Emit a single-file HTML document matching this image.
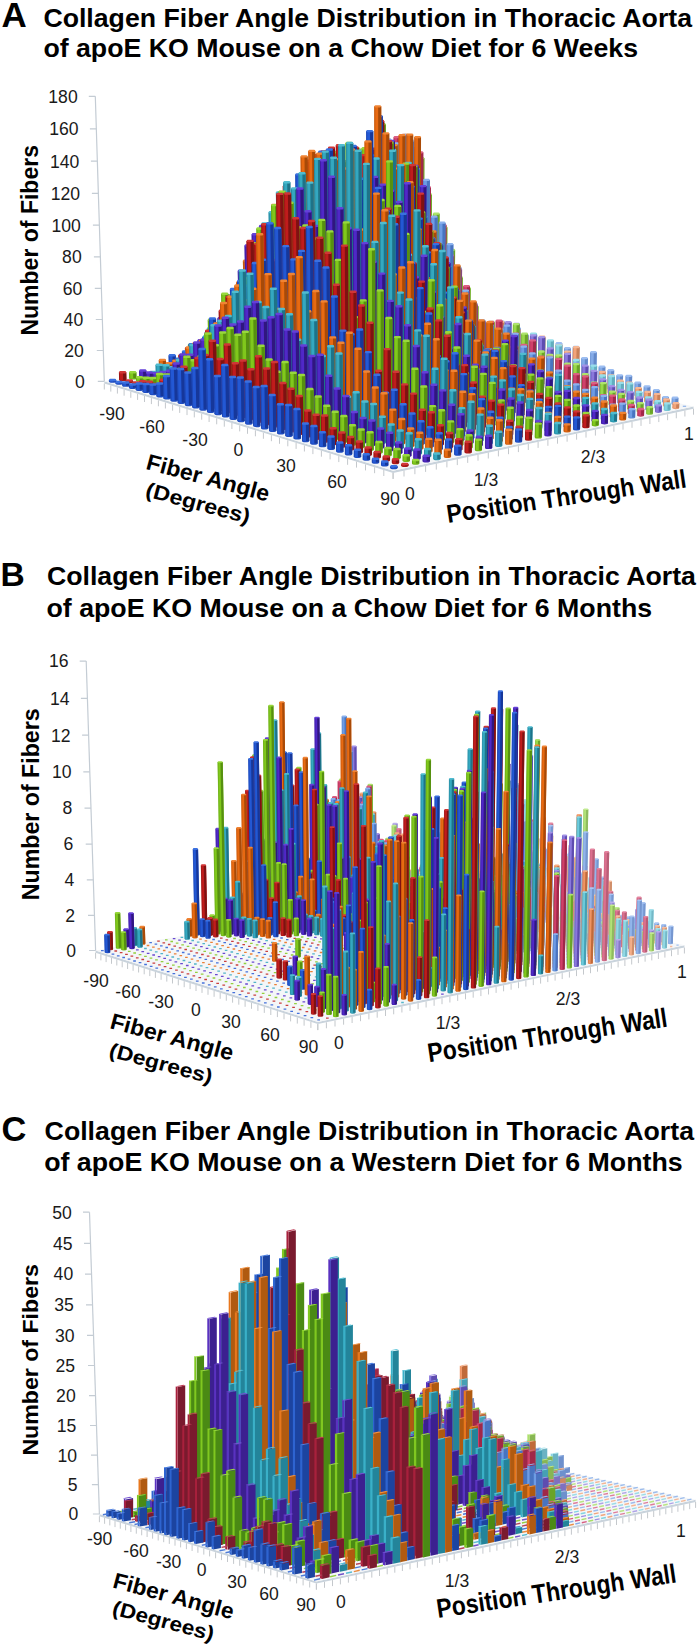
<!DOCTYPE html><html><head><meta charset="utf-8"><style>html,body{margin:0;padding:0;background:#fff;overflow:hidden}svg{display:block;font-family:"Liberation Sans",sans-serif}</style></head><body><svg width="700" height="1647" viewBox="0 0 700 1647"><text x="1.4" y="27.0" font-size="34.96" font-weight="bold">A</text><text x="43.4" y="27.2" font-size="25.27" font-weight="bold" textLength="648.6" lengthAdjust="spacingAndGlyphs">Collagen Fiber Angle Distribution in Thoracic Aorta</text><text x="43.4" y="57.0" font-size="25.80" font-weight="bold" textLength="594.6" lengthAdjust="spacingAndGlyphs">of apoE KO Mouse on a Chow Diet for 6 Weeks</text><text x="0.4" y="586.3" font-size="33.60" font-weight="bold">B</text><text x="46.9" y="585.3" font-size="25.27" font-weight="bold" textLength="649.0" lengthAdjust="spacingAndGlyphs">Collagen Fiber Angle Distribution in Thoracic Aorta</text><text x="46.5" y="616.5" font-size="25.80" font-weight="bold" textLength="605.6" lengthAdjust="spacingAndGlyphs">of apoE KO Mouse on a Chow Diet for 6 Months</text><text x="1.4" y="1140.8" font-size="34.43" font-weight="bold">C</text><text x="44.6" y="1140.4" font-size="25.27" font-weight="bold" textLength="649.4" lengthAdjust="spacingAndGlyphs">Collagen Fiber Angle Distribution in Thoracic Aorta</text><text x="44.2" y="1171.0" font-size="25.80" font-weight="bold" textLength="638.4" lengthAdjust="spacingAndGlyphs">of apoE KO Mouse on a Western Diet for 6 Months</text><text x="38.5" y="335.6" font-size="24.19" font-weight="bold" textLength="190.6" lengthAdjust="spacingAndGlyphs" transform="rotate(-90.00 38.5 335.6)">Number of Fibers</text><text x="39.5" y="900.2" font-size="24.17" font-weight="bold" textLength="191.8" lengthAdjust="spacingAndGlyphs" transform="rotate(-90.00 39.5 900.2)">Number of Fibers</text><text x="38.5" y="1455.6" font-size="21.98" font-weight="bold" textLength="191.5" lengthAdjust="spacingAndGlyphs" transform="rotate(-90.00 38.5 1455.6)">Number of Fibers</text><text x="145.1" y="468.8" font-size="22.47" font-weight="bold" textLength="126.4" lengthAdjust="spacingAndGlyphs" transform="rotate(15.00 145.1 468.8)">Fiber Angle</text><text x="144.5" y="496.1" font-size="20.67" font-weight="bold" textLength="107.2" lengthAdjust="spacingAndGlyphs" transform="rotate(15.00 144.5 496.1)">(Degrees)</text><text x="448.0" y="523.0" font-size="25.75" font-weight="bold" textLength="242.0" lengthAdjust="spacingAndGlyphs" transform="rotate(-8.50 448.0 523.0)">Position Through Wall</text><text x="108.9" y="1027.9" font-size="22.42" font-weight="bold" textLength="126.6" lengthAdjust="spacingAndGlyphs" transform="rotate(15.00 108.9 1027.9)">Fiber Angle</text><text x="108.1" y="1056.3" font-size="20.14" font-weight="bold" textLength="106.0" lengthAdjust="spacingAndGlyphs" transform="rotate(15.00 108.1 1056.3)">(Degrees)</text><text x="429.0" y="1062.3" font-size="26.86" font-weight="bold" textLength="242.0" lengthAdjust="spacingAndGlyphs" transform="rotate(-8.50 429.0 1062.3)">Position Through Wall</text><text x="111.8" y="1587.2" font-size="22.22" font-weight="bold" textLength="124.1" lengthAdjust="spacingAndGlyphs" transform="rotate(15.00 111.8 1587.2)">Fiber Angle</text><text x="111.3" y="1614.0" font-size="20.33" font-weight="bold" textLength="104.3" lengthAdjust="spacingAndGlyphs" transform="rotate(15.00 111.3 1614.0)">(Degrees)</text><text x="438.0" y="1618.0" font-size="26.74" font-weight="bold" textLength="242.0" lengthAdjust="spacingAndGlyphs" transform="rotate(-8.50 438.0 1618.0)">Position Through Wall</text>
<path d="M104.3 381.3L393.1 470.7L693.5 406.5L693.5 408.7L393.1 472.9L104.3 383.5z" fill="#c9d3dc"/>
<path d="M104.3 381.3L393.1 470.7L693.5 406.5L389.4 335.6z" fill="#f4f6f8"/>
<path d="M104.3 383.5v6M110.8 385.6v6M117.4 387.6v6M124.1 389.7v6M130.8 391.8v6M137.6 393.9v6M144.5 396v6M151.4 398.1v6M158.4 400.3v6M165.4 402.5v6M172.6 404.7v6M179.7 406.9v6M187 409.1v6M194.3 411.4v6M201.7 413.7v6M209.1 416v6M216.7 418.3v6M224.3 420.7v6M231.9 423v6M239.7 425.4v6M247.5 427.8v6M255.4 430.3v6M263.4 432.8v6M271.4 435.2v6M279.5 437.8v6M287.8 440.3v6M296.1 442.9v6M304.4 445.5v6M312.9 448.1v6M321.4 450.7v6M330.1 453.4v6M338.8 456.1v6M347.6 458.8v6M356.5 461.6v6M365.5 464.4v6M374.6 467.2v6M383.8 470v6M393.1 472.9v6M393.1 472.9v6M404 470.5v6M414.9 468.2v6M425.6 465.9v6M436.3 463.6v6M446.9 461.4v6M457.3 459.1v6M467.7 456.9v6M478 454.7v6M488.3 452.5v6M498.4 450.4v6M508.5 448.2v6M518.4 446.1v6M528.3 444v6M538.1 441.9v6M547.9 439.8v6M557.5 437.7v6M567.1 435.7v6M576.6 433.7v6M586 431.6v6M595.4 429.6v6M604.6 427.7v6M613.9 425.7v6M623 423.7v6M632 421.8v6M641 419.9v6M649.9 418v6M658.8 416.1v6M667.6 414.2v6M676.3 412.3v6M684.9 410.5v6M693.5 408.7v6" stroke="#c4c8cc" stroke-width="1" fill="none"/>
<path transform="scale(1 0.3400)" stroke="#789fdd" stroke-width="6.6" stroke-linecap="round" d="M388.8 991.3h0M395.8 996.2h0M403 1001.1h0M410.1 1006h0M417.4 1011h0M424.7 1016h0M432 1021.1h0M439.4 1026.2h0M446.9 1031.3h0M454.4 1036.5h0M462 1041.8h0M469.7 1047h0M477.4 1052.3h0M485.2 1057.7h0M493 1063.1h0M501 1068.6h0M509 1074.1h0M517 1079.6h0M525.1 1085.2h0M533.3 1090.9h0M541.6 1096.5h0M550 1102.3h0M558.4 1108.1h0M566.9 1113.9h0M575.4 1119.8h0M584.1 1125.8h0M592.8 1131.8h0M601.6 1137.8h0M610.5 1143.9h0M619.4 1150.1h0M628.4 1156.3h0M637.6 1162.6h0M646.8 1168.9h0M656.1 1175.3h0M665.4 1181.8h0M674.9 1188.3h0"/>
<path stroke="#84abe8" stroke-width="6.6" d="M388.8 318.9l0 18.1M395.9 295.1l-0 43.6M403.1 236.7l-.1 103.6M410.5 163.9l-.4 178.1M417.9 172.2l-.5 171.5M425.2 199.7l-.5 145.7M432.5 239l-.5 108.2M440 244.7l-.5 104.2M447.4 263.6l-.5 87M454.9 287l-.5 65.4M462.4 304.7l-.4 49.5M470 321l-.3 35M477.6 338.8l-.2 19M485.3 349.3l-.1 10.3M493.2 348.2l-.1 13.3M501.5 321.7l-.5 41.6M509.4 333.9l-.4 31.3M517.6 328.2l-.5 38.9M525.6 335.9l-.5 33M533.9 334.7l-.6 36.2M542.2 338l-.6 34.8M550.5 341.3l-.6 33.4M559 343.2l-.6 33.6M567.4 348.1l-.6 30.6M576.1 346.9l-.7 33.9M584.6 358.1l-.5 24.7M593.5 352.2l-.7 32.6M602 366.6l-.5 20.2M610.9 370.2l-.5 18.8M619.8 375.3l-.4 15.7M628.9 375.8l-.5 17.3M637.9 382.6l-.3 12.7M647.1 386.3l-.3 11.1M656.3 390l-.3 9.6M665.6 397l-.1 4.8M675.1 397.6l-.2 6.4"/>
<path stroke="#6389c9" stroke-width="3" d="M390.6 318.9l0 18.1M397.7 295.1l-0 43.6M404.9 236.7l-.1 103.6M412.3 163.9l-.4 178.1M419.7 172.2l-.5 171.5M427 199.7l-.5 145.7M434.3 239l-.5 108.2M441.8 244.7l-.5 104.2M449.2 263.6l-.5 87M456.7 287l-.5 65.4M464.2 304.7l-.4 49.5M471.8 321l-.3 35M479.4 338.8l-.2 19M487.1 349.3l-.1 10.3M495 348.2l-.1 13.3M503.3 321.7l-.5 41.6M511.2 333.9l-.4 31.3M519.4 328.2l-.5 38.9M527.4 335.9l-.5 33M535.7 334.7l-.6 36.2M544 338l-.6 34.8M552.3 341.3l-.6 33.4M560.8 343.2l-.6 33.6M569.3 348.1l-.6 30.6M577.9 346.9l-.7 33.9M586.4 358.1l-.5 24.7M595.3 352.2l-.7 32.6M603.9 366.6l-.5 20.2M612.7 370.2l-.5 18.8M621.6 375.3l-.4 15.7M630.7 375.8l-.5 17.3M639.7 382.6l-.3 12.7M648.9 386.3l-.3 11.1M658.1 390l-.3 9.6M667.4 397l-.1 4.8M676.9 397.6l-.2 6.4"/>
<path stroke="#7298d7" stroke-width=".9" d="M385.9 318.9l0 18.1M393 295.1l-0 43.6M400.3 236.7l-.1 103.6M407.7 163.9l-.4 178.1M415 172.2l-.5 171.5M422.4 199.7l-.5 145.7M429.7 239l-.5 108.2M437.1 244.7l-.5 104.2M444.6 263.6l-.5 87M452 287l-.5 65.4M459.6 304.7l-.4 49.5M467.1 321l-.3 35M474.8 338.8l-.2 19M482.5 349.3l-.1 10.3M490.4 348.2l-.1 13.3M498.6 321.7l-.5 41.6M506.5 333.9l-.4 31.3M514.7 328.2l-.5 38.9M522.8 335.9l-.5 33M531.1 334.7l-.6 36.2M539.4 338l-.6 34.8M547.7 341.3l-.6 33.4M556.2 343.2l-.6 33.6M564.6 348.1l-.6 30.6M573.3 346.9l-.7 33.9M581.8 358.1l-.5 24.7M590.7 352.2l-.7 32.6M599.2 366.6l-.5 20.2M608.1 370.2l-.5 18.8M617 375.3l-.4 15.7M626.1 375.8l-.5 17.3M635.1 382.6l-.3 12.7M644.2 386.3l-.3 11.1M653.5 390l-.3 9.6M662.7 397l-.1 4.8M672.3 397.6l-.2 6.4"/>
<path stroke="#9dbef1" stroke-width="2.2" stroke-linecap="round" d="M386.7 318.9h4.1M393.8 295.1h4.1M401 236.7h4.1M408.4 163.9h4.1M415.8 172.2h4.1M423.1 199.7h4.1M430.4 239h4.1M437.9 244.7h4.1M445.3 263.6h4.1M452.8 287h4.1M460.3 304.7h4.1M467.9 321h4.1M475.5 338.8h4.1M483.2 349.3h4.1M491.1 348.2h4.1M499.4 321.7h4.1M507.3 333.9h4.1M515.5 328.2h4.1M523.6 335.9h4.1M531.8 334.7h4.1M540.1 338h4.1M548.5 341.3h4.1M556.9 343.2h4.1M565.4 348.1h4.1M574 346.9h4.1M582.5 358.1h4.1M591.4 352.2h4.1M600 366.6h4.1M608.8 370.2h4.1M617.7 375.3h4.1M626.8 375.8h4.1M635.8 382.6h4.1M645 386.3h4.1M654.3 390h4.1M663.5 397h4.1M673 397.6h4.1"/>
<path stroke="#96b8eb" stroke-width="1.3" d="M682.8 406.3h3.3"/>
<path transform="scale(1 0.3400)" stroke="#e4976e" stroke-width="6.6" stroke-linecap="round" d="M380.4 995.3h0M387.5 1000.2h0M394.6 1005.1h0M401.8 1010.1h0M409 1015.1h0M416.3 1020.1h0M423.6 1025.2h0M431 1030.4h0M438.5 1035.5h0M446 1040.8h0M453.6 1046h0M461.2 1051.3h0M468.9 1056.7h0M476.7 1062.1h0M484.6 1067.5h0M492.5 1073h0M500.5 1078.6h0M508.5 1084.2h0M516.6 1089.8h0M524.8 1095.5h0M533.1 1101.2h0M541.4 1107h0M549.8 1112.8h0M558.3 1118.7h0M566.9 1124.7h0M575.5 1130.6h0M584.2 1136.7h0M593 1142.8h0M601.9 1148.9h0M610.8 1155.2h0M619.9 1161.4h0M629 1167.8h0M638.2 1174.1h0M647.5 1180.6h0M656.8 1187.1h0M666.3 1193.6h0M675.8 1200.3h0"/>
<path stroke="#f2a47a" stroke-width="6.6" d="M380.4 320.2l0 18.2M387.5 310.5l0 29.6M394.6 276.5l-0 65.2M401.9 210l-.2 133.4M409.3 164.2l-.4 180.9M416.7 191.8l-.4 155M424.2 192.9l-.6 155.6M431.5 238.4l-.5 111.9M439 244.1l-.6 107.9M446.5 261.8l-.6 92.1M454.1 283.9l-.5 71.8M461.6 303.2l-.4 54.3M469.3 319.6l-.3 39.7M477 337.5l-.2 23.6M484.7 349.7l-.1 13.3M492.7 348.5l-.2 16.3M501 321.8l-.5 44.9M508.9 337.1l-.4 31.5M517.2 329.8l-.6 40.7M525.4 336.1l-.5 36.3M533.7 334.9l-.6 39.5M542.1 336.7l-.7 39.7M550.5 341.6l-.6 36.8M559 345l-.6 35.4M567.5 351.5l-.6 30.9M576.3 347.2l-.8 37.2M584.6 367.8l-.4 18.7M593.5 368.2l-.4 20.3M602.3 371.8l-.4 18.8M611.2 375.4l-.4 17.3M620.2 380.7l-.4 14.2M629.3 382.7l-.4 14.3M638.5 388l-.3 11.2M647.7 391.8l-.3 9.6M657.1 394l-.3 9.7M666.5 399.4l-.2 6.5M676 403.2l-.2 4.9"/>
<path stroke="#c98058" stroke-width="3" d="M382.2 320.2l0 18.2M389.3 310.5l0 29.6M396.4 276.5l-0 65.2M403.7 210l-.2 133.4M411.2 164.2l-.4 180.9M418.5 191.8l-.4 155M426 192.9l-.6 155.6M433.3 238.4l-.5 111.9M440.8 244.1l-.6 107.9M448.4 261.8l-.6 92.1M455.9 283.9l-.5 71.8M463.5 303.2l-.4 54.3M471.1 319.6l-.3 39.7M478.8 337.5l-.2 23.6M486.5 349.7l-.1 13.3M494.5 348.5l-.2 16.3M502.8 321.8l-.5 44.9M510.7 337.1l-.4 31.5M519 329.8l-.6 40.7M527.2 336.1l-.5 36.3M535.5 334.9l-.6 39.5M543.9 336.7l-.7 39.7M552.3 341.6l-.6 36.8M560.8 345l-.6 35.4M569.3 351.5l-.6 30.9M578.1 347.2l-.8 37.2M586.4 367.8l-.4 18.7M595.3 368.2l-.4 20.3M604.1 371.8l-.4 18.8M613.1 375.4l-.4 17.3M622 380.7l-.4 14.2M631.2 382.7l-.4 14.3M640.3 388l-.3 11.2M649.5 391.8l-.3 9.6M658.9 394l-.3 9.7M668.3 399.4l-.2 6.5M677.8 403.2l-.2 4.9"/>
<path stroke="#db9067" stroke-width=".9" d="M377.6 320.2l0 18.2M384.6 310.5l0 29.6M391.8 276.5l-0 65.2M399.1 210l-.2 133.4M406.5 164.2l-.4 180.9M413.9 191.8l-.4 155M421.3 192.9l-.6 155.6M428.7 238.4l-.5 111.9M436.2 244.1l-.6 107.9M443.7 261.8l-.6 92.1M451.2 283.9l-.5 71.8M458.8 303.2l-.4 54.3M466.4 319.6l-.3 39.7M474.1 337.5l-.2 23.6M481.9 349.7l-.1 13.3M489.8 348.5l-.2 16.3M498.2 321.8l-.5 44.9M506.1 337.1l-.4 31.5M514.4 329.8l-.6 40.7M522.5 336.1l-.5 36.3M530.9 334.9l-.6 39.5M539.2 336.7l-.7 39.7M547.6 341.6l-.6 36.8M556.1 345l-.6 35.4M564.6 351.5l-.6 30.9M573.4 347.2l-.8 37.2M581.8 367.8l-.4 18.7M590.6 368.2l-.4 20.3M599.5 371.8l-.4 18.8M608.4 375.4l-.4 17.3M617.4 380.7l-.4 14.2M626.5 382.7l-.4 14.3M635.6 388l-.3 11.2M644.9 391.8l-.3 9.6M654.3 394l-.3 9.7M663.6 399.4l-.2 6.5M673.1 403.2l-.2 4.9"/>
<path stroke="#f7b793" stroke-width="2.2" stroke-linecap="round" d="M378.3 320.2h4.2M385.4 310.5h4.2M392.5 276.5h4.2M399.8 210h4.2M407.3 164.2h4.2M414.6 191.8h4.2M422.1 192.9h4.2M429.4 238.4h4.2M437 244.1h4.2M444.5 261.8h4.2M452 283.9h4.2M459.6 303.2h4.2M467.2 319.6h4.2M474.9 337.5h4.2M482.6 349.7h4.2M490.6 348.5h4.2M498.9 321.8h4.2M506.8 337.1h4.2M515.1 329.8h4.2M523.3 336.1h4.2M531.6 334.9h4.2M540 336.7h4.2M548.4 341.6h4.2M556.9 345h4.2M565.4 351.5h4.2M574.2 347.2h4.2M582.5 367.8h4.2M591.4 368.2h4.2M600.2 371.8h4.2M609.2 375.4h4.2M618.1 380.7h4.2M627.3 382.7h4.2M636.4 388h4.2M645.6 391.8h4.2M655 394h4.2M664.4 399.4h4.2M673.9 403.2h4.2"/>
<path transform="scale(1 0.3400)" stroke="#77c7d5" stroke-width="6.6" stroke-linecap="round" d="M372.1 999.3h0M379.1 1004.2h0M386.2 1009.1h0M393.3 1014.1h0M400.6 1019.2h0M407.8 1024.3h0M415.2 1029.4h0M422.5 1034.6h0M430 1039.8h0M437.5 1045h0M445.1 1050.3h0M452.7 1055.7h0M460.4 1061.1h0M468.2 1066.5h0M476 1072h0M484 1077.5h0M491.9 1083.1h0M500 1088.7h0M508.1 1094.4h0M516.3 1100.1h0M524.5 1105.9h0M532.8 1111.7h0M541.2 1117.6h0M549.7 1123.5h0M558.3 1129.5h0M566.9 1135.6h0M575.6 1141.6h0M584.4 1147.8h0M593.2 1154h0M602.2 1160.3h0M611.2 1166.6h0M620.3 1172.9h0M629.5 1179.4h0M638.8 1185.9h0M648.2 1192.4h0M657.6 1199h0M667.1 1205.7h0"/>
<path stroke="#82d4e1" stroke-width="6.6" d="M372 328.5l0 11.2M379.1 323.1l0 18.3M386.2 297.7l0 45.4M393.4 227l-0 117.8M400.7 187.2l-.2 159.3M408.2 163.1l-.3 185.2M415.6 179l-.5 171M423.1 186l-.6 165.7M430.5 234.9l-.5 118.7M438.1 243.6l-.6 111.7M445.7 258.4l-.6 98.7M453.3 282.2l-.5 76.8M460.9 301.6l-.4 59.2M468.6 318.1l-.4 44.5M476.3 334.8l-.3 29.7M484.1 350l-.2 16.4M492.1 348.8l-.2 19.5M500.5 329.5l-.5 40.7M508.5 337.3l-.4 34.8M516.8 331.5l-.6 42.5M525.1 334.8l-.6 41.2M533.5 333.6l-.7 44.4M541.9 338.5l-.7 41.5M550.4 340.3l-.7 41.7M559 345.3l-.7 38.8M567.4 361.2l-.5 24.9M576.2 360l-.6 28.1M584.9 366.7l-.5 23.5M593.8 365.6l-.6 26.8M602.6 375.5l-.4 19M611.7 376l-.5 20.6M620.7 382.9l-.4 15.9M630 383.4l-.5 17.6M639.1 391.9l-.3 11.3M648.4 397.3l-.2 8.1M657.8 401.2l-.2 6.5M667.3 403.4l-.2 6.5"/>
<path stroke="#62aebf" stroke-width="3" d="M373.9 328.5l0 11.2M380.9 323.1l0 18.3M388 297.7l0 45.4M395.2 227l-0 117.8M402.5 187.2l-.2 159.3M410 163.1l-.3 185.2M417.4 179l-.5 171M424.9 186l-.6 165.7M432.3 234.9l-.5 118.7M439.9 243.6l-.6 111.7M447.5 258.4l-.6 98.7M455.1 282.2l-.5 76.8M462.7 301.6l-.4 59.2M470.4 318.1l-.4 44.5M478.1 334.8l-.3 29.7M485.9 350l-.2 16.4M494 348.8l-.2 19.5M502.3 329.5l-.5 40.7M510.3 337.3l-.4 34.8M518.7 331.5l-.6 42.5M526.9 334.8l-.6 41.2M535.4 333.6l-.7 44.4M543.7 338.5l-.7 41.5M552.3 340.3l-.7 41.7M560.8 345.3l-.7 38.8M569.2 361.2l-.5 24.9M578 360l-.6 28.1M586.7 366.7l-.5 23.5M595.7 365.6l-.6 26.8M604.4 375.5l-.4 19M613.5 376l-.5 20.6M622.5 382.9l-.4 15.9M631.8 383.4l-.5 17.6M640.9 391.9l-.3 11.3M650.2 397.3l-.2 8.1M659.6 401.2l-.2 6.5M669.2 403.4l-.2 6.5"/>
<path stroke="#70bfce" stroke-width=".9" d="M369.2 328.5l0 11.2M376.2 323.1l0 18.3M383.3 297.7l0 45.4M390.5 227l-0 117.8M397.9 187.2l-.2 159.3M405.3 163.1l-.3 185.2M412.8 179l-.5 171M420.3 186l-.6 165.7M427.7 234.9l-.5 118.7M435.2 243.6l-.6 111.7M442.8 258.4l-.6 98.7M450.4 282.2l-.5 76.8M458 301.6l-.4 59.2M465.7 318.1l-.4 44.5M473.5 334.8l-.3 29.7M481.3 350l-.2 16.4M489.3 348.8l-.2 19.5M497.6 329.5l-.5 40.7M505.7 337.3l-.4 34.8M514 331.5l-.6 42.5M522.3 334.8l-.6 41.2M530.7 333.6l-.7 44.4M539.1 338.5l-.7 41.5M547.6 340.3l-.7 41.7M556.1 345.3l-.7 38.8M564.5 361.2l-.5 24.9M573.3 360l-.6 28.1M582 366.7l-.5 23.5M591 365.6l-.6 26.8M599.8 375.5l-.4 19M608.9 376l-.5 20.6M617.9 382.9l-.4 15.9M627.1 383.4l-.5 17.6M636.2 391.9l-.3 11.3M645.5 397.3l-.2 8.1M654.9 401.2l-.2 6.5M664.5 403.4l-.2 6.5"/>
<path stroke="#9adeea" stroke-width="2.3" stroke-linecap="round" d="M370 328.5h4.2M377 323.1h4.2M384.1 297.7h4.2M391.3 227h4.2M398.6 187.2h4.2M406.1 163.1h4.2M413.5 179h4.2M421 186h4.2M428.4 234.9h4.2M436 243.6h4.2M443.6 258.4h4.2M451.2 282.2h4.2M458.8 301.6h4.2M466.5 318.1h4.2M474.2 334.8h4.2M482 350h4.2M490.1 348.8h4.2M498.4 329.5h4.2M506.4 337.3h4.2M514.8 331.5h4.2M523 334.8h4.2M531.4 333.6h4.2M539.8 338.5h4.2M548.4 340.3h4.2M556.9 345.3h4.2M565.3 361.2h4.2M574.1 360h4.2M582.8 366.7h4.2M591.7 365.6h4.2M600.5 375.5h4.2M609.6 376h4.2M618.6 382.9h4.2M627.9 383.4h4.2M637 391.9h4.2M646.3 397.3h4.2M655.7 401.2h4.2M665.3 403.4h4.2"/>
<path transform="scale(1 0.3400)" stroke="#7b69cd" stroke-width="6.6" stroke-linecap="round" d="M363.6 1003.3h0M370.6 1008.2h0M377.7 1013.2h0M384.9 1018.2h0M392.1 1023.3h0M399.3 1028.4h0M406.6 1033.6h0M414 1038.8h0M421.5 1044.1h0M429 1049.4h0M436.5 1054.7h0M444.2 1060.1h0M451.9 1065.5h0M459.6 1071h0M467.5 1076.5h0M475.4 1082.1h0M483.3 1087.7h0M491.4 1093.4h0M499.5 1099.1h0M507.6 1104.8h0M515.9 1110.6h0M524.2 1116.5h0M532.6 1122.4h0M541.1 1128.4h0M549.6 1134.4h0M558.2 1140.5h0M566.9 1146.6h0M575.7 1152.8h0M584.5 1159.1h0M593.5 1165.4h0M602.5 1171.7h0M611.6 1178.2h0M620.8 1184.6h0M630.1 1191.2h0M639.4 1197.8h0M648.9 1204.4h0M658.4 1211.2h0"/>
<path stroke="#8a78dc" stroke-width="6.6" d="M363.6 332.7l0 8.4M370.6 328.7l0 14.1M377.7 313.2l0 31.3M384.8 278.8l0 67.4M392.1 180.7l-0 167.2M399.5 165.4l-.2 184.3M407 163.4l-.3 188M414.5 165.9l-.5 187.3M421.9 224l-.4 131M429.5 226.8l-.5 130M437.1 243.1l-.6 115.5M444.8 256.5l-.6 104M452.4 280.4l-.5 81.8M460.1 300l-.5 64.1M467.9 316.7l-.4 49.3M475.7 334.9l-.3 33M483.5 350.3l-.2 19.5M491.6 349.1l-.2 22.6M499.8 347.9l-.3 25.8M508.3 322.2l-.7 53.4M516.6 324l-.7 53.6M524.8 335l-.6 44.6M533.3 335.3l-.7 46.3M541.8 337.1l-.8 46.5M550.2 348.4l-.6 37.3M558.8 356.5l-.6 31.2M567.6 353.8l-.7 36.1M576.3 363.6l-.6 28.3M585.1 365.6l-.6 28.5M594 370.8l-.6 25.4M602.9 379.3l-.4 19.1M611.9 386.2l-.3 14.4M621.1 389.9l-.3 12.9M630.4 392.1l-.3 12.9M639.7 397.5l-.3 9.7M649.1 399.7l-.3 9.8M658.6 405.3l-.2 6.5"/>
<path stroke="#5e4cb0" stroke-width="3" d="M365.4 332.7l0 8.4M372.4 328.7l0 14.1M379.5 313.2l0 31.3M386.7 278.8l0 67.4M393.9 180.7l-0 167.2M401.3 165.4l-.2 184.3M408.8 163.4l-.3 188M416.3 165.9l-.5 187.3M423.7 224l-.4 131M431.3 226.8l-.5 130M438.9 243.1l-.6 115.5M446.6 256.5l-.6 104M454.2 280.4l-.5 81.8M461.9 300l-.5 64.1M469.7 316.7l-.4 49.3M477.5 334.9l-.3 33M485.3 350.3l-.2 19.5M493.4 349.1l-.2 22.6M501.6 347.9l-.3 25.8M510.1 322.2l-.7 53.4M518.4 324l-.7 53.6M526.7 335l-.6 44.6M535.1 335.3l-.7 46.3M543.6 337.1l-.8 46.5M552.1 348.4l-.6 37.3M560.6 356.5l-.6 31.2M569.4 353.8l-.7 36.1M578.1 363.6l-.6 28.3M587 365.6l-.6 28.5M595.9 370.8l-.6 25.4M604.8 379.3l-.4 19.1M613.8 386.2l-.3 14.4M622.9 389.9l-.3 12.9M632.2 392.1l-.3 12.9M641.5 397.5l-.3 9.7M651 399.7l-.3 9.8M660.4 405.3l-.2 6.5"/>
<path stroke="#7260c4" stroke-width=".9" d="M360.7 332.7l0 8.4M367.8 328.7l0 14.1M374.8 313.2l0 31.3M382 278.8l0 67.4M389.2 180.7l-0 167.2M396.6 165.4l-.2 184.3M404.1 163.4l-.3 188M411.6 165.9l-.5 187.3M419 224l-.4 131M426.7 226.8l-.5 130M434.3 243.1l-.6 115.5M441.9 256.5l-.6 104M449.6 280.4l-.5 81.8M457.3 300l-.5 64.1M465 316.7l-.4 49.3M472.8 334.9l-.3 33M480.7 350.3l-.2 19.5M488.7 349.1l-.2 22.6M496.9 347.9l-.3 25.8M505.5 322.2l-.7 53.4M513.7 324l-.7 53.6M522 335l-.6 44.6M530.4 335.3l-.7 46.3M539 337.1l-.8 46.5M547.4 348.4l-.6 37.3M555.9 356.5l-.6 31.2M564.7 353.8l-.7 36.1M573.4 363.6l-.6 28.3M582.3 365.6l-.6 28.5M591.2 370.8l-.6 25.4M600.1 379.3l-.4 19.1M609.1 386.2l-.3 14.4M618.2 389.9l-.3 12.9M627.5 392.1l-.3 12.9M636.8 397.5l-.3 9.7M646.3 399.7l-.3 9.8M655.7 405.3l-.2 6.5"/>
<path stroke="#a292e6" stroke-width="2.3" stroke-linecap="round" d="M361.5 332.7h4.2M368.5 328.7h4.2M375.6 313.2h4.2M382.7 278.8h4.2M390 180.7h4.2M397.4 165.4h4.2M404.9 163.4h4.2M412.4 165.9h4.2M419.8 224h4.2M427.4 226.8h4.2M435 243.1h4.2M442.7 256.5h4.2M450.3 280.4h4.2M458 300h4.2M465.8 316.7h4.2M473.6 334.9h4.2M481.4 350.3h4.2M489.5 349.1h4.2M497.7 347.9h4.2M506.2 322.2h4.2M514.5 324h4.2M522.7 335h4.2M531.2 335.3h4.2M539.7 337.1h4.2M548.1 348.4h4.2M556.7 356.5h4.2M565.5 353.8h4.2M574.2 363.6h4.2M583 365.6h4.2M591.9 370.8h4.2M600.8 379.3h4.2M609.9 386.2h4.2M619 389.9h4.2M628.3 392.1h4.2M637.6 397.5h4.2M647 399.7h4.2M656.5 405.3h4.2"/>
<path transform="scale(1 0.3400)" stroke="#88c63e" stroke-width="6.7" stroke-linecap="round" d="M355.1 1007.3h0M362.1 1012.3h0M369.2 1017.3h0M376.3 1022.4h0M383.5 1027.5h0M390.8 1032.6h0M398.1 1037.8h0M405.5 1043.1h0M412.9 1048.4h0M420.4 1053.7h0M427.9 1059.1h0M435.6 1064.5h0M443.2 1070h0M451 1075.5h0M458.8 1081h0M466.7 1086.6h0M474.7 1092.3h0M482.7 1098h0M490.8 1103.7h0M498.9 1109.6h0M507.2 1115.4h0M515.5 1121.3h0M523.9 1127.3h0M532.3 1133.3h0M540.9 1139.4h0M549.5 1145.5h0M558.2 1151.7h0M566.9 1157.9h0M575.8 1164.2h0M584.7 1170.5h0M593.7 1177h0M602.8 1183.4h0M612 1190h0M621.3 1196.5h0M630.6 1203.2h0M640.1 1209.9h0M649.6 1216.7h0"/>
<path stroke="#98d84a" stroke-width="6.7" d="M355.1 332.6l0 9.9M362.1 330l0 14.2M369.2 324.5l.1 21.4M376.3 297.4l.1 50.2M383.4 243.5l.1 105.8M390.8 202l0 149.1M398.2 164.2l-.1 188.7M405.8 134.9l-.3 219.7M413.3 169.3l-.4 187.2M421 158.1l-.6 200.1M428.6 194.2l-.7 165.8M436.3 213.7l-.7 148.2M444 227.2l-.8 136.6M451.8 249.8l-.8 115.8M459.5 277.2l-.7 90.4M467.4 287.9l-.7 81.6M475.2 306.3l-.6 65.1M483.2 323.2l-.5 50.1M491.4 321.9l-.6 53.4M499.5 329.8l-.6 47.4M507.6 347l-.4 32.2M516.3 324.1l-.8 57.2M524.6 333.7l-.7 49.6M533 341.8l-.7 43.6M541.4 351.5l-.6 35.9M550.1 355l-.6 34.5M558.8 355.4l-.7 36.2M567.5 363.7l-.6 30M576.4 364.1l-.6 31.7M585.2 374.1l-.5 23.9M594.1 382.6l-.4 17.6M603.3 383.1l-.4 19.3M612.3 391.7l-.3 12.9M621.6 393.9l-.3 13M630.8 401l-.2 8.1M640.3 403.2l-.2 8.2M649.8 407.1l-.2 6.6"/>
<path stroke="#6aa428" stroke-width="3" d="M356.9 332.6l0 9.9M363.9 330l0 14.2M371 324.5l.1 21.4M378.1 297.4l.1 50.2M385.3 243.5l.1 105.8M392.6 202l0 149.1M400.1 164.2l-.1 188.7M407.6 134.9l-.3 219.7M415.2 169.3l-.4 187.2M422.9 158.1l-.6 200.1M430.4 194.2l-.7 165.8M438.1 213.7l-.7 148.2M445.9 227.2l-.8 136.6M453.6 249.8l-.8 115.8M461.3 277.2l-.7 90.4M469.2 287.9l-.7 81.6M477.1 306.3l-.6 65.1M485 323.2l-.5 50.1M493.2 321.9l-.6 53.4M501.3 329.8l-.6 47.4M509.4 347l-.4 32.2M518.1 324.1l-.8 57.2M526.4 333.7l-.7 49.6M534.8 341.8l-.7 43.6M543.3 351.5l-.6 35.9M551.9 355l-.6 34.5M560.7 355.4l-.7 36.2M569.3 363.7l-.6 30M578.3 364.1l-.6 31.7M587 374.1l-.5 23.9M595.9 382.6l-.4 17.6M605.1 383.1l-.4 19.3M614.1 391.7l-.3 12.9M623.4 393.9l-.3 13M632.7 401l-.2 8.1M642.1 403.2l-.2 8.2M651.6 407.1l-.2 6.6"/>
<path stroke="#7fbb37" stroke-width=".9" d="M352.2 332.6l0 9.9M359.2 330l0 14.2M366.3 324.5l.1 21.4M373.4 297.4l.1 50.2M380.6 243.5l.1 105.8M387.9 202l0 149.1M395.4 164.2l-.1 188.7M402.9 134.9l-.3 219.7M410.5 169.3l-.4 187.2M418.2 158.1l-.6 200.1M425.7 194.2l-.7 165.8M433.4 213.7l-.7 148.2M441.2 227.2l-.8 136.6M448.9 249.8l-.8 115.8M456.6 277.2l-.7 90.4M464.5 287.9l-.7 81.6M472.4 306.3l-.6 65.1M480.3 323.2l-.5 50.1M488.5 321.9l-.6 53.4M496.6 329.8l-.6 47.4M504.7 347l-.4 32.2M513.4 324.1l-.8 57.2M521.7 333.7l-.7 49.6M530.1 341.8l-.7 43.6M538.6 351.5l-.6 35.9M547.2 355l-.6 34.5M556 355.4l-.7 36.2M564.6 363.7l-.6 30M573.5 364.1l-.6 31.7M582.3 374.1l-.5 23.9M591.2 382.6l-.4 17.6M600.4 383.1l-.4 19.3M609.4 391.7l-.3 12.9M618.7 393.9l-.3 13M628 401l-.2 8.1M637.4 403.2l-.2 8.2M646.9 407.1l-.2 6.6"/>
<path stroke="#aee46c" stroke-width="2.3" stroke-linecap="round" d="M353 332.6h4.2M360 330h4.2M367.1 324.5h4.2M374.2 297.4h4.2M381.3 243.5h4.2M388.7 202h4.2M396.1 164.2h4.2M403.7 134.9h4.2M411.2 169.3h4.2M418.9 158.1h4.2M426.5 194.2h4.2M434.2 213.7h4.2M441.9 227.2h4.2M449.7 249.8h4.2M457.4 277.2h4.2M465.3 287.9h4.2M473.1 306.3h4.2M481.1 323.2h4.2M489.3 321.9h4.2M497.4 329.8h4.2M505.5 347h4.2M514.2 324.1h4.2M522.5 333.7h4.2M530.9 341.8h4.2M539.3 351.5h4.2M548 355h4.2M556.7 355.4h4.2M565.4 363.7h4.2M574.3 364.1h4.2M583.1 374.1h4.2M592 382.6h4.2M601.2 383.1h4.2M610.2 391.7h4.2M619.5 393.9h4.2M628.7 401h4.2M638.2 403.2h4.2M647.7 407.1h4.2"/>
<path transform="scale(1 0.3400)" stroke="#bf385e" stroke-width="6.7" stroke-linecap="round" d="M346.6 1011.3h0M353.6 1016.4h0M360.6 1021.4h0M367.7 1026.5h0M374.9 1031.7h0M382.2 1036.9h0M389.5 1042.1h0M396.8 1047.4h0M404.2 1052.7h0M411.7 1058.1h0M419.3 1063.5h0M426.9 1068.9h0M434.6 1074.4h0M442.3 1080h0M450.1 1085.6h0M458 1091.2h0M465.9 1096.9h0M473.9 1102.7h0M482 1108.5h0M490.2 1114.3h0M498.4 1120.2h0M506.7 1126.2h0M515.1 1132.2h0M523.5 1138.2h0M532.1 1144.3h0M540.7 1150.5h0M549.3 1156.7h0M558.1 1163h0M566.9 1169.4h0M575.9 1175.8h0M584.9 1182.2h0M594 1188.7h0M603.1 1195.3h0M612.4 1201.9h0M621.7 1208.6h0M631.2 1215.4h0M640.7 1222.2h0"/>
<path stroke="#d0406a" stroke-width="6.7" d="M346.5 335.4l0 8.5M353.5 338.5l0 7.1M360.6 327.3l.1 20M367.7 323.2l.1 25.8M374.8 292.9l.1 57.9M382.1 240l.1 112.5M389.4 142.3l0 212M397 137.2l-.1 218.9M404.6 135l-.3 222.9M412.2 148.2l-.5 211.5M419.9 152.3l-.6 209.3M427.6 187.2l-.7 176.3M435.1 243.5l-.6 121.8M443.1 224.9l-.8 142.3M450.8 255.5l-.7 113.6M458.7 269.2l-.7 101.8M466.6 286.1l-.7 86.8M474.6 304.7l-.6 70.2M482.6 321.8l-.5 55.1M490.8 322l-.6 56.9M499.1 320.6l-.7 60.2M507.3 336.4l-.6 46.5M515.8 333.6l-.7 51.3M524.1 344.9l-.6 42.1M532.8 340.4l-.8 48.6M541.2 356.6l-.6 34.6M550 356.9l-.6 36.3M558.8 358.9l-.7 36.5M567.6 365.7l-.6 31.9M576.4 374.2l-.5 25.6M585.4 376.3l-.5 25.7M594.4 383.2l-.5 21M603.4 395.1l-.3 11.3M612.7 395.7l-.3 13M622 399.5l-.3 11.4M631.4 405l-.2 8.2M640.9 409l-.2 6.6"/>
<path stroke="#a02848" stroke-width="3" d="M348.4 335.4l0 8.5M355.4 338.5l0 7.1M362.4 327.3l.1 20M369.5 323.2l.1 25.8M376.7 292.9l.1 57.9M383.9 240l.1 112.5M391.3 142.3l0 212M398.8 137.2l-.1 218.9M406.4 135l-.3 222.9M414 148.2l-.5 211.5M421.8 152.3l-.6 209.3M429.4 187.2l-.7 176.3M437 243.5l-.6 121.8M444.9 224.9l-.8 142.3M452.7 255.5l-.7 113.6M460.6 269.2l-.7 101.8M468.5 286.1l-.7 86.8M476.4 304.7l-.6 70.2M484.4 321.8l-.5 55.1M492.6 322l-.6 56.9M501 320.6l-.7 60.2M509.1 336.4l-.6 46.5M517.6 333.6l-.7 51.3M526 344.9l-.6 42.1M534.6 340.4l-.8 48.6M543.1 356.6l-.6 34.6M551.8 356.9l-.6 36.3M560.6 358.9l-.7 36.5M569.4 365.7l-.6 31.9M578.2 374.2l-.5 25.6M587.3 376.3l-.5 25.7M596.3 383.2l-.5 21M605.2 395.1l-.3 11.3M614.5 395.7l-.3 13M623.9 399.5l-.3 11.4M633.2 405l-.2 8.2M642.7 409l-.2 6.6"/>
<path stroke="#b63357" stroke-width=".9" d="M343.6 335.4l0 8.5M350.7 338.5l0 7.1M357.7 327.3l.1 20M364.8 323.2l.1 25.8M371.9 292.9l.1 57.9M379.2 240l.1 112.5M386.5 142.3l0 212M394.1 137.2l-.1 218.9M401.7 135l-.3 222.9M409.3 148.2l-.5 211.5M417 152.3l-.6 209.3M424.7 187.2l-.7 176.3M432.3 243.5l-.6 121.8M440.2 224.9l-.8 142.3M448 255.5l-.7 113.6M455.8 269.2l-.7 101.8M463.8 286.1l-.7 86.8M471.7 304.7l-.6 70.2M479.7 321.8l-.5 55.1M487.9 322l-.6 56.9M496.2 320.6l-.7 60.2M504.4 336.4l-.6 46.5M512.9 333.6l-.7 51.3M521.3 344.9l-.6 42.1M529.9 340.4l-.8 48.6M538.3 356.6l-.6 34.6M547.1 356.9l-.6 36.3M555.9 358.9l-.7 36.5M564.7 365.7l-.6 31.9M573.5 374.2l-.5 25.6M582.5 376.3l-.5 25.7M591.5 383.2l-.5 21M600.5 395.1l-.3 11.3M609.8 395.7l-.3 13M619.1 399.5l-.3 11.4M628.5 405l-.2 8.2M638 409l-.2 6.6"/>
<path stroke="#dc5e82" stroke-width="2.3" stroke-linecap="round" d="M344.4 335.4h4.2M351.4 338.5h4.2M358.5 327.3h4.2M365.6 323.2h4.2M372.7 292.9h4.2M379.9 240h4.2M387.3 142.3h4.2M394.8 137.2h4.2M402.5 135h4.2M410.1 148.2h4.2M417.8 152.3h4.2M425.5 187.2h4.2M433 243.5h4.2M441 224.9h4.2M448.7 255.5h4.2M456.6 269.2h4.2M464.5 286.1h4.2M472.5 304.7h4.2M480.5 321.8h4.2M488.7 322h4.2M497 320.6h4.2M505.2 336.4h4.2M513.7 333.6h4.2M522 344.9h4.2M530.7 340.4h4.2M539.1 356.6h4.2M547.9 356.9h4.2M556.7 358.9h4.2M565.4 365.7h4.2M574.3 374.2h4.2M583.3 376.3h4.2M592.3 383.2h4.2M601.3 395.1h4.2M610.6 395.7h4.2M619.9 399.5h4.2M629.3 405h4.2M638.8 409h4.2"/>
<path transform="scale(1 0.3400)" stroke="#618ed7" stroke-width="6.7" stroke-linecap="round" d="M338 1015.4h0M344.9 1020.5h0M352 1025.6h0M359.1 1030.7h0M366.3 1035.9h0M373.5 1041.1h0M380.8 1046.4h0M388.1 1051.7h0M395.5 1057.1h0M403 1062.5h0M410.5 1067.9h0M418.1 1073.4h0M425.8 1078.9h0M433.5 1084.5h0M441.3 1090.2h0M449.2 1095.9h0M457.1 1101.6h0M465.1 1107.4h0M473.2 1113.2h0M481.4 1119.1h0M489.6 1125h0M497.9 1131h0M506.2 1137.1h0M514.7 1143.2h0M523.2 1149.4h0M531.8 1155.6h0M540.5 1161.8h0M549.2 1168.2h0M558 1174.6h0M567 1181h0M576 1187.5h0M585 1194.1h0M594.2 1200.7h0M603.5 1207.4h0M612.8 1214.1h0M622.2 1221h0M631.7 1227.8h0"/>
<path stroke="#6e9ce4" stroke-width="6.7" d="M337.9 332.4l.1 12.8M344.9 332.7l.1 14.3M351.9 330.1l.1 18.6M359 334.6l.1 15.8M366.1 305.8l.1 46.4M373.4 292.8l.1 61.2M380.6 232l.1 123.7M388.1 139.4l.1 218.1M395.6 143.4l-.1 216M403.3 135.1l-.3 226.1M411 140.7l-.5 222.4M418.6 195.8l-.5 169.2M426.5 179.9l-.7 186.9M434.2 216.7l-.7 152M442.1 222.7l-.8 148M450 244.2l-.8 128.4M457.9 267.3l-.8 107.2M465.8 290.6l-.7 85.9M473.9 303.1l-.7 75.4M482 320.3l-.6 60.2M490.2 325.2l-.6 57.3M498.5 333.3l-.6 51.3M507 325.7l-.8 61M515.4 333.8l-.7 54.9M523.8 346.7l-.6 44.1M532.4 353.4l-.6 39.5M540.9 368.1l-.4 26.9M549.9 357.3l-.7 39.8M558.6 370.6l-.5 28.8M567.4 380.7l-.4 20.8M576.4 384.4l-.4 19.3M585.4 389.8l-.3 16.2M594.7 387.1l-.5 21.1M603.8 395.8l-.3 14.7M613 404.6l-.2 8.2M622.5 403.6l-.3 11.5M632 409.2l-.2 8.3"/>
<path stroke="#4874c0" stroke-width="3" d="M339.7 332.4l.1 12.8M346.7 332.7l.1 14.3M353.8 330.1l.1 18.6M360.9 334.6l.1 15.8M368 305.8l.1 46.4M375.2 292.8l.1 61.2M382.5 232l.1 123.7M389.9 139.4l.1 218.1M397.5 143.4l-.1 216M405.1 135.1l-.3 226.1M412.9 140.7l-.5 222.4M420.5 195.8l-.5 169.2M428.4 179.9l-.7 186.9M436.1 216.7l-.7 152M444 222.7l-.8 148M451.9 244.2l-.8 128.4M459.8 267.3l-.8 107.2M467.7 290.6l-.7 85.9M475.7 303.1l-.7 75.4M483.8 320.3l-.6 60.2M492 325.2l-.6 57.3M500.3 333.3l-.6 51.3M508.9 325.7l-.8 61M517.3 333.8l-.7 54.9M525.7 346.7l-.6 44.1M534.2 353.4l-.6 39.5M542.7 368.1l-.4 26.9M551.8 357.3l-.7 39.8M560.4 370.6l-.5 28.8M569.2 380.7l-.4 20.8M578.2 384.4l-.4 19.3M587.2 389.8l-.3 16.2M596.5 387.1l-.5 21.1M605.6 395.8l-.3 14.7M614.8 404.6l-.2 8.2M624.4 403.6l-.3 11.5M633.8 409.2l-.2 8.3"/>
<path stroke="#5986d0" stroke-width=".9" d="M335 332.4l.1 12.8M342 332.7l.1 14.3M349 330.1l.1 18.6M356.2 334.6l.1 15.8M363.3 305.8l.1 46.4M370.5 292.8l.1 61.2M377.7 232l.1 123.7M385.2 139.4l.1 218.1M392.8 143.4l-.1 216M400.4 135.1l-.3 226.1M408.1 140.7l-.5 222.4M415.8 195.8l-.5 169.2M423.6 179.9l-.7 186.9M431.4 216.7l-.7 152M439.3 222.7l-.8 148M447.1 244.2l-.8 128.4M455 267.3l-.8 107.2M462.9 290.6l-.7 85.9M471 303.1l-.7 75.4M479.1 320.3l-.6 60.2M487.3 325.2l-.6 57.3M495.6 333.3l-.6 51.3M504.1 325.7l-.8 61M512.5 333.8l-.7 54.9M520.9 346.7l-.6 44.1M529.5 353.4l-.6 39.5M538 368.1l-.4 26.9M547 357.3l-.7 39.8M555.7 370.6l-.5 28.8M564.5 380.7l-.4 20.8M573.5 384.4l-.4 19.3M582.5 389.8l-.3 16.2M591.8 387.1l-.5 21.1M600.9 395.8l-.3 14.7M610.1 404.6l-.2 8.2M619.6 403.6l-.3 11.5M629.1 409.2l-.2 8.3"/>
<path stroke="#8cb2ee" stroke-width="2.3" stroke-linecap="round" d="M335.8 332.4h4.2M342.8 332.7h4.2M349.8 330.1h4.2M356.9 334.6h4.2M364 305.8h4.2M371.3 292.8h4.2M378.5 232h4.2M385.9 139.4h4.2M393.5 143.4h4.2M401.2 135.1h4.2M408.9 140.7h4.2M416.5 195.8h4.2M424.4 179.9h4.2M432.1 216.7h4.2M440 222.7h4.2M447.9 244.2h4.2M455.8 267.3h4.2M463.7 290.6h4.2M471.8 303.1h4.2M479.8 320.3h4.2M488.1 325.2h4.2M496.4 333.3h4.2M504.9 325.7h4.2M513.3 333.8h4.2M521.7 346.7h4.2M530.3 353.4h4.2M538.8 368.1h4.2M547.8 357.3h4.2M556.5 370.6h4.2M565.2 380.7h4.2M574.2 384.4h4.2M583.3 389.8h4.2M592.6 387.1h4.2M601.7 395.8h4.2M610.9 404.6h4.2M620.4 403.6h4.2M629.9 409.2h4.2"/>
<path transform="scale(1 0.3400)" stroke="#d25f0e" stroke-width="6.7" stroke-linecap="round" d="M329.3 1019.5h0M336.3 1024.6h0M343.3 1029.7h0M350.4 1034.9h0M357.5 1040.1h0M364.8 1045.4h0M372 1050.7h0M379.4 1056h0M386.8 1061.4h0M394.2 1066.9h0M401.8 1072.4h0M409.3 1077.9h0M417 1083.5h0M424.7 1089.1h0M432.5 1094.8h0M440.4 1100.5h0M448.3 1106.3h0M456.3 1112.1h0M464.3 1118h0M472.5 1123.9h0M480.7 1129.9h0M489 1136h0M497.3 1142.1h0M505.8 1148.2h0M514.3 1154.4h0M522.8 1160.7h0M531.5 1167h0M540.3 1173.4h0M549.1 1179.8h0M558 1186.3h0M567 1192.8h0M576.1 1199.5h0M585.2 1206.1h0M594.5 1212.9h0M603.8 1219.7h0M613.2 1226.6h0M622.7 1233.5h0"/>
<path stroke="#e86a12" stroke-width="6.7" d="M329.2 333.8l.1 12.8M336.2 332.6l.1 15.8M343.2 331.4l.1 18.7M350.3 334.5l.1 17.3M357.4 326.1l.1 27.6M364.6 316l.1 39.4M371.9 276.3l.2 80.9M379.2 195.1l.2 163.9M386.7 170.3l.1 190.6M394.3 145.1l-.1 217.6M402 135.2l-.3 229.4M409.8 134.6l-.5 231.9M417.7 137.1l-.7 231.3M425.2 248.7l-.4 121.6M433.1 231.5l-.6 140.7M441 263.9l-.6 110.2M448.8 294.9l-.5 81.2M457.1 265.4l-.8 112.7M465 293.5l-.7 86.6M473.2 301.4l-.7 80.7M481.3 320.4l-.6 63.8M489.7 322.2l-.7 64M498 328.7l-.7 59.6M506.5 333.7l-.7 56.7M514.9 346.7l-.6 45.8M523.4 356.6l-.5 38M532.1 358.6l-.6 38.2M540.9 357.4l-.7 41.6M549.6 372.3l-.5 28.9M558.4 382.4l-.4 20.9M567.4 386.2l-.4 19.4M576.4 391.6l-.3 16.2M585.6 393.8l-.3 16.3M594.8 397.6l-.3 14.7M604.1 401.5l-.3 13.2M613.5 405.5l-.3 11.6M622.9 412.8l-.2 6.6"/>
<path stroke="#a84a08" stroke-width="3" d="M331 333.8l.1 12.8M338 332.6l.1 15.8M345.1 331.4l.1 18.7M352.2 334.5l.1 17.3M359.3 326.1l.1 27.6M366.5 316l.1 39.4M373.7 276.3l.2 80.9M381 195.1l.2 163.9M388.5 170.3l.1 190.6M396.2 145.1l-.1 217.6M403.9 135.2l-.3 229.4M411.7 134.6l-.5 231.9M419.5 137.1l-.7 231.3M427 248.7l-.4 121.6M435 231.5l-.6 140.7M442.8 263.9l-.6 110.2M450.6 294.9l-.5 81.2M458.9 265.4l-.8 112.7M466.9 293.5l-.7 86.6M475.1 301.4l-.7 80.7M483.2 320.4l-.6 63.8M491.5 322.2l-.7 64M499.9 328.7l-.7 59.6M508.3 333.7l-.7 56.7M516.7 346.7l-.6 45.8M525.3 356.6l-.5 38M534 358.6l-.6 38.2M542.8 357.4l-.7 41.6M551.4 372.3l-.5 28.9M560.2 382.4l-.4 20.9M569.2 386.2l-.4 19.4M578.2 391.6l-.3 16.2M587.4 393.8l-.3 16.3M596.6 397.6l-.3 14.7M606 401.5l-.3 13.2M615.4 405.5l-.3 11.6M624.8 412.8l-.2 6.6"/>
<path stroke="#c5580c" stroke-width=".9" d="M326.3 333.8l.1 12.8M333.3 332.6l.1 15.8M340.3 331.4l.1 18.7M347.4 334.5l.1 17.3M354.5 326.1l.1 27.6M361.7 316l.1 39.4M369 276.3l.2 80.9M376.3 195.1l.2 163.9M383.8 170.3l.1 190.6M391.4 145.1l-.1 217.6M399.1 135.2l-.3 229.4M406.9 134.6l-.5 231.9M414.8 137.1l-.7 231.3M422.3 248.7l-.4 121.6M430.2 231.5l-.6 140.7M438.1 263.9l-.6 110.2M445.9 294.9l-.5 81.2M454.2 265.4l-.8 112.7M462.1 293.5l-.7 86.6M470.3 301.4l-.7 80.7M478.4 320.4l-.6 63.8M486.8 322.2l-.7 64M495.1 328.7l-.7 59.6M503.6 333.7l-.7 56.7M512 346.7l-.6 45.8M520.5 356.6l-.5 38M529.2 358.6l-.6 38.2M538 357.4l-.7 41.6M546.7 372.3l-.5 28.9M555.5 382.4l-.4 20.9M564.5 386.2l-.4 19.4M573.5 391.6l-.3 16.2M582.7 393.8l-.3 16.3M591.9 397.6l-.3 14.7M601.2 401.5l-.3 13.2M610.6 405.5l-.3 11.6M620 412.8l-.2 6.6"/>
<path stroke="#f08434" stroke-width="2.3" stroke-linecap="round" d="M327.1 333.8h4.3M334 332.6h4.3M341.1 331.4h4.3M348.2 334.5h4.3M355.3 326.1h4.3M362.5 316h4.3M369.7 276.3h4.3M377 195.1h4.3M384.6 170.3h4.3M392.2 145.1h4.3M399.9 135.2h4.3M407.7 134.6h4.3M415.5 137.1h4.3M423 248.7h4.3M431 231.5h4.3M438.8 263.9h4.3M446.7 294.9h4.3M455 265.4h4.3M462.9 293.5h4.3M471.1 301.4h4.3M479.2 320.4h4.3M487.5 322.2h4.3M495.9 328.7h4.3M504.3 333.7h4.3M512.8 346.7h4.3M521.3 356.6h4.3M530 358.6h4.3M538.8 357.4h4.3M547.5 372.3h4.3M556.2 382.4h4.3M565.2 386.2h4.3M574.3 391.6h4.3M583.4 393.8h4.3M592.7 397.6h4.3M602 401.5h4.3M611.4 405.5h4.3M620.8 412.8h4.3"/>
<path transform="scale(1 0.3400)" stroke="#2c95ac" stroke-width="6.8" stroke-linecap="round" d="M320.6 1023.7h0M327.5 1028.8h0M334.5 1033.9h0M341.6 1039.2h0M348.8 1044.4h0M356 1049.7h0M363.2 1055h0M370.6 1060.4h0M377.9 1065.9h0M385.4 1071.3h0M392.9 1076.9h0M400.5 1082.4h0M408.1 1088.1h0M415.8 1093.7h0M423.6 1099.4h0M431.5 1105.2h0M439.4 1111h0M447.4 1116.9h0M455.4 1122.8h0M463.5 1128.8h0M471.7 1134.8h0M480 1140.9h0M488.3 1147h0M496.8 1153.2h0M505.3 1159.5h0M513.8 1165.8h0M522.5 1172.2h0M531.2 1178.6h0M540.1 1185.1h0M548.9 1191.6h0M557.9 1198.2h0M567 1204.9h0M576.1 1211.6h0M585.4 1218.4h0M594.7 1225.3h0M604.1 1232.2h0M613.6 1239.2h0"/>
<path stroke="#34a8c0" stroke-width="6.8" d="M320.4 333.7l.1 14.3M327.4 332.5l.1 17.2M334.4 327l.2 24.5M341.5 333l.1 20.3M348.6 326l.1 29.1M355.8 320.3l.1 36.6M363 277.5l.2 81.2M370.2 220.4l.3 140.2M377.7 168.1l.3 194.3M385.3 169.2l.1 195.1M393 150l-0 216.1M400.7 165.1l-.2 203M408.5 163l-.4 207M416.4 168.8l-.6 203.1M424.2 217l-.6 156.8M432.1 238.7l-.6 137.1M440.1 244.8l-.7 133M448 266.6l-.7 113.1M456 290.2l-.6 91.6M464.1 310.7l-.6 73.1M472.3 326.6l-.5 59.3M480.4 345.7l-.4 42.2M488.8 349.2l-.4 40.8M497.3 347.9l-.5 44.2M505.8 354.6l-.5 39.6M514.5 350.2l-.6 46.2M523.1 353.8l-.6 44.8M531.7 370.3l-.5 30.5M540.6 370.7l-.5 32.2M549.4 377.7l-.5 27.5M558.5 374.9l-.6 32.5M567.4 386.8l-.4 22.8M576.4 398.9l-.3 13.1M585.7 397.8l-.4 16.4M595 403.4l-.3 13.2M604.4 409l-.2 9.9M613.8 413l-.2 8.3"/>
<path stroke="#1e7388" stroke-width="3" d="M322.3 333.7l.1 14.3M329.3 332.5l.1 17.2M336.3 327l.2 24.5M343.4 333l.1 20.3M350.5 326l.1 29.1M357.7 320.3l.1 36.6M364.8 277.5l.2 81.2M372.1 220.4l.3 140.2M379.5 168.1l.3 194.3M387.1 169.2l.1 195.1M394.8 150l-0 216.1M402.6 165.1l-.2 203M410.4 163l-.4 207M418.2 168.8l-.6 203.1M426 217l-.6 156.8M433.9 238.7l-.6 137.1M441.9 244.8l-.7 133M449.9 266.6l-.7 113.1M457.9 290.2l-.6 91.6M466 310.7l-.6 73.1M474.1 326.6l-.5 59.3M482.3 345.7l-.4 42.2M490.6 349.2l-.4 40.8M499.1 347.9l-.5 44.2M507.6 354.6l-.5 39.6M516.3 350.2l-.6 46.2M525 353.8l-.6 44.8M533.6 370.3l-.5 30.5M542.4 370.7l-.5 32.2M551.3 377.7l-.5 27.5M560.4 374.9l-.6 32.5M569.3 386.8l-.4 22.8M578.3 398.9l-.3 13.1M587.6 397.8l-.4 16.4M596.9 403.4l-.3 13.2M606.2 409l-.2 9.9M615.7 413l-.2 8.3"/>
<path stroke="#288ba1" stroke-width=".9" d="M317.5 333.7l.1 14.3M324.5 332.5l.1 17.2M331.5 327l.2 24.5M338.6 333l.1 20.3M345.7 326l.1 29.1M352.9 320.3l.1 36.6M360.1 277.5l.2 81.2M367.3 220.4l.3 140.2M374.8 168.1l.3 194.3M382.4 169.2l.1 195.1M390 150l-0 216.1M397.8 165.1l-.2 203M405.6 163l-.4 207M413.5 168.8l-.6 203.1M421.3 217l-.6 156.8M429.2 238.7l-.6 137.1M437.2 244.8l-.7 133M445.1 266.6l-.7 113.1M453.1 290.2l-.6 91.6M461.2 310.7l-.6 73.1M469.3 326.6l-.5 59.3M477.5 345.7l-.4 42.2M485.9 349.2l-.4 40.8M494.4 347.9l-.5 44.2M502.9 354.6l-.5 39.6M511.6 350.2l-.6 46.2M520.2 353.8l-.6 44.8M528.8 370.3l-.5 30.5M537.7 370.7l-.5 32.2M546.5 377.7l-.5 27.5M555.6 374.9l-.6 32.5M564.5 386.8l-.4 22.8M573.5 398.9l-.3 13.1M582.8 397.8l-.4 16.4M592.1 403.4l-.3 13.2M601.5 409l-.2 9.9M610.9 413l-.2 8.3"/>
<path stroke="#50bcd0" stroke-width="2.3" stroke-linecap="round" d="M318.3 333.7h4.3M325.3 332.5h4.3M332.3 327h4.3M339.4 333h4.3M346.5 326h4.3M353.7 320.3h4.3M360.9 277.5h4.3M368.1 220.4h4.3M375.5 168.1h4.3M383.1 169.2h4.3M390.8 150h4.3M398.6 165.1h4.3M406.4 163h4.3M414.3 168.8h4.3M422 217h4.3M429.9 238.7h4.3M437.9 244.8h4.3M445.9 266.6h4.3M453.9 290.2h4.3M462 310.7h4.3M470.1 326.6h4.3M478.3 345.7h4.3M486.6 349.2h4.3M495.1 347.9h4.3M503.6 354.6h4.3M512.3 350.2h4.3M521 353.8h4.3M529.6 370.3h4.3M538.4 370.7h4.3M547.3 377.7h4.3M556.4 374.9h4.3M565.3 386.8h4.3M574.3 398.9h4.3M583.6 397.8h4.3M592.9 403.4h4.3M602.2 409h4.3M611.7 413h4.3"/>
<path transform="scale(1 0.3400)" stroke="#4522af" stroke-width="6.8" stroke-linecap="round" d="M311.8 1027.8h0M318.7 1033h0M325.7 1038.2h0M332.8 1043.4h0M339.9 1048.7h0M347.1 1054h0M354.4 1059.4h0M361.7 1064.8h0M369.1 1070.3h0M376.5 1075.8h0M384 1081.4h0M391.6 1087h0M399.2 1092.7h0M406.9 1098.4h0M414.7 1104.1h0M422.5 1109.9h0M430.4 1115.8h0M438.4 1121.7h0M446.4 1127.7h0M454.5 1133.7h0M462.7 1139.8h0M471 1145.9h0M479.3 1152.1h0M487.7 1158.3h0M496.2 1164.6h0M504.8 1171h0M513.4 1177.4h0M522.1 1183.9h0M531 1190.4h0M539.8 1197h0M548.8 1203.6h0M557.9 1210.3h0M567 1217.1h0M576.2 1224h0M585.6 1230.9h0M595 1237.9h0M604.5 1244.9h0"/>
<path stroke="#5028c8" stroke-width="6.8" d="M311.7 338l.1 11.5M318.6 338.2l.1 13M325.6 335.6l.1 17.4M332.7 335.9l.1 18.9M339.8 333.2l.1 23.4M346.9 321.7l.2 36.7M354.2 308.5l.2 51.7M361.4 268.2l.3 93.8M368.6 155l.5 208.9M376.2 149.8l.3 216M383.8 135.2l.2 232.5M391.6 140.8l-0 228.8M399.4 173.3l-.2 198.2M407.2 202.7l-.3 170.8M415.2 166l-.5 209.4M423.1 186.1l-.7 191.2M431 238l-.6 141.3M439.1 244.2l-.7 137.2M447.1 263.1l-.7 120.3M455.2 288.4l-.7 97M463.3 307.5l-.6 80M471.5 325.1l-.6 64.5M479.8 344.4l-.5 47.3M488.2 349.5l-.5 44.3M496.8 348.2l-.5 47.7M505.5 340.6l-.7 57.6M514.3 336l-.9 64.3M522.6 368.7l-.5 33.8M531.6 364.3l-.6 40.4M540.4 371.2l-.6 35.7M549.3 378.3l-.5 31M558.2 391.9l-.4 19.6M567.5 390.8l-.4 23M576.6 398l-.4 18.1M585.8 405.3l-.3 13.3M595.2 410.9l-.2 10M604.7 414.9l-.2 8.4"/>
<path stroke="#301680" stroke-width="3.1" d="M313.5 338l.1 11.5M320.5 338.2l.1 13M327.5 335.6l.1 17.4M334.6 335.9l.1 18.9M341.7 333.2l.1 23.4M348.8 321.7l.2 36.7M356 308.5l.2 51.7M363.3 268.2l.3 93.8M370.4 155l.5 208.9M378 149.8l.3 216M385.7 135.2l.2 232.5M393.4 140.8l-0 228.8M401.2 173.3l-.2 198.2M409.1 202.7l-.3 170.8M417.1 166l-.5 209.4M425 186.1l-.7 191.2M432.9 238l-.6 141.3M440.9 244.2l-.7 137.2M449 263.1l-.7 120.3M457.1 288.4l-.7 97M465.2 307.5l-.6 80M473.4 325.1l-.6 64.5M481.6 344.4l-.5 47.3M490.1 349.5l-.5 44.3M498.6 348.2l-.5 47.7M507.4 340.6l-.7 57.6M516.1 336l-.9 64.3M524.5 368.7l-.5 33.8M533.4 364.3l-.6 40.4M542.3 371.2l-.6 35.7M551.2 378.3l-.5 31M560.1 391.9l-.4 19.6M569.3 390.8l-.4 23M578.5 398l-.4 18.1M587.7 405.3l-.3 13.3M597.1 410.9l-.2 10M606.5 414.9l-.2 8.4"/>
<path stroke="#3e1ea0" stroke-width="1" d="M308.7 338l.1 11.5M315.7 338.2l.1 13M322.7 335.6l.1 17.4M329.8 335.9l.1 18.9M336.9 333.2l.1 23.4M344 321.7l.2 36.7M351.2 308.5l.2 51.7M358.5 268.2l.3 93.8M365.6 155l.5 208.9M373.2 149.8l.3 216M380.9 135.2l.2 232.5M388.7 140.8l-0 228.8M396.4 173.3l-.2 198.2M404.3 202.7l-.3 170.8M412.3 166l-.5 209.4M420.2 186.1l-.7 191.2M428.1 238l-.6 141.3M436.2 244.2l-.7 137.2M444.2 263.1l-.7 120.3M452.3 288.4l-.7 97M460.4 307.5l-.6 80M468.6 325.1l-.6 64.5M476.8 344.4l-.5 47.3M485.3 349.5l-.5 44.3M493.8 348.2l-.5 47.7M502.6 340.6l-.7 57.6M511.4 336l-.9 64.3M519.7 368.7l-.5 33.8M528.7 364.3l-.6 40.4M537.5 371.2l-.6 35.7M546.4 378.3l-.5 31M555.3 391.9l-.4 19.6M564.5 390.8l-.4 23M573.7 398l-.4 18.1M582.9 405.3l-.3 13.3M592.3 410.9l-.2 10M601.8 414.9l-.2 8.4"/>
<path stroke="#6440d8" stroke-width="2.3" stroke-linecap="round" d="M309.5 338h4.3M316.5 338.2h4.3M323.5 335.6h4.3M330.5 335.9h4.3M337.7 333.2h4.3M344.8 321.7h4.3M352 308.5h4.3M359.2 268.2h4.3M366.4 155h4.3M374 149.8h4.3M381.7 135.2h4.3M389.4 140.8h4.3M397.2 173.3h4.3M405 202.7h4.3M413.1 166h4.3M421 186.1h4.3M428.9 238h4.3M436.9 244.2h4.3M445 263.1h4.3M453.1 288.4h4.3M461.2 307.5h4.3M469.4 325.1h4.3M477.6 344.4h4.3M486 349.5h4.3M494.6 348.2h4.3M503.3 340.6h4.3M512.1 336h4.3M520.5 368.7h4.3M529.4 364.3h4.3M538.3 371.2h4.3M547.2 378.3h4.3M556.1 391.9h4.3M565.3 390.8h4.3M574.5 398h4.3M583.7 405.3h4.3M593.1 410.9h4.3M602.5 414.9h4.3"/>
<path transform="scale(1 0.3400)" stroke="#71b418" stroke-width="6.8" stroke-linecap="round" d="M302.9 1032h0M309.9 1037.2h0M316.9 1042.4h0M323.9 1047.7h0M331 1053h0M338.2 1058.4h0M345.4 1063.8h0M352.7 1069.3h0M360.1 1074.8h0M367.5 1080.3h0M375 1085.9h0M382.6 1091.6h0M390.2 1097.3h0M397.9 1103h0M405.6 1108.8h0M413.5 1114.7h0M421.3 1120.6h0M429.3 1126.6h0M437.3 1132.6h0M445.4 1138.6h0M453.6 1144.7h0M461.9 1150.9h0M470.2 1157.1h0M478.6 1163.4h0M487.1 1169.8h0M495.6 1176.2h0M504.3 1182.6h0M513 1189.2h0M521.8 1195.7h0M530.7 1202.4h0M539.6 1209.1h0M548.7 1215.9h0M557.8 1222.7h0M567 1229.6h0M576.3 1236.6h0M585.7 1243.6h0M595.2 1250.7h0"/>
<path stroke="#80c81c" stroke-width="6.8" d="M302.8 336.5l.1 14.4M309.7 336.7l.1 15.9M316.7 334.1l.2 20.3M323.7 332.9l.2 23.3M330.9 331.7l.2 26.4M338 327.5l.2 32.4M345.2 318.8l.2 42.9M352.5 307l.2 56.5M359.7 232.9l.4 132.5M367.1 180.2l.5 187.1M374.7 157.9l.4 211.3M382.3 124.2l.2 247M390.2 142.5l0 230.5M398 165.8l-.2 209.3M406 163.7l-.3 213.3M414 166.3l-.5 212.7M421.9 212.2l-.6 168.8M429.9 231.1l-.6 152M438.1 243.6l-.7 141.4M446.2 267.5l-.7 119.7M454.3 286.6l-.7 102.6M462.4 321.8l-.5 69.5M470.8 323.6l-.6 69.8M479.1 343.1l-.5 52.5M487.6 349.8l-.5 47.9M496.2 348.6l-.6 51.3M505 344.1l-.7 58M513.5 365.5l-.5 38.8M522.2 374.1l-.5 32.4M531.2 374.6l-.5 34.2M540.2 378.4l-.5 32.7M549.1 387.1l-.5 26.3M558.2 395.9l-.4 19.8M567.4 399.8l-.4 18.2M576.7 405.5l-.3 15M586 412.8l-.2 10M595.4 420.2l-.1 5"/>
<path stroke="#569010" stroke-width="3.1" d="M304.7 336.5l.1 14.4M311.6 336.7l.1 15.9M318.6 334.1l.2 20.3M325.6 332.9l.2 23.3M332.7 331.7l.2 26.4M339.9 327.5l.2 32.4M347.1 318.8l.2 42.9M354.4 307l.2 56.5M361.5 232.9l.4 132.5M368.9 180.2l.5 187.1M376.5 157.9l.4 211.3M384.2 124.2l.2 247M392 142.5l0 230.5M399.9 165.8l-.2 209.3M407.8 163.7l-.3 213.3M415.8 166.3l-.5 212.7M423.8 212.2l-.6 168.8M431.8 231.1l-.6 152M439.9 243.6l-.7 141.4M448 267.5l-.7 119.7M456.2 286.6l-.7 102.6M464.3 321.8l-.5 69.5M472.7 323.6l-.6 69.8M481 343.1l-.5 52.5M489.5 349.8l-.5 47.9M498.1 348.6l-.6 51.3M506.9 344.1l-.7 58M515.4 365.5l-.5 38.8M524.1 374.1l-.5 32.4M533.1 374.6l-.5 34.2M542 378.4l-.5 32.7M551 387.1l-.5 26.3M560 395.9l-.4 19.8M569.3 399.8l-.4 18.2M578.5 405.5l-.3 15M587.8 412.8l-.2 10M597.2 420.2l-.1 5"/>
<path stroke="#69a915" stroke-width="1" d="M299.9 336.5l.1 14.4M306.8 336.7l.1 15.9M313.8 334.1l.2 20.3M320.8 332.9l.2 23.3M327.9 331.7l.2 26.4M335.1 327.5l.2 32.4M342.3 318.8l.2 42.9M349.6 307l.2 56.5M356.7 232.9l.4 132.5M364.1 180.2l.5 187.1M371.7 157.9l.4 211.3M379.4 124.2l.2 247M387.2 142.5l0 230.5M395.1 165.8l-.2 209.3M403 163.7l-.3 213.3M411 166.3l-.5 212.7M419 212.2l-.6 168.8M427 231.1l-.6 152M435.1 243.6l-.7 141.4M443.2 267.5l-.7 119.7M451.4 286.6l-.7 102.6M459.5 321.8l-.5 69.5M467.9 323.6l-.6 69.8M476.2 343.1l-.5 52.5M484.6 349.8l-.5 47.9M493.3 348.6l-.6 51.3M502.1 344.1l-.7 58M510.6 365.5l-.5 38.8M519.3 374.1l-.5 32.4M528.3 374.6l-.5 34.2M537.2 378.4l-.5 32.7M546.2 387.1l-.5 26.3M555.2 395.9l-.4 19.8M564.5 399.8l-.4 18.2M573.7 405.5l-.3 15M583 412.8l-.2 10M592.4 420.2l-.1 5"/>
<path stroke="#98d83c" stroke-width="2.3" stroke-linecap="round" d="M300.6 336.5h4.3M307.6 336.7h4.3M314.5 334.1h4.3M321.6 332.9h4.3M328.7 331.7h4.3M335.9 327.5h4.3M343.1 318.8h4.3M350.4 307h4.3M357.5 232.9h4.3M364.9 180.2h4.3M372.5 157.9h4.3M380.2 124.2h4.3M388 142.5h4.3M395.9 165.8h4.3M403.8 163.7h4.3M411.8 166.3h4.3M419.8 212.2h4.3M427.8 231.1h4.3M435.9 243.6h4.3M444 267.5h4.3M452.2 286.6h4.3M460.3 321.8h4.3M468.6 323.6h4.3M476.9 343.1h4.3M485.4 349.8h4.3M494.1 348.6h4.3M502.8 344.1h4.3M511.4 365.5h4.3M520.1 374.1h4.3M529 374.6h4.3M538 378.4h4.3M547 387.1h4.3M556 395.9h4.3M565.2 399.8h4.3M574.5 405.5h4.3M583.8 412.8h4.3M593.2 420.2h4.3"/>
<path transform="scale(1 0.3400)" stroke="#a91818" stroke-width="6.8" stroke-linecap="round" d="M294 1036.2h0M300.9 1041.5h0M307.9 1046.7h0M315 1052h0M322.1 1057.4h0M329.2 1062.8h0M336.5 1068.3h0M343.8 1073.8h0M351.1 1079.3h0M358.5 1084.9h0M366 1090.5h0M373.5 1096.2h0M381.1 1102h0M388.8 1107.8h0M396.5 1113.6h0M404.4 1119.5h0M412.2 1125.4h0M420.2 1131.4h0M428.2 1137.5h0M436.3 1143.6h0M444.5 1149.8h0M452.7 1156h0M461 1162.3h0M469.4 1168.6h0M477.9 1175h0M486.4 1181.4h0M495 1187.9h0M503.8 1194.5h0M512.5 1201.1h0M521.4 1207.8h0M530.4 1214.6h0M539.4 1221.4h0M548.5 1228.3h0M557.7 1235.3h0M567.1 1242.3h0M576.4 1249.4h0M585.9 1256.5h0"/>
<path stroke="#c01c1c" stroke-width="6.8" d="M293.9 336.4l.2 15.9M300.8 338.1l.2 16M307.7 334l.2 21.9M314.7 328.4l.2 29.3M321.9 337.5l.2 22M329.1 333.3l.2 28M336.3 330.6l.2 32.6M343.5 311.4l.3 53.7M350.7 275.2l.4 91.8M358 219.9l.5 149M365.5 177.6l.5 193.2M373.1 148.7l.4 224M380.9 121l.3 253.7M388.7 141.1l.1 235.5M396.7 166.1l-.1 212.5M404.6 207.2l-.3 173.4M412.7 165.1l-.5 217.6M420.8 193.7l-.6 191M428.9 223.9l-.7 162.8M437 243.1l-.7 145.8M445.2 257.4l-.8 133.5M453.3 297.7l-.6 95.4M461.7 312.3l-.6 82.9M470.1 322.1l-.6 75.2M478.4 340.1l-.6 59.3M487 350.2l-.5 51.5M495.7 350.5l-.6 53.4M504.3 365.6l-.5 40.5M513.1 366l-.6 42.4M522 368.1l-.6 42.6M530.8 381.8l-.5 31.2M539.8 393.9l-.3 21.4M548.9 397.8l-.3 19.9M558.1 403.4l-.3 16.6M567.3 407.4l-.3 15M576.7 411.4l-.3 13.4M586.2 415.4l-.3 11.8"/>
<path stroke="#7e1212" stroke-width="3.1" d="M295.7 336.4l.2 15.9M302.7 338.1l.2 16M309.6 334l.2 21.9M316.6 328.4l.2 29.3M323.8 337.5l.2 22M330.9 333.3l.2 28M338.2 330.6l.2 32.6M345.4 311.4l.3 53.7M352.6 275.2l.4 91.8M359.9 219.9l.5 149M367.3 177.6l.5 193.2M375 148.7l.4 224M382.7 121l.3 253.7M390.6 141.1l.1 235.5M398.6 166.1l-.1 212.5M406.5 207.2l-.3 173.4M414.6 165.1l-.5 217.6M422.7 193.7l-.6 191M430.7 223.9l-.7 162.8M438.9 243.1l-.7 145.8M447.1 257.4l-.8 133.5M455.2 297.7l-.6 95.4M463.5 312.3l-.6 82.9M471.9 322.1l-.6 75.2M480.3 340.1l-.6 59.3M488.8 350.2l-.5 51.5M497.5 350.5l-.6 53.4M506.1 365.6l-.5 40.5M515 366l-.6 42.4M523.9 368.1l-.6 42.6M532.7 381.8l-.5 31.2M541.6 393.9l-.3 21.4M550.8 397.8l-.3 19.9M559.9 403.4l-.3 16.6M569.2 407.4l-.3 15M578.6 411.4l-.3 13.4M588.1 415.4l-.3 11.8"/>
<path stroke="#9c1616" stroke-width="1" d="M290.9 336.4l.2 15.9M297.8 338.1l.2 16M304.8 334l.2 21.9M311.8 328.4l.2 29.3M319 337.5l.2 22M326.1 333.3l.2 28M333.3 330.6l.2 32.6M340.5 311.4l.3 53.7M347.8 275.2l.4 91.8M355 219.9l.5 149M362.5 177.6l.5 193.2M370.2 148.7l.4 224M377.9 121l.3 253.7M385.8 141.1l.1 235.5M393.7 166.1l-.1 212.5M401.7 207.2l-.3 173.4M409.8 165.1l-.5 217.6M417.9 193.7l-.6 191M425.9 223.9l-.7 162.8M434.1 243.1l-.7 145.8M442.3 257.4l-.8 133.5M450.4 297.7l-.6 95.4M458.7 312.3l-.6 82.9M467.1 322.1l-.6 75.2M475.5 340.1l-.6 59.3M484 350.2l-.5 51.5M492.7 350.5l-.6 53.4M501.3 365.6l-.5 40.5M510.2 366l-.6 42.4M519.1 368.1l-.6 42.6M527.9 381.8l-.5 31.2M536.8 393.9l-.3 21.4M545.9 397.8l-.3 19.9M555.1 403.4l-.3 16.6M564.4 407.4l-.3 15M573.8 411.4l-.3 13.4M583.2 415.4l-.3 11.8"/>
<path stroke="#d03636" stroke-width="2.3" stroke-linecap="round" d="M291.7 336.4h4.3M298.6 338.1h4.3M305.6 334h4.3M312.6 328.4h4.3M319.8 337.5h4.3M326.9 333.3h4.3M334.1 330.6h4.3M341.3 311.4h4.3M348.5 275.2h4.3M355.8 219.9h4.3M363.3 177.6h4.3M370.9 148.7h4.3M378.7 121h4.3M386.6 141.1h4.3M394.5 166.1h4.3M402.5 207.2h4.3M410.6 165.1h4.3M418.6 193.7h4.3M426.7 223.9h4.3M434.9 243.1h4.3M443.1 257.4h4.3M451.2 297.7h4.3M459.5 312.3h4.3M467.9 322.1h4.3M476.3 340.1h4.3M484.8 350.2h4.3M493.5 350.5h4.3M502.1 365.6h4.3M510.9 366h4.3M519.9 368.1h4.3M528.7 381.8h4.3M537.6 393.9h4.3M546.7 397.8h4.3M555.9 403.4h4.3M565.2 407.4h4.3M574.6 411.4h4.3M584 415.4h4.3"/>
<path transform="scale(1 0.3400)" stroke="#1e4cc0" stroke-width="6.9" stroke-linecap="round" d="M285.1 1040.5h0M292 1045.7h0M298.9 1051h0M306 1056.4h0M313.1 1061.8h0M320.2 1067.2h0M327.4 1072.7h0M334.7 1078.3h0M342 1083.8h0M349.4 1089.5h0M356.9 1095.2h0M364.4 1100.9h0M372 1106.7h0M379.7 1112.5h0M387.4 1118.4h0M395.2 1124.3h0M403.1 1130.3h0M411 1136.4h0M419 1142.5h0M427.1 1148.6h0M435.2 1154.8h0M443.5 1161.1h0M451.8 1167.4h0M460.1 1173.8h0M468.6 1180.2h0M477.1 1186.7h0M485.8 1193.3h0M494.5 1199.9h0M503.2 1206.6h0M512.1 1213.3h0M521 1220.1h0M530.1 1227h0M539.2 1233.9h0M548.4 1241h0M557.7 1248h0M567.1 1255.2h0M576.5 1262.4h0"/>
<path stroke="#2358d4" stroke-width="6.9" d="M284.9 340.7l.2 13M291.7 333.7l.2 21.8M298.7 335.4l.2 21.9M305.8 337.2l.2 22M312.8 334.5l.2 26.5M319.9 328.8l.3 34.1M327.1 326l.3 38.7M334.4 321.7l.3 44.9M341.7 309.8l.3 58.7M348.9 250.3l.5 120.1M356.1 156.4l.8 215.9M363.8 163.8l.6 210.5M371.5 155.3l.5 221M379.3 116.1l.3 262.1M387.3 197.4l.1 182.8M395.3 177.8l-.1 204.5M403.3 185.4l-.3 198.9M411.4 186.6l-.4 199.8M419.5 218.6l-.5 169.8M427.6 252.3l-.5 138.2M436 244.1l-.7 148.6M444.1 292.6l-.6 102.2M452.3 316.9l-.5 80M460.6 333.3l-.5 65.8M469.3 320.6l-.7 80.7M477.6 351.8l-.5 51.7M486.3 350.5l-.6 55.2M495.1 350.9l-.6 57.1M503.8 361.1l-.6 49.1M512.6 376.4l-.5 36.1M521.5 385.2l-.4 29.7M530.5 390.7l-.4 26.5M539.5 399.6l-.3 19.9M548.7 406.9l-.3 15M558 405.9l-.3 18.4M567.3 416.7l-.2 10.1M576.8 417.4l-.2 11.8"/>
<path stroke="#16379a" stroke-width="3.1" d="M286.8 340.7l.2 13M293.6 333.7l.2 21.8M300.6 335.4l.2 21.9M307.7 337.2l.2 22M314.7 334.5l.2 26.5M321.8 328.8l.3 34.1M329 326l.3 38.7M336.3 321.7l.3 44.9M343.6 309.8l.3 58.7M350.8 250.3l.5 120.1M358 156.4l.8 215.9M365.7 163.8l.6 210.5M373.4 155.3l.5 221M381.2 116.1l.3 262.1M389.2 197.4l.1 182.8M397.2 177.8l-.1 204.5M405.2 185.4l-.3 198.9M413.3 186.6l-.4 199.8M421.4 218.6l-.5 169.8M429.5 252.3l-.5 138.2M437.8 244.1l-.7 148.6M445.9 292.6l-.6 102.2M454.2 316.9l-.5 80M462.5 333.3l-.5 65.8M471.2 320.6l-.7 80.7M479.5 351.8l-.5 51.7M488.2 350.5l-.6 55.2M497 350.9l-.6 57.1M505.7 361.1l-.6 49.1M514.5 376.4l-.5 36.1M523.3 385.2l-.4 29.7M532.4 390.7l-.4 26.5M541.4 399.6l-.3 19.9M550.5 406.9l-.3 15M559.9 405.9l-.3 18.4M569.2 416.7l-.2 10.1M578.7 417.4l-.2 11.8"/>
<path stroke="#1c46b4" stroke-width="1" d="M282 340.7l.2 13M288.8 333.7l.2 21.8M295.8 335.4l.2 21.9M302.8 337.2l.2 22M309.9 334.5l.2 26.5M317 328.8l.3 34.1M324.2 326l.3 38.7M331.5 321.7l.3 44.9M338.8 309.8l.3 58.7M345.9 250.3l.5 120.1M353.1 156.4l.8 215.9M360.9 163.8l.6 210.5M368.6 155.3l.5 221M376.4 116.1l.3 262.1M384.4 197.4l.1 182.8M392.3 177.8l-.1 204.5M400.4 185.4l-.3 198.9M408.5 186.6l-.4 199.8M416.6 218.6l-.5 169.8M424.7 252.3l-.5 138.2M433 244.1l-.7 148.6M441.1 292.6l-.6 102.2M449.3 316.9l-.5 80M457.7 333.3l-.5 65.8M466.3 320.6l-.7 80.7M474.7 351.8l-.5 51.7M483.4 350.5l-.6 55.2M492.1 350.9l-.6 57.1M500.9 361.1l-.6 49.1M509.6 376.4l-.5 36.1M518.5 385.2l-.4 29.7M527.5 390.7l-.4 26.5M536.6 399.6l-.3 19.9M545.7 406.9l-.3 15M555.1 405.9l-.3 18.4M564.3 416.7l-.2 10.1M573.8 417.4l-.2 11.8"/>
<path stroke="#3a70e0" stroke-width="2.3" stroke-linecap="round" d="M282.7 340.7h4.3M289.6 333.7h4.3M296.6 335.4h4.3M303.6 337.2h4.3M310.7 334.5h4.3M317.8 328.8h4.3M325 326h4.3M332.2 321.7h4.3M339.5 309.8h4.3M346.7 250.3h4.3M353.9 156.4h4.3M361.6 163.8h4.3M369.4 155.3h4.3M377.2 116.1h4.3M385.2 197.4h4.3M393.1 177.8h4.3M401.2 185.4h4.3M409.3 186.6h4.3M417.4 218.6h4.3M425.5 252.3h4.3M433.8 244.1h4.3M441.9 292.6h4.3M450.1 316.9h4.3M458.5 333.3h4.3M467.1 320.6h4.3M475.5 351.8h4.3M484.2 350.5h4.3M492.9 350.9h4.3M501.7 361.1h4.3M510.4 376.4h4.3M519.3 385.2h4.3M528.3 390.7h4.3M537.3 399.6h4.3M546.5 406.9h4.3M555.9 405.9h4.3M565.1 416.7h4.3M574.6 417.4h4.3"/>
<path transform="scale(1 0.3400)" stroke="#d25f0e" stroke-width="6.9" stroke-linecap="round" d="M276 1044.8h0M282.9 1050.1h0M289.9 1055.4h0M296.9 1060.8h0M304 1066.2h0M311.1 1071.7h0M318.3 1077.2h0M325.6 1082.8h0M332.9 1088.4h0M340.3 1094.1h0M347.7 1099.8h0M355.2 1105.6h0M362.8 1111.4h0M370.5 1117.3h0M378.2 1123.2h0M386 1129.2h0M393.8 1135.2h0M401.7 1141.3h0M409.7 1147.4h0M417.8 1153.6h0M425.9 1159.9h0M434.2 1166.2h0M442.5 1172.6h0M450.8 1179h0M459.3 1185.5h0M467.8 1192h0M476.4 1198.6h0M485.1 1205.3h0M493.9 1212.1h0M502.7 1218.9h0M511.6 1225.7h0M520.7 1232.6h0M529.8 1239.6h0M539 1246.7h0M548.2 1253.8h0M557.6 1261h0M567.1 1268.3h0"/>
<path stroke="#e86a12" stroke-width="6.9" d="M275.8 339.2l.2 16M282.7 336.6l.2 20.5M289.7 341.2l.2 17.6M296.6 326.7l.3 33.9M303.7 334.4l.3 28.1M310.9 336.1l.2 28.2M317.9 315.4l.4 50.8M325.1 306.5l.4 61.6M332.6 318.8l.3 51.3M339.9 296.1l.4 75.9M346.8 185.7l.9 188.3M354.4 174.2l.8 201.7M362.3 214.9l.5 162.9M370 165.2l.5 214.7M377.8 106.3l.4 275.6M385.8 133.3l.1 250.6M393.9 168.5l-.1 217.5M402 164.7l-.3 223.3M410.2 182.2l-.4 207.9M418.3 229.2l-.5 163.1M426.4 277.8l-.4 116.6M434.9 250l-.7 146.5M443 299l-.6 99.7M451.5 297.4l-.7 103.4M460 300.8l-.8 102.3M468.5 320.7l-.7 84.6M477 340.7l-.6 66.9M485.7 352.5l-.6 57.3M494.5 357.9l-.6 54.2M503.3 368.2l-.6 46.2M512 388.6l-.4 28.1M521.1 389.2l-.4 29.9M530.2 391.4l-.5 30M539.3 402.1l-.4 21.8M548.5 412.9l-.2 13.5M557.8 416.9l-.2 11.8M567.2 424.4l-.1 6.8"/>
<path stroke="#a84a08" stroke-width="3.1" d="M277.7 339.2l.2 16M284.6 336.6l.2 20.5M291.6 341.2l.2 17.6M298.4 326.7l.3 33.9M305.6 334.4l.3 28.1M312.8 336.1l.2 28.2M319.8 315.4l.4 50.8M327 306.5l.4 61.6M334.5 318.8l.3 51.3M341.7 296.1l.4 75.9M348.7 185.7l.9 188.3M356.3 174.2l.8 201.7M364.2 214.9l.5 162.9M371.9 165.2l.5 214.7M379.7 106.3l.4 275.6M387.7 133.3l.1 250.6M395.8 168.5l-.1 217.5M403.9 164.7l-.3 223.3M412.1 182.2l-.4 207.9M420.2 229.2l-.5 163.1M428.3 277.8l-.4 116.6M436.7 250l-.7 146.5M444.9 299l-.6 99.7M453.4 297.4l-.7 103.4M461.9 300.8l-.8 102.3M470.4 320.7l-.7 84.6M478.9 340.7l-.6 66.9M487.6 352.5l-.6 57.3M496.4 357.9l-.6 54.2M505.2 368.2l-.6 46.2M513.9 388.6l-.4 28.1M523 389.2l-.4 29.9M532.1 391.4l-.5 30M541.2 402.1l-.4 21.8M550.4 412.9l-.2 13.5M559.7 416.9l-.2 11.8M569.1 424.4l-.1 6.8"/>
<path stroke="#c5580c" stroke-width="1" d="M272.9 339.2l.2 16M279.7 336.6l.2 20.5M286.7 341.2l.2 17.6M293.6 326.7l.3 33.9M300.7 334.4l.3 28.1M307.9 336.1l.2 28.2M314.9 315.4l.4 50.8M322.2 306.5l.4 61.6M329.6 318.8l.3 51.3M336.9 296.1l.4 75.9M343.9 185.7l.9 188.3M351.5 174.2l.8 201.7M359.4 214.9l.5 162.9M367 165.2l.5 214.7M374.8 106.3l.4 275.6M382.9 133.3l.1 250.6M390.9 168.5l-.1 217.5M399 164.7l-.3 223.3M407.2 182.2l-.4 207.9M415.3 229.2l-.5 163.1M423.4 277.8l-.4 116.6M431.9 250l-.7 146.5M440.1 299l-.6 99.7M448.5 297.4l-.7 103.4M457.1 300.8l-.8 102.3M465.5 320.7l-.7 84.6M474.1 340.7l-.6 66.9M482.7 352.5l-.6 57.3M491.5 357.9l-.6 54.2M500.3 368.2l-.6 46.2M509 388.6l-.4 28.1M518.1 389.2l-.4 29.9M527.3 391.4l-.5 30M536.4 402.1l-.4 21.8M545.5 412.9l-.2 13.5M554.9 416.9l-.2 11.8M564.3 424.4l-.1 6.8"/>
<path stroke="#f08434" stroke-width="2.3" stroke-linecap="round" d="M273.7 339.2h4.3M280.5 336.6h4.3M287.5 341.2h4.3M294.4 326.7h4.3M301.5 334.4h4.3M308.7 336.1h4.3M315.7 315.4h4.3M323 306.5h4.3M330.4 318.8h4.3M337.7 296.1h4.3M344.7 185.7h4.3M352.3 174.2h4.3M360.1 214.9h4.3M367.8 165.2h4.3M375.6 106.3h4.3M383.7 133.3h4.3M391.7 168.5h4.3M399.8 164.7h4.3M408 182.2h4.3M416.1 229.2h4.3M424.2 277.8h4.3M432.7 250h4.3M440.8 299h4.3M449.3 297.4h4.3M457.9 300.8h4.3M466.3 320.7h4.3M474.8 340.7h4.3M483.5 352.5h4.3M492.3 357.9h4.3M501.1 368.2h4.3M509.8 388.6h4.3M518.9 389.2h4.3M528 391.4h4.3M537.1 402.1h4.3M546.3 412.9h4.3M555.7 416.9h4.3M565 424.4h4.3"/>
<path transform="scale(1 0.3400)" stroke="#2c95ac" stroke-width="6.9" stroke-linecap="round" d="M266.9 1049.1h0M273.8 1054.4h0M280.8 1059.8h0M287.8 1065.2h0M294.8 1070.7h0M302 1076.2h0M309.1 1081.8h0M316.4 1087.4h0M323.7 1093h0M331.1 1098.7h0M338.5 1104.5h0M346 1110.3h0M353.6 1116.2h0M361.2 1122.1h0M368.9 1128.1h0M376.7 1134.1h0M384.5 1140.2h0M392.4 1146.3h0M400.4 1152.5h0M408.5 1158.7h0M416.6 1165h0M424.8 1171.4h0M433.1 1177.8h0M441.4 1184.3h0M449.9 1190.8h0M458.4 1197.4h0M467 1204.1h0M475.6 1210.8h0M484.4 1217.6h0M493.2 1224.4h0M502.2 1231.3h0M511.2 1238.3h0M520.3 1245.4h0M529.5 1252.5h0M538.7 1259.7h0M548.1 1266.9h0M557.6 1274.3h0"/>
<path stroke="#34a8c0" stroke-width="6.9" d="M266.7 336.2l.3 20.4M273.5 330.6l.4 27.9M280.3 324.9l.4 35.4M287.2 308.8l.6 53.4M294.3 313.4l.5 50.6M301.2 283.4l.8 82.5M308.1 249.9l1.1 117.9M315.4 251.3l1 118.4M322.3 178l1.4 193.6M330.1 220l1 153.6M337.3 174l1.2 201.6M345 179.9l1 197.7M352.7 174.6l.8 204.9M360.6 190.2l.6 191.3M368.4 170.4l.5 213.1M376.3 158.5l.4 227M384.4 193.8l.1 193.8M392.5 150.8l-0 238.9M400.6 165.1l-.2 226.8M408.7 254.8l-.3 139.2M417.1 210.4l-.5 185.7M425.4 246.3l-.6 151.9M433.7 264.3l-.6 136.1M442.3 251l-.8 151.6M450.6 287.4l-.8 117.5M459 317.3l-.7 89.9M467.6 334l-.6 75.4M476 369l-.4 42.6M485 354.6l-.6 59.4M493.7 376.6l-.4 39.7M502.6 380.4l-.5 38.2M511.6 389.3l-.4 31.7M520.7 395l-.4 28.5M529.9 398.9l-.4 26.9M539.1 408l-.3 20.3M548.4 413.8l-.3 17M557.7 423l-.2 10.2"/>
<path stroke="#1e7388" stroke-width="3.1" d="M268.6 336.2l.3 20.4M275.4 330.6l.4 27.9M282.2 324.9l.4 35.4M289.1 308.8l.6 53.4M296.2 313.4l.5 50.6M303.1 283.4l.8 82.5M310 249.9l1.1 117.9M317.3 251.3l1 118.4M324.2 178l1.4 193.6M332 220l1 153.6M339.2 174l1.2 201.6M346.9 179.9l1 197.7M354.6 174.6l.8 204.9M362.5 190.2l.6 191.3M370.3 170.4l.5 213.1M378.2 158.5l.4 227M386.3 193.8l.1 193.8M394.4 150.8l-0 238.9M402.5 165.1l-.2 226.8M410.6 254.8l-.3 139.2M419 210.4l-.5 185.7M427.3 246.3l-.6 151.9M435.6 264.3l-.6 136.1M444.2 251l-.8 151.6M452.5 287.4l-.8 117.5M460.9 317.3l-.7 89.9M469.5 334l-.6 75.4M477.9 369l-.4 42.6M486.9 354.6l-.6 59.4M495.6 376.6l-.4 39.7M504.5 380.4l-.5 38.2M513.5 389.3l-.4 31.7M522.6 395l-.4 28.5M531.8 398.9l-.4 26.9M541 408l-.3 20.3M550.3 413.8l-.3 17M559.6 423l-.2 10.2"/>
<path stroke="#288ba1" stroke-width="1" d="M263.7 336.2l.3 20.4M270.5 330.6l.4 27.9M277.4 324.9l.4 35.4M284.2 308.8l.6 53.4M291.3 313.4l.5 50.6M298.2 283.4l.8 82.5M305.1 249.9l1.1 117.9M312.4 251.3l1 118.4M319.3 178l1.4 193.6M327.1 220l1 153.6M334.4 174l1.2 201.6M342 179.9l1 197.7M349.7 174.6l.8 204.9M357.6 190.2l.6 191.3M365.4 170.4l.5 213.1M373.3 158.5l.4 227M381.4 193.8l.1 193.8M389.5 150.8l-0 238.9M397.7 165.1l-.2 226.8M405.7 254.8l-.3 139.2M414.1 210.4l-.5 185.7M422.4 246.3l-.6 151.9M430.7 264.3l-.6 136.1M439.3 251l-.8 151.6M447.6 287.4l-.8 117.5M456.1 317.3l-.7 89.9M464.6 334l-.6 75.4M473.1 369l-.4 42.6M482 354.6l-.6 59.4M490.7 376.6l-.4 39.7M499.7 380.4l-.5 38.2M508.6 389.3l-.4 31.7M517.7 395l-.4 28.5M526.9 398.9l-.4 26.9M536.1 408l-.3 20.3M545.4 413.8l-.3 17M554.8 423l-.2 10.2"/>
<path stroke="#50bcd0" stroke-width="2.4" stroke-linecap="round" d="M264.5 336.2h4.4M271.3 330.6h4.4M278.2 324.9h4.4M285 308.8h4.4M292.1 313.4h4.4M299 283.4h4.4M305.9 249.9h4.4M313.2 251.3h4.4M320.1 178h4.4M327.9 220h4.4M335.2 174h4.4M342.8 179.9h4.4M350.5 174.6h4.4M358.4 190.2h4.4M366.2 170.4h4.4M374.1 158.5h4.4M382.2 193.8h4.4M390.3 150.8h4.4M398.5 165.1h4.4M406.5 254.8h4.4M414.9 210.4h4.4M423.2 246.3h4.4M431.5 264.3h4.4M440.1 251h4.4M448.4 287.4h4.4M456.9 317.3h4.4M465.4 334h4.4M473.9 369h4.4M482.8 354.6h4.4M491.5 376.6h4.4M500.4 380.4h4.4M509.4 389.3h4.4M518.5 395h4.4M527.7 398.9h4.4M536.9 408h4.4M546.2 413.8h4.4M555.6 423h4.4"/>
<path transform="scale(1 0.3400)" stroke="#4522af" stroke-width="6.9" stroke-linecap="round" d="M257.8 1053.4h0M264.7 1058.8h0M271.6 1064.2h0M278.6 1069.6h0M285.6 1075.2h0M292.7 1080.7h0M299.9 1086.3h0M307.1 1092h0M314.4 1097.7h0M321.8 1103.4h0M329.2 1109.2h0M336.7 1115.1h0M344.2 1121h0M351.9 1126.9h0M359.5 1133h0M367.3 1139h0M375.1 1145.1h0M383 1151.3h0M391 1157.6h0M399 1163.8h0M407.2 1170.2h0M415.3 1176.6h0M423.6 1183.1h0M432 1189.6h0M440.4 1196.2h0M448.9 1202.8h0M457.5 1209.5h0M466.1 1216.3h0M474.9 1223.1h0M483.7 1230h0M492.6 1237h0M501.6 1244.1h0M510.7 1251.2h0M519.9 1258.3h0M529.1 1265.6h0M538.5 1272.9h0M547.9 1280.3h0"/>
<path stroke="#5028c8" stroke-width="6.9" d="M256.9 293.4l.9 64.7M263.5 272.6l1.2 87.4M270.3 265.1l1.3 96.8M277.4 265l1.2 98.7M284.7 289.2l.9 76.4M291.3 238.9l1.4 128.5M298.3 204.7l1.6 164.6M306 243.2l1.2 128.1M313.1 218.2l1.3 155.1M320.9 261.6l.9 113.6M327.7 151l1.5 226.2M335.3 152l1.3 227.1M343.1 161.1l1.1 220.1M350.9 167l.9 216.2M358.8 179.4l.7 205.8M366.7 162.7l.6 224.6M374.8 176.9l.4 212.5M382.8 184.6l.2 206.8M391 190.7l0 202.8M399.2 201.9l-.2 193.8M407.5 183.3l-.4 214.6M415.7 277.2l-.3 122.9M424.1 255.7l-.5 146.5M432.5 292l-.5 112.4M440.9 316.9l-.5 89.8M449.3 348.5l-.4 60.5M458.1 324l-.6 87.3M466.6 355.8l-.5 57.7M475.3 364.6l-.5 51.3M484.2 366.7l-.5 51.5M493 387.3l-.4 33.3M502 389.5l-.4 33.5M511.1 398.5l-.4 26.9M520.2 402.5l-.4 25.3M529.5 410l-.3 20.3M538.7 420.9l-.2 11.9M548.2 421.6l-.2 13.7"/>
<path stroke="#301680" stroke-width="3.1" d="M258.8 293.4l.9 64.7M265.4 272.6l1.2 87.4M272.2 265.1l1.3 96.8M279.3 265l1.2 98.7M286.7 289.2l.9 76.4M293.3 238.9l1.4 128.5M300.2 204.7l1.6 164.6M307.9 243.2l1.2 128.1M315 218.2l1.3 155.1M322.8 261.6l.9 113.6M329.6 151l1.5 226.2M337.2 152l1.3 227.1M345 161.1l1.1 220.1M352.8 167l.9 216.2M360.7 179.4l.7 205.8M368.6 162.7l.6 224.6M376.7 176.9l.4 212.5M384.8 184.6l.2 206.8M392.9 190.7l0 202.8M401.1 201.9l-.2 193.8M409.4 183.3l-.4 214.6M417.6 277.2l-.3 122.9M426 255.7l-.5 146.5M434.4 292l-.5 112.4M442.8 316.9l-.5 89.8M451.2 348.5l-.4 60.5M460 324l-.6 87.3M468.5 355.8l-.5 57.7M477.2 364.6l-.5 51.3M486.1 366.7l-.5 51.5M494.9 387.3l-.4 33.3M503.9 389.5l-.4 33.5M513 398.5l-.4 26.9M522.1 402.5l-.4 25.3M531.4 410l-.3 20.3M540.6 420.9l-.2 11.9M550.1 421.6l-.2 13.7"/>
<path stroke="#3e1ea0" stroke-width="1" d="M253.9 293.4l.9 64.7M260.5 272.6l1.2 87.4M267.3 265.1l1.3 96.8M274.4 265l1.2 98.7M281.8 289.2l.9 76.4M288.4 238.9l1.4 128.5M295.3 204.7l1.6 164.6M303 243.2l1.2 128.1M310.1 218.2l1.3 155.1M317.9 261.6l.9 113.6M324.7 151l1.5 226.2M332.4 152l1.3 227.1M340.1 161.1l1.1 220.1M347.9 167l.9 216.2M355.9 179.4l.7 205.8M363.7 162.7l.6 224.6M371.8 176.9l.4 212.5M379.9 184.6l.2 206.8M388 190.7l0 202.8M396.2 201.9l-.2 193.8M404.6 183.3l-.4 214.6M412.7 277.2l-.3 122.9M421.2 255.7l-.5 146.5M429.5 292l-.5 112.4M437.9 316.9l-.5 89.8M446.3 348.5l-.4 60.5M455.1 324l-.6 87.3M463.6 355.8l-.5 57.7M472.4 364.6l-.5 51.3M481.2 366.7l-.5 51.5M490 387.3l-.4 33.3M499 389.5l-.4 33.5M508.1 398.5l-.4 26.9M517.2 402.5l-.4 25.3M526.5 410l-.3 20.3M535.7 420.9l-.2 11.9M545.2 421.6l-.2 13.7"/>
<path stroke="#6440d8" stroke-width="2.4" stroke-linecap="round" d="M254.7 293.4h4.4M261.3 272.6h4.4M268.1 265.1h4.4M275.2 265h4.4M282.6 289.2h4.4M289.2 238.9h4.4M296.1 204.7h4.4M303.8 243.2h4.4M310.9 218.2h4.4M318.7 261.6h4.4M325.5 151h4.4M333.1 152h4.4M340.9 161.1h4.4M348.7 167h4.4M356.6 179.4h4.4M364.5 162.7h4.4M372.6 176.9h4.4M380.7 184.6h4.4M388.8 190.7h4.4M397 201.9h4.4M405.3 183.3h4.4M413.5 277.2h4.4M421.9 255.7h4.4M430.3 292h4.4M438.7 316.9h4.4M447.1 348.5h4.4M455.9 324h4.4M464.4 355.8h4.4M473.2 364.6h4.4M482 366.7h4.4M490.8 387.3h4.4M499.8 389.5h4.4M508.9 398.5h4.4M518 402.5h4.4M527.3 410h4.4M536.5 420.9h4.4M546 421.6h4.4"/>
<path transform="scale(1 0.3400)" stroke="#71b418" stroke-width="7" stroke-linecap="round" d="M248.6 1057.8h0M255.4 1063.2h0M262.3 1068.6h0M269.3 1074.1h0M276.3 1079.7h0M283.4 1085.3h0M290.6 1090.9h0M297.8 1096.6h0M305.1 1102.3h0M312.4 1108.1h0M319.8 1114h0M327.3 1119.9h0M334.8 1125.8h0M342.5 1131.8h0M350.1 1137.9h0M357.9 1144h0M365.7 1150.2h0M373.6 1156.4h0M381.5 1162.7h0M389.6 1169h0M397.7 1175.4h0M405.8 1181.8h0M414.1 1188.4h0M422.4 1194.9h0M430.8 1201.6h0M439.3 1208.3h0M447.9 1215h0M456.5 1221.9h0M465.3 1228.8h0M474.1 1235.7h0M483 1242.7h0M492 1249.8h0M501.1 1257h0M510.2 1264.2h0M519.5 1271.5h0M528.8 1278.9h0M538.3 1286.4h0"/>
<path stroke="#80c81c" stroke-width="7" d="M247.2 273.8l1.3 85.8M254.3 287.3l1.1 74.2M261.1 273.8l1.3 89.5M268.1 273.8l1.2 91.4M275.1 266.2l1.3 100.9M282.4 278.3l1.1 90.7M288.9 219.7l1.7 151.2M296.1 205.4l1.7 167.4M303.9 252l1.2 122.8M311.1 217.4l1.4 159.4M318.4 199.7l1.4 179.1M325.8 168.9l1.5 211.9M333.4 152.2l1.4 230.6M341.2 145.1l1.3 239.7M349 142.9l1.1 244M357 148.8l.9 240.2M365 148.2l.7 242.9M373.2 208.6l.4 184.6M381.3 200l.2 195.3M389.5 161.4l0 236.1M397.8 205.9l-.1 193.7M406.1 233.9l-.3 167.9M414.4 298.3l-.3 105.7M422.7 311.6l-.3 94.7M431.4 280.2l-.6 128.3M439.9 305.3l-.6 105.5M448.4 332.2l-.5 80.9M457 347.5l-.5 67.9M465.6 373l-.4 44.8M474.6 366.7l-.5 53.4M483.5 373.9l-.5 48.6M492.4 382.9l-.5 42.1M501.4 400.4l-.3 27M510.5 407.8l-.3 22M519.7 417l-.2 15.3M529.1 417.7l-.3 17.1M538.5 423.6l-.2 13.7"/>
<path stroke="#569010" stroke-width="3.1" d="M249.2 273.8l1.3 85.8M256.3 287.3l1.1 74.2M263 273.8l1.3 89.5M270 273.8l1.2 91.4M277 266.2l1.3 100.9M284.3 278.3l1.1 90.7M290.9 219.7l1.7 151.2M298 205.4l1.7 167.4M305.8 252l1.2 122.8M313 217.4l1.4 159.4M320.4 199.7l1.4 179.1M327.7 168.9l1.5 211.9M335.3 152.2l1.4 230.6M343.1 145.1l1.3 239.7M351 142.9l1.1 244M358.9 148.8l.9 240.2M366.9 148.2l.7 242.9M375.1 208.6l.4 184.6M383.2 200l.2 195.3M391.4 161.4l0 236.1M399.7 205.9l-.1 193.7M408 233.9l-.3 167.9M416.3 298.3l-.3 105.7M424.7 311.6l-.3 94.7M433.3 280.2l-.6 128.3M441.8 305.3l-.6 105.5M450.3 332.2l-.5 80.9M458.9 347.5l-.5 67.9M467.5 373l-.4 44.8M476.5 366.7l-.5 53.4M485.4 373.9l-.5 48.6M494.4 382.9l-.5 42.1M503.3 400.4l-.3 27M512.4 407.8l-.3 22M521.6 417l-.2 15.3M531 417.7l-.3 17.1M540.4 423.6l-.2 13.7"/>
<path stroke="#69a915" stroke-width="1" d="M244.3 273.8l1.3 85.8M251.3 287.3l1.1 74.2M258.1 273.8l1.3 89.5M265.1 273.8l1.2 91.4M272.1 266.2l1.3 100.9M279.4 278.3l1.1 90.7M285.9 219.7l1.7 151.2M293.1 205.4l1.7 167.4M300.9 252l1.2 122.8M308.1 217.4l1.4 159.4M315.4 199.7l1.4 179.1M322.8 168.9l1.5 211.9M330.4 152.2l1.4 230.6M338.2 145.1l1.3 239.7M346 142.9l1.1 244M354 148.8l.9 240.2M362 148.2l.7 242.9M370.2 208.6l.4 184.6M378.3 200l.2 195.3M386.5 161.4l0 236.1M394.8 205.9l-.1 193.7M403.1 233.9l-.3 167.9M411.4 298.3l-.3 105.7M419.7 311.6l-.3 94.7M428.4 280.2l-.6 128.3M436.9 305.3l-.6 105.5M445.4 332.2l-.5 80.9M454 347.5l-.5 67.9M462.6 373l-.4 44.8M471.6 366.7l-.5 53.4M480.5 373.9l-.5 48.6M489.4 382.9l-.5 42.1M498.4 400.4l-.3 27M507.5 407.8l-.3 22M516.7 417l-.2 15.3M526.1 417.7l-.3 17.1M535.5 423.6l-.2 13.7"/>
<path stroke="#98d83c" stroke-width="2.4" stroke-linecap="round" d="M245 273.8h4.4M252.1 287.3h4.4M258.9 273.8h4.4M265.9 273.8h4.4M272.9 266.2h4.4M280.2 278.3h4.4M286.7 219.7h4.4M293.9 205.4h4.4M301.7 252h4.4M308.9 217.4h4.4M316.2 199.7h4.4M323.6 168.9h4.4M331.2 152.2h4.4M339 145.1h4.4M346.8 142.9h4.4M354.8 148.8h4.4M362.8 148.2h4.4M371 208.6h4.4M379.1 200h4.4M387.3 161.4h4.4M395.6 205.9h4.4M403.9 233.9h4.4M412.2 298.3h4.4M420.5 311.6h4.4M429.2 280.2h4.4M437.7 305.3h4.4M446.2 332.2h4.4M454.8 347.5h4.4M463.4 373h4.4M472.4 366.7h4.4M481.3 373.9h4.4M490.2 382.9h4.4M499.2 400.4h4.4M508.3 407.8h4.4M517.5 417h4.4M526.9 417.7h4.4M536.3 423.6h4.4"/>
<path transform="scale(1 0.3400)" stroke="#a91818" stroke-width="7" stroke-linecap="round" d="M239.3 1062.2h0M246.1 1067.6h0M253 1073.1h0M260 1078.6h0M267 1084.2h0M274.1 1089.9h0M281.2 1095.5h0M288.4 1101.3h0M295.7 1107.1h0M303 1112.9h0M310.4 1118.8h0M317.9 1124.7h0M325.4 1130.7h0M333 1136.8h0M340.6 1142.9h0M348.4 1149h0M356.2 1155.2h0M364 1161.5h0M372 1167.8h0M380 1174.2h0M388.1 1180.6h0M396.2 1187.1h0M404.5 1193.7h0M412.8 1200.3h0M421.2 1207h0M429.7 1213.8h0M438.2 1220.6h0M446.9 1227.5h0M455.6 1234.4h0M464.4 1241.4h0M473.3 1248.5h0M482.3 1255.6h0M491.3 1262.9h0M500.5 1270.2h0M509.7 1277.5h0M519.1 1285h0M528.5 1292.5h0"/>
<path stroke="#c01c1c" stroke-width="7" d="M238.4 307.9l.9 53.3M245.1 294.5l1.1 68.4M251.7 276.5l1.3 88.3M258.7 275l1.3 91.7M265.4 247.5l1.6 121.2M272.4 236.5l1.7 134M279.4 223.9l1.8 148.6M286.3 186l2.1 188.5M294.3 242.2l1.4 134.2M301.7 237.4l1.4 141M308.5 160.7l1.9 219.7M316 155.3l1.8 227.1M323.7 151.5l1.7 233M331.5 147.6l1.5 238.9M339.3 145.3l1.3 243.2M347.4 182.5l1 208.1M355.2 147.4l.9 245.4M363.3 155.1l.7 239.8M371.6 209.3l.4 187.7M379.8 217.3l.2 181.9M388 208.7l.1 192.8M396.4 216.7l-.1 186.9M404.6 309.6l-.1 96.2M413.2 263.2l-.3 144.9M421.6 281.6l-.4 128.8M430.1 308.5l-.4 104.2M438.7 320.4l-.5 94.6M447.4 335.7l-.5 81.6M456 364.7l-.4 55M464.9 365.1l-.5 57M473.7 382.5l-.4 42M482.6 396.6l-.3 30.4M491.6 400.6l-.3 28.8M500.8 404.6l-.3 27.2M509.9 420.7l-.2 13.7M519.2 426.6l-.1 10.3M528.6 430.8l-.1 8.6"/>
<path stroke="#7e1212" stroke-width="3.1" d="M240.3 307.9l.9 53.3M247 294.5l1.1 68.4M253.6 276.5l1.3 88.3M260.6 275l1.3 91.7M267.3 247.5l1.6 121.2M274.3 236.5l1.7 134M281.4 223.9l1.8 148.6M288.2 186l2.1 188.5M296.2 242.2l1.4 134.2M303.6 237.4l1.4 141M310.4 160.7l1.9 219.7M318 155.3l1.8 227.1M325.6 151.5l1.7 233M333.4 147.6l1.5 238.9M341.2 145.3l1.3 243.2M349.3 182.5l1 208.1M357.2 147.4l.9 245.4M365.2 155.1l.7 239.8M373.5 209.3l.4 187.7M381.7 217.3l.2 181.9M389.9 208.7l.1 192.8M398.3 216.7l-.1 186.9M406.6 309.6l-.1 96.2M415.1 263.2l-.3 144.9M423.5 281.6l-.4 128.8M432 308.5l-.4 104.2M440.6 320.4l-.5 94.6M449.3 335.7l-.5 81.6M457.9 364.7l-.4 55M466.8 365.1l-.5 57M475.6 382.5l-.4 42M484.5 396.6l-.3 30.4M493.6 400.6l-.3 28.8M502.7 404.6l-.3 27.2M511.8 420.7l-.2 13.7M521.1 426.6l-.1 10.3M530.5 430.8l-.1 8.6"/>
<path stroke="#9c1616" stroke-width="1" d="M235.4 307.9l.9 53.3M242.1 294.5l1.1 68.4M248.7 276.5l1.3 88.3M255.7 275l1.3 91.7M262.4 247.5l1.6 121.2M269.4 236.5l1.7 134M276.4 223.9l1.8 148.6M283.3 186l2.1 188.5M291.3 242.2l1.4 134.2M298.7 237.4l1.4 141M305.5 160.7l1.9 219.7M313 155.3l1.8 227.1M320.7 151.5l1.7 233M328.5 147.6l1.5 238.9M336.3 145.3l1.3 243.2M344.4 182.5l1 208.1M352.2 147.4l.9 245.4M360.3 155.1l.7 239.8M368.6 209.3l.4 187.7M376.8 217.3l.2 181.9M385 208.7l.1 192.8M393.3 216.7l-.1 186.9M401.6 309.6l-.1 96.2M410.1 263.2l-.3 144.9M418.6 281.6l-.4 128.8M427.1 308.5l-.4 104.2M435.7 320.4l-.5 94.6M444.4 335.7l-.5 81.6M453 364.7l-.4 55M461.9 365.1l-.5 57M470.7 382.5l-.4 42M479.6 396.6l-.3 30.4M488.6 400.6l-.3 28.8M497.8 404.6l-.3 27.2M506.9 420.7l-.2 13.7M516.2 426.6l-.1 10.3M525.6 430.8l-.1 8.6"/>
<path stroke="#d03636" stroke-width="2.4" stroke-linecap="round" d="M236.2 307.9h4.4M242.9 294.5h4.4M249.5 276.5h4.4M256.5 275h4.4M263.2 247.5h4.4M270.2 236.5h4.4M277.2 223.9h4.4M284.1 186h4.4M292.1 242.2h4.4M299.5 237.4h4.4M306.3 160.7h4.4M313.8 155.3h4.4M321.5 151.5h4.4M329.3 147.6h4.4M337.1 145.3h4.4M345.2 182.5h4.4M353 147.4h4.4M361.1 155.1h4.4M369.4 209.3h4.4M377.6 217.3h4.4M385.8 208.7h4.4M394.1 216.7h4.4M402.4 309.6h4.4M410.9 263.2h4.4M419.4 281.6h4.4M427.9 308.5h4.4M436.5 320.4h4.4M445.2 335.7h4.4M453.8 364.7h4.4M462.6 365.1h4.4M471.5 382.5h4.4M480.4 396.6h4.4M489.4 400.6h4.4M498.6 404.6h4.4M507.7 420.7h4.4M517 426.6h4.4M526.4 430.8h4.4"/>
<path transform="scale(1 0.3400)" stroke="#1e4cc0" stroke-width="7" stroke-linecap="round" d="M230 1066.6h0M236.8 1072.1h0M243.7 1077.6h0M250.6 1083.2h0M257.6 1088.8h0M264.7 1094.5h0M271.8 1100.2h0M279 1106h0M286.2 1111.8h0M293.5 1117.7h0M300.9 1123.6h0M308.4 1129.6h0M315.9 1135.6h0M323.4 1141.7h0M331.1 1147.9h0M338.8 1154.1h0M346.6 1160.3h0M354.4 1166.6h0M362.4 1173h0M370.4 1179.4h0M378.4 1185.9h0M386.6 1192.5h0M394.8 1199.1h0M403.1 1205.8h0M411.5 1212.5h0M420 1219.3h0M428.5 1226.2h0M437.1 1233.1h0M445.8 1240.1h0M454.6 1247.2h0M463.5 1254.3h0M472.5 1261.5h0M481.5 1268.8h0M490.7 1276.1h0M499.9 1283.6h0M509.2 1291.1h0M518.6 1298.6h0"/>
<path stroke="#2358d4" stroke-width="7" d="M228.9 301.7l1.1 60.9M235.9 313.8l.9 50.7M242.6 298.9l1.1 67.4M249.1 270.1l1.5 98.1M255.9 254.8l1.7 115.4M263.1 256.2l1.6 115.9M269.8 225l1.9 149.1M277.4 249.8l1.5 126.2M284.2 205.5l2 172.5M291.9 229l1.6 151M298.9 174.4l2 207.6M306.6 188.5l1.8 195.6M314.2 184.8l1.7 201.3M321.7 151.7l1.7 236.5M329.5 149.5l1.6 240.8M337.6 185.1l1.2 207.3M345.5 171.5l1.1 223M353.4 145.9l1 250.7M361.7 178.8l.7 220M369.8 131.1l.6 269.9M378.1 187.9l.3 215.3M386.5 211.1l.1 194.3M394.9 224.3l-.1 183.4M403.4 213.8l-.3 196.1M411.8 262.8l-.3 149.5M420.4 288.1l-.4 126.5M428.9 313.5l-.4 103.4M437.5 355.9l-.3 63.4M446.2 361.3l-.4 60.3M455.1 353.3l-.5 70.8M463.9 374.1l-.4 52.4M472.8 388.2l-.4 40.7M481.9 399.1l-.3 32.3M490.9 411.7l-.2 22.2M500.1 417.6l-.2 18.9M509.4 426.9l-.2 12M518.8 429.4l-.2 12.1"/>
<path stroke="#16379a" stroke-width="3.2" d="M230.8 301.7l1.1 60.9M237.9 313.8l.9 50.7M244.5 298.9l1.1 67.4M251 270.1l1.5 98.1M257.9 254.8l1.7 115.4M265 256.2l1.6 115.9M271.8 225l1.9 149.1M279.4 249.8l1.5 126.2M286.2 205.5l2 172.5M293.9 229l1.6 151M300.8 174.4l2 207.6M308.5 188.5l1.8 195.6M316.1 184.8l1.7 201.3M323.6 151.7l1.7 236.5M331.4 149.5l1.6 240.8M339.5 185.1l1.2 207.3M347.4 171.5l1.1 223M355.4 145.9l1 250.7M363.6 178.8l.7 220M371.7 131.1l.6 269.9M380.1 187.9l.3 215.3M388.4 211.1l.1 194.3M396.8 224.3l-.1 183.4M405.3 213.8l-.3 196.1M413.8 262.8l-.3 149.5M422.3 288.1l-.4 126.5M430.9 313.5l-.4 103.4M439.4 355.9l-.3 63.4M448.1 361.3l-.4 60.3M457.1 353.3l-.5 70.8M465.9 374.1l-.4 52.4M474.8 388.2l-.4 40.7M483.8 399.1l-.3 32.3M492.8 411.7l-.2 22.2M502.1 417.6l-.2 18.9M511.3 426.9l-.2 12M520.7 429.4l-.2 12.1"/>
<path stroke="#1c46b4" stroke-width="1" d="M225.9 301.7l1.1 60.9M232.9 313.8l.9 50.7M239.6 298.9l1.1 67.4M246.1 270.1l1.5 98.1M252.9 254.8l1.7 115.4M260.1 256.2l1.6 115.9M266.8 225l1.9 149.1M274.4 249.8l1.5 126.2M281.2 205.5l2 172.5M288.9 229l1.6 151M295.8 174.4l2 207.6M303.6 188.5l1.8 195.6M311.2 184.8l1.7 201.3M318.7 151.7l1.7 236.5M326.5 149.5l1.6 240.8M334.6 185.1l1.2 207.3M342.5 171.5l1.1 223M350.4 145.9l1 250.7M358.7 178.8l.7 220M366.7 131.1l.6 269.9M375.1 187.9l.3 215.3M383.5 211.1l.1 194.3M391.9 224.3l-.1 183.4M400.4 213.8l-.3 196.1M408.8 262.8l-.3 149.5M417.3 288.1l-.4 126.5M425.9 313.5l-.4 103.4M434.4 355.9l-.3 63.4M443.2 361.3l-.4 60.3M452.1 353.3l-.5 70.8M460.9 374.1l-.4 52.4M469.8 388.2l-.4 40.7M478.8 399.1l-.3 32.3M487.9 411.7l-.2 22.2M497.1 417.6l-.2 18.9M506.4 426.9l-.2 12M515.8 429.4l-.2 12.1"/>
<path stroke="#3a70e0" stroke-width="2.4" stroke-linecap="round" d="M226.7 301.7h4.4M233.7 313.8h4.4M240.4 298.9h4.4M246.9 270.1h4.4M253.7 254.8h4.4M260.9 256.2h4.4M267.6 225h4.4M275.2 249.8h4.4M282 205.5h4.4M289.7 229h4.4M296.6 174.4h4.4M304.4 188.5h4.4M312 184.8h4.4M319.5 151.7h4.4M327.3 149.5h4.4M335.4 185.1h4.4M343.3 171.5h4.4M351.2 145.9h4.4M359.5 178.8h4.4M367.5 131.1h4.4M375.9 187.9h4.4M384.3 211.1h4.4M392.7 224.3h4.4M401.2 213.8h4.4M409.6 262.8h4.4M418.1 288.1h4.4M426.7 313.5h4.4M435.2 355.9h4.4M444 361.3h4.4M452.9 353.3h4.4M461.7 374.1h4.4M470.6 388.2h4.4M479.6 399.1h4.4M488.7 411.7h4.4M497.9 417.6h4.4M507.2 426.9h4.4M516.6 429.4h4.4"/>
<path transform="scale(1 0.3400)" stroke="#d25f0e" stroke-width="7" stroke-linecap="round" d="M220.6 1071h0M227.4 1076.6h0M234.2 1082.1h0M241.2 1087.7h0M248.1 1093.4h0M255.2 1099.1h0M262.3 1104.9h0M269.5 1110.7h0M276.7 1116.6h0M284 1122.5h0M291.3 1128.5h0M298.8 1134.5h0M306.3 1140.6h0M313.8 1146.7h0M321.5 1152.9h0M329.2 1159.1h0M336.9 1165.4h0M344.8 1171.8h0M352.7 1178.2h0M360.7 1184.7h0M368.7 1191.2h0M376.9 1197.8h0M385.1 1204.5h0M393.4 1211.2h0M401.7 1218h0M410.2 1224.9h0M418.7 1231.8h0M427.3 1238.8h0M436 1245.8h0M444.8 1253h0M453.7 1260.2h0M462.6 1267.4h0M471.6 1274.8h0M480.8 1282.2h0M490 1289.6h0M499.3 1297.2h0M508.7 1304.8h0"/>
<path stroke="#e86a12" stroke-width="7" d="M219.9 327l.7 37.2M226.5 315.2l.9 50.8M233 297.2l1.2 70.7M239.7 282.1l1.4 87.8M246.4 260.6l1.7 111.2M253.5 263.6l1.6 110.1M260.7 260.4l1.6 115.2M267.6 241.5l1.8 136.1M274.5 205l2.2 174.7M281.8 191.9l2.2 189.8M289.4 201.1l2 182.6M296.8 192.7l1.9 193.1M304.1 156.4l2.1 231.4M311.8 150.9l2 239M319.6 153.6l1.8 238.4M327.8 196l1.3 198.1M335.5 159.1l1.4 237.2M343.6 168.5l1.2 229.9M351.6 149.5l1.1 251.1M360.1 229.5l.6 173.3M368.1 141.4l.6 263.6M376.5 193.6l.3 213.7M384.9 210.2l.1 199.3M393.4 274.2l-0 137.6M401.9 267.5l-.2 146.7M410.5 262.3l-.3 154.1M419 335.3l-.3 83.5M427.7 323.7l-.4 97.5M436.4 339.3l-.4 84.3M445.1 370.3l-.3 55.7M454.1 370.8l-.4 57.7M462.9 391.8l-.3 39.1M472 394.1l-.3 39.3M481.1 408.5l-.3 27.4M490.2 417.8l-.2 20.7M499.6 420.3l-.2 20.8M508.9 429.8l-.2 13.9"/>
<path stroke="#a84a08" stroke-width="3.2" d="M221.8 327l.7 37.2M228.4 315.2l.9 50.8M235 297.2l1.2 70.7M241.7 282.1l1.4 87.8M248.3 260.6l1.7 111.2M255.5 263.6l1.6 110.1M262.6 260.4l1.6 115.2M269.6 241.5l1.8 136.1M276.4 205l2.2 174.7M283.7 191.9l2.2 189.8M291.3 201.1l2 182.6M298.8 192.7l1.9 193.1M306.1 156.4l2.1 231.4M313.7 150.9l2 239M321.6 153.6l1.8 238.4M329.7 196l1.3 198.1M337.5 159.1l1.4 237.2M345.5 168.5l1.2 229.9M353.6 149.5l1.1 251.1M362 229.5l.6 173.3M370 141.4l.6 263.6M378.5 193.6l.3 213.7M386.9 210.2l.1 199.3M395.3 274.2l-0 137.6M403.8 267.5l-.2 146.7M412.4 262.3l-.3 154.1M420.9 335.3l-.3 83.5M429.6 323.7l-.4 97.5M438.4 339.3l-.4 84.3M447.1 370.3l-.3 55.7M456 370.8l-.4 57.7M464.9 391.8l-.3 39.1M473.9 394.1l-.3 39.3M483 408.5l-.3 27.4M492.2 417.8l-.2 20.7M501.5 420.3l-.2 20.8M510.8 429.8l-.2 13.9"/>
<path stroke="#c5580c" stroke-width="1" d="M216.8 327l.7 37.2M223.4 315.2l.9 50.8M230 297.2l1.2 70.7M236.7 282.1l1.4 87.8M243.4 260.6l1.7 111.2M250.5 263.6l1.6 110.1M257.6 260.4l1.6 115.2M264.6 241.5l1.8 136.1M271.5 205l2.2 174.7M278.7 191.9l2.2 189.8M286.3 201.1l2 182.6M293.8 192.7l1.9 193.1M301.1 156.4l2.1 231.4M308.8 150.9l2 239M316.6 153.6l1.8 238.4M324.8 196l1.3 198.1M332.5 159.1l1.4 237.2M340.6 168.5l1.2 229.9M348.6 149.5l1.1 251.1M357.1 229.5l.6 173.3M365 141.4l.6 263.6M373.5 193.6l.3 213.7M381.9 210.2l.1 199.3M390.4 274.2l-0 137.6M398.9 267.5l-.2 146.7M407.5 262.3l-.3 154.1M415.9 335.3l-.3 83.5M424.7 323.7l-.4 97.5M433.4 339.3l-.4 84.3M442.1 370.3l-.3 55.7M451 370.8l-.4 57.7M459.9 391.8l-.3 39.1M469 394.1l-.3 39.3M478 408.5l-.3 27.4M487.2 417.8l-.2 20.7M496.5 420.3l-.2 20.8M505.9 429.8l-.2 13.9"/>
<path stroke="#f08434" stroke-width="2.4" stroke-linecap="round" d="M217.6 327h4.4M224.2 315.2h4.4M230.8 297.2h4.4M237.5 282.1h4.4M244.2 260.6h4.4M251.3 263.6h4.4M258.4 260.4h4.4M265.4 241.5h4.4M272.3 205h4.4M279.5 191.9h4.4M287.1 201.1h4.4M294.6 192.7h4.4M301.9 156.4h4.4M309.6 150.9h4.4M317.4 153.6h4.4M325.6 196h4.4M333.3 159.1h4.4M341.4 168.5h4.4M349.4 149.5h4.4M357.9 229.5h4.4M365.9 141.4h4.4M374.3 193.6h4.4M382.7 210.2h4.4M391.2 274.2h4.4M399.7 267.5h4.4M408.3 262.3h4.4M416.7 335.3h4.4M425.5 323.7h4.4M434.2 339.3h4.4M442.9 370.3h4.4M451.8 370.8h4.4M460.7 391.8h4.4M469.8 394.1h4.4M478.8 408.5h4.4M488 417.8h4.4M497.3 420.3h4.4M506.7 429.8h4.4"/>
<path transform="scale(1 0.3400)" stroke="#2c95ac" stroke-width="7.1" stroke-linecap="round" d="M211.1 1075.5h0M217.9 1081.1h0M224.7 1086.7h0M231.6 1092.3h0M238.6 1098.1h0M245.6 1103.8h0M252.7 1109.6h0M259.9 1115.5h0M267.1 1121.4h0M274.4 1127.3h0M281.7 1133.4h0M289.1 1139.4h0M296.6 1145.6h0M304.1 1151.7h0M311.8 1158h0M319.4 1164.3h0M327.2 1170.6h0M335 1177h0M342.9 1183.5h0M350.9 1190h0M358.9 1196.6h0M367 1203.3h0M375.2 1210h0M383.5 1216.8h0M391.9 1223.6h0M400.3 1230.5h0M408.8 1237.5h0M417.4 1244.5h0M426.1 1251.6h0M434.9 1258.8h0M443.7 1266.1h0M452.7 1273.4h0M461.7 1280.8h0M470.8 1288.2h0M480 1295.8h0M489.3 1303.4h0M498.7 1311.1h0"/>
<path stroke="#34a8c0" stroke-width="7.1" d="M210.4 328.4l.7 37.3M217.1 324.1l.8 43.5M223.6 309.2l1.1 60.3M230.4 303.2l1.2 68.2M237.3 292.6l1.3 80.7M244.4 300.4l1.2 74.9M250.8 250.7l1.9 126.6M258.2 261.6l1.7 117.7M264.9 223.5l2.1 157.8M272.2 212.1l2.2 171.2M279.4 192.4l2.3 192.9M286.8 182.3l2.3 205.1M294.5 188.4l2.1 201.1M302.1 173.2l2.1 218.4M309.9 182.6l1.8 211.1M317.6 158.9l1.9 237M325.5 151.6l1.7 246.4M333.5 157.7l1.5 242.5M341.6 145.3l1.4 257.1M349.7 142.9l1.2 261.7M358 150.8l.9 256M366.4 163.9l.6 245.2M375 241.9l.3 169.5M383.4 223l.2 190.7M391.9 215.8l-0 200.2M400.4 292.6l-.1 125.7M409.1 299.5l-.2 121.2M417.7 330.4l-.3 92.7M426.5 335.8l-.3 89.7M435.2 368.7l-.3 59.3M444.1 358.8l-.4 71.6M453 390.3l-.3 42.7M461.9 408.1l-.2 27.4M471.1 401.8l-.3 36.2M480.3 414.6l-.3 25.9M489.5 425.8l-.2 17.4M498.9 431.8l-.2 13.9"/>
<path stroke="#1e7388" stroke-width="3.2" d="M212.3 328.4l.7 37.3M219 324.1l.8 43.5M225.6 309.2l1.1 60.3M232.4 303.2l1.2 68.2M239.2 292.6l1.3 80.7M246.4 300.4l1.2 74.9M252.7 250.7l1.9 126.6M260.1 261.6l1.7 117.7M266.9 223.5l2.1 157.8M274.1 212.1l2.2 171.2M281.3 192.4l2.3 192.9M288.8 182.3l2.3 205.1M296.5 188.4l2.1 201.1M304 173.2l2.1 218.4M311.9 182.6l1.8 211.1M319.5 158.9l1.9 237M327.4 151.6l1.7 246.4M335.5 157.7l1.5 242.5M343.5 145.3l1.4 257.1M351.7 142.9l1.2 261.7M360 150.8l.9 256M368.3 163.9l.6 245.2M376.9 241.9l.3 169.5M385.3 223l.2 190.7M393.8 215.8l-0 200.2M402.4 292.6l-.1 125.7M411 299.5l-.2 121.2M419.6 330.4l-.3 92.7M428.4 335.8l-.3 89.7M437.1 368.7l-.3 59.3M446.1 358.8l-.4 71.6M454.9 390.3l-.3 42.7M463.8 408.1l-.2 27.4M473.1 401.8l-.3 36.2M482.2 414.6l-.3 25.9M491.4 425.8l-.2 17.4M500.8 431.8l-.2 13.9"/>
<path stroke="#288ba1" stroke-width="1" d="M207.3 328.4l.7 37.3M214 324.1l.8 43.5M220.6 309.2l1.1 60.3M227.4 303.2l1.2 68.2M234.2 292.6l1.3 80.7M241.4 300.4l1.2 74.9M247.8 250.7l1.9 126.6M255.1 261.6l1.7 117.7M261.9 223.5l2.1 157.8M269.1 212.1l2.2 171.2M276.4 192.4l2.3 192.9M283.8 182.3l2.3 205.1M291.5 188.4l2.1 201.1M299 173.2l2.1 218.4M306.9 182.6l1.8 211.1M314.5 158.9l1.9 237M322.4 151.6l1.7 246.4M330.5 157.7l1.5 242.5M338.5 145.3l1.4 257.1M346.7 142.9l1.2 261.7M355 150.8l.9 256M363.4 163.9l.6 245.2M371.9 241.9l.3 169.5M380.3 223l.2 190.7M388.9 215.8l-0 200.2M397.4 292.6l-.1 125.7M406 299.5l-.2 121.2M414.7 330.4l-.3 92.7M423.4 335.8l-.3 89.7M432.1 368.7l-.3 59.3M441.1 358.8l-.4 71.6M449.9 390.3l-.3 42.7M458.9 408.1l-.2 27.4M468.1 401.8l-.3 36.2M477.2 414.6l-.3 25.9M486.5 425.8l-.2 17.4M495.8 431.8l-.2 13.9"/>
<path stroke="#50bcd0" stroke-width="2.4" stroke-linecap="round" d="M208.1 328.4h4.5M214.8 324.1h4.5M221.4 309.2h4.5M228.2 303.2h4.5M235 292.6h4.5M242.2 300.4h4.5M248.6 250.7h4.5M256 261.6h4.5M262.7 223.5h4.5M269.9 212.1h4.5M277.2 192.4h4.5M284.6 182.3h4.5M292.3 188.4h4.5M299.8 173.2h4.5M307.7 182.6h4.5M315.3 158.9h4.5M323.2 151.6h4.5M331.3 157.7h4.5M339.3 145.3h4.5M347.5 142.9h4.5M355.8 150.8h4.5M364.2 163.9h4.5M372.7 241.9h4.5M381.1 223h4.5M389.7 215.8h4.5M398.2 292.6h4.5M406.8 299.5h4.5M415.5 330.4h4.5M424.2 335.8h4.5M432.9 368.7h4.5M441.9 358.8h4.5M450.7 390.3h4.5M459.7 408.1h4.5M468.9 401.8h4.5M478 414.6h4.5M487.3 425.8h4.5M496.6 431.8h4.5"/>
<path transform="scale(1 0.3400)" stroke="#4522af" stroke-width="7.1" stroke-linecap="round" d="M201.6 1080h0M208.3 1085.6h0M215.2 1091.3h0M222 1097h0M229 1102.7h0M236 1108.5h0M243.1 1114.4h0M250.2 1120.3h0M257.4 1126.2h0M264.7 1132.2h0M272 1138.3h0M279.4 1144.4h0M286.9 1150.6h0M294.4 1156.8h0M302 1163.1h0M309.6 1169.4h0M317.4 1175.8h0M325.2 1182.3h0M333.1 1188.8h0M341 1195.4h0M349.1 1202h0M357.2 1208.7h0M365.3 1215.5h0M373.6 1222.3h0M381.9 1229.2h0M390.4 1236.2h0M398.9 1243.2h0M407.5 1250.3h0M416.1 1257.5h0M424.9 1264.7h0M433.7 1272h0M442.6 1279.4h0M451.6 1286.8h0M460.8 1294.4h0M470 1302h0M479.2 1309.7h0M488.6 1317.4h0"/>
<path stroke="#5028c8" stroke-width="7.1" d="M201 340.3l.6 26.9M207.6 333.1l.7 36.1M214.5 334.8l.7 36.2M221 318.3l1 54.6M227.6 295.5l1.4 79.5M234.6 292.4l1.4 84.5M241.3 270.7l1.7 108.2M248.1 245.4l2.1 135.5M255.2 234.2l2.2 148.7M262.5 226l2.2 159M270.3 254.6l1.7 132.4M277.2 212.5l2.2 176.6M284.7 204.1l2.1 187.1M292.7 231.5l1.7 161.8M300 188.5l2 206.9M308 211.3l1.7 186.3M316 225.9l1.4 173.9M323.5 160.3l1.7 241.7M331.6 176.7l1.4 227.5M339.9 208.3l1.1 198.1M348.2 228.3l.8 180.4M356.5 229.7l.7 181.2M364.9 243.1l.5 170.1M373.3 261.7l.3 153.9M381.8 273.6l.1 144.3M390.4 300.9l0 119.4M399 306.2l-.1 116.5M407.6 325.2l-.2 99.9M416.3 346l-.2 81.5M425.1 372.2l-.2 57.8M433.9 384.7l-.2 47.8M442.9 390.4l-.3 44.6M451.9 404.8l-.2 32.7M461 414.2l-.2 25.9M470.1 430.5l-.1 12.1M479.3 436.6l-.1 8.7M488.8 435.7l-.1 12.2"/>
<path stroke="#301680" stroke-width="3.2" d="M203 340.3l.6 26.9M209.6 333.1l.7 36.1M216.4 334.8l.7 36.2M223 318.3l1 54.6M229.5 295.5l1.4 79.5M236.5 292.4l1.4 84.5M243.3 270.7l1.7 108.2M250.1 245.4l2.1 135.5M257.2 234.2l2.2 148.7M264.4 226l2.2 159M272.2 254.6l1.7 132.4M279.2 212.5l2.2 176.6M286.7 204.1l2.1 187.1M294.6 231.5l1.7 161.8M301.9 188.5l2 206.9M309.9 211.3l1.7 186.3M317.9 225.9l1.4 173.9M325.4 160.3l1.7 241.7M333.6 176.7l1.4 227.5M341.9 208.3l1.1 198.1M350.2 228.3l.8 180.4M358.4 229.7l.7 181.2M366.8 243.1l.5 170.1M375.3 261.7l.3 153.9M383.8 273.6l.1 144.3M392.3 300.9l0 119.4M400.9 306.2l-.1 116.5M409.6 325.2l-.2 99.9M418.3 346l-.2 81.5M427 372.2l-.2 57.8M435.9 384.7l-.2 47.8M444.8 390.4l-.3 44.6M453.8 404.8l-.2 32.7M462.9 414.2l-.2 25.9M472 430.5l-.1 12.1M481.3 436.6l-.1 8.7M490.7 435.7l-.1 12.2"/>
<path stroke="#3e1ea0" stroke-width="1" d="M197.9 340.3l.6 26.9M204.6 333.1l.7 36.1M211.4 334.8l.7 36.2M218 318.3l1 54.6M224.5 295.5l1.4 79.5M231.5 292.4l1.4 84.5M238.3 270.7l1.7 108.2M245.1 245.4l2.1 135.5M252.2 234.2l2.2 148.7M259.4 226l2.2 159M267.2 254.6l1.7 132.4M274.2 212.5l2.2 176.6M281.7 204.1l2.1 187.1M289.6 231.5l1.7 161.8M296.9 188.5l2 206.9M304.9 211.3l1.7 186.3M312.9 225.9l1.4 173.9M320.4 160.3l1.7 241.7M328.6 176.7l1.4 227.5M336.9 208.3l1.1 198.1M345.2 228.3l.8 180.4M353.4 229.7l.7 181.2M361.8 243.1l.5 170.1M370.3 261.7l.3 153.9M378.8 273.6l.1 144.3M387.3 300.9l0 119.4M395.9 306.2l-.1 116.5M404.6 325.2l-.2 99.9M413.3 346l-.2 81.5M422 372.2l-.2 57.8M430.9 384.7l-.2 47.8M439.8 390.4l-.3 44.6M448.8 404.8l-.2 32.7M457.9 414.2l-.2 25.9M467 430.5l-.1 12.1M476.3 436.6l-.1 8.7M485.7 435.7l-.1 12.2"/>
<path stroke="#6440d8" stroke-width="2.4" stroke-linecap="round" d="M198.8 340.3h4.5M205.4 333.1h4.5M212.2 334.8h4.5M218.8 318.3h4.5M225.3 295.5h4.5M232.3 292.4h4.5M239.1 270.7h4.5M245.9 245.4h4.5M253 234.2h4.5M260.2 226h4.5M268 254.6h4.5M275 212.5h4.5M282.5 204.1h4.5M290.4 231.5h4.5M297.7 188.5h4.5M305.7 211.3h4.5M313.7 225.9h4.5M321.2 160.3h4.5M329.4 176.7h4.5M337.7 208.3h4.5M346 228.3h4.5M354.3 229.7h4.5M362.6 243.1h4.5M371.1 261.7h4.5M379.6 273.6h4.5M388.1 300.9h4.5M396.7 306.2h4.5M405.4 325.2h4.5M414.1 346h4.5M422.8 372.2h4.5M431.7 384.7h4.5M440.6 390.4h4.5M449.6 404.8h4.5M458.7 414.2h4.5M467.8 430.5h4.5M477.1 436.6h4.5M486.5 435.7h4.5"/>
<path transform="scale(1 0.3400)" stroke="#71b418" stroke-width="7.1" stroke-linecap="round" d="M192 1084.6h0M198.7 1090.2h0M205.5 1095.9h0M212.4 1101.6h0M219.3 1107.4h0M226.3 1113.3h0M233.4 1119.2h0M240.5 1125.1h0M247.7 1131.1h0M254.9 1137.2h0M262.2 1143.3h0M269.6 1149.4h0M277 1155.6h0M284.6 1161.9h0M292.1 1168.2h0M299.8 1174.6h0M307.5 1181.1h0M315.3 1187.6h0M323.2 1194.1h0M331.1 1200.8h0M339.1 1207.5h0M347.2 1214.2h0M355.4 1221h0M363.6 1227.9h0M371.9 1234.9h0M380.3 1241.9h0M388.8 1249h0M397.4 1256.1h0M406.1 1263.3h0M414.8 1270.6h0M423.6 1278h0M432.5 1285.4h0M441.5 1293h0M450.6 1300.6h0M459.8 1308.2h0M469.1 1316h0M478.4 1323.8h0"/>
<path stroke="#80c81c" stroke-width="7.1" d="M191.4 344.8l.5 24M198.1 343.6l.6 27.1M204.9 342.4l.6 30.3M211.3 319.7l1.1 54.8M218.4 327.6l.9 48.9M224.8 293.8l1.5 84.7M231.9 295.4l1.5 85.1M239 292.4l1.5 90.2M246 278.2l1.7 106.4M252.8 243.1l2.1 143.5M260 228.5l2.3 160.2M267.5 229.9l2.1 160.9M274.7 205.1l2.3 187.8M282.2 191.6l2.4 203.4M290 202.8l2.1 194.4M298.1 227.3l1.7 172.1M305.9 225.4l1.6 176.2M313.9 238.5l1.4 165.3M321.8 219.9l1.4 186.1M329.9 231.4l1.2 176.9M338.3 259.9l.9 150.7M346.3 222.4l.9 190.4M355 317.1l.4 98M363.3 300.4l.4 117M371.6 249.2l.4 170.6M380.2 290.4l.2 131.8M388.8 318l0 106.7M397.5 337.1l-.1 90M406.2 340.8l-.1 88.7M415 368.8l-.2 63.2M423.8 386.5l-.2 48M432.7 406.1l-.1 30.9M441.7 410.3l-.2 29.3M450.8 421.4l-.1 20.8M459.9 429.1l-.1 15.7M469.2 435.2l-.1 12.2M478.6 439.6l-.1 10.5"/>
<path stroke="#569010" stroke-width="3.2" d="M193.4 344.8l.5 24M200.1 343.6l.6 27.1M206.9 342.4l.6 30.3M213.3 319.7l1.1 54.8M220.4 327.6l.9 48.9M226.8 293.8l1.5 84.7M233.9 295.4l1.5 85.1M241 292.4l1.5 90.2M248 278.2l1.7 106.4M254.7 243.1l2.1 143.5M261.9 228.5l2.3 160.2M269.4 229.9l2.1 160.9M276.7 205.1l2.3 187.8M284.1 191.6l2.4 203.4M292 202.8l2.1 194.4M300 227.3l1.7 172.1M307.9 225.4l1.6 176.2M315.9 238.5l1.4 165.3M323.7 219.9l1.4 186.1M331.9 231.4l1.2 176.9M340.2 259.9l.9 150.7M348.3 222.4l.9 190.4M357 317.1l.4 98M365.2 300.4l.4 117M373.5 249.2l.4 170.6M382.2 290.4l.2 131.8M390.8 318l0 106.7M399.4 337.1l-.1 90M408.2 340.8l-.1 88.7M416.9 368.8l-.2 63.2M425.7 386.5l-.2 48M434.6 406.1l-.1 30.9M443.7 410.3l-.2 29.3M452.7 421.4l-.1 20.8M461.9 429.1l-.1 15.7M471.1 435.2l-.1 12.2M480.5 439.6l-.1 10.5"/>
<path stroke="#69a915" stroke-width="1" d="M188.4 344.8l.5 24M195.1 343.6l.6 27.1M201.8 342.4l.6 30.3M208.3 319.7l1.1 54.8M215.3 327.6l.9 48.9M221.7 293.8l1.5 84.7M228.8 295.4l1.5 85.1M235.9 292.4l1.5 90.2M242.9 278.2l1.7 106.4M249.7 243.1l2.1 143.5M256.9 228.5l2.3 160.2M264.4 229.9l2.1 160.9M271.6 205.1l2.3 187.8M279.1 191.6l2.4 203.4M287 202.8l2.1 194.4M295 227.3l1.7 172.1M302.8 225.4l1.6 176.2M310.9 238.5l1.4 165.3M318.7 219.9l1.4 186.1M326.9 231.4l1.2 176.9M335.2 259.9l.9 150.7M343.2 222.4l.9 190.4M351.9 317.1l.4 98M360.2 300.4l.4 117M368.5 249.2l.4 170.6M377.1 290.4l.2 131.8M385.7 318l0 106.7M394.4 337.1l-.1 90M403.1 340.8l-.1 88.7M411.9 368.8l-.2 63.2M420.7 386.5l-.2 48M429.6 406.1l-.1 30.9M438.6 410.3l-.2 29.3M447.7 421.4l-.1 20.8M456.9 429.1l-.1 15.7M466.1 435.2l-.1 12.2M475.5 439.6l-.1 10.5"/>
<path stroke="#98d83c" stroke-width="2.4" stroke-linecap="round" d="M189.2 344.8h4.5M195.9 343.6h4.5M202.7 342.4h4.5M209.1 319.7h4.5M216.2 327.6h4.5M222.5 293.8h4.5M229.7 295.4h4.5M236.8 292.4h4.5M243.8 278.2h4.5M250.5 243.1h4.5M257.7 228.5h4.5M265.2 229.9h4.5M272.5 205.1h4.5M279.9 191.6h4.5M287.8 202.8h4.5M295.8 227.3h4.5M303.6 225.4h4.5M311.7 238.5h4.5M319.5 219.9h4.5M327.7 231.4h4.5M336 259.9h4.5M344 222.4h4.5M352.7 317.1h4.5M361 300.4h4.5M369.3 249.2h4.5M377.9 290.4h4.5M386.6 318h4.5M395.2 337.1h4.5M404 340.8h4.5M412.7 368.8h4.5M421.5 386.5h4.5M430.4 406.1h4.5M439.4 410.3h4.5M448.5 421.4h4.5M457.7 429.1h4.5M466.9 435.2h4.5M476.3 439.6h4.5"/>
<path transform="scale(1 0.3400)" stroke="#a91818" stroke-width="7.1" stroke-linecap="round" d="M182.3 1089.2h0M189 1094.8h0M195.8 1100.6h0M202.7 1106.4h0M209.6 1112.2h0M216.6 1118.1h0M223.6 1124h0M230.7 1130h0M237.9 1136h0M245.1 1142.1h0M252.4 1148.3h0M259.7 1154.5h0M267.2 1160.7h0M274.7 1167h0M282.2 1173.4h0M289.9 1179.9h0M297.6 1186.3h0M305.3 1192.9h0M313.2 1199.5h0M321.1 1206.2h0M329.1 1212.9h0M337.2 1219.7h0M345.3 1226.6h0M353.6 1233.6h0M361.9 1240.6h0M370.2 1247.6h0M378.7 1254.8h0M387.3 1262h0M395.9 1269.3h0M404.6 1276.6h0M413.4 1284h0M422.3 1291.5h0M431.3 1299.1h0M440.4 1306.8h0M449.6 1314.5h0M458.8 1322.3h0M468.2 1330.2h0"/>
<path stroke="#c01c1c" stroke-width="7.1" d="M181.9 355.3l.3 15M188.5 348.1l.5 24.2M195.2 345.4l.6 28.8M201.9 341.1l.7 35.1M208.6 330.6l.9 47.5M215.5 323.1l1.1 57M222.3 310.8l1.3 71.3M229.2 296.9l1.5 87.3M236.4 297l1.5 89.3M243.7 301.8l1.4 86.5M250.1 240.9l2.3 149.5M257.6 244l2.1 148.5M264.9 224.2l2.3 170.4M272.9 260l1.7 136.7M279.8 193.9l2.4 205.1M287.6 193.5l2.3 207.7M295.7 218.2l1.9 185.2M303.7 228l1.7 177.6M311.6 221l1.6 186.8M319.8 237.7l1.3 172.5M328 252.7l1.1 159.7M336.4 284.8l.8 129.9M344.5 245.6l.9 171.4M353 291.7l.5 127.7M361.5 305.5l.4 116.3M370 322.7l.2 101.4M378.6 370.8l.1 55.8M387.2 349.1l0 80M395.9 371.8l-0 59.7M404.7 384.4l-.1 49.7M413.5 393.6l-.1 43M422.4 409.8l-.1 29.3M431.5 412.2l-.1 29.5M440.5 425.2l-.1 19.1M449.7 433l-.1 14M458.9 439.1l-.1 10.5M468.3 441.7l-.1 10.6"/>
<path stroke="#7e1212" stroke-width="3.2" d="M183.9 355.3l.3 15M190.5 348.1l.5 24.2M197.2 345.4l.6 28.8M203.9 341.1l.7 35.1M210.6 330.6l.9 47.5M217.4 323.1l1.1 57M224.3 310.8l1.3 71.3M231.1 296.9l1.5 87.3M238.3 297l1.5 89.3M245.7 301.8l1.4 86.5M252.1 240.9l2.3 149.5M259.6 244l2.1 148.5M266.8 224.2l2.3 170.4M274.9 260l1.7 136.7M281.7 193.9l2.4 205.1M289.5 193.5l2.3 207.7M297.6 218.2l1.9 185.2M305.6 228l1.7 177.6M313.6 221l1.6 186.8M321.7 237.7l1.3 172.5M330 252.7l1.1 159.7M338.4 284.8l.8 129.9M346.4 245.6l.9 171.4M355 291.7l.5 127.7M363.5 305.5l.4 116.3M372 322.7l.2 101.4M380.6 370.8l.1 55.8M389.2 349.1l0 80M397.9 371.8l-0 59.7M406.7 384.4l-.1 49.7M415.5 393.6l-.1 43M424.4 409.8l-.1 29.3M433.4 412.2l-.1 29.5M442.5 425.2l-.1 19.1M451.6 433l-.1 14M460.9 439.1l-.1 10.5M470.2 441.7l-.1 10.6"/>
<path stroke="#9c1616" stroke-width="1" d="M178.9 355.3l.3 15M185.4 348.1l.5 24.2M192.1 345.4l.6 28.8M198.9 341.1l.7 35.1M205.6 330.6l.9 47.5M212.4 323.1l1.1 57M219.2 310.8l1.3 71.3M226.1 296.9l1.5 87.3M233.3 297l1.5 89.3M240.6 301.8l1.4 86.5M247 240.9l2.3 149.5M254.5 244l2.1 148.5M261.8 224.2l2.3 170.4M269.8 260l1.7 136.7M276.7 193.9l2.4 205.1M284.5 193.5l2.3 207.7M292.6 218.2l1.9 185.2M300.6 228l1.7 177.6M308.5 221l1.6 186.8M316.7 237.7l1.3 172.5M324.9 252.7l1.1 159.7M333.3 284.8l.8 129.9M341.4 245.6l.9 171.4M350 291.7l.5 127.7M358.4 305.5l.4 116.3M366.9 322.7l.2 101.4M375.6 370.8l.1 55.8M384.2 349.1l0 80M392.9 371.8l-0 59.7M401.6 384.4l-.1 49.7M410.5 393.6l-.1 43M419.4 409.8l-.1 29.3M428.4 412.2l-.1 29.5M437.4 425.2l-.1 19.1M446.6 433l-.1 14M455.8 439.1l-.1 10.5M465.2 441.7l-.1 10.6"/>
<path stroke="#d03636" stroke-width="2.4" stroke-linecap="round" d="M179.7 355.3h4.5M186.2 348.1h4.5M192.9 345.4h4.5M199.7 341.1h4.5M206.4 330.6h4.5M213.2 323.1h4.5M220 310.8h4.5M226.9 296.9h4.5M234.1 297h4.5M241.4 301.8h4.5M247.9 240.9h4.5M255.3 244h4.5M262.6 224.2h4.5M270.7 260h4.5M277.5 193.9h4.5M285.3 193.5h4.5M293.4 218.2h4.5M301.4 228h4.5M309.3 221h4.5M317.5 237.7h4.5M325.8 252.7h4.5M334.1 284.8h4.5M342.2 245.6h4.5M350.8 291.7h4.5M359.2 305.5h4.5M367.8 322.7h4.5M376.4 370.8h4.5M385 349.1h4.5M393.7 371.8h4.5M402.4 384.4h4.5M411.3 393.6h4.5M420.2 409.8h4.5M429.2 412.2h4.5M438.2 425.2h4.5M447.4 433h4.5M456.7 439.1h4.5M466 441.7h4.5"/>
<path transform="scale(1 0.3400)" stroke="#1e4cc0" stroke-width="7.2" stroke-linecap="round" d="M172.5 1093.8h0M179.3 1099.5h0M186 1105.3h0M192.9 1111.1h0M199.8 1117h0M206.7 1122.9h0M213.7 1128.9h0M220.8 1134.9h0M228 1141h0M235.2 1147.1h0M242.5 1153.3h0M249.8 1159.6h0M257.2 1165.9h0M264.7 1172.2h0M272.2 1178.6h0M279.8 1185.1h0M287.5 1191.7h0M295.3 1198.3h0M303.1 1204.9h0M311 1211.7h0M319 1218.5h0M327.1 1225.3h0M335.2 1232.3h0M343.4 1239.2h0M351.7 1246.3h0M360.1 1253.4h0M368.5 1260.6h0M377.1 1267.9h0M385.7 1275.2h0M394.4 1282.7h0M403.2 1290.1h0M412.1 1297.7h0M421 1305.3h0M430.1 1313.1h0M439.3 1320.9h0M448.5 1328.7h0M457.8 1336.7h0"/>
<path stroke="#2358d4" stroke-width="7.2" d="M172.2 355.3l.4 16.6M178.9 358.7l.4 15.1M185.5 351.4l.5 24.4M192.1 344.1l.7 33.7M199.2 352.1l.6 27.6M205.8 337l.9 44.8M212.5 318.5l1.3 65.3M220 339.1l.9 46.7M226.7 315.8l1.3 72.2M233.5 288.9l1.7 101.2M240.6 280.9l1.8 111.2M248.1 285.7l1.7 108.5M255.3 263l2 133.4M262.8 259.7l1.9 138.9M269.9 223.2l2.3 177.5M277.7 228l2.1 175M285.7 246.1l1.8 159.1M293.7 259.4l1.6 148.1M301.6 250.9l1.5 158.8M309.4 227l1.6 185M317.8 260.8l1.2 153.5M326 267.5l1 149.1M334.4 296.5l.8 122.5M342.9 330.6l.5 90.7M351.3 334.3l.4 89.4M359.7 329.5l.3 96.7M368.3 352.1l.2 76.5M377 374.8l.1 56.2M385.7 392.6l0 41M394.4 389.7l-0 46.4M403.2 404.2l-0 34.5M412.1 413.5l-.1 27.7M421.1 421.2l-.1 22.6M430.2 427.2l-.1 19.2M439.3 433.3l-.1 15.8M448.6 439.4l-.1 12.3M457.9 445.6l-.1 8.8"/>
<path stroke="#16379a" stroke-width="3.2" d="M174.1 355.3l.4 16.6M180.9 358.7l.4 15.1M187.5 351.4l.5 24.4M194.1 344.1l.7 33.7M201.2 352.1l.6 27.6M207.8 337l.9 44.8M214.5 318.5l1.3 65.3M221.9 339.1l.9 46.7M228.7 315.8l1.3 72.2M235.4 288.9l1.7 101.2M242.6 280.9l1.8 111.2M250.1 285.7l1.7 108.5M257.2 263l2 133.4M264.7 259.7l1.9 138.9M271.9 223.2l2.3 177.5M279.7 228l2.1 175M287.7 246.1l1.8 159.1M295.7 259.4l1.6 148.1M303.6 250.9l1.5 158.8M311.4 227l1.6 185M319.8 260.8l1.2 153.5M328 267.5l1 149.1M336.4 296.5l.8 122.5M344.9 330.6l.5 90.7M353.3 334.3l.4 89.4M361.7 329.5l.3 96.7M370.3 352.1l.2 76.5M378.9 374.8l.1 56.2M387.6 392.6l0 41M396.4 389.7l-0 46.4M405.2 404.2l-0 34.5M414.1 413.5l-.1 27.7M423.1 421.2l-.1 22.6M432.2 427.2l-.1 19.2M441.3 433.3l-.1 15.8M450.6 439.4l-.1 12.3M459.9 445.6l-.1 8.8"/>
<path stroke="#1c46b4" stroke-width="1" d="M169.1 355.3l.4 16.6M175.8 358.7l.4 15.1M182.4 351.4l.5 24.4M189.1 344.1l.7 33.7M196.1 352.1l.6 27.6M202.7 337l.9 44.8M209.4 318.5l1.3 65.3M216.9 339.1l.9 46.7M223.6 315.8l1.3 72.2M230.4 288.9l1.7 101.2M237.6 280.9l1.8 111.2M245 285.7l1.7 108.5M252.2 263l2 133.4M259.7 259.7l1.9 138.9M266.8 223.2l2.3 177.5M274.6 228l2.1 175M282.6 246.1l1.8 159.1M290.6 259.4l1.6 148.1M298.5 250.9l1.5 158.8M306.3 227l1.6 185M314.7 260.8l1.2 153.5M322.9 267.5l1 149.1M331.4 296.5l.8 122.5M339.8 330.6l.5 90.7M348.2 334.3l.4 89.4M356.7 329.5l.3 96.7M365.3 352.1l.2 76.5M373.9 374.8l.1 56.2M382.6 392.6l0 41M391.3 389.7l-0 46.4M400.1 404.2l-0 34.5M409 413.5l-.1 27.7M418 421.2l-.1 22.6M427.1 427.2l-.1 19.2M436.3 433.3l-.1 15.8M445.5 439.4l-.1 12.3M454.8 445.6l-.1 8.8"/>
<path stroke="#3a70e0" stroke-width="2.4" stroke-linecap="round" d="M169.9 355.3h4.5M176.6 358.7h4.5M183.2 351.4h4.5M189.9 344.1h4.5M196.9 352.1h4.5M203.6 337h4.5M210.2 318.5h4.5M217.7 339.1h4.5M224.4 315.8h4.5M231.2 288.9h4.5M238.4 280.9h4.5M245.9 285.7h4.5M253 263h4.5M260.5 259.7h4.5M267.6 223.2h4.5M275.4 228h4.5M283.5 246.1h4.5M291.5 259.4h4.5M299.3 250.9h4.5M307.1 227h4.5M315.5 260.8h4.5M323.7 267.5h4.5M332.2 296.5h4.5M340.7 330.6h4.5M349 334.3h4.5M357.5 329.5h4.5M366.1 352.1h4.5M374.7 374.8h4.5M383.4 392.6h4.5M392.1 389.7h4.5M401 404.2h4.5M409.9 413.5h4.5M418.8 421.2h4.5M427.9 427.2h4.5M437.1 433.3h4.5M446.3 439.4h4.5M455.6 445.6h4.5"/>
<path transform="scale(1 0.3400)" stroke="#d25f0e" stroke-width="7.2" stroke-linecap="round" d="M162.7 1098.4h0M169.4 1104.2h0M176.2 1110h0M183 1115.9h0M189.9 1121.8h0M196.8 1127.7h0M203.8 1133.8h0M210.9 1139.8h0M218 1146h0M225.2 1152.1h0M232.5 1158.4h0M239.8 1164.7h0M247.2 1171h0M254.6 1177.4h0M262.2 1183.9h0M269.8 1190.4h0M277.4 1197h0M285.2 1203.7h0M293 1210.4h0M300.9 1217.2h0M308.8 1224h0M316.9 1231h0M325 1237.9h0M333.2 1245h0M341.5 1252.1h0M349.8 1259.3h0M358.2 1266.5h0M366.8 1273.9h0M375.4 1281.3h0M384.1 1288.7h0M392.8 1296.3h0M401.7 1303.9h0M410.7 1311.6h0M419.7 1319.4h0M428.9 1327.2h0M438.1 1335.2h0M447.4 1343.2h0"/>
<path stroke="#e86a12" stroke-width="7.2" d="M162.4 359.9l.3 13.6M169.1 363.3l.3 12.1M175.8 360.6l.4 16.8M182.5 354.9l.6 24.5M189.1 347.5l.7 33.9M196 343.2l.9 40.3M202.9 340.3l.9 45.1M209.8 334.3l1 53.2M216.8 323.5l1.3 66.1M223.6 303l1.6 88.7M230.8 296.7l1.7 97.1M238 285.5l1.8 110.5M245.6 300.2l1.5 98M253 288.8l1.7 111.5M259.8 234.3l2.4 168.2M268 274.1l1.7 130.7M276.2 308.9l1.2 98.1M283.7 280.7l1.5 128.5M291.5 274l1.5 137.5M299.3 257.1l1.6 156.7M307.9 311.2l.9 104.9M315.8 291l1 127.5M324.1 301.4l.9 119.5M332.6 337.4l.5 85.9M341 342.8l.5 82.9M349.4 332.8l.4 95.3M358 348.7l.3 82M366.6 371.5l.2 61.6M375.3 387.5l.1 48.1M384 393.3l0 44.8M392.8 409.6l-0 31.1M401.7 419l-0 24.3M410.7 428.5l-0 17.4M419.8 432.8l-0 15.8M428.9 438.9l-.1 12.3M438.2 439.8l-.1 14.2M447.5 449.6l-0 7.1"/>
<path stroke="#a84a08" stroke-width="3.2" d="M164.4 359.9l.3 13.6M171.1 363.3l.3 12.1M177.8 360.6l.4 16.8M184.4 354.9l.6 24.5M191.1 347.5l.7 33.9M198 343.2l.9 40.3M204.9 340.3l.9 45.1M211.8 334.3l1 53.2M218.7 323.5l1.3 66.1M225.6 303l1.6 88.7M232.8 296.7l1.7 97.1M239.9 285.5l1.8 110.5M247.6 300.2l1.5 98M254.9 288.8l1.7 111.5M261.8 234.3l2.4 168.2M270 274.1l1.7 130.7M278.2 308.9l1.2 98.1M285.7 280.7l1.5 128.5M293.5 274l1.5 137.5M301.3 257.1l1.6 156.7M309.9 311.2l.9 104.9M317.8 291l1 127.5M326.1 301.4l.9 119.5M334.6 337.4l.5 85.9M343 342.8l.5 82.9M351.4 332.8l.4 95.3M359.9 348.7l.3 82M368.6 371.5l.2 61.6M377.3 387.5l.1 48.1M386 393.3l0 44.8M394.8 409.6l-0 31.1M403.7 419l-0 24.3M412.7 428.5l-0 17.4M421.7 432.8l-0 15.8M430.9 438.9l-.1 12.3M440.1 439.8l-.1 14.2M449.4 449.6l-0 7.1"/>
<path stroke="#c5580c" stroke-width="1" d="M159.3 359.9l.3 13.6M166 363.3l.3 12.1M172.7 360.6l.4 16.8M179.4 354.9l.6 24.5M186 347.5l.7 33.9M192.9 343.2l.9 40.3M199.8 340.3l.9 45.1M206.7 334.3l1 53.2M213.7 323.5l1.3 66.1M220.5 303l1.6 88.7M227.7 296.7l1.7 97.1M234.9 285.5l1.8 110.5M242.5 300.2l1.5 98M249.9 288.8l1.7 111.5M256.7 234.3l2.4 168.2M264.9 274.1l1.7 130.7M273.1 308.9l1.2 98.1M280.6 280.7l1.5 128.5M288.4 274l1.5 137.5M296.2 257.1l1.6 156.7M304.8 311.2l.9 104.9M312.7 291l1 127.5M321 301.4l.9 119.5M329.5 337.4l.5 85.9M337.9 342.8l.5 82.9M346.3 332.8l.4 95.3M354.9 348.7l.3 82M363.5 371.5l.2 61.6M372.2 387.5l.1 48.1M380.9 393.3l0 44.8M389.8 409.6l-0 31.1M398.6 419l-0 24.3M407.6 428.5l-0 17.4M416.7 432.8l-0 15.8M425.8 438.9l-.1 12.3M435.1 439.8l-.1 14.2M444.4 449.6l-0 7.1"/>
<path stroke="#f08434" stroke-width="2.4" stroke-linecap="round" d="M160.1 359.9h4.6M166.9 363.3h4.6M173.5 360.6h4.6M180.2 354.9h4.6M186.9 347.5h4.6M193.7 343.2h4.6M200.6 340.3h4.6M207.6 334.3h4.6M214.5 323.5h4.6M221.3 303h4.6M228.5 296.7h4.6M235.7 285.5h4.6M243.4 300.2h4.6M250.7 288.8h4.6M257.5 234.3h4.6M265.7 274.1h4.6M273.9 308.9h4.6M281.4 280.7h4.6M289.2 274h4.6M297 257.1h4.6M305.6 311.2h4.6M313.6 291h4.6M321.8 301.4h4.6M330.4 337.4h4.6M338.7 342.8h4.6M347.1 332.8h4.6M355.7 348.7h4.6M364.3 371.5h4.6M373 387.5h4.6M381.8 393.3h4.6M390.6 409.6h4.6M399.5 419h4.6M408.4 428.5h4.6M417.5 432.8h4.6M426.6 438.9h4.6M435.9 439.8h4.6M445.2 449.6h4.6"/>
<path transform="scale(1 0.3400)" stroke="#2c95ac" stroke-width="7.2" stroke-linecap="round" d="M152.9 1103.1h0M159.5 1108.9h0M166.3 1114.8h0M173.1 1120.7h0M179.9 1126.6h0M186.9 1132.6h0M193.8 1138.7h0M200.9 1144.8h0M208 1151h0M215.2 1157.2h0M222.4 1163.5h0M229.7 1169.8h0M237.1 1176.2h0M244.5 1182.7h0M252 1189.2h0M259.6 1195.8h0M267.2 1202.4h0M275 1209.2h0M282.8 1215.9h0M290.6 1222.8h0M298.6 1229.7h0M306.6 1236.6h0M314.7 1243.7h0M322.9 1250.8h0M331.1 1257.9h0M339.5 1265.2h0M347.9 1272.5h0M356.4 1279.9h0M365 1287.3h0M373.7 1294.9h0M382.4 1302.5h0M391.3 1310.2h0M400.2 1317.9h0M409.2 1325.8h0M418.4 1333.7h0M427.6 1341.7h0M436.9 1349.8h0"/>
<path stroke="#34a8c0" stroke-width="7.2" d="M152.8 372l.1 3M159.2 364.8l.3 12.2M165.9 365.2l.3 13.8M172.7 367.2l.3 13.8M179.4 359.9l.5 23.2M186.2 355.6l.7 29.5M192.9 345l.9 42.2M200 345.3l.9 43.9M206.9 336.1l1.1 55.2M213.8 325.2l1.3 68.2M221 320.7l1.4 74.9M228.3 316l1.4 81.7M235.2 291.8l1.8 108.1M242.4 270.5l2.1 131.6M250 273.8l2 130.6M258.1 302l1.5 104.6M265.9 307.1l1.4 101.8M273.4 288.8l1.6 122.3M281.5 309l1.2 104.4M289.5 314.3l1.1 101.5M297.8 339.7l.8 78.3M305.4 292.5l1.2 128M313.8 320l.9 102.9M322.4 356l.5 69.2M330.6 346.2l.5 81.5M339 353.4l.4 76.7M347.7 396.8l.2 35.8M356.2 392.3l.2 42.9M364.9 401.5l.1 36.2M373.6 403.9l.1 36.3M382.4 416.8l0 26M391.3 424.5l-0 20.9M400.2 430.6l-0 17.5M409.3 433.2l-0 17.6M418.4 439.3l-0 14.1M427.6 449.1l-0 7.1M436.9 453.6l-0 5.3"/>
<path stroke="#1e7388" stroke-width="3.3" d="M154.8 372l.1 3M161.2 364.8l.3 12.2M167.9 365.2l.3 13.8M174.7 367.2l.3 13.8M181.4 359.9l.5 23.2M188.2 355.6l.7 29.5M194.9 345l.9 42.2M202 345.3l.9 43.9M208.9 336.1l1.1 55.2M215.8 325.2l1.3 68.2M223 320.7l1.4 74.9M230.2 316l1.4 81.7M237.2 291.8l1.8 108.1M244.4 270.5l2.1 131.6M252 273.8l2 130.6M260.1 302l1.5 104.6M267.9 307.1l1.4 101.8M275.4 288.8l1.6 122.3M283.5 309l1.2 104.4M291.5 314.3l1.1 101.5M299.8 339.7l.8 78.3M307.4 292.5l1.2 128M315.8 320l.9 102.9M324.3 356l.5 69.2M332.6 346.2l.5 81.5M341 353.4l.4 76.7M349.7 396.8l.2 35.8M358.2 392.3l.2 42.9M366.9 401.5l.1 36.2M375.6 403.9l.1 36.3M384.4 416.8l0 26M393.3 424.5l-0 20.9M402.2 430.6l-0 17.5M411.3 433.2l-0 17.6M420.4 439.3l-0 14.1M429.6 449.1l-0 7.1M438.9 453.6l-0 5.3"/>
<path stroke="#288ba1" stroke-width="1" d="M149.7 372l.1 3M156.1 364.8l.3 12.2M162.8 365.2l.3 13.8M169.6 367.2l.3 13.8M176.3 359.9l.5 23.2M183.1 355.6l.7 29.5M189.8 345l.9 42.2M196.9 345.3l.9 43.9M203.8 336.1l1.1 55.2M210.7 325.2l1.3 68.2M217.9 320.7l1.4 74.9M225.1 316l1.4 81.7M232.1 291.8l1.8 108.1M239.3 270.5l2.1 131.6M246.9 273.8l2 130.6M255 302l1.5 104.6M262.8 307.1l1.4 101.8M270.3 288.8l1.6 122.3M278.4 309l1.2 104.4M286.4 314.3l1.1 101.5M294.7 339.7l.8 78.3M302.3 292.5l1.2 128M310.7 320l.9 102.9M319.2 356l.5 69.2M327.5 346.2l.5 81.5M335.9 353.4l.4 76.7M344.6 396.8l.2 35.8M353.1 392.3l.2 42.9M361.8 401.5l.1 36.2M370.5 403.9l.1 36.3M379.3 416.8l0 26M388.2 424.5l-0 20.9M397.1 430.6l-0 17.5M406.2 433.2l-0 17.6M415.3 439.3l-0 14.1M424.5 449.1l-0 7.1M433.8 453.6l-0 5.3"/>
<path stroke="#50bcd0" stroke-width="2.5" stroke-linecap="round" d="M150.5 372h4.6M156.9 364.8h4.6M163.7 365.2h4.6M170.5 367.2h4.6M177.1 359.9h4.6M183.9 355.6h4.6M190.6 345h4.6M197.7 345.3h4.6M204.6 336.1h4.6M211.6 325.2h4.6M218.7 320.7h4.6M226 316h4.6M233 291.8h4.6M240.1 270.5h4.6M247.7 273.8h4.6M255.8 302h4.6M263.6 307.1h4.6M271.1 288.8h4.6M279.2 309h4.6M287.2 314.3h4.6M295.5 339.7h4.6M303.1 292.5h4.6M311.5 320h4.6M320.1 356h4.6M328.3 346.2h4.6M336.7 353.4h4.6M345.4 396.8h4.6M353.9 392.3h4.6M362.6 401.5h4.6M371.3 403.9h4.6M380.1 416.8h4.6M389 424.5h4.6M397.9 430.6h4.6M407 433.2h4.6M416.1 439.3h4.6M425.3 449.1h4.6M434.6 453.6h4.6"/>
<path transform="scale(1 0.3400)" stroke="#4522af" stroke-width="7.3" stroke-linecap="round" d="M142.9 1107.8h0M149.6 1113.7h0M156.3 1119.6h0M163.1 1125.5h0M169.9 1131.5h0M176.8 1137.6h0M183.8 1143.7h0M190.8 1149.8h0M197.9 1156h0M205 1162.3h0M212.2 1168.6h0M219.5 1175h0M226.9 1181.5h0M234.3 1188h0M241.8 1194.6h0M249.4 1201.2h0M257 1207.9h0M264.7 1214.7h0M272.5 1221.5h0M280.3 1228.4h0M288.2 1235.3h0M296.2 1242.3h0M304.3 1249.4h0M312.5 1256.6h0M320.7 1263.8h0M329 1271.1h0M337.4 1278.5h0M345.9 1285.9h0M354.5 1293.5h0M363.2 1301.1h0M371.9 1308.7h0M380.7 1316.5h0M389.7 1324.3h0M398.7 1332.2h0M407.8 1340.2h0M417 1348.3h0M426.3 1356.4h0"/>
<path stroke="#5028c8" stroke-width="7.3" d="M142.8 370.6l.2 6.1M149.4 372.5l.2 6.1M156.1 373l.2 7.7M162.8 371.9l.3 10.8M169.6 370.8l.3 13.9M176.3 363.4l.5 23.4M183 354.4l.8 34.4M190 354.8l.8 36.2M196.8 342.4l1.1 50.6M203.9 339.6l1.1 55.6M211.2 341.5l1.1 55.9M218.1 325.6l1.4 73.9M225.4 317.7l1.5 84M232.9 324.5l1.4 79.5M240.4 321.4l1.4 84.8M247.8 306.7l1.6 101.7M255.4 301.9l1.6 108.8M263.4 320.4l1.3 92.6M271.2 317.3l1.3 98M279.1 314.1l1.3 103.5M287.2 329.5l1 90.5M295.3 331.5l.9 90.9M303.6 345.4l.8 79.4M311.9 356.1l.6 71.2M320.1 354.7l.6 75M328.7 375.8l.4 56.4M337.2 388.4l.3 46.3M345.7 395.9l.2 41.3M354.4 412.1l.1 27.6M363.1 418.1l.1 24.3M371.9 420.6l.1 24.4M380.7 428.4l0 19.2M389.7 432.7l0 17.6M398.7 442.4l-0 10.6M407.8 448.6l-0 7.1M417 449.5l-0 8.9M426.3 455.8l-0 5.4"/>
<path stroke="#301680" stroke-width="3.3" d="M144.7 370.6l.2 6.1M151.4 372.5l.2 6.1M158.1 373l.2 7.7M164.8 371.9l.3 10.8M171.6 370.8l.3 13.9M178.3 363.4l.5 23.4M185 354.4l.8 34.4M192 354.8l.8 36.2M198.8 342.4l1.1 50.6M205.9 339.6l1.1 55.6M213.2 341.5l1.1 55.9M220.1 325.6l1.4 73.9M227.4 317.7l1.5 84M234.9 324.5l1.4 79.5M242.4 321.4l1.4 84.8M249.8 306.7l1.6 101.7M257.4 301.9l1.6 108.8M265.4 320.4l1.3 92.6M273.2 317.3l1.3 98M281.1 314.1l1.3 103.5M289.2 329.5l1 90.5M297.3 331.5l.9 90.9M305.6 345.4l.8 79.4M313.9 356.1l.6 71.2M322.1 354.7l.6 75M330.7 375.8l.4 56.4M339.2 388.4l.3 46.3M347.7 395.9l.2 41.3M356.4 412.1l.1 27.6M365.1 418.1l.1 24.3M373.9 420.6l.1 24.4M382.7 428.4l0 19.2M391.7 432.7l0 17.6M400.7 442.4l-0 10.6M409.8 448.6l-0 7.1M419 449.5l-0 8.9M428.3 455.8l-0 5.4"/>
<path stroke="#3e1ea0" stroke-width="1" d="M139.6 370.6l.2 6.1M146.3 372.5l.2 6.1M153 373l.2 7.7M159.7 371.9l.3 10.8M166.4 370.8l.3 13.9M173.1 363.4l.5 23.4M179.9 354.4l.8 34.4M186.9 354.8l.8 36.2M193.7 342.4l1.1 50.6M200.8 339.6l1.1 55.6M208 341.5l1.1 55.9M215 325.6l1.4 73.9M222.3 317.7l1.5 84M229.8 324.5l1.4 79.5M237.3 321.4l1.4 84.8M244.7 306.7l1.6 101.7M252.3 301.9l1.6 108.8M260.3 320.4l1.3 92.6M268.1 317.3l1.3 98M275.9 314.1l1.3 103.5M284.1 329.5l1 90.5M292.2 331.5l.9 90.9M300.5 345.4l.8 79.4M308.8 356.1l.6 71.2M317 354.7l.6 75M325.5 375.8l.4 56.4M334.1 388.4l.3 46.3M342.6 395.9l.2 41.3M351.3 412.1l.1 27.6M360 418.1l.1 24.3M368.7 420.6l.1 24.4M377.6 428.4l0 19.2M386.5 432.7l0 17.6M395.6 442.4l-0 10.6M404.7 448.6l-0 7.1M413.9 449.5l-0 8.9M423.2 455.8l-0 5.4"/>
<path stroke="#6440d8" stroke-width="2.5" stroke-linecap="round" d="M140.5 370.6h4.6M147.1 372.5h4.6M153.8 373h4.6M160.5 371.9h4.6M167.3 370.8h4.6M174 363.4h4.6M180.7 354.4h4.6M187.7 354.8h4.6M194.5 342.4h4.6M201.6 339.6h4.6M208.9 341.5h4.6M215.9 325.6h4.6M223.1 317.7h4.6M230.6 324.5h4.6M238.1 321.4h4.6M245.5 306.7h4.6M253.1 301.9h4.6M261.1 320.4h4.6M268.9 317.3h4.6M276.8 314.1h4.6M284.9 329.5h4.6M293 331.5h4.6M301.3 345.4h4.6M309.6 356.1h4.6M317.9 354.7h4.6M326.4 375.8h4.6M334.9 388.4h4.6M343.4 395.9h4.6M352.1 412.1h4.6M360.8 418.1h4.6M369.6 420.6h4.6M378.4 428.4h4.6M387.4 432.7h4.6M396.4 442.4h4.6M405.5 448.6h4.6M414.7 449.5h4.6M424 455.8h4.6"/>
<path transform="scale(1 0.3400)" stroke="#71b418" stroke-width="7.3" stroke-linecap="round" d="M132.9 1112.6h0M139.5 1118.4h0M146.2 1124.4h0M153 1130.4h0M159.8 1136.4h0M166.7 1142.5h0M173.6 1148.7h0M180.6 1154.9h0M187.7 1161.1h0M194.8 1167.5h0M202 1173.8h0M209.3 1180.3h0M216.6 1186.8h0M224 1193.3h0M231.5 1200h0M239 1206.6h0M246.6 1213.4h0M254.3 1220.2h0M262.1 1227.1h0M269.9 1234h0M277.8 1241h0M285.8 1248.1h0M293.9 1255.2h0M302 1262.5h0M310.2 1269.7h0M318.5 1277.1h0M326.9 1284.5h0M335.4 1292h0M343.9 1299.6h0M352.6 1307.3h0M361.3 1315h0M370.1 1322.8h0M379 1330.7h0M388 1338.7h0M397.1 1346.8h0M406.3 1354.9h0M415.6 1363.1h0"/>
<path stroke="#80c81c" stroke-width="7.3" d="M132.7 372.2l.2 6.1M139.5 377.2l.1 3.1M146.1 377.7l.1 4.6M152.8 378.1l.2 6.2M159.5 374l.3 12.4M166.3 374.4l.3 14M173.2 373.3l.4 17.2M180.1 369l.5 23.6M186.9 356.7l.8 38M194 360.3l.8 36.6M201.1 355.9l.9 43.2M207.9 333.6l1.3 67.7M215.5 345.3l1.1 58.2M222.7 332.5l1.3 73.2M230.1 327.9l1.4 80.1M237.8 334.8l1.3 75.5M245.4 331.7l1.3 80.8M252.9 318.6l1.4 96.3M261.1 345.7l1 71.5M269.1 359.5l.8 60.1M277.2 371.7l.6 50.2M285.1 362l.7 62.3M293.3 372.7l.6 54.1M301.5 374.9l.5 54.3M309.9 389.1l.4 42.6M318.2 396.6l.3 37.6M326.7 405.8l.2 30.9M335.2 411.7l.2 27.6M343.8 415.9l.1 26M352.5 425.3l.1 19.1M361.3 429.6l.1 17.5M370.1 432.2l0 17.6M379 441.9l0 10.6M388 448.1l0 7.1M397.1 449l-0 8.9M406.3 455.3l-0 5.4M415.6 459.9l-0 3.6"/>
<path stroke="#569010" stroke-width="3.3" d="M134.7 372.2l.2 6.1M141.5 377.2l.1 3.1M148.1 377.7l.1 4.6M154.8 378.1l.2 6.2M161.5 374l.3 12.4M168.3 374.4l.3 14M175.2 373.3l.4 17.2M182.1 369l.5 23.6M188.9 356.7l.8 38M196 360.3l.8 36.6M203.1 355.9l.9 43.2M210 333.6l1.3 67.7M217.5 345.3l1.1 58.2M224.7 332.5l1.3 73.2M232.1 327.9l1.4 80.1M239.8 334.8l1.3 75.5M247.4 331.7l1.3 80.8M254.9 318.6l1.4 96.3M263.1 345.7l1 71.5M271.1 359.5l.8 60.1M279.2 371.7l.6 50.2M287.1 362l.7 62.3M295.3 372.7l.6 54.1M303.5 374.9l.5 54.3M311.9 389.1l.4 42.6M320.2 396.6l.3 37.6M328.7 405.8l.2 30.9M337.2 411.7l.2 27.6M345.8 415.9l.1 26M354.5 425.3l.1 19.1M363.3 429.6l.1 17.5M372.1 432.2l0 17.6M381 441.9l0 10.6M390 448.1l0 7.1M399.1 449l-0 8.9M408.3 455.3l-0 5.4M417.6 459.9l-0 3.6"/>
<path stroke="#69a915" stroke-width="1" d="M129.6 372.2l.2 6.1M136.3 377.2l.1 3.1M143 377.7l.1 4.6M149.7 378.1l.2 6.2M156.4 374l.3 12.4M163.2 374.4l.3 14M170.1 373.3l.4 17.2M177 369l.5 23.6M183.7 356.7l.8 38M190.9 360.3l.8 36.6M198 355.9l.9 43.2M204.8 333.6l1.3 67.7M212.4 345.3l1.1 58.2M219.6 332.5l1.3 73.2M227 327.9l1.4 80.1M234.6 334.8l1.3 75.5M242.2 331.7l1.3 80.8M249.8 318.6l1.4 96.3M257.9 345.7l1 71.5M266 359.5l.8 60.1M274.1 371.7l.6 50.2M282 362l.7 62.3M290.2 372.7l.6 54.1M298.4 374.9l.5 54.3M306.7 389.1l.4 42.6M315.1 396.6l.3 37.6M323.6 405.8l.2 30.9M332.1 411.7l.2 27.6M340.7 415.9l.1 26M349.4 425.3l.1 19.1M358.1 429.6l.1 17.5M367 432.2l0 17.6M375.9 441.9l0 10.6M384.9 448.1l0 7.1M394 449l-0 8.9M403.2 455.3l-0 5.4M412.5 459.9l-0 3.6"/>
<path stroke="#98d83c" stroke-width="2.5" stroke-linecap="round" d="M130.4 372.2h4.6M137.1 377.2h4.6M143.8 377.7h4.6M150.5 378.1h4.6M157.2 374h4.6M164 374.4h4.6M170.9 373.3h4.6M177.8 369h4.6M184.5 356.7h4.6M191.7 360.3h4.6M198.8 355.9h4.6M205.6 333.6h4.6M213.2 345.3h4.6M220.4 332.5h4.6M227.8 327.9h4.6M235.5 334.8h4.6M243.1 331.7h4.6M250.6 318.6h4.6M258.8 345.7h4.6M266.8 359.5h4.6M274.9 371.7h4.6M282.8 362h4.6M291 372.7h4.6M299.2 374.9h4.6M307.6 389.1h4.6M315.9 396.6h4.6M324.4 405.8h4.6M332.9 411.7h4.6M341.5 415.9h4.6M350.2 425.3h4.6M358.9 429.6h4.6M367.8 432.2h4.6M376.7 441.9h4.6M385.7 448.1h4.6M394.8 449h4.6M404 455.3h4.6M413.3 459.9h4.6"/>
<path transform="scale(1 0.3400)" stroke="#a91818" stroke-width="7.3" stroke-linecap="round" d="M122.8 1117.3h0M129.4 1123.3h0M136.1 1129.2h0M142.8 1135.3h0M149.6 1141.4h0M156.5 1147.5h0M163.4 1153.7h0M170.4 1160h0M177.4 1166.3h0M184.6 1172.6h0M191.7 1179.1h0M199 1185.6h0M206.3 1192.1h0M213.7 1198.7h0M221.1 1205.4h0M228.6 1212.1h0M236.2 1218.9h0M243.9 1225.8h0M251.6 1232.7h0M259.4 1239.7h0M267.3 1246.8h0M275.3 1253.9h0M283.3 1261.1h0M291.5 1268.4h0M299.7 1275.7h0M307.9 1283.1h0M316.3 1290.6h0M324.8 1298.2h0M333.3 1305.8h0M341.9 1313.6h0M350.6 1321.4h0M359.4 1329.2h0M368.3 1337.2h0M377.3 1345.2h0M386.4 1353.4h0M395.5 1361.6h0M404.8 1369.9h0"/>
<path stroke="#c01c1c" stroke-width="7.3" d="M122.6 372.2l.2 7.7M129.4 380.4l0 1.5M136.1 382.4l0 1.5M142.7 381.3l.1 4.7M149.5 381.8l.2 6.2M156.3 383.9l.2 6.3M163.1 379.7l.3 12.6M170.1 380.2l.3 14.2M176.9 372.7l.6 23.8M183.8 366.8l.7 31.9M191.1 373.6l.6 27.2M198 357.9l1 45.2M205.3 355.1l1 50.3M212.4 340.7l1.3 66.9M220.2 359.1l.9 50.7M227.4 344.6l1.2 67.5M235.4 363.3l.9 51.2M243 360.4l.9 56.4M250.9 369.2l.8 50M258.5 356.2l.9 65.3M266.6 368.4l.8 55.5M274.5 362.1l.8 64.2M282.8 383l.5 45.8M291 388.7l.5 42.6M299.3 396.1l.4 37.6M307.7 410.5l.2 25.7M316.1 414.7l.2 24.1M324.6 415.4l.2 26M333.2 428.3l.1 15.6M341.8 432.6l.1 14M350.6 437l.1 12.3M359.4 441.4l0 10.6M368.3 447.6l0 7.1M377.3 452l0 5.3M386.4 456.6l0 3.6M395.5 459.3l-0 3.6M404.8 464l-0 1.8"/>
<path stroke="#7e1212" stroke-width="3.3" d="M124.6 372.2l.2 7.7M131.4 380.4l0 1.5M138.1 382.4l0 1.5M144.7 381.3l.1 4.7M151.5 381.8l.2 6.2M158.3 383.9l.2 6.3M165.1 379.7l.3 12.6M172.1 380.2l.3 14.2M178.9 372.7l.6 23.8M185.8 366.8l.7 31.9M193.1 373.6l.6 27.2M200 357.9l1 45.2M207.3 355.1l1 50.3M214.4 340.7l1.3 66.9M222.2 359.1l.9 50.7M229.4 344.6l1.2 67.5M237.4 363.3l.9 51.2M245 360.4l.9 56.4M252.9 369.2l.8 50M260.5 356.2l.9 65.3M268.6 368.4l.8 55.5M276.5 362.1l.8 64.2M284.8 383l.5 45.8M293 388.7l.5 42.6M301.3 396.1l.4 37.6M309.7 410.5l.2 25.7M318.1 414.7l.2 24.1M326.6 415.4l.2 26M335.2 428.3l.1 15.6M343.9 432.6l.1 14M352.6 437l.1 12.3M361.4 441.4l0 10.6M370.3 447.6l0 7.1M379.3 452l0 5.3M388.4 456.6l0 3.6M397.5 459.3l-0 3.6M406.8 464l-0 1.8"/>
<path stroke="#9c1616" stroke-width="1" d="M119.4 372.2l.2 7.7M126.2 380.4l0 1.5M132.9 382.4l0 1.5M139.6 381.3l.1 4.7M146.3 381.8l.2 6.2M153.2 383.9l.2 6.3M160 379.7l.3 12.6M166.9 380.2l.3 14.2M173.7 372.7l.6 23.8M180.7 366.8l.7 31.9M188 373.6l.6 27.2M194.9 357.9l1 45.2M202.1 355.1l1 50.3M209.2 340.7l1.3 66.9M217 359.1l.9 50.7M224.3 344.6l1.2 67.5M232.2 363.3l.9 51.2M239.8 360.4l.9 56.4M247.7 369.2l.8 50M255.4 356.2l.9 65.3M263.4 368.4l.8 55.5M271.3 362.1l.8 64.2M279.7 383l.5 45.8M287.9 388.7l.5 42.6M296.1 396.1l.4 37.6M304.6 410.5l.2 25.7M313 414.7l.2 24.1M321.4 415.4l.2 26M330.1 428.3l.1 15.6M338.7 432.6l.1 14M347.4 437l.1 12.3M356.2 441.4l0 10.6M365.1 447.6l0 7.1M374.1 452l0 5.3M383.2 456.6l0 3.6M392.4 459.3l-0 3.6M401.7 464l-0 1.8"/>
<path stroke="#d03636" stroke-width="2.5" stroke-linecap="round" d="M120.3 372.2h4.6M127.1 380.4h4.6M133.7 382.4h4.6M140.4 381.3h4.6M147.2 381.8h4.6M154 383.9h4.6M160.8 379.7h4.6M167.7 380.2h4.6M174.6 372.7h4.6M181.5 366.8h4.6M188.8 373.6h4.6M195.7 357.9h4.6M203 355.1h4.6M210.1 340.7h4.6M217.9 359.1h4.6M225.1 344.6h4.6M233 363.3h4.6M240.7 360.4h4.6M248.6 369.2h4.6M256.2 356.2h4.6M264.3 368.4h4.6M272.2 362.1h4.6M280.5 383h4.6M288.7 388.7h4.6M297 396.1h4.6M305.4 410.5h4.6M313.8 414.7h4.6M322.3 415.4h4.6M330.9 428.3h4.6M339.5 432.6h4.6M348.3 437h4.6M357.1 441.4h4.6M366 447.6h4.6M375 452h4.6M384 456.6h4.6M393.2 459.3h4.6M402.5 464h4.6"/>
<path transform="scale(1 0.3400)" stroke="#1e4cc0" stroke-width="7.3" stroke-linecap="round" d="M112.6 1122.2h0M119.2 1128.1h0M125.9 1134.2h0M132.6 1140.2h0M139.4 1146.4h0M146.2 1152.5h0M153.1 1158.8h0M160.1 1165.1h0M167.1 1171.4h0M174.2 1177.9h0M181.4 1184.3h0M188.6 1190.9h0M195.9 1197.5h0M203.2 1204.1h0M210.7 1210.9h0M218.2 1217.6h0M225.7 1224.5h0M233.4 1231.4h0M241.1 1238.4h0M248.9 1245.4h0M256.8 1252.6h0M264.7 1259.8h0M272.7 1267h0M280.8 1274.3h0M289 1281.8h0M297.3 1289.2h0M305.6 1296.8h0M314 1304.4h0M322.6 1312.1h0M331.2 1319.9h0M339.9 1327.8h0M348.6 1335.7h0M357.5 1343.7h0M366.5 1351.8h0M375.5 1360h0M384.7 1368.3h0M393.9 1376.7h0"/>
<path stroke="#2358d4" stroke-width="7.3" d="M112.6 380l0 1.5M119.2 382l0 1.5M125.8 382.5l.1 3.1M132.5 384.6l.1 3.1M139.2 383.5l.2 6.3M146 384l.2 7.9M152.9 384.5l.2 9.5M159.8 383.4l.3 12.7M166.6 376l.5 22.3M173.4 368.4l.8 32M180.6 368.9l.8 33.8M187.9 372.6l.7 32.3M195 368.1l.8 39M202 348.9l1.2 60.5M209.6 359.2l1 52.5M217.4 376.1l.7 37.9M224.8 365l.9 51.4M232.7 377.1l.7 41.6M240.4 377.6l.7 43.4M248.2 381.5l.7 41.9M256.2 387.1l.6 38.7M264.1 386l.6 42.3M272.3 395.1l.5 35.7M280.5 404.3l.4 29M288.7 404.9l.3 30.9M297 409.1l.3 29.3M305.5 423.6l.2 17.3M313.9 426.1l.1 17.4M322.5 432.2l.1 14M331.1 436.5l.1 12.3M339.8 442.6l0 8.8M348.6 445.3l0 8.8M357.5 449.8l0 7.1M366.4 454.3l0 5.4M375.5 458.8l0 3.6M384.7 461.6l0 3.6M393.9 466.3l-0 1.8"/>
<path stroke="#16379a" stroke-width="3.3" d="M114.6 380l0 1.5M121.2 382l0 1.5M127.8 382.5l.1 3.1M134.5 384.6l.1 3.1M141.2 383.5l.2 6.3M148 384l.2 7.9M154.9 384.5l.2 9.5M161.8 383.4l.3 12.7M168.6 376l.5 22.3M175.5 368.4l.8 32M182.6 368.9l.8 33.8M189.9 372.6l.7 32.3M197.1 368.1l.8 39M204 348.9l1.2 60.5M211.6 359.2l1 52.5M219.5 376.1l.7 37.9M226.8 365l.9 51.4M234.7 377.1l.7 41.6M242.4 377.6l.7 43.4M250.2 381.5l.7 41.9M258.2 387.1l.6 38.7M266.1 386l.6 42.3M274.3 395.1l.5 35.7M282.5 404.3l.4 29M290.7 404.9l.3 30.9M299 409.1l.3 29.3M307.5 423.6l.2 17.3M315.9 426.1l.1 17.4M324.5 432.2l.1 14M333.1 436.5l.1 12.3M341.8 442.6l0 8.8M350.6 445.3l0 8.8M359.5 449.8l0 7.1M368.5 454.3l0 5.4M377.5 458.8l0 3.6M386.7 461.6l0 3.6M395.9 466.3l-0 1.8"/>
<path stroke="#1c46b4" stroke-width="1" d="M109.4 380l0 1.5M116 382l0 1.5M122.7 382.5l.1 3.1M129.4 384.6l.1 3.1M136.1 383.5l.2 6.3M142.9 384l.2 7.9M149.7 384.5l.2 9.5M156.6 383.4l.3 12.7M163.4 376l.5 22.3M170.3 368.4l.8 32M177.4 368.9l.8 33.8M184.7 372.6l.7 32.3M191.9 368.1l.8 39M198.8 348.9l1.2 60.5M206.5 359.2l1 52.5M214.3 376.1l.7 37.9M221.6 365l.9 51.4M229.5 377.1l.7 41.6M237.2 377.6l.7 43.4M245.1 381.5l.7 41.9M253 387.1l.6 38.7M261 386l.6 42.3M269.1 395.1l.5 35.7M277.3 404.3l.4 29M285.5 404.9l.3 30.9M293.8 409.1l.3 29.3M302.3 423.6l.2 17.3M310.7 426.1l.1 17.4M319.3 432.2l.1 14M327.9 436.5l.1 12.3M336.6 442.6l0 8.8M345.4 445.3l0 8.8M354.3 449.8l0 7.1M363.3 454.3l0 5.4M372.4 458.8l0 3.6M381.5 461.6l0 3.6M390.8 466.3l-0 1.8"/>
<path stroke="#3a70e0" stroke-width="2.5" stroke-linecap="round" d="M110.3 380h4.6M116.9 382h4.6M123.5 382.5h4.6M130.2 384.6h4.6M136.9 383.5h4.6M143.7 384h4.6M150.6 384.5h4.6M157.4 383.4h4.6M164.2 376h4.6M171.1 368.4h4.6M178.3 368.9h4.6M185.5 372.6h4.6M192.7 368.1h4.6M199.7 348.9h4.6M207.3 359.2h4.6M215.1 376.1h4.6M222.5 365h4.6M230.3 377.1h4.6M238.1 377.6h4.6M245.9 381.5h4.6M253.9 387.1h4.6M261.8 386h4.6M269.9 395.1h4.6M278.1 404.3h4.6M286.3 404.9h4.6M294.6 409.1h4.6M303.1 423.6h4.6M311.6 426.1h4.6M320.1 432.2h4.6M328.8 436.5h4.6M337.5 442.6h4.6M346.3 445.3h4.6M355.2 449.8h4.6M364.1 454.3h4.6M373.2 458.8h4.6M382.3 461.6h4.6M391.6 466.3h4.6"/>
<path d="M104.3 381.3L95.3 96.3" stroke="#c4ccd4" stroke-width="1.2" fill="none"/>
<path d="M104.3 381.3h-6.5M103.3 350.5h-6.5M102.3 319.5h-6.5M101.3 288.3h-6.5M100.4 256.8h-6.5M99.4 225.2h-6.5M98.4 193.3h-6.5M97.4 161.2h-6.5M96.4 128.9h-6.5M95.3 96.3h-6.5" stroke="#c4ccd4" stroke-width="1.2" fill="none"/>
<g font-size="17.6" text-anchor="end" fill="#1a1a1a"><text x="84.7" y="387.6">0</text><text x="83.9" y="356.8">20</text><text x="83.2" y="325.8">40</text><text x="82.4" y="294.6">60</text><text x="81.7" y="263.1">80</text><text x="80.9" y="231.5">100</text><text x="80.1" y="199.6">120</text><text x="79.3" y="167.5">140</text><text x="78.5" y="135.2">160</text><text x="77.7" y="102.6">180</text></g>
<text x="112" y="420" font-size="17.6" text-anchor="middle" fill="#1a1a1a">-90</text>
<text x="152" y="433" font-size="17.6" text-anchor="middle" fill="#1a1a1a">-60</text>
<text x="195" y="446" font-size="17.6" text-anchor="middle" fill="#1a1a1a">-30</text>
<text x="238.5" y="456" font-size="17.6" text-anchor="middle" fill="#1a1a1a">0</text>
<text x="286" y="472" font-size="17.6" text-anchor="middle" fill="#1a1a1a">30</text>
<text x="337" y="488" font-size="17.6" text-anchor="middle" fill="#1a1a1a">60</text>
<text x="390" y="505" font-size="17.6" text-anchor="middle" fill="#1a1a1a">90</text>
<text x="410" y="500" font-size="17.6" text-anchor="middle" fill="#1a1a1a">0</text>
<text x="486" y="486" font-size="17.6" text-anchor="middle" fill="#1a1a1a">1/3</text>
<text x="593" y="463" font-size="17.6" text-anchor="middle" fill="#1a1a1a">2/3</text>
<text x="689" y="440" font-size="17.6" text-anchor="middle" fill="#1a1a1a">1</text>
<path d="M95.6 950.5L317.8 1021.9L684.4 945.3L684.4 947.5L317.8 1024.1L95.6 952.7z" fill="#c9d3dc"/>
<path d="M95.6 950.5L317.8 1021.9L684.4 945.3L448 891.4z" fill="#f4f6f8"/>
<path d="M95.6 952.7v6M100.9 954.4v6M106.1 956.1v6M111.5 957.8v6M116.8 959.5v6M122.2 961.3v6M127.6 963v6M133.1 964.8v6M138.6 966.5v6M144.2 968.3v6M149.8 970.1v6M155.4 971.9v6M161.1 973.8v6M166.8 975.6v6M172.5 977.5v6M178.3 979.3v6M184.2 981.2v6M190.1 983.1v6M196 985v6M202 986.9v6M208 988.8v6M214.1 990.8v6M220.2 992.8v6M226.3 994.7v6M232.6 996.7v6M238.8 998.7v6M245.1 1000.8v6M251.5 1002.8v6M257.9 1004.9v6M264.3 1006.9v6M270.8 1009v6M277.4 1011.1v6M284 1013.3v6M290.6 1015.4v6M297.3 1017.6v6M304.1 1019.7v6M310.9 1021.9v6M317.8 1024.1v6M317.8 1024.1v6M326.4 1022.3v6M335 1020.5v6M343.6 1018.7v6M352.1 1017v6M360.5 1015.2v6M368.9 1013.4v6M377.2 1011.7v6M385.5 1010v6M393.7 1008.3v6M401.9 1006.5v6M410 1004.9v6M418.1 1003.2v6M426.1 1001.5v6M434.1 999.8v6M442 998.2v6M449.9 996.5v6M457.7 994.9v6M465.5 993.3v6M473.2 991.7v6M480.9 990.1v6M488.5 988.5v6M496.1 986.9v6M503.6 985.3v6M511.1 983.7v6M518.5 982.2v6M525.9 980.6v6M533.3 979.1v6M540.6 977.6v6M547.8 976.1v6M555.1 974.6v6M562.2 973.1v6M569.4 971.6v6M576.5 970.1v6M583.5 968.6v6M590.5 967.2v6M597.5 965.7v6M604.4 964.3v6M611.3 962.8v6M618.1 961.4v6M624.9 960v6M631.7 958.5v6M638.4 957.1v6M645.1 955.7v6M651.8 954.4v6M658.4 953v6M664.9 951.6v6M671.5 950.2v6M678 948.9v6M684.4 947.5v6" stroke="#c4c8cc" stroke-width="1" fill="none"/>
<path transform="scale(1 0.3400)" stroke="#88aae2" stroke-width="4.7" stroke-linecap="round" d="M447.7 2625.3h0M453.4 2629.2h0M459.1 2633h0M470.7 2640.8h0M476.5 2644.7h0M482.4 2648.7h0M494.2 2656.7h0M500.2 2660.7h0M506.3 2664.7h0M512.3 2668.8h0M518.4 2672.9h0M524.6 2677h0M537 2685.4h0M543.2 2689.6h0M549.5 2693.8h0M555.9 2698.1h0M562.3 2702.4h0M568.7 2706.7h0M575.2 2711.1h0M581.7 2715.5h0M588.2 2719.9h0M594.8 2724.3h0M601.5 2728.8h0M608.2 2733.3h0M614.9 2737.8h0M621.7 2742.4h0M628.5 2746.9h0M635.4 2751.6h0M642.3 2756.2h0M649.3 2760.9h0M656.3 2765.6h0M663.3 2770.4h0M670.4 2775.1h0"/>
<path stroke="#92b5eb" stroke-width="4.7" d="M447.7 877.1l-.1 15.5M453.5 878.3l-.1 15.6M459.2 879.6l-.1 15.6M470.8 882.1l-.1 15.7M476.6 883.4l-.1 15.8M482.5 884.7l-.2 15.8M494.4 887.4l-.2 15.9M500.4 888.7l-.2 16M506.7 873.9l-.4 32.1M513 859.1l-.6 48.3M519.3 844l-.9 64.8M525.7 828.8l-1.2 81.4M537.7 864.1l-.8 48.9M544.3 848.9l-1.1 65.6M550.1 883.1l-.6 32.8M556.8 868l-.9 49.4M562.9 885.8l-.6 33M570 853.9l-1.3 66.4M576.2 871.9l-1 49.9M582.7 873.2l-1 50M589 891.4l-.7 33.4M596.3 859l-1.5 67.2M602.6 877.3l-1.2 50.5M609 895.6l-.8 33.7M615.3 914l-.4 16.9M622.1 915.5l-.4 16.9M628.9 917l-.4 17M635.8 918.5l-.5 17M643.2 902.9l-.9 34.3M649.7 921.6l-.5 17.2M656.8 923.1l-.5 17.2M663.9 924.7l-.5 17.3M671 926.2l-.5 17.3"/>
<path stroke="#7697d0" stroke-width="2.1" d="M449 877.1l-.1 15.5M454.7 878.3l-.1 15.6M460.5 879.6l-.1 15.6M472.1 882.1l-.1 15.7M477.9 883.4l-.1 15.8M483.8 884.7l-.2 15.8M495.7 887.4l-.2 15.9M501.7 888.7l-.2 16M507.9 873.9l-.4 32.1M514.2 859.1l-.6 48.3M520.6 844l-.9 64.8M527 828.8l-1.2 81.4M539 864.1l-.8 48.9M545.6 848.9l-1.1 65.6M551.4 883.1l-.6 32.8M558.1 868l-.9 49.4M564.2 885.8l-.6 33M571.3 853.9l-1.3 66.4M577.5 871.9l-1 49.9M584 873.2l-1 50M590.2 891.4l-.7 33.4M597.6 859l-1.5 67.2M603.9 877.3l-1.2 50.5M610.3 895.6l-.8 33.7M616.6 914l-.4 16.9M623.4 915.5l-.4 16.9M630.2 917l-.4 17M637.1 918.5l-.5 17M644.5 902.9l-.9 34.3M651 921.6l-.5 17.2M658.1 923.1l-.5 17.2M665.1 924.7l-.5 17.3M672.3 926.2l-.5 17.3"/>
<path stroke="#83a4dc" stroke-width=".7" d="M445.7 877.1l-.1 15.5M451.4 878.3l-.1 15.6M457.2 879.6l-.1 15.6M468.8 882.1l-.1 15.7M474.6 883.4l-.1 15.8M480.5 884.7l-.2 15.8M492.4 887.4l-.2 15.9M498.4 888.7l-.2 16M504.6 873.9l-.4 32.1M510.9 859.1l-.6 48.3M517.3 844l-.9 64.8M523.7 828.8l-1.2 81.4M535.7 864.1l-.8 48.9M542.3 848.9l-1.1 65.6M548.1 883.1l-.6 32.8M554.8 868l-.9 49.4M560.9 885.8l-.6 33M568 853.9l-1.3 66.4M574.2 871.9l-1 49.9M580.7 873.2l-1 50M586.9 891.4l-.7 33.4M594.3 859l-1.5 67.2M600.6 877.3l-1.2 50.5M607 895.6l-.8 33.7M613.3 914l-.4 16.9M620.1 915.5l-.4 16.9M626.9 917l-.4 17M633.8 918.5l-.5 17M641.2 902.9l-.9 34.3M647.7 921.6l-.5 17.2M654.8 923.1l-.5 17.2M661.8 924.7l-.5 17.3M669 926.2l-.5 17.3"/>
<path stroke="#a9c5f2" stroke-width="1.6" stroke-linecap="round" d="M446.3 877.1h2.9M452 878.3h2.9M457.8 879.6h2.9M469.3 882.1h2.9M475.2 883.4h2.9M481.1 884.7h2.9M493 887.4h2.9M499 888.7h2.9M505.2 873.9h2.9M511.5 859.1h2.9M517.9 844h2.9M524.3 828.8h2.9M536.3 864.1h2.9M542.9 848.9h2.9M548.7 883.1h2.9M555.3 868h2.9M561.4 885.8h2.9M568.5 853.9h2.9M574.7 871.9h2.9M581.3 873.2h2.9M587.5 891.4h2.9M594.9 859h2.9M601.2 877.3h2.9M607.5 895.6h2.9M613.9 914h2.9M620.7 915.5h2.9M627.5 917h2.9M634.4 918.5h2.9M641.8 902.9h2.9M648.3 921.6h2.9M655.3 923.1h2.9M662.4 924.7h2.9M669.5 926.2h2.9"/>
<path stroke="#a2c0ee" stroke-width="1.3" d="M463.7 896.5h2.3M487.1 901.9h2.3M529.6 911.6h2.3M676.4 945.2h2.3"/>
<path transform="scale(1 0.3400)" stroke="#e7a47e" stroke-width="4.7" stroke-linecap="round" d="M441.3 2628.5h0M452.7 2636.2h0M458.5 2640.1h0M464.3 2644h0M470.1 2648h0M476 2651.9h0M481.9 2655.9h0M487.9 2660h0M493.8 2664h0M499.9 2668.1h0M505.9 2672.2h0M512 2676.3h0M518.2 2680.5h0M524.3 2684.6h0M530.6 2688.8h0M536.8 2693.1h0M543.1 2697.3h0M549.5 2701.6h0M555.8 2705.9h0M562.3 2710.3h0M568.7 2714.7h0M575.2 2719.1h0M581.8 2723.5h0M588.4 2728h0M595 2732.4h0M601.7 2737h0M608.5 2741.5h0M615.2 2746.1h0M628.9 2755.4h0M642.8 2764.8h0M656.9 2774.3h0M664 2779.1h0"/>
<path stroke="#f4af89" stroke-width="4.7" d="M441.4 878.1l-.1 15.6M452.8 880.6l-.1 15.7M458.7 866.1l-.2 31.5M464.4 883.2l-.1 15.8M470.4 868.6l-.3 31.7M476.3 869.9l-.3 31.8M482.2 871.2l-.3 31.9M488.5 840.2l-.7 64.1M494.4 857.6l-.5 48.2M500.2 875l-.4 32.2M506.3 876.3l-.4 32.3M512.4 877.6l-.4 32.4M518.8 862.6l-.7 48.8M525.1 863.9l-.7 48.9M531.3 865.1l-.7 49.1M537.6 866.4l-.8 49.2M543.9 867.7l-.8 49.4M550.9 835.7l-1.4 82.8M556.1 903.5l-.3 16.5M562.6 904.9l-.3 16.6M570 856.2l-1.3 66.8M576.6 857.5l-1.3 67M582.5 892.5l-.7 33.5M589.1 893.9l-.7 33.6M595.8 895.3l-.7 33.7M602.1 913.7l-.4 16.9M609.7 881.2l-1.2 51M615.6 916.7l-.4 17M629.4 919.7l-.4 17.1M643.3 922.8l-.5 17.2M657.4 925.9l-.5 17.3M664.5 927.5l-.5 17.4"/>
<path stroke="#d08f6b" stroke-width="2.1" d="M442.7 878.1l-.1 15.6M454.1 880.6l-.1 15.7M460 866.1l-.2 31.5M465.7 883.2l-.1 15.8M471.7 868.6l-.3 31.7M477.6 869.9l-.3 31.8M483.5 871.2l-.3 31.9M489.8 840.2l-.7 64.1M495.7 857.6l-.5 48.2M501.5 875l-.4 32.2M507.6 876.3l-.4 32.3M513.7 877.6l-.4 32.4M520.1 862.6l-.7 48.8M526.3 863.9l-.7 48.9M532.6 865.1l-.7 49.1M538.9 866.4l-.8 49.2M545.2 867.7l-.8 49.4M552.2 835.7l-1.4 82.8M557.4 903.5l-.3 16.5M563.9 904.9l-.3 16.6M571.3 856.2l-1.3 66.8M577.9 857.5l-1.3 67M583.8 892.5l-.7 33.5M590.4 893.9l-.7 33.6M597.1 895.3l-.7 33.7M603.4 913.7l-.4 16.9M611 881.2l-1.2 51M616.9 916.7l-.4 17M630.7 919.7l-.4 17.1M644.6 922.8l-.5 17.2M658.7 925.9l-.5 17.3M665.8 927.5l-.5 17.4"/>
<path stroke="#e09d78" stroke-width=".7" d="M439.4 878.1l-.1 15.6M450.8 880.6l-.1 15.7M456.7 866.1l-.2 31.5M462.4 883.2l-.1 15.8M468.4 868.6l-.3 31.7M474.3 869.9l-.3 31.8M480.2 871.2l-.3 31.9M486.5 840.2l-.7 64.1M492.4 857.6l-.5 48.2M498.2 875l-.4 32.2M504.3 876.3l-.4 32.3M510.4 877.6l-.4 32.4M516.8 862.6l-.7 48.8M523 863.9l-.7 48.9M529.3 865.1l-.7 49.1M535.6 866.4l-.8 49.2M541.9 867.7l-.8 49.4M548.9 835.7l-1.4 82.8M554.1 903.5l-.3 16.5M560.6 904.9l-.3 16.6M568 856.2l-1.3 66.8M574.6 857.5l-1.3 67M580.5 892.5l-.7 33.5M587.1 893.9l-.7 33.6M593.8 895.3l-.7 33.7M600.1 913.7l-.4 16.9M607.6 881.2l-1.2 51M613.6 916.7l-.4 17M627.3 919.7l-.4 17.1M641.2 922.8l-.5 17.2M655.3 925.9l-.5 17.3M662.5 927.5l-.5 17.4"/>
<path stroke="#f8bfa0" stroke-width="1.6" stroke-linecap="round" d="M439.9 878.1h2.9M451.4 880.6h2.9M457.3 866.1h2.9M463 883.2h2.9M469 868.6h2.9M474.8 869.9h2.9M480.8 871.2h2.9M487.1 840.2h2.9M492.9 857.6h2.9M498.8 875h2.9M504.9 876.3h2.9M511 877.6h2.9M517.4 862.6h2.9M523.6 863.9h2.9M529.9 865.1h2.9M536.1 866.4h2.9M542.5 867.7h2.9M549.4 835.7h2.9M554.7 903.5h2.9M561.1 904.9h2.9M568.6 856.2h2.9M575.1 857.5h2.9M581 892.5h2.9M587.7 893.9h2.9M594.3 895.3h2.9M600.7 913.7h2.9M608.2 881.2h2.9M614.2 916.7h2.9M627.9 919.7h2.9M641.8 922.8h2.9M655.9 925.9h2.9M663 927.5h2.9"/>
<path stroke="#f6bb9b" stroke-width="1.3" d="M445.8 895h2.3M620.9 935.2h2.3M634.7 938.4h2.3M648.6 941.6h2.3M670 946.5h2.3"/>
<path transform="scale(1 0.3400)" stroke="#87cdda" stroke-width="4.7" stroke-linecap="round" d="M434.9 2631.6h0M440.6 2635.5h0M446.4 2639.4h0M452.1 2643.3h0M457.9 2647.2h0M463.7 2651.2h0M469.6 2655.2h0M475.5 2659.2h0M481.4 2663.3h0M487.4 2667.3h0M493.4 2671.4h0M499.5 2675.6h0M505.6 2679.7h0M511.7 2683.9h0M517.9 2688.1h0M524.1 2692.3h0M530.4 2696.6h0M536.7 2700.8h0M543 2705.2h0M549.4 2709.5h0M562.3 2718.3h0M568.8 2722.7h0M588.6 2736.1h0M622.4 2759.2h0M636.3 2768.6h0M643.3 2773.4h0M650.4 2778.2h0M657.5 2783h0M664.6 2787.9h0"/>
<path stroke="#91d9e5" stroke-width="4.7" d="M435 879.1l-.1 15.6M441 833.1l-.3 63M446.5 865.9l-.2 31.5M452.4 851.3l-.3 47.4M458.4 836.5l-.5 63.5M464 869.7l-.2 31.8M470.1 838.9l-.5 63.9M475.6 888.2l-.1 15.9M481.8 873.5l-.3 32M487.8 874.8l-.3 32.1M493.8 876l-.4 32.2M499.9 877.4l-.4 32.3M505.8 894.9l-.2 16.2M512.2 880l-.4 32.5M518.4 881.3l-.4 32.6M525.8 799.8l-1.7 115.6M531.4 850.9l-1 65.9M537.4 868.8l-.8 49.5M543.3 903.3l-.3 16.5M549.7 904.7l-.3 16.5M563.2 874.1l-.9 50.1M569.4 892.3l-.6 33.5M588.9 913.4l-.4 16.9M622.9 921l-.4 17.1M636.8 924.1l-.5 17.2M643.8 925.7l-.5 17.3M651.3 909.8l-1 34.8M658 928.8l-.5 17.4M665.1 930.4l-.5 17.5"/>
<path stroke="#74b8c7" stroke-width="2.1" d="M436.3 879.1l-.1 15.6M442.3 833.1l-.3 63M447.8 865.9l-.2 31.5M453.7 851.3l-.3 47.4M459.7 836.5l-.5 63.5M465.3 869.7l-.2 31.8M471.4 838.9l-.5 63.9M476.9 888.2l-.1 15.9M483.1 873.5l-.3 32M489.1 874.8l-.3 32.1M495.1 876l-.4 32.2M501.2 877.4l-.4 32.3M507.1 894.9l-.2 16.2M513.4 880l-.4 32.5M519.6 881.3l-.4 32.6M527.1 799.8l-1.7 115.6M532.7 850.9l-1 65.9M538.7 868.8l-.8 49.5M544.6 903.3l-.3 16.5M551 904.7l-.3 16.5M564.5 874.1l-.9 50.1M570.7 892.3l-.6 33.5M590.2 913.4l-.4 16.9M624.1 921l-.4 17.1M638 924.1l-.5 17.2M645.1 925.7l-.5 17.3M652.6 909.8l-1 34.8M659.3 928.8l-.5 17.4M666.4 930.4l-.5 17.5"/>
<path stroke="#81c7d4" stroke-width=".7" d="M433 879.1l-.1 15.6M438.9 833.1l-.3 63M444.5 865.9l-.2 31.5M450.4 851.3l-.3 47.4M456.3 836.5l-.5 63.5M462 869.7l-.2 31.8M468.1 838.9l-.5 63.9M473.6 888.2l-.1 15.9M479.7 873.5l-.3 32M485.7 874.8l-.3 32.1M491.8 876l-.4 32.2M497.9 877.4l-.4 32.3M503.8 894.9l-.2 16.2M510.1 880l-.4 32.5M516.3 881.3l-.4 32.6M523.8 799.8l-1.7 115.6M529.3 850.9l-1 65.9M535.4 868.8l-.8 49.5M541.3 903.3l-.3 16.5M547.6 904.7l-.3 16.5M561.2 874.1l-.9 50.1M567.4 892.3l-.6 33.5M586.9 913.4l-.4 16.9M620.8 921l-.4 17.1M634.7 924.1l-.5 17.2M641.8 925.7l-.5 17.3M649.3 909.8l-1 34.8M655.9 928.8l-.5 17.4M663.1 930.4l-.5 17.5"/>
<path stroke="#a6e2ec" stroke-width="1.6" stroke-linecap="round" d="M433.6 879.1h2.9M439.5 833.1h2.9M445.1 865.9h2.9M451 851.3h2.9M456.9 836.5h2.9M462.5 869.7h2.9M468.7 838.9h2.9M474.2 888.2h2.9M480.3 873.5h2.9M486.3 874.8h2.9M492.3 876h2.9M498.4 877.4h2.9M504.3 894.9h2.9M510.7 880h2.9M516.9 881.3h2.9M524.3 799.8h2.9M529.9 850.9h2.9M536 868.8h2.9M541.8 903.3h2.9M548.2 904.7h2.9M561.7 874.1h2.9M568 892.3h2.9M587.5 913.4h2.9M621.4 921h2.9M635.3 924.1h2.9M642.3 925.7h2.9M649.9 909.8h2.9M656.5 928.8h2.9M663.7 930.4h2.9"/>
<path stroke="#a2dfe9" stroke-width="1.3" d="M554.6 922.7h2.4M574.1 927.2h2.4M580.7 928.8h2.4M594.1 931.8h2.4M600.8 933.4h2.4M607.6 935h2.4M614.4 936.5h2.4M628.2 939.7h2.4"/>
<path transform="scale(1 0.3400)" stroke="#9b8ed9" stroke-width="4.7" stroke-linecap="round" d="M428.5 2634.8h0M434.2 2638.7h0M439.9 2642.6h0M445.7 2646.5h0M451.5 2650.5h0M463.2 2658.5h0M469.1 2662.5h0M475 2666.6h0M481 2670.7h0M487 2674.8h0M493 2678.9h0M499.1 2683.1h0M505.3 2687.3h0M517.6 2695.8h0M523.9 2700.1h0M530.2 2704.4h0M536.5 2708.7h0M542.9 2713.1h0M595.4 2749h0M602.2 2753.7h0M609 2758.3h0M622.8 2767.8h0M629.7 2772.5h0M636.8 2777.3h0M643.8 2782.2h0M650.9 2787h0M658.1 2791.9h0"/>
<path stroke="#a79ae5" stroke-width="4.7" d="M428.6 880.2l-.1 15.7M434.4 865.7l-.1 31.5M440 882.7l-.1 15.7M446 852.3l-.3 47.5M451.9 837.5l-.4 63.7M463.8 823.7l-.6 80.2M469.5 857.1l-.4 48.1M475.1 890.6l-.1 16M481.1 892l-.2 16.1M487.3 877.1l-.3 32.3M493.2 894.7l-.2 16.2M499.5 879.7l-.4 32.5M505.5 897.4l-.2 16.3M517.9 900.2l-.2 16.4M524.1 901.6l-.2 16.4M530.4 903l-.2 16.5M536.8 904.4l-.3 16.5M543.2 905.9l-.3 16.6M595.8 917.7l-.4 17M602.6 919.2l-.4 17.1M609.4 920.7l-.4 17.1M623.2 923.8l-.4 17.2M630.2 925.4l-.5 17.3M637.7 909.5l-.9 34.8M644.3 928.5l-.5 17.4M651.4 930.1l-.5 17.5M658.6 931.7l-.5 17.5"/>
<path stroke="#8679c4" stroke-width="2.1" d="M429.9 880.2l-.1 15.7M435.7 865.7l-.1 31.5M441.3 882.7l-.1 15.7M447.3 852.3l-.3 47.5M453.2 837.5l-.4 63.7M465.1 823.7l-.6 80.2M470.8 857.1l-.4 48.1M476.4 890.6l-.1 16M482.4 892l-.2 16.1M488.6 877.1l-.3 32.3M494.5 894.7l-.2 16.2M500.8 879.7l-.4 32.5M506.8 897.4l-.2 16.3M519.2 900.2l-.2 16.4M525.4 901.6l-.2 16.4M531.7 903l-.2 16.5M538.1 904.4l-.3 16.5M544.5 905.9l-.3 16.6M597.1 917.7l-.4 17M603.9 919.2l-.4 17.1M610.7 920.7l-.4 17.1M624.5 923.8l-.4 17.2M631.5 925.4l-.5 17.3M639 909.5l-.9 34.8M645.6 928.5l-.5 17.4M652.7 930.1l-.5 17.5M659.9 931.7l-.5 17.5"/>
<path stroke="#9588d3" stroke-width=".7" d="M426.6 880.2l-.1 15.7M432.3 865.7l-.1 31.5M438 882.7l-.1 15.7M443.9 852.3l-.3 47.5M449.9 837.5l-.4 63.7M461.8 823.7l-.6 80.2M467.4 857.1l-.4 48.1M473.1 890.6l-.1 16M479.1 892l-.2 16.1M485.3 877.1l-.3 32.3M491.2 894.7l-.2 16.2M497.5 879.7l-.4 32.5M503.4 897.4l-.2 16.3M515.8 900.2l-.2 16.4M522.1 901.6l-.2 16.4M528.4 903l-.2 16.5M534.7 904.4l-.3 16.5M541.1 905.9l-.3 16.6M593.8 917.7l-.4 17M600.6 919.2l-.4 17.1M607.4 920.7l-.4 17.1M621.2 923.8l-.4 17.2M628.2 925.4l-.5 17.3M635.7 909.5l-.9 34.8M642.3 928.5l-.5 17.4M649.4 930.1l-.5 17.5M656.5 931.7l-.5 17.5"/>
<path stroke="#b9adec" stroke-width="1.6" stroke-linecap="round" d="M427.1 880.2h2.9M432.9 865.7h2.9M438.6 882.7h2.9M444.5 852.3h2.9M450.4 837.5h2.9M462.3 823.7h2.9M468 857.1h2.9M473.7 890.6h2.9M479.7 892h2.9M485.9 877.1h2.9M491.8 894.7h2.9M498.1 879.7h2.9M504 897.4h2.9M516.4 900.2h2.9M522.7 901.6h2.9M529 903h2.9M535.3 904.4h2.9M541.7 905.9h2.9M594.4 917.7h2.9M601.1 919.2h2.9M608 920.7h2.9M621.8 923.8h2.9M628.7 925.4h2.9M636.2 909.5h2.9M642.8 928.5h2.9M649.9 930.1h2.9M657.1 931.7h2.9"/>
<path stroke="#b4a9e9" stroke-width="1.3" d="M456.1 902.5h2.4M510.2 915.1h2.4M548.1 923.9h2.4M554.6 925.4h2.4M561.1 927h2.4M567.6 928.5h2.4M574.2 930h2.4M580.9 931.6h2.4M587.5 933.1h2.4M614.7 939.4h2.4"/>
<path transform="scale(1 0.3400)" stroke="#a6d46e" stroke-width="4.7" stroke-linecap="round" d="M422.1 2638h0M427.8 2641.9h0M433.5 2645.8h0M439.2 2649.8h0M445 2653.8h0M450.8 2657.8h0M456.7 2661.8h0M462.6 2665.9h0M468.5 2669.9h0M474.5 2674.1h0M480.5 2678.2h0M486.5 2682.4h0M492.6 2686.5h0M498.8 2690.8h0M504.9 2695h0M511.1 2699.3h0M568.8 2739h0M582.2 2748.2h0M588.9 2752.8h0M595.6 2757.5h0M602.5 2762.2h0M609.3 2766.9h0M616.2 2771.7h0M623.2 2776.5h0M630.2 2781.3h0M637.2 2786.1h0M644.3 2791h0M651.5 2796h0"/>
<path stroke="#b2e277" stroke-width="4.7" d="M422.2 865.5l-.1 31.4M427.8 882.5l-.1 15.7M433.6 868l-.1 31.6M439.3 885.1l-.1 15.8M445.1 886.4l-.1 15.9M451 871.7l-.2 31.9M457 856.9l-.3 48.1M462.8 874.3l-.2 32.1M468.8 875.6l-.3 32.2M474.9 860.6l-.4 48.5M480.7 894.4l-.2 16.2M486.7 895.8l-.2 16.2M492.8 897.2l-.2 16.3M499.1 882.2l-.4 32.7M505.1 899.9l-.2 16.4M511.3 901.3l-.2 16.4M569.2 914.4l-.3 16.9M582.5 917.4l-.4 17M589.2 918.9l-.4 17.1M596 920.4l-.4 17.1M602.8 922l-.4 17.2M610.1 906.2l-.8 34.5M617.1 907.7l-.9 34.6M623.6 926.7l-.4 17.3M630.6 928.2l-.5 17.4M637.7 929.8l-.5 17.5M644.8 931.4l-.5 17.5M652 933.1l-.5 17.6"/>
<path stroke="#8fbb5e" stroke-width="2.1" d="M423.5 865.5l-.1 31.4M429.1 882.5l-.1 15.7M434.9 868l-.1 31.6M440.6 885.1l-.1 15.8M446.4 886.4l-.1 15.9M452.3 871.7l-.2 31.9M458.3 856.9l-.3 48.1M464.1 874.3l-.2 32.1M470.1 875.6l-.3 32.2M476.2 860.6l-.4 48.5M482 894.4l-.2 16.2M488 895.8l-.2 16.2M494.1 897.2l-.2 16.3M500.4 882.2l-.4 32.7M506.4 899.9l-.2 16.4M512.6 901.3l-.2 16.4M570.5 914.4l-.3 16.9M583.8 917.4l-.4 17M590.5 918.9l-.4 17.1M597.3 920.4l-.4 17.1M604.1 922l-.4 17.2M611.4 906.2l-.8 34.5M618.4 907.7l-.9 34.6M624.9 926.7l-.4 17.3M631.9 928.2l-.5 17.4M639 929.8l-.5 17.5M646.1 931.4l-.5 17.5M653.3 933.1l-.5 17.6"/>
<path stroke="#9fcd69" stroke-width=".7" d="M420.2 865.5l-.1 31.4M425.8 882.5l-.1 15.7M431.6 868l-.1 31.6M437.3 885.1l-.1 15.8M443.1 886.4l-.1 15.9M449 871.7l-.2 31.9M455 856.9l-.3 48.1M460.8 874.3l-.2 32.1M466.8 875.6l-.3 32.2M472.9 860.6l-.4 48.5M478.6 894.4l-.2 16.2M484.7 895.8l-.2 16.2M490.8 897.2l-.2 16.3M497.1 882.2l-.4 32.7M503.1 899.9l-.2 16.4M509.3 901.3l-.2 16.4M567.1 914.4l-.3 16.9M580.5 917.4l-.4 17M587.2 918.9l-.4 17.1M594 920.4l-.4 17.1M600.8 922l-.4 17.2M608.1 906.2l-.8 34.5M615 907.7l-.9 34.6M621.6 926.7l-.4 17.3M628.6 928.2l-.5 17.4M635.7 929.8l-.5 17.5M642.8 931.4l-.5 17.5M649.9 933.1l-.5 17.6"/>
<path stroke="#c2eb91" stroke-width="1.6" stroke-linecap="round" d="M420.7 865.5h2.9M426.4 882.5h2.9M432.2 868h2.9M437.9 885.1h2.9M443.6 886.4h2.9M449.6 871.7h2.9M455.6 856.9h2.9M461.4 874.3h2.9M467.3 875.6h2.9M473.5 860.6h2.9M479.2 894.4h2.9M485.2 895.8h2.9M491.3 897.2h2.9M497.7 882.2h2.9M503.7 899.9h2.9M509.9 901.3h2.9M567.7 914.4h2.9M581 917.4h2.9M587.8 918.9h2.9M594.6 920.4h2.9M601.4 922h2.9M608.7 906.2h2.9M615.6 907.7h2.9M622.1 926.7h2.9M629.2 928.2h2.9M636.2 929.8h2.9M643.3 931.4h2.9M650.5 933.1h2.9"/>
<path stroke="#bee68b" stroke-width="1.3" d="M516.2 919.2h2.4M522.5 920.7h2.4M528.8 922.2h2.4M535.2 923.7h2.4M541.6 925.2h2.4M548 926.7h2.4M554.5 928.2h2.4M561.1 929.7h2.4M574.3 932.8h2.4"/>
<path transform="scale(1 0.3400)" stroke="#cf6a86" stroke-width="4.7" stroke-linecap="round" d="M415.6 2641.2h0M421.3 2645.1h0M427 2649.1h0M432.7 2653h0M438.5 2657h0M444.3 2661.1h0M523.4 2715.9h0M542.6 2729.2h0M549.1 2733.7h0M555.7 2738.2h0M575.6 2752h0M582.3 2756.7h0M589 2761.3h0M595.8 2766.1h0M602.7 2770.8h0M609.6 2775.6h0M616.6 2780.4h0M623.6 2785.3h0M630.6 2790.1h0M637.7 2795.1h0M644.8 2800h0"/>
<path stroke="#dc708f" stroke-width="4.7" d="M415.7 882.3l-0 15.7M421.4 867.7l-.1 31.6M427.2 853l-.2 47.6M432.8 886.2l-.1 15.9M438.6 887.5l-.1 15.9M444.6 856.7l-.3 48.1M523.7 906.8l-.2 16.6M542.9 911.1l-.3 16.8M549.4 912.6l-.3 16.8M556 914.1l-.3 16.9M576.2 901.5l-.7 34.2M582.6 920.2l-.4 17.1M589.4 921.7l-.4 17.2M596.6 906l-.8 34.5M603.1 924.8l-.4 17.3M610.8 891.5l-1.2 52.2M617.4 910.5l-.9 34.8M624.4 912l-.9 35M631.1 931.1l-.5 17.5M639.1 897.4l-1.4 52.9M645.8 916.7l-1 35.3"/>
<path stroke="#b85e76" stroke-width="2.1" d="M417 882.3l-0 15.7M422.7 867.7l-.1 31.6M428.5 853l-.2 47.6M434.1 886.2l-.1 15.9M439.9 887.5l-.1 15.9M445.9 856.7l-.3 48.1M525 906.8l-.2 16.6M544.2 911.1l-.3 16.8M550.7 912.6l-.3 16.8M557.3 914.1l-.3 16.9M577.5 901.5l-.7 34.2M583.9 920.2l-.4 17.1M590.7 921.7l-.4 17.2M597.9 906l-.8 34.5M604.4 924.8l-.4 17.3M612.2 891.5l-1.2 52.2M618.7 910.5l-.9 34.8M625.7 912l-.9 35M632.4 931.1l-.5 17.5M640.4 897.4l-1.4 52.9M647.1 916.7l-1 35.3"/>
<path stroke="#c86681" stroke-width=".7" d="M413.6 882.3l-0 15.7M419.4 867.7l-.1 31.6M425.2 853l-.2 47.6M430.8 886.2l-.1 15.9M436.6 887.5l-.1 15.9M442.6 856.7l-.3 48.1M521.6 906.8l-.2 16.6M540.9 911.1l-.3 16.8M547.4 912.6l-.3 16.8M553.9 914.1l-.3 16.9M574.2 901.5l-.7 34.2M580.6 920.2l-.4 17.1M587.4 921.7l-.4 17.2M594.6 906l-.8 34.5M601.1 924.8l-.4 17.3M608.8 891.5l-1.2 52.2M615.4 910.5l-.9 34.8M622.4 912l-.9 35M629 931.1l-.5 17.5M637.1 897.4l-1.4 52.9M643.8 916.7l-1 35.3"/>
<path stroke="#e586a1" stroke-width="1.6" stroke-linecap="round" d="M414.2 882.3h2.9M419.9 867.7h2.9M425.7 853h2.9M431.4 886.2h2.9M437.1 887.5h2.9M443.2 856.7h2.9M522.2 906.8h2.9M541.5 911.1h2.9M548 912.6h2.9M554.5 914.1h2.9M574.8 901.5h2.9M581.2 920.2h2.9M587.9 921.7h2.9M595.1 906h2.9M601.6 924.8h2.9M609.4 891.5h2.9M615.9 910.5h2.9M623 912h2.9M629.6 931.1h2.9M637.7 897.4h2.9M644.4 916.7h2.9"/>
<path stroke="#e185a0" stroke-width="1.3" d="M449 906.1h2.4M454.9 907.5h2.4M460.8 908.9h2.4M466.8 910.3h2.4M472.8 911.7h2.4M478.8 913.2h2.4M484.9 914.6h2.4M491 916h2.4M497.2 917.5h2.4M503.4 919h2.4M509.6 920.4h2.4M515.9 921.9h2.4M528.6 924.9h2.4M535 926.4h2.4M561.1 932.5h2.4M567.7 934.1h2.4"/>
<path transform="scale(1 0.3400)" stroke="#88aae2" stroke-width="4.8" stroke-linecap="round" d="M409.1 2644.4h0M414.8 2648.3h0M420.5 2652.3h0M437.8 2664.4h0M510.5 2715.1h0M516.8 2719.5h0M529.6 2728.4h0M536 2732.9h0M542.5 2737.4h0M549.1 2742h0M555.6 2746.5h0M562.3 2751.2h0M568.9 2755.8h0M575.6 2760.5h0M582.4 2765.2h0M589.2 2769.9h0M596.1 2774.7h0M603 2779.5h0M609.9 2784.4h0M616.9 2789.3h0M631 2799.1h0M638.2 2804.1h0"/>
<path stroke="#92b5eb" stroke-width="4.8" d="M409.2 883.3l-0 15.8M414.8 884.6l-0 15.8M420.5 885.9l-0 15.9M437.9 889.9l-.1 16M510.7 906.5l-.2 16.6M517.1 908l-.2 16.7M529.8 910.9l-.3 16.8M536.3 912.4l-.3 16.8M543.1 896.9l-.6 33.8M549.3 915.3l-.3 16.9M556.2 899.8l-.6 34M563.2 884.1l-1 51.3M569.6 902.7l-.7 34.3M576 921.4l-.3 17.1M582.8 923l-.4 17.2M589.6 924.5l-.4 17.3M596.8 908.7l-.8 34.7M603.4 927.7l-.4 17.4M611.2 894.2l-1.3 52.5M617.3 930.9l-.4 17.5M632 916.4l-.9 35.3M639.6 900.2l-1.4 53.2"/>
<path stroke="#7697d0" stroke-width="2.1" d="M410.5 883.3l-0 15.8M416.1 884.6l-0 15.8M421.9 885.9l-0 15.9M439.2 889.9l-.1 16M512 906.5l-.2 16.6M518.4 908l-.2 16.7M531.1 910.9l-.3 16.8M537.6 912.4l-.3 16.8M544.4 896.9l-.6 33.8M550.7 915.3l-.3 16.9M557.6 899.8l-.6 34M564.5 884.1l-1 51.3M570.9 902.7l-.7 34.3M577.3 921.4l-.3 17.1M584.1 923l-.4 17.2M590.9 924.5l-.4 17.3M598.1 908.7l-.8 34.7M604.7 927.7l-.4 17.4M612.5 894.2l-1.3 52.5M618.6 930.9l-.4 17.5M633.3 916.4l-.9 35.3M640.9 900.2l-1.4 53.2"/>
<path stroke="#83a4dc" stroke-width=".7" d="M407.1 883.3l-0 15.8M412.8 884.6l-0 15.8M418.5 885.9l-0 15.9M435.8 889.9l-.1 16M508.7 906.5l-.2 16.6M515 908l-.2 16.7M527.8 910.9l-.3 16.8M534.3 912.4l-.3 16.8M541 896.9l-.6 33.8M547.3 915.3l-.3 16.9M554.2 899.8l-.6 34M561.2 884.1l-1 51.3M567.5 902.7l-.7 34.3M573.9 921.4l-.3 17.1M580.7 923l-.4 17.2M587.5 924.5l-.4 17.3M594.8 908.7l-.8 34.7M601.3 927.7l-.4 17.4M609.1 894.2l-1.3 52.5M615.3 930.9l-.4 17.5M629.9 916.4l-.9 35.3M637.6 900.2l-1.4 53.2"/>
<path stroke="#a9c5f2" stroke-width="1.6" stroke-linecap="round" d="M407.7 883.3h2.9M413.4 884.6h2.9M419.1 885.9h2.9M436.4 889.9h2.9M509.3 906.5h2.9M515.6 908h2.9M528.4 910.9h2.9M534.8 912.4h2.9M541.6 896.9h2.9M547.9 915.3h2.9M554.8 899.8h2.9M561.7 884.1h2.9M568.1 902.7h2.9M574.5 921.4h2.9M581.3 923h2.9M588.1 924.5h2.9M595.4 908.7h2.9M601.9 927.7h2.9M609.7 894.2h2.9M615.9 930.9h2.9M630.5 916.4h2.9M638.1 900.2h2.9"/>
<path stroke="#a2c0ee" stroke-width="1.3" d="M425 903.1h2.4M430.8 904.5h2.4M442.5 907.3h2.4M448.3 908.7h2.4M454.3 910.1h2.4M460.2 911.5h2.4M466.2 912.9h2.4M472.3 914.3h2.4M478.3 915.8h2.4M484.5 917.2h2.4M490.6 918.7h2.4M496.8 920.2h2.4M503 921.6h2.4M522 926.1h2.4M622.8 950h2.4"/>
<path transform="scale(1 0.3400)" stroke="#e7a47e" stroke-width="4.8" stroke-linecap="round" d="M402.6 2647.6h0M408.3 2651.6h0M413.9 2655.6h0M419.7 2659.6h0M425.4 2663.6h0M431.2 2667.7h0M437.1 2671.8h0M479 2701.2h0M503.9 2718.7h0M510.2 2723.1h0M522.9 2732.1h0M529.4 2736.6h0M535.9 2741.1h0M542.4 2745.7h0M549 2750.3h0M555.6 2755h0M562.3 2759.6h0M569 2764.3h0M575.7 2769.1h0M582.5 2773.9h0M589.4 2778.7h0M596.3 2783.5h0M603.2 2788.4h0M610.2 2793.3h0M617.2 2798.2h0M624.3 2803.2h0M631.5 2808.2h0"/>
<path stroke="#f4af89" stroke-width="4.8" d="M402.6 884.4l-0 15.8M408.3 869.8l-.1 31.8M414 887l-0 15.9M419.8 872.3l-.1 32M425.5 889.6l-.1 16M431.3 891l-.1 16M437.2 892.3l-.1 16.1M479.2 902l-.2 16.4M504.1 907.7l-.2 16.7M510.4 909.2l-.2 16.7M523.2 912.1l-.2 16.8M529.6 913.6l-.3 16.9M536.4 898.1l-.5 33.9M543 899.5l-.6 34M549.3 918.1l-.3 17M556.2 902.5l-.6 34.2M562.6 921.1l-.3 17.1M569.3 922.7l-.3 17.2M576.8 889.5l-1 52M583.6 891l-1.1 52.1M590.1 909.9l-.8 34.8M597 911.5l-.8 34.9M603.6 930.6l-.4 17.5M611 914.6l-.8 35.1M618.1 916.1l-.9 35.3M624.8 935.4l-.5 17.7M631.9 937.1l-.5 17.7"/>
<path stroke="#d08f6b" stroke-width="2.1" d="M403.9 884.4l-0 15.8M409.6 869.8l-.1 31.8M415.3 887l-0 15.9M421.1 872.3l-.1 32M426.8 889.6l-.1 16M432.6 891l-.1 16M438.5 892.3l-.1 16.1M480.5 902l-.2 16.4M505.4 907.7l-.2 16.7M511.7 909.2l-.2 16.7M524.5 912.1l-.2 16.8M531 913.6l-.3 16.9M537.7 898.1l-.5 33.9M544.3 899.5l-.6 34M550.6 918.1l-.3 17M557.5 902.5l-.6 34.2M563.9 921.1l-.3 17.1M570.6 922.7l-.3 17.2M578.1 889.5l-1 52M584.9 891l-1.1 52.1M591.4 909.9l-.8 34.8M598.4 911.5l-.8 34.9M604.9 930.6l-.4 17.5M612.4 914.6l-.8 35.1M619.4 916.1l-.9 35.3M626.1 935.4l-.5 17.7M633.3 937.1l-.5 17.7"/>
<path stroke="#e09d78" stroke-width=".7" d="M400.6 884.4l-0 15.8M406.3 869.8l-.1 31.8M411.9 887l-0 15.9M417.7 872.3l-.1 32M423.4 889.6l-.1 16M429.3 891l-.1 16M435.1 892.3l-.1 16.1M477.1 902l-.2 16.4M502 907.7l-.2 16.7M508.4 909.2l-.2 16.7M521.1 912.1l-.2 16.8M527.6 913.6l-.3 16.9M534.4 898.1l-.5 33.9M540.9 899.5l-.6 34M547.2 918.1l-.3 17M554.2 902.5l-.6 34.2M560.5 921.1l-.3 17.1M567.2 922.7l-.3 17.2M574.7 889.5l-1 52M581.6 891l-1.1 52.1M588.1 909.9l-.8 34.8M595 911.5l-.8 34.9M601.6 930.6l-.4 17.5M609 914.6l-.8 35.1M616.1 916.1l-.9 35.3M622.7 935.4l-.5 17.7M629.9 937.1l-.5 17.7"/>
<path stroke="#f8bfa0" stroke-width="1.6" stroke-linecap="round" d="M401.1 884.4h2.9M406.8 869.8h2.9M412.5 887h2.9M418.3 872.3h2.9M424 889.6h2.9M429.8 891h2.9M435.7 892.3h2.9M477.7 902h2.9M502.6 907.7h2.9M508.9 909.2h2.9M521.7 912.1h2.9M528.2 913.6h2.9M534.9 898.1h2.9M541.5 899.5h2.9M547.8 918.1h2.9M554.7 902.5h2.9M561.1 921.1h2.9M567.8 922.7h2.9M575.3 889.5h2.9M582.1 891h2.9M588.6 909.9h2.9M595.6 911.5h2.9M602.1 930.6h2.9M609.6 914.6h2.9M616.6 916.1h2.9M623.3 935.4h2.9M630.5 937.1h2.9"/>
<path stroke="#f6bb9b" stroke-width="1.3" d="M441.8 909.8h2.4M447.7 911.2h2.4M453.6 912.7h2.4M459.6 914.1h2.4M465.7 915.5h2.4M471.7 917h2.4M484 919.9h2.4M490.2 921.4h2.4M496.4 922.9h2.4M515.4 927.4h2.4"/>
<path transform="scale(1 0.3400)" stroke="#87cdda" stroke-width="4.8" stroke-linecap="round" d="M396 2650.9h0M401.7 2654.9h0M407.4 2658.9h0M413.1 2662.9h0M418.8 2667h0M424.6 2671.1h0M430.5 2675.2h0M436.4 2679.3h0M448.2 2687.7h0M484.7 2713.5h0M490.9 2717.9h0M497.2 2722.3h0M503.5 2726.8h0M509.9 2731.2h0M516.3 2735.8h0M522.7 2740.3h0M535.7 2749.5h0M548.9 2758.8h0M555.5 2763.5h0M562.3 2768.2h0M569 2773h0M575.8 2777.8h0M582.6 2782.6h0M589.5 2787.5h0M596.5 2792.4h0M603.5 2797.3h0M610.5 2802.3h0M617.6 2807.3h0M624.7 2812.3h0"/>
<path stroke="#91d9e5" stroke-width="4.8" d="M396.1 837.6l-0 63.7M401.7 854.8l-.1 47.8M407.4 888.1l-0 15.9M413.1 889.4l-0 16M418.9 874.6l-.1 32.1M424.7 892.1l-.1 16.1M430.5 893.4l-.1 16.1M436.4 894.8l-.1 16.2M448.3 897.5l-.1 16.3M484.9 906l-.2 16.6M491.1 907.4l-.2 16.6M497.4 908.9l-.2 16.7M503.7 910.3l-.2 16.7M510.1 911.8l-.2 16.8M516.5 913.3l-.2 16.9M523.2 897.8l-.5 33.9M536 917.8l-.3 17M550.7 834.2l-1.8 103.7M556.5 887.8l-.9 51.8M563.2 889.3l-1 51.9M569.7 908.2l-.7 34.7M576.2 927.1l-.3 17.4M583.4 911.2l-.7 34.9M591.1 877.5l-1.5 70.3M596.9 931.9l-.4 17.5M605.1 880.3l-1.6 70.8M610.9 935.1l-.4 17.6M618.5 919l-.9 35.5M625.6 920.6l-.9 35.6"/>
<path stroke="#74b8c7" stroke-width="2.2" d="M397.4 837.6l-0 63.7M403 854.8l-.1 47.8M408.7 888.1l-0 15.9M414.4 889.4l-0 16M420.3 874.6l-.1 32.1M426 892.1l-.1 16.1M431.9 893.4l-.1 16.1M437.7 894.8l-.1 16.2M449.6 897.5l-.1 16.3M486.2 906l-.2 16.6M492.4 907.4l-.2 16.6M498.7 908.9l-.2 16.7M505 910.3l-.2 16.7M511.4 911.8l-.2 16.8M517.8 913.3l-.2 16.9M524.5 897.8l-.5 33.9M537.3 917.8l-.3 17M552 834.2l-1.8 103.7M557.8 887.8l-.9 51.8M564.5 889.3l-1 51.9M571 908.2l-.7 34.7M577.5 927.1l-.3 17.4M584.7 911.2l-.7 34.9M592.4 877.5l-1.5 70.3M598.2 931.9l-.4 17.5M606.4 880.3l-1.6 70.8M612.2 935.1l-.4 17.6M619.8 919l-.9 35.5M627 920.6l-.9 35.6"/>
<path stroke="#81c7d4" stroke-width=".7" d="M394 837.6l-0 63.7M399.7 854.8l-.1 47.8M405.3 888.1l-0 15.9M411.1 889.4l-0 16M416.9 874.6l-.1 32.1M422.6 892.1l-.1 16.1M428.5 893.4l-.1 16.1M434.4 894.8l-.1 16.2M446.3 897.5l-.1 16.3M482.8 906l-.2 16.6M489.1 907.4l-.2 16.6M495.3 908.9l-.2 16.7M501.7 910.3l-.2 16.7M508 911.8l-.2 16.8M514.4 913.3l-.2 16.9M521.1 897.8l-.5 33.9M533.9 917.8l-.3 17M548.6 834.2l-1.8 103.7M554.4 887.8l-.9 51.8M561.2 889.3l-1 51.9M567.6 908.2l-.7 34.7M574.1 927.1l-.3 17.4M581.3 911.2l-.7 34.9M589 877.5l-1.5 70.3M594.8 931.9l-.4 17.5M603.1 880.3l-1.6 70.8M608.9 935.1l-.4 17.6M616.4 919l-.9 35.5M623.6 920.6l-.9 35.6"/>
<path stroke="#a6e2ec" stroke-width="1.6" stroke-linecap="round" d="M394.6 837.6h3M400.3 854.8h3M405.9 888.1h3M411.6 889.4h3M417.5 874.6h3M423.2 892.1h3M429.1 893.4h3M435 894.8h3M446.8 897.5h3M483.4 906h3M489.6 907.4h3M495.9 908.9h3M502.2 910.3h3M508.6 911.8h3M515 913.3h3M521.7 897.8h3M534.5 917.8h3M549.2 834.2h3M555 887.8h3M561.7 889.3h3M568.2 908.2h3M574.7 927.1h3M581.9 911.2h3M589.6 877.5h3M595.4 931.9h3M603.6 880.3h3M609.4 935.1h3M617 919h3M624.2 920.6h3"/>
<path stroke="#a2dfe9" stroke-width="1.3" d="M441.1 912.4h2.4M453 915.3h2.4M459 916.7h2.4M465.1 918.2h2.4M471.2 919.6h2.4M477.3 921.1h2.4M528 933.3h2.4M541.1 936.4h2.4"/>
<path transform="scale(1 0.3400)" stroke="#9b8ed9" stroke-width="4.8" stroke-linecap="round" d="M389.4 2654.1h0M395.1 2658.1h0M400.7 2662.2h0M406.5 2666.2h0M418 2674.4h0M423.8 2678.6h0M429.7 2682.8h0M435.6 2686.9h0M441.6 2691.2h0M453.6 2699.7h0M471.8 2712.7h0M490.5 2725.9h0M496.8 2730.4h0M503.2 2734.9h0M509.5 2739.5h0M516 2744h0M522.5 2748.6h0M529 2753.3h0M535.5 2757.9h0M542.1 2762.6h0M548.8 2767.4h0M555.5 2772.1h0M562.3 2776.9h0M569 2781.7h0M575.9 2786.6h0M582.8 2791.5h0M589.7 2796.4h0M596.7 2801.4h0M603.7 2806.4h0M610.8 2811.4h0M617.9 2816.5h0"/>
<path stroke="#a79ae5" stroke-width="4.8" d="M389.4 838.5l0 63.9M395.1 823.6l-0 80.2M400.8 873.1l-0 32M406.5 874.4l-.1 32.1M418.1 877l-.1 32.3M424 878.3l-.1 32.4M429.8 895.9l-.1 16.2M435.7 897.3l-.1 16.3M441.6 898.7l-.1 16.3M453.7 901.5l-.1 16.4M472 905.7l-.1 16.6M490.7 910.1l-.2 16.7M497 911.6l-.2 16.8M503.4 913l-.2 16.8M509.8 914.5l-.2 16.9M516.4 899l-.5 34M522.7 917.5l-.2 17M529.7 884.7l-.8 51.4M536.4 886.1l-.8 51.6M542.7 904.9l-.6 34.4M550 871.6l-1.2 69.3M556.8 873l-1.2 69.5M564.2 839.1l-2 105.1M569.7 910.9l-.7 34.9M577.3 877.2l-1.4 70.2M583.9 896.4l-1.1 52.8M590.1 933.2l-.4 17.6M598.3 881.5l-1.6 70.9M605 900.9l-1.2 53.3M612.1 902.4l-1.3 53.5M618.4 939.8l-.4 17.8"/>
<path stroke="#8679c4" stroke-width="2.2" d="M390.7 838.5l0 63.9M396.4 823.6l-0 80.2M402.1 873.1l-0 32M407.8 874.4l-.1 32.1M419.4 877l-.1 32.3M425.3 878.3l-.1 32.4M431.1 895.9l-.1 16.2M437 897.3l-.1 16.3M443 898.7l-.1 16.3M455 901.5l-.1 16.4M473.3 905.7l-.1 16.6M492 910.1l-.2 16.7M498.3 911.6l-.2 16.8M504.7 913l-.2 16.8M511.1 914.5l-.2 16.9M517.8 899l-.5 34M524 917.5l-.2 17M531.1 884.7l-.8 51.4M537.7 886.1l-.8 51.6M544 904.9l-.6 34.4M551.3 871.6l-1.2 69.3M558.1 873l-1.2 69.5M565.5 839.1l-2 105.1M571 910.9l-.7 34.9M578.6 877.2l-1.4 70.2M585.2 896.4l-1.1 52.8M591.4 933.2l-.4 17.6M599.6 881.5l-1.6 70.9M606.3 900.9l-1.2 53.3M613.4 902.4l-1.3 53.5M619.7 939.8l-.4 17.8"/>
<path stroke="#9588d3" stroke-width=".7" d="M387.3 838.5l0 63.9M393 823.6l-0 80.2M398.7 873.1l-0 32M404.5 874.4l-.1 32.1M416 877l-.1 32.3M421.9 878.3l-.1 32.4M427.7 895.9l-.1 16.2M433.6 897.3l-.1 16.3M439.6 898.7l-.1 16.3M451.6 901.5l-.1 16.4M469.9 905.7l-.1 16.6M488.6 910.1l-.2 16.7M494.9 911.6l-.2 16.8M501.3 913l-.2 16.8M507.7 914.5l-.2 16.9M514.4 899l-.5 34M520.6 917.5l-.2 17M527.7 884.7l-.8 51.4M534.3 886.1l-.8 51.6M540.7 904.9l-.6 34.4M547.9 871.6l-1.2 69.3M554.7 873l-1.2 69.5M562.1 839.1l-2 105.1M567.7 910.9l-.7 34.9M575.2 877.2l-1.4 70.2M581.8 896.4l-1.1 52.8M588 933.2l-.4 17.6M596.2 881.5l-1.6 70.9M602.9 900.9l-1.2 53.3M610 902.4l-1.3 53.5M616.3 939.8l-.4 17.8"/>
<path stroke="#b9adec" stroke-width="1.6" stroke-linecap="round" d="M387.9 838.5h3M393.6 823.6h3M399.3 873.1h3M405 874.4h3M416.6 877h3M422.5 878.3h3M428.3 895.9h3M434.2 897.3h3M440.2 898.7h3M452.2 901.5h3M470.5 905.7h3M489.2 910.1h3M495.5 911.6h3M501.9 913h3M508.3 914.5h3M515 899h3M521.2 917.5h3M528.3 884.7h3M534.9 886.1h3M541.2 904.9h3M548.5 871.6h3M555.3 873h3M562.7 839.1h3M568.2 910.9h3M575.8 877.2h3M582.4 896.4h3M588.6 933.2h3M596.8 881.5h3M603.5 900.9h3M610.6 902.4h3M616.9 939.8h3"/>
<path stroke="#b4a9e9" stroke-width="1.3" d="M411 907.9h2.4M446.3 916.4h2.4M458.4 919.4h2.4M464.5 920.8h2.4M476.8 923.8h2.4M483 925.3h2.4"/>
<path transform="scale(1 0.3400)" stroke="#a6d46e" stroke-width="4.8" stroke-linecap="round" d="M382.8 2657.4h0M388.4 2661.4h0M394.1 2665.5h0M399.8 2669.6h0M405.6 2673.7h0M411.3 2677.8h0M417.2 2682h0M423 2686.2h0M428.9 2690.4h0M434.9 2694.6h0M440.8 2698.9h0M471.3 2720.7h0M483.8 2729.6h0M490.1 2734.1h0M496.4 2738.7h0M502.8 2743.2h0M509.2 2747.8h0M515.7 2752.4h0M522.2 2757.1h0M528.8 2761.8h0M535.4 2766.5h0M542 2771.3h0M548.7 2776h0M555.5 2780.9h0M562.2 2785.7h0M569.1 2790.6h0M576 2795.5h0M582.9 2800.5h0M589.9 2805.5h0M596.9 2810.5h0M604 2815.6h0M611.1 2820.7h0"/>
<path stroke="#b2e277" stroke-width="4.8" d="M382.8 871.6l0 31.9M388.4 840.7l0 64.2M394.1 825.6l-0 80.7M399.8 875.5l-0 32.2M405.7 844.2l-.1 64.8M411.4 878.1l-.1 32.4M417.2 895.7l-0 16.2M423.2 864.3l-.2 49M429 898.4l-.1 16.3M434.9 899.8l-.1 16.4M440.9 901.2l-.1 16.4M471.4 908.4l-.1 16.7M483.9 911.3l-.2 16.8M490.3 912.8l-.2 16.8M496.6 914.3l-.2 16.9M503.2 898.7l-.4 34M509.7 900.2l-.4 34.1M515.9 918.8l-.2 17.1M523.2 868.6l-1 68.8M529.3 904.6l-.5 34.4M535.9 906.1l-.5 34.5M543.5 855.2l-1.4 87M549.3 909.1l-.6 34.7M556.4 893.1l-.9 52.4M563.9 859.2l-1.6 87.9M570.1 896.1l-1 52.7M577.8 862l-1.8 88.5M585.9 809.2l-3 142.9M590.7 918.4l-.8 35.4M598.5 884.2l-1.6 71.4M605.7 885.7l-1.7 71.6M612.4 905.2l-1.3 53.8"/>
<path stroke="#8fbb5e" stroke-width="2.2" d="M384.1 871.6l0 31.9M389.7 840.7l0 64.2M395.4 825.6l-0 80.7M401.2 875.5l-0 32.2M407 844.2l-.1 64.8M412.7 878.1l-.1 32.4M418.5 895.7l-0 16.2M424.5 864.3l-.2 49M430.3 898.4l-.1 16.3M436.3 899.8l-.1 16.4M442.2 901.2l-.1 16.4M472.8 908.4l-.1 16.7M485.3 911.3l-.2 16.8M491.6 912.8l-.2 16.8M497.9 914.3l-.2 16.9M504.5 898.7l-.4 34M511 900.2l-.4 34.1M517.2 918.8l-.2 17.1M524.5 868.6l-1 68.8M530.6 904.6l-.5 34.4M537.2 906.1l-.5 34.5M544.8 855.2l-1.4 87M550.6 909.1l-.6 34.7M557.7 893.1l-.9 52.4M565.2 859.2l-1.6 87.9M571.4 896.1l-1 52.7M579.1 862l-1.8 88.5M587.2 809.2l-3 142.9M592 918.4l-.8 35.4M599.8 884.2l-1.6 71.4M607 885.7l-1.7 71.6M613.7 905.2l-1.3 53.8"/>
<path stroke="#9fcd69" stroke-width=".7" d="M380.7 871.6l0 31.9M386.3 840.7l0 64.2M392.1 825.6l-0 80.7M397.8 875.5l-0 32.2M403.6 844.2l-.1 64.8M409.3 878.1l-.1 32.4M415.1 895.7l-0 16.2M421.1 864.3l-.2 49M426.9 898.4l-.1 16.3M432.9 899.8l-.1 16.4M438.9 901.2l-.1 16.4M469.4 908.4l-.1 16.7M481.9 911.3l-.2 16.8M488.2 912.8l-.2 16.8M494.5 914.3l-.2 16.9M501.1 898.7l-.4 34M507.6 900.2l-.4 34.1M513.9 918.8l-.2 17.1M521.1 868.6l-1 68.8M527.2 904.6l-.5 34.4M533.8 906.1l-.5 34.5M541.4 855.2l-1.4 87M547.2 909.1l-.6 34.7M554.3 893.1l-.9 52.4M561.8 859.2l-1.6 87.9M568 896.1l-1 52.7M575.7 862l-1.8 88.5M583.8 809.2l-3 142.9M588.6 918.4l-.8 35.4M596.5 884.2l-1.6 71.4M603.6 885.7l-1.7 71.6M610.4 905.2l-1.3 53.8"/>
<path stroke="#c2eb91" stroke-width="1.6" stroke-linecap="round" d="M381.3 871.6h3M386.9 840.7h3M392.6 825.6h3M398.4 875.5h3M404.2 844.2h3M409.9 878.1h3M415.7 895.7h3M421.7 864.3h3M427.5 898.4h3M433.4 899.8h3M439.4 901.2h3M470 908.4h3M482.5 911.3h3M488.8 912.8h3M495.1 914.3h3M501.7 898.7h3M508.2 900.2h3M514.4 918.8h3M521.7 868.6h3M527.8 904.6h3M534.4 906.1h3M542 855.2h3M547.8 909.1h3M554.9 893.1h3M562.4 859.2h3M568.6 896.1h3M576.3 862h3M584.4 809.2h3M589.2 918.4h3M597 884.2h3M604.2 885.7h3M610.9 905.2h3"/>
<path stroke="#bee68b" stroke-width="1.3" d="M445.6 919.1h2.4M451.7 920.6h2.4M457.8 922h2.4M463.9 923.5h2.4M476.3 926.5h2.4"/>
<path transform="scale(1 0.3400)" stroke="#cf6a86" stroke-width="4.8" stroke-linecap="round" d="M376.1 2660.7h0M381.7 2664.8h0M387.4 2668.8h0M393.1 2673h0M398.9 2677.1h0M404.6 2681.2h0M410.5 2685.4h0M416.3 2689.6h0M428.1 2698.1h0M434.1 2702.4h0M440.1 2706.8h0M452.2 2715.5h0M477 2733.3h0M483.3 2737.8h0M489.6 2742.4h0M496 2747h0M502.4 2751.6h0M508.9 2756.2h0M515.4 2760.9h0M522 2765.6h0M528.6 2770.4h0M535.2 2775.2h0M541.9 2780h0M548.6 2784.8h0M555.4 2789.7h0M562.2 2794.6h0M569.1 2799.6h0M576.1 2804.6h0M583 2809.6h0M590.1 2814.6h0M597.1 2819.7h0M604.3 2824.9h0"/>
<path stroke="#dc708f" stroke-width="4.8" d="M376.1 872.7l.1 32M381.7 857.8l.1 48.2M387.4 842.8l0 64.6M393.1 892.7l-0 16.1M398.9 828.8l-.1 81.4M404.7 895.4l-0 16.2M410.5 880.5l-.1 32.6M416.4 898.2l-0 16.3M428.2 901l-.1 16.4M434.2 902.4l-.1 16.5M440.2 903.8l-.1 16.5M452.3 906.7l-.1 16.6M477.2 912.5l-.2 16.8M483.5 914l-.2 16.9M489.8 915.5l-.2 16.9M496.2 917l-.2 17M502.6 918.5l-.2 17M509.3 902.9l-.4 34.3M515.9 904.3l-.5 34.4M522.9 871.1l-1 69.2M530.4 819.7l-1.8 122.3M536.8 838.6l-1.6 104.9M543 875.3l-1.2 69.9M550.8 823.4l-2.1 123.5M556.4 895.8l-.9 52.7M563.6 879.6l-1.3 70.6M571.2 845.2l-2.1 106.7M577.1 900.3l-1.1 53.2M584.9 865.9l-1.9 89.3M592.4 849.2l-2.3 107.8M599.2 868.8l-2 90M606.8 851.9l-2.5 108.5"/>
<path stroke="#b85e76" stroke-width="2.2" d="M377.4 872.7l.1 32M383 857.8l.1 48.2M388.7 842.8l0 64.6M394.4 892.7l-0 16.1M400.3 828.8l-.1 81.4M406 895.4l-0 16.2M411.8 880.5l-.1 32.6M417.7 898.2l-0 16.3M429.5 901l-.1 16.4M435.5 902.4l-.1 16.5M441.5 903.8l-.1 16.5M453.7 906.7l-.1 16.6M478.5 912.5l-.2 16.8M484.8 914l-.2 16.9M491.1 915.5l-.2 16.9M497.5 917l-.2 17M504 918.5l-.2 17M510.7 902.9l-.4 34.3M517.2 904.3l-.5 34.4M524.3 871.1l-1 69.2M531.7 819.7l-1.8 122.3M538.2 838.6l-1.6 104.9M544.4 875.3l-1.2 69.9M552.1 823.4l-2.1 123.5M557.7 895.8l-.9 52.7M564.9 879.6l-1.3 70.6M572.5 845.2l-2.1 106.7M578.5 900.3l-1.1 53.2M586.2 865.9l-1.9 89.3M593.7 849.2l-2.3 107.8M600.5 868.8l-2 90M608.1 851.9l-2.5 108.5"/>
<path stroke="#c86681" stroke-width=".7" d="M374 872.7l.1 32M379.6 857.8l.1 48.2M385.3 842.8l0 64.6M391 892.7l-0 16.1M396.8 828.8l-.1 81.4M402.6 895.4l-0 16.2M408.4 880.5l-.1 32.6M414.3 898.2l-0 16.3M426.1 901l-.1 16.4M432.1 902.4l-.1 16.5M438.1 903.8l-.1 16.5M450.3 906.7l-.1 16.6M475.1 912.5l-.2 16.8M481.4 914l-.2 16.9M487.7 915.5l-.2 16.9M494.1 917l-.2 17M500.6 918.5l-.2 17M507.3 902.9l-.4 34.3M513.8 904.3l-.5 34.4M520.9 871.1l-1 69.2M528.3 819.7l-1.8 122.3M534.8 838.6l-1.6 104.9M541 875.3l-1.2 69.9M548.7 823.4l-2.1 123.5M554.3 895.8l-.9 52.7M561.5 879.6l-1.3 70.6M569.1 845.2l-2.1 106.7M575.1 900.3l-1.1 53.2M582.8 865.9l-1.9 89.3M590.3 849.2l-2.3 107.8M597.1 868.8l-2 90M604.7 851.9l-2.5 108.5"/>
<path stroke="#e586a1" stroke-width="1.6" stroke-linecap="round" d="M374.6 872.7h3M380.2 857.8h3M385.9 842.8h3M391.6 892.7h3M397.4 828.8h3M403.2 895.4h3M409 880.5h3M414.9 898.2h3M426.7 901h3M432.7 902.4h3M438.7 903.8h3M450.9 906.7h3M475.7 912.5h3M482 914h3M488.3 915.5h3M494.7 917h3M501.1 918.5h3M507.8 902.9h3M514.4 904.3h3M521.5 871.1h3M528.9 819.7h3M535.4 838.6h3M541.5 875.3h3M549.3 823.4h3M554.9 895.8h3M562.1 879.6h3M569.7 845.2h3M575.6 900.3h3M583.4 865.9h3M590.9 849.2h3M597.7 868.8h3M605.3 851.9h3"/>
<path stroke="#e185a0" stroke-width="1.3" d="M421 915.9h2.4M444.9 921.8h2.4M457.2 924.8h2.4M463.3 926.3h2.4M469.5 927.8h2.4"/>
<path transform="scale(1 0.3400)" stroke="#88aae2" stroke-width="4.8" stroke-linecap="round" d="M369.4 2664h0M375 2668.1h0M380.7 2672.2h0M386.4 2676.3h0M392.1 2680.5h0M397.9 2684.7h0M403.7 2688.9h0M409.6 2693.1h0M415.4 2697.4h0M421.4 2701.7h0M427.3 2706h0M433.3 2710.3h0M439.4 2714.7h0M451.6 2723.5h0M457.7 2728h0M470.2 2737h0M476.5 2741.6h0M482.8 2746.1h0M489.2 2750.8h0M495.6 2755.4h0M508.6 2764.8h0M515.1 2769.5h0M521.7 2774.3h0M528.3 2779.1h0M535 2784h0M541.8 2788.8h0M548.5 2793.7h0M555.4 2798.7h0M562.2 2803.7h0M569.2 2808.7h0M576.1 2813.7h0M583.2 2818.8h0M590.2 2823.9h0M597.4 2829.1h0"/>
<path stroke="#92b5eb" stroke-width="4.8" d="M369.2 808.9l.2 96.9M374.9 842.6l.1 64.5M380.7 876.3l0 32.3M386.4 845l0 64.9M392.1 846.2l-0 65.1M397.9 896.5l-0 16.2M403.8 848.7l-.1 65.5M409.6 882.9l-.1 32.8M415.5 884.2l-.1 32.9M421.4 902.1l-.1 16.5M427.4 903.5l-.1 16.5M433.5 888.3l-.2 33.2M439.5 906.4l-.1 16.6M451.7 909.3l-.1 16.7M457.9 910.8l-.1 16.8M470.3 913.7l-.1 16.9M476.6 915.2l-.2 16.9M483 916.7l-.2 17M489.4 918.2l-.2 17M495.8 919.7l-.2 17.1M508.8 922.8l-.2 17.2M517.2 783.9l-2.1 157.7M523.4 820.7l-1.7 122.6M530.2 821.9l-1.8 123M535.9 894.1l-.8 52.5M542.3 913.2l-.6 35M550.7 825.6l-2.1 124.2M556.6 880.7l-1.3 70.8M562.6 935.6l-.3 17.7M571.3 847.6l-2.1 107.4M578.7 830.7l-2.5 125.9M585.8 832l-2.7 126.4M591.8 888.1l-1.6 72M599 889.6l-1.6 72.3"/>
<path stroke="#7697d0" stroke-width="2.2" d="M370.5 808.9l.2 96.9M376.2 842.6l.1 64.5M382 876.3l0 32.3M387.7 845l0 64.9M393.5 846.2l-0 65.1M399.2 896.5l-0 16.2M405.1 848.7l-.1 65.5M410.9 882.9l-.1 32.8M416.9 884.2l-.1 32.9M422.7 902.1l-.1 16.5M428.7 903.5l-.1 16.5M434.8 888.3l-.2 33.2M440.8 906.4l-.1 16.6M453 909.3l-.1 16.7M459.2 910.8l-.1 16.8M471.7 913.7l-.1 16.9M478 915.2l-.2 16.9M484.3 916.7l-.2 17M490.7 918.2l-.2 17M497.1 919.7l-.2 17.1M510.1 922.8l-.2 17.2M518.6 783.9l-2.1 157.7M524.8 820.7l-1.7 122.6M531.5 821.9l-1.8 123M537.2 894.1l-.8 52.5M543.7 913.2l-.6 35M552 825.6l-2.1 124.2M558 880.7l-1.3 70.8M563.9 935.6l-.3 17.7M572.6 847.6l-2.1 107.4M580 830.7l-2.5 125.9M587.1 832l-2.7 126.4M593.1 888.1l-1.6 72M600.3 889.6l-1.6 72.3"/>
<path stroke="#83a4dc" stroke-width=".7" d="M367.1 808.9l.2 96.9M372.8 842.6l.1 64.5M378.6 876.3l0 32.3M384.3 845l0 64.9M390.1 846.2l-0 65.1M395.8 896.5l-0 16.2M401.7 848.7l-.1 65.5M407.5 882.9l-.1 32.8M413.4 884.2l-.1 32.9M419.3 902.1l-.1 16.5M425.3 903.5l-.1 16.5M431.4 888.3l-.2 33.2M437.4 906.4l-.1 16.6M449.6 909.3l-.1 16.7M455.8 910.8l-.1 16.8M468.2 913.7l-.1 16.9M474.5 915.2l-.2 16.9M480.9 916.7l-.2 17M487.3 918.2l-.2 17M493.7 919.7l-.2 17.1M506.7 922.8l-.2 17.2M515.2 783.9l-2.1 157.7M521.4 820.7l-1.7 122.6M528.1 821.9l-1.8 123M533.8 894.1l-.8 52.5M540.3 913.2l-.6 35M548.6 825.6l-2.1 124.2M554.6 880.7l-1.3 70.8M560.5 935.6l-.3 17.7M569.2 847.6l-2.1 107.4M576.6 830.7l-2.5 125.9M583.7 832l-2.7 126.4M589.7 888.1l-1.6 72M596.9 889.6l-1.6 72.3"/>
<path stroke="#a9c5f2" stroke-width="1.6" stroke-linecap="round" d="M367.7 808.9h3M373.4 842.6h3M379.2 876.3h3M384.9 845h3M390.6 846.2h3M396.4 896.5h3M402.3 848.7h3M408.1 882.9h3M414 884.2h3M419.9 902.1h3M425.9 903.5h3M432 888.3h3M438 906.4h3M450.2 909.3h3M456.4 910.8h3M468.8 913.7h3M475.1 915.2h3M481.5 916.7h3M487.9 918.2h3M494.3 919.7h3M507.3 922.8h3M515.7 783.9h3M521.9 820.7h3M528.7 821.9h3M534.4 894.1h3M540.8 913.2h3M549.2 825.6h3M555.1 880.7h3M561.1 935.6h3M569.8 847.6h3M577.2 830.7h3M584.3 832h3M590.3 888.1h3M597.5 889.6h3"/>
<path stroke="#a2c0ee" stroke-width="1.3" d="M444.2 924.5h2.4M462.7 929h2.4M500.8 938.4h2.4"/>
<path transform="scale(1 0.3400)" stroke="#df8554" stroke-width="4.9" stroke-linecap="round" d="M362.7 2667.4h0M368.3 2671.5h0M373.9 2675.6h0M379.6 2679.7h0M385.4 2683.9h0M391.1 2688.1h0M396.9 2692.3h0M402.8 2696.6h0M408.6 2700.9h0M414.6 2705.2h0M420.5 2709.5h0M426.5 2713.9h0M438.6 2722.7h0M450.9 2731.7h0M469.6 2745.3h0M475.9 2749.9h0M482.3 2754.6h0M488.7 2759.2h0M501.7 2768.7h0M508.2 2773.4h0M514.8 2778.2h0M521.4 2783.1h0M528.1 2787.9h0M534.9 2792.9h0M541.6 2797.8h0M548.4 2802.8h0M555.3 2807.8h0M562.2 2812.8h0M569.2 2817.9h0M576.2 2823h0M583.3 2828.2h0M590.4 2833.3h0"/>
<path stroke="#f09462" stroke-width="4.9" d="M362.3 793.4l.4 113.5M368 794.5l.3 113.8M373.7 812l.2 97.7M379.6 862.4l.1 48.7M385.3 847.2l0 65.3M391.1 848.5l0 65.5M397 833.1l-0 82.3M402.9 834.3l-.1 82.5M408.7 885.4l-.1 32.9M414.6 886.7l-.1 33M420.6 904.7l-.1 16.5M426.6 906.1l-.1 16.6M438.7 909l-.1 16.7M451 912l-.1 16.8M469.8 916.4l-.1 17M476.3 900.9l-.3 34.1M482.5 919.5l-.2 17.1M488.9 921l-.2 17.1M502.3 889.4l-.6 51.9M508.7 908.3l-.4 34.7M515.5 892.3l-.7 52.3M521.9 911.3l-.5 34.9M528.4 930.4l-.3 17.5M536 879l-1.1 70.5M542.2 916l-.6 35.3M549.4 899.8l-.9 53.2M556.9 865.4l-1.6 89.2M564.3 848.7l-2 107.7M571 868.2l-1.7 89.8M579.2 814.7l-2.9 145.1M585.2 871.1l-1.9 90.5M591.6 909.1l-1.2 54.2"/>
<path stroke="#c06a3a" stroke-width="2.2" d="M363.6 793.4l.4 113.5M369.3 794.5l.3 113.8M375.1 812l.2 97.7M380.9 862.4l.1 48.7M386.6 847.2l0 65.3M392.5 848.5l0 65.5M398.3 833.1l-0 82.3M404.2 834.3l-.1 82.5M410 885.4l-.1 32.9M416 886.7l-.1 33M421.9 904.7l-.1 16.5M427.9 906.1l-.1 16.6M440 909l-.1 16.7M452.3 912l-.1 16.8M471.1 916.4l-.1 17M477.6 900.9l-.3 34.1M483.8 919.5l-.2 17.1M490.2 921l-.2 17.1M503.6 889.4l-.6 51.9M510 908.3l-.4 34.7M516.8 892.3l-.7 52.3M523.3 911.3l-.5 34.9M529.7 930.4l-.3 17.5M537.3 879l-1.1 70.5M543.5 916l-.6 35.3M550.7 899.8l-.9 53.2M558.3 865.4l-1.6 89.2M565.6 848.7l-2 107.7M572.3 868.2l-1.7 89.8M580.5 814.7l-2.9 145.1M586.5 871.1l-1.9 90.5M592.9 909.1l-1.2 54.2"/>
<path stroke="#d67d4c" stroke-width=".7" d="M360.2 793.4l.4 113.5M365.9 794.5l.3 113.8M371.7 812l.2 97.7M377.5 862.4l.1 48.7M383.2 847.2l0 65.3M389 848.5l0 65.5M394.9 833.1l-0 82.3M400.8 834.3l-.1 82.5M406.6 885.4l-.1 32.9M412.6 886.7l-.1 33M418.5 904.7l-.1 16.5M424.5 906.1l-.1 16.6M436.6 909l-.1 16.7M448.9 912l-.1 16.8M467.7 916.4l-.1 17M474.2 900.9l-.3 34.1M480.4 919.5l-.2 17.1M486.8 921l-.2 17.1M500.2 889.4l-.6 51.9M506.6 908.3l-.4 34.7M513.4 892.3l-.7 52.3M519.9 911.3l-.5 34.9M526.3 930.4l-.3 17.5M533.9 879l-1.1 70.5M540.1 916l-.6 35.3M547.3 899.8l-.9 53.2M554.8 865.4l-1.6 89.2M562.2 848.7l-2 107.7M568.9 868.2l-1.7 89.8M577.1 814.7l-2.9 145.1M583.1 871.1l-1.9 90.5M589.5 909.1l-1.2 54.2"/>
<path stroke="#f6aa80" stroke-width="1.6" stroke-linecap="round" d="M360.8 793.4h3M366.5 794.5h3M372.2 812h3M378.1 862.4h3M383.8 847.2h3M389.6 848.5h3M395.5 833.1h3M401.4 834.3h3M407.2 885.4h3M413.1 886.7h3M419.1 904.7h3M425.1 906.1h3M437.2 909h3M449.5 912h3M468.3 916.4h3M474.8 900.9h3M481 919.5h3M487.4 921h3M500.8 889.4h3M507.2 908.3h3M514 892.3h3M520.4 911.3h3M526.9 930.4h3M534.5 879h3M540.7 916h3M547.9 899.8h3M555.4 865.4h3M562.8 848.7h3M569.5 868.2h3M577.7 814.7h3M583.7 871.1h3M590.1 909.1h3"/>
<path stroke="#f2a47a" stroke-width="1.3" d="M431.3 924.2h2.4M443.5 927.2h2.4M455.9 930.3h2.4M462.1 931.8h2.4M494 939.7h2.4"/>
<path transform="scale(1 0.3400)" stroke="#5fbdce" stroke-width="4.9" stroke-linecap="round" d="M355.9 2670.7h0M361.5 2674.8h0M367.1 2679h0M372.8 2683.1h0M378.6 2687.3h0M384.3 2691.6h0M390.1 2695.8h0M395.9 2700.1h0M401.8 2704.4h0M407.7 2708.7h0M413.7 2713.1h0M419.7 2717.5h0M425.7 2721.9h0M431.8 2726.4h0M444 2735.4h0M450.2 2739.9h0M456.4 2744.5h0M469 2753.7h0M475.4 2758.4h0M494.8 2772.6h0M501.3 2777.4h0M507.9 2782.2h0M514.5 2787.1h0M521.2 2792h0M527.9 2796.9h0M534.7 2801.9h0M541.5 2806.9h0M548.4 2811.9h0M555.3 2817h0M562.2 2822.1h0M569.3 2827.2h0M576.3 2832.4h0M583.4 2837.6h0"/>
<path stroke="#6cccdc" stroke-width="4.9" d="M355.5 810.7l.4 97.3M361.4 893.3l.1 16.1M367 845.8l.2 65.1M372.6 814l.2 98.2M378.5 848.2l.1 65.5M384.3 849.5l.1 65.7M390.1 900.2l0 16.4M396 835.3l-0 82.8M401.9 886.5l-0 33M407.8 871.2l-.1 49.8M413.8 889.2l-.1 33.2M419.8 890.6l-.1 33.3M425.8 892l-.1 33.4M431.8 910.2l-.1 16.7M444.1 913.2l-.1 16.9M450.3 914.7l-.1 16.9M456.6 916.2l-.1 17M469.2 919.2l-.1 17.1M475.6 920.7l-.2 17.1M494.9 925.4l-.2 17.3M501.7 909.5l-.4 34.8M508.5 893.5l-.7 52.4M515.2 895l-.7 52.6M522.4 861l-1.3 88.3M528.4 915.7l-.5 35.2M536.1 863.7l-1.4 88.9M543.3 847.1l-1.8 107.2M549.6 884.6l-1.2 71.4M556.9 868l-1.6 89.8M563.6 887.6l-1.3 71.9M571.4 852.6l-2.1 108.7M579.3 817l-3 146M585 892.1l-1.5 72.7"/>
<path stroke="#46a0b4" stroke-width="2.2" d="M356.8 810.7l.4 97.3M362.8 893.3l.1 16.1M368.3 845.8l.2 65.1M374 814l.2 98.2M379.8 848.2l.1 65.5M385.6 849.5l.1 65.7M391.4 900.2l0 16.4M397.3 835.3l-0 82.8M403.2 886.5l-0 33M409.1 871.2l-.1 49.8M415.1 889.2l-.1 33.2M421.1 890.6l-.1 33.3M427.2 892l-.1 33.4M433.2 910.2l-.1 16.7M445.5 913.2l-.1 16.9M451.7 914.7l-.1 16.9M457.9 916.2l-.1 17M470.5 919.2l-.1 17.1M476.9 920.7l-.2 17.1M496.3 925.4l-.2 17.3M503 909.5l-.4 34.8M509.9 893.5l-.7 52.4M516.5 895l-.7 52.6M523.8 861l-1.3 88.3M529.8 915.7l-.5 35.2M537.4 863.7l-1.4 88.9M544.6 847.1l-1.8 107.2M550.9 884.6l-1.2 71.4M558.2 868l-1.6 89.8M564.9 887.6l-1.3 71.9M572.7 852.6l-2.1 108.7M580.6 817l-3 146M586.3 892.1l-1.5 72.7"/>
<path stroke="#57b4c6" stroke-width=".7" d="M353.4 810.7l.4 97.3M359.4 893.3l.1 16.1M364.9 845.8l.2 65.1M370.5 814l.2 98.2M376.4 848.2l.1 65.5M382.2 849.5l.1 65.7M388 900.2l0 16.4M393.9 835.3l-0 82.8M399.8 886.5l-0 33M405.7 871.2l-.1 49.8M411.7 889.2l-.1 33.2M417.7 890.6l-.1 33.3M423.7 892l-.1 33.4M429.7 910.2l-.1 16.7M442 913.2l-.1 16.9M448.2 914.7l-.1 16.9M454.5 916.2l-.1 17M467.1 919.2l-.1 17.1M473.5 920.7l-.2 17.1M492.9 925.4l-.2 17.3M499.6 909.5l-.4 34.8M506.5 893.5l-.7 52.4M513.1 895l-.7 52.6M520.3 861l-1.3 88.3M526.3 915.7l-.5 35.2M534 863.7l-1.4 88.9M541.2 847.1l-1.8 107.2M547.5 884.6l-1.2 71.4M554.8 868l-1.6 89.8M561.5 887.6l-1.3 71.9M569.3 852.6l-2.1 108.7M577.2 817l-3 146M582.9 892.1l-1.5 72.7"/>
<path stroke="#88d8e6" stroke-width="1.7" stroke-linecap="round" d="M354 810.7h3M359.9 893.3h3M365.5 845.8h3M371.1 814h3M377 848.2h3M382.8 849.5h3M388.6 900.2h3M394.5 835.3h3M400.3 886.5h3M406.3 871.2h3M412.2 889.2h3M418.3 890.6h3M424.3 892h3M430.3 910.2h3M442.6 913.2h3M448.8 914.7h3M455.1 916.2h3M467.7 919.2h3M474.1 920.7h3M493.4 925.4h3M500.2 909.5h3M507 893.5h3M513.7 895h3M520.9 861h3M526.9 915.7h3M534.6 863.7h3M541.7 847.1h3M548.1 884.6h3M555.4 868h3M562.1 887.6h3M569.9 852.6h3M577.8 817h3M583.5 892.1h3"/>
<path stroke="#82d4e1" stroke-width="1.3" d="M436.7 928.5h2.4M461.5 934.7h2.4M480.6 939.4h2.4M487 941.1h2.4"/>
<path transform="scale(1 0.3400)" stroke="#7b69cd" stroke-width="4.9" stroke-linecap="round" d="M349.1 2674.1h0M354.7 2678.2h0M360.3 2682.4h0M366 2686.6h0M371.7 2690.8h0M377.5 2695h0M383.3 2699.3h0M389.1 2703.6h0M394.9 2708h0M400.8 2712.3h0M406.8 2716.7h0M412.8 2721.1h0M418.8 2725.6h0M424.9 2730h0M443.3 2743.6h0M449.5 2748.2h0M474.9 2767h0M481.3 2771.7h0M487.8 2776.5h0M494.3 2781.3h0M500.9 2786.2h0M507.5 2791.1h0M514.2 2796h0M520.9 2801h0M527.7 2806h0M534.5 2811h0M541.4 2816h0M548.3 2821.1h0M555.2 2826.3h0M562.2 2831.5h0M569.3 2836.7h0M576.4 2841.9h0"/>
<path stroke="#8a78dc" stroke-width="4.9" d="M348.5 795.1l.5 114.1M354 746.3l.7 164.3M359.9 797.2l.4 114.8M365.8 831.5l.2 81.9M371.6 849.2l.1 65.6M377.3 833.9l.1 82.4M383.2 884.9l0 32.9M389.1 886.2l0 33M395 887.6l-0 33.1M400.9 872.3l-.1 49.9M406.9 856.8l-.1 66.9M412.9 891.8l-.1 33.4M418.9 893.2l-.1 33.5M424.9 911.4l-.1 16.8M443.4 915.9l-.1 16.9M449.6 917.4l-.1 17M475 923.5l-.2 17.2M481.5 925.1l-.2 17.3M488.2 909.3l-.4 34.7M494.5 928.3l-.2 17.4M501.5 894.7l-.6 52.6M508 913.9l-.4 35.1M514.4 933.1l-.2 17.6M521.2 934.7l-.2 17.6M530.6 755.6l-3 198.4M535.3 902.3l-.8 53.4M543.1 849.6l-1.8 107.9M550.4 832.6l-2.2 126.6M556.8 870.6l-1.6 90.3M564.6 835.3l-2.4 127.4M571.8 836.6l-2.5 127.9M579 837.9l-2.6 128.3"/>
<path stroke="#5e4cb0" stroke-width="2.2" d="M349.9 795.1l.5 114.1M355.4 746.3l.7 164.3M361.3 797.2l.4 114.8M367.1 831.5l.2 81.9M372.9 849.2l.1 65.6M378.7 833.9l.1 82.4M384.6 884.9l0 32.9M390.4 886.2l0 33M396.3 887.6l-0 33.1M402.2 872.3l-.1 49.9M408.2 856.8l-.1 66.9M414.2 891.8l-.1 33.4M420.2 893.2l-.1 33.5M426.3 911.4l-.1 16.8M444.7 915.9l-.1 16.9M451 917.4l-.1 17M476.4 923.5l-.2 17.2M482.8 925.1l-.2 17.3M489.5 909.3l-.4 34.7M495.9 928.3l-.2 17.4M502.9 894.7l-.6 52.6M509.3 913.9l-.4 35.1M515.8 933.1l-.2 17.6M522.5 934.7l-.2 17.6M532 755.6l-3 198.4M536.7 902.3l-.8 53.4M544.5 849.6l-1.8 107.9M551.8 832.6l-2.2 126.6M558.2 870.6l-1.6 90.3M566 835.3l-2.4 127.4M573.1 836.6l-2.5 127.9M580.4 837.9l-2.6 128.3"/>
<path stroke="#7260c4" stroke-width=".7" d="M346.4 795.1l.5 114.1M351.9 746.3l.7 164.3M357.8 797.2l.4 114.8M363.7 831.5l.2 81.9M369.5 849.2l.1 65.6M375.2 833.9l.1 82.4M381.1 884.9l0 32.9M387 886.2l0 33M392.9 887.6l-0 33.1M398.8 872.3l-.1 49.9M404.8 856.8l-.1 66.9M410.8 891.8l-.1 33.4M416.8 893.2l-.1 33.5M422.8 911.4l-.1 16.8M441.3 915.9l-.1 16.9M447.5 917.4l-.1 17M472.9 923.5l-.2 17.2M479.4 925.1l-.2 17.3M486.1 909.3l-.4 34.7M492.4 928.3l-.2 17.4M499.4 894.7l-.6 52.6M505.9 913.9l-.4 35.1M512.3 933.1l-.2 17.6M519.1 934.7l-.2 17.6M528.5 755.6l-3 198.4M533.2 902.3l-.8 53.4M541 849.6l-1.8 107.9M548.3 832.6l-2.2 126.6M554.7 870.6l-1.6 90.3M562.5 835.3l-2.4 127.4M569.7 836.6l-2.5 127.9M576.9 837.9l-2.6 128.3"/>
<path stroke="#a292e6" stroke-width="1.7" stroke-linecap="round" d="M347 795.1h3M352.5 746.3h3M358.4 797.2h3M364.3 831.5h3M370.1 849.2h3M375.8 833.9h3M381.7 884.9h3M387.6 886.2h3M393.4 887.6h3M399.4 872.3h3M405.4 856.8h3M411.3 891.8h3M417.4 893.2h3M423.4 911.4h3M441.9 915.9h3M448.1 917.4h3M473.5 923.5h3M480 925.1h3M486.6 909.3h3M493 928.3h3M500 894.7h3M506.5 913.9h3M512.9 933.1h3M519.7 934.7h3M529.1 755.6h3M533.8 902.3h3M541.6 849.6h3M548.9 832.6h3M555.3 870.6h3M563.1 835.3h3M570.3 836.6h3M577.5 837.9h3"/>
<path stroke="#9c8ce1" stroke-width="1.3" d="M429.7 929.7h2.4M435.9 931.3h2.4M454.6 936h2.4M460.9 937.6h2.4M467.2 939.2h2.4"/>
<path transform="scale(1 0.3400)" stroke="#88c63e" stroke-width="4.9" stroke-linecap="round" d="M342.2 2677.5h0M347.8 2681.6h0M353.5 2685.8h0M359.1 2690h0M364.8 2694.3h0M370.6 2698.5h0M376.4 2702.8h0M382.2 2707.2h0M388 2711.5h0M393.9 2715.9h0M399.9 2720.3h0M405.8 2724.8h0M411.9 2729.2h0M417.9 2733.7h0M424 2738.3h0M436.3 2747.4h0M442.6 2752h0M474.3 2775.6h0M480.8 2780.4h0M493.9 2790.2h0M507.2 2800.1h0M513.9 2805h0M520.6 2810.1h0M527.5 2815.1h0M534.3 2820.2h0M541.2 2825.4h0M548.2 2830.5h0M555.2 2835.7h0M562.2 2841h0M569.3 2846.3h0"/>
<path stroke="#98d84a" stroke-width="4.9" d="M341.5 779.4l.7 130.9M347 747l.8 164.7M353 798.1l.5 115.1M358.9 849l.2 65.6M364.5 817l.3 99.1M370.3 784.5l.3 133M376.3 869.4l.1 49.6M382.1 854l.1 66.4M388 838.5l0 83.4M393.9 890.1l-0 33.3M399.9 874.7l-0 50.2M405.9 876.1l-.1 50.4M411.9 911.2l-0 16.8M418 895.7l-.1 33.7M424.1 914.1l-.1 16.9M436.5 900.1l-.2 34.1M442.7 918.6l-.1 17M474.5 926.4l-.2 17.3M481 928l-.2 17.4M494.3 913.6l-.4 35.1M508.3 863.2l-1.1 88.8M514.4 918.3l-.5 35.4M521.9 866l-1.3 89.4M528 921.5l-.5 35.7M537.7 739.9l-3.4 219M542.1 906.7l-.9 54M549.1 908.2l-.9 54.1M556.8 873.2l-1.6 90.9M563.3 911.4l-1 54.5M570.8 894.6l-1.4 73.1"/>
<path stroke="#6aa428" stroke-width="2.2" d="M342.9 779.4l.7 130.9M348.4 747l.8 164.7M354.3 798.1l.5 115.1M360.2 849l.2 65.6M365.9 817l.3 99.1M371.6 784.5l.3 133M377.6 869.4l.1 49.6M383.5 854l.1 66.4M389.4 838.5l0 83.4M395.3 890.1l-0 33.3M401.3 874.7l-0 50.2M407.3 876.1l-.1 50.4M413.2 911.2l-0 16.8M419.4 895.7l-.1 33.7M425.4 914.1l-.1 16.9M437.8 900.1l-.2 34.1M444 918.6l-.1 17M475.8 926.4l-.2 17.3M482.3 928l-.2 17.4M495.6 913.6l-.4 35.1M509.6 863.2l-1.1 88.8M515.7 918.3l-.5 35.4M523.3 866l-1.3 89.4M529.3 921.5l-.5 35.7M539.1 739.9l-3.4 219M543.4 906.7l-.9 54M550.4 908.2l-.9 54.1M558.2 873.2l-1.6 90.9M564.6 911.4l-1 54.5M572.1 894.6l-1.4 73.1"/>
<path stroke="#7fbb37" stroke-width=".7" d="M339.4 779.4l.7 130.9M344.9 747l.8 164.7M350.9 798.1l.5 115.1M356.8 849l.2 65.6M362.4 817l.3 99.1M368.2 784.5l.3 133M374.2 869.4l.1 49.6M380 854l.1 66.4M385.9 838.5l0 83.4M391.8 890.1l-0 33.3M397.8 874.7l-0 50.2M403.8 876.1l-.1 50.4M409.8 911.2l-0 16.8M415.9 895.7l-.1 33.7M422 914.1l-.1 16.9M434.4 900.1l-.2 34.1M440.5 918.6l-.1 17M472.4 926.4l-.2 17.3M478.9 928l-.2 17.4M492.2 913.6l-.4 35.1M506.2 863.2l-1.1 88.8M512.3 918.3l-.5 35.4M519.8 866l-1.3 89.4M525.9 921.5l-.5 35.7M535.6 739.9l-3.4 219M540 906.7l-.9 54M547 908.2l-.9 54.1M554.7 873.2l-1.6 90.9M561.2 911.4l-1 54.5M568.7 894.6l-1.4 73.1"/>
<path stroke="#aee46c" stroke-width="1.7" stroke-linecap="round" d="M340 779.4h3M345.5 747h3M351.5 798.1h3M357.4 849h3M363 817h3M368.8 784.5h3M374.8 869.4h3M380.6 854h3M386.5 838.5h3M392.4 890.1h3M398.4 874.7h3M404.4 876.1h3M410.4 911.2h3M416.5 895.7h3M422.6 914.1h3M435 900.1h3M441.1 918.6h3M473 926.4h3M479.4 928h3M492.8 913.6h3M506.8 863.2h3M512.8 918.3h3M520.4 866h3M526.5 921.5h3M536.2 739.9h3M540.6 906.7h3M547.6 908.2h3M555.3 873.2h3M561.7 911.4h3M569.3 894.6h3"/>
<path stroke="#a7de65" stroke-width="1.3" d="M428.9 932.6h2.4M447.6 937.3h2.4M453.9 938.9h2.4M460.3 940.5h2.4M466.6 942.1h2.4M486.1 947h2.4M499.3 950.3h2.4"/>
<path transform="scale(1 0.3400)" stroke="#bf385e" stroke-width="4.9" stroke-linecap="round" d="M335.3 2680.9h0M340.9 2685.1h0M346.6 2689.3h0M352.2 2693.5h0M357.9 2697.8h0M363.7 2702.1h0M369.4 2706.4h0M375.2 2710.7h0M381.1 2715.1h0M387 2719.5h0M392.9 2723.9h0M398.9 2728.4h0M404.9 2732.9h0M410.9 2737.4h0M423.2 2746.6h0M429.3 2751.2h0M467.3 2779.6h0M480.3 2789.3h0M493.5 2799.2h0M500.1 2804.1h0M506.8 2809.2h0M520.4 2819.3h0M527.2 2824.4h0M534.1 2829.6h0M541.1 2834.8h0M548.1 2840h0M555.1 2845.3h0M562.2 2850.6h0"/>
<path stroke="#d0406a" stroke-width="4.9" d="M334.6 796.9l.7 114.6M340.2 781.3l.7 131.7M346.3 865.3l.2 49.1M351.7 800.1l.5 115.7M357.7 851.3l.2 66M363.3 802.3l.4 116.4M369.1 786.4l.3 133.7M375.2 871.8l.1 49.9M381 839.5l.1 83.7M386.9 840.7l0 83.9M392.9 892.7l-0 33.5M398.9 877.2l-0 50.5M404.9 895.5l-0 33.7M411 913.9l-0 16.9M423.3 899.8l-.1 34M429.5 901.3l-.1 34.1M467.4 927.7l-.1 17.4M480.6 913.3l-.3 35M493.6 934.1l-.2 17.6M500.3 935.7l-.2 17.7M507 937.4l-.2 17.7M521.6 868.6l-1.3 89.9M528.3 888.3l-1.1 72M535.5 871.5l-1.4 90.5M543.5 817.6l-2.4 146.2M548.7 929.4l-.6 36.3M556.8 875.9l-1.6 91.5M564.6 840.2l-2.4 129.1"/>
<path stroke="#a02848" stroke-width="2.2" d="M336 796.9l.7 114.6M341.6 781.3l.7 131.7M347.7 865.3l.2 49.1M353.1 800.1l.5 115.7M359 851.3l.2 66M364.7 802.3l.4 116.4M370.5 786.4l.3 133.7M376.5 871.8l.1 49.9M382.4 839.5l.1 83.7M388.3 840.7l0 83.9M394.3 892.7l-0 33.5M400.3 877.2l-0 50.5M406.3 895.5l-0 33.7M412.3 913.9l-0 16.9M424.6 899.8l-.1 34M430.8 901.3l-.1 34.1M468.8 927.7l-.1 17.4M482 913.3l-.3 35M495 934.1l-.2 17.6M501.7 935.7l-.2 17.7M508.4 937.4l-.2 17.7M523 868.6l-1.3 89.9M529.6 888.3l-1.1 72M536.9 871.5l-1.4 90.5M544.8 817.6l-2.4 146.2M550 929.4l-.6 36.3M558.1 875.9l-1.6 91.5M566 840.2l-2.4 129.1"/>
<path stroke="#b63357" stroke-width=".7" d="M332.5 796.9l.7 114.6M338.1 781.3l.7 131.7M344.2 865.3l.2 49.1M349.6 800.1l.5 115.7M355.6 851.3l.2 66M361.2 802.3l.4 116.4M367 786.4l.3 133.7M373 871.8l.1 49.9M378.9 839.5l.1 83.7M384.8 840.7l0 83.9M390.8 892.7l-0 33.5M396.8 877.2l-0 50.5M402.8 895.5l-0 33.7M408.9 913.9l-0 16.9M421.2 899.8l-.1 34M427.4 901.3l-.1 34.1M465.3 927.7l-.1 17.4M478.5 913.3l-.3 35M491.5 934.1l-.2 17.6M498.2 935.7l-.2 17.7M504.9 937.4l-.2 17.7M519.5 868.6l-1.3 89.9M526.2 888.3l-1.1 72M533.4 871.5l-1.4 90.5M541.4 817.6l-2.4 146.2M546.6 929.4l-.6 36.3M554.7 875.9l-1.6 91.5M562.5 840.2l-2.4 129.1"/>
<path stroke="#dc5e82" stroke-width="1.7" stroke-linecap="round" d="M333.1 796.9h3M338.7 781.3h3M344.8 865.3h3M350.2 800.1h3M356.2 851.3h3M361.8 802.3h3M367.6 786.4h3M373.6 871.8h3M379.5 839.5h3M385.4 840.7h3M391.4 892.7h3M397.4 877.2h3M403.4 895.5h3M409.5 913.9h3M421.8 899.8h3M428 901.3h3M465.9 927.7h3M479.1 913.3h3M492.1 934.1h3M498.8 935.7h3M505.5 937.4h3M520.1 868.6h3M526.8 888.3h3M534 871.5h3M542 817.6h3M547.2 929.4h3M555.3 875.9h3M563.1 840.2h3"/>
<path stroke="#d75d80" stroke-width="1.3" d="M415.8 932.3h2.5M434.3 937h2.5M440.6 938.6h2.5M446.9 940.2h2.5M453.2 941.8h2.5M459.6 943.4h2.5M472.5 946.7h2.5M485.6 950h2.5M512.3 956.8h2.5"/>
<path transform="scale(1 0.3400)" stroke="#618ed7" stroke-width="4.9" stroke-linecap="round" d="M328.4 2684.3h0M334 2688.5h0M339.6 2692.7h0M345.3 2697h0M351 2701.3h0M356.7 2705.6h0M362.5 2709.9h0M368.3 2714.3h0M374.1 2718.7h0M380 2723.1h0M385.9 2727.6h0M391.9 2732.1h0M397.9 2736.6h0M403.9 2741.2h0M410 2745.7h0M416.1 2750.4h0M422.3 2755h0M428.5 2759.7h0M447.4 2773.9h0M479.7 2798.3h0M493 2808.2h0M499.7 2813.3h0M506.5 2818.4h0M513.3 2823.5h0M520.1 2828.6h0M527 2833.8h0M533.9 2839.1h0M540.9 2844.3h0M548 2849.6h0M555.1 2855h0"/>
<path stroke="#6e9ce4" stroke-width="4.9" d="M328 847.3l.5 65.3M333.3 798.8l.7 115.3M339 799.9l.7 115.6M344.3 716.3l1 200.7M350.2 751.3l.7 167.2M356.2 786.2l.5 133.7M362.1 804.3l.4 117.1M367.9 788.4l.3 134.5M373.9 823.5l.2 100.8M379.9 841.7l.1 84.1M385.9 843l.1 84.4M391.9 878.3l-0 50.6M397.9 879.7l-0 50.8M404 898.1l-0 33.9M410 916.6l-0 17M416.2 901l-.1 34.1M422.4 919.6l-.1 17.1M428.6 921.1l-.1 17.1M447.5 925.8l-.1 17.3M479.9 933.8l-.2 17.6M493.2 937.1l-.2 17.7M500.1 920.9l-.4 35.6M507.1 904.5l-.7 53.7M514 906.1l-.7 53.9M520.9 907.7l-.8 54.1M527.5 927.4l-.5 36.1M535.1 892.5l-1.1 72.7M541.8 912.4l-.9 54.6M548.6 932.4l-.6 36.5M555.7 934.1l-.7 36.6"/>
<path stroke="#4874c0" stroke-width="2.2" d="M329.3 847.3l.5 65.3M334.6 798.8l.7 115.3M340.3 799.9l.7 115.6M345.6 716.3l1 200.7M351.6 751.3l.7 167.2M357.5 786.2l.5 133.7M363.4 804.3l.4 117.1M369.3 788.4l.3 134.5M375.3 823.5l.2 100.8M381.2 841.7l.1 84.1M387.2 843l.1 84.4M393.2 878.3l-0 50.6M399.3 879.7l-0 50.8M405.3 898.1l-0 33.9M411.4 916.6l-0 17M417.6 901l-.1 34.1M423.7 919.6l-.1 17.1M429.9 921.1l-.1 17.1M448.9 925.8l-.1 17.3M481.3 933.8l-.2 17.6M494.6 937.1l-.2 17.7M501.5 920.9l-.4 35.6M508.5 904.5l-.7 53.7M515.3 906.1l-.7 53.9M522.2 907.7l-.8 54.1M528.9 927.4l-.5 36.1M536.4 892.5l-1.1 72.7M543.2 912.4l-.9 54.6M550 932.4l-.6 36.5M557.1 934.1l-.7 36.6"/>
<path stroke="#5986d0" stroke-width=".7" d="M325.9 847.3l.5 65.3M331.2 798.8l.7 115.3M336.9 799.9l.7 115.6M342.1 716.3l1 200.7M348.1 751.3l.7 167.2M354.1 786.2l.5 133.7M360 804.3l.4 117.1M365.8 788.4l.3 134.5M371.8 823.5l.2 100.8M377.8 841.7l.1 84.1M383.8 843l.1 84.4M389.8 878.3l-0 50.6M395.8 879.7l-0 50.8M401.9 898.1l-0 33.9M407.9 916.6l-0 17M414.1 901l-.1 34.1M420.2 919.6l-.1 17.1M426.5 921.1l-.1 17.1M445.4 925.8l-.1 17.3M477.8 933.8l-.2 17.6M491.1 937.1l-.2 17.7M498 920.9l-.4 35.6M505 904.5l-.7 53.7M511.9 906.1l-.7 53.9M518.7 907.7l-.8 54.1M525.4 927.4l-.5 36.1M533 892.5l-1.1 72.7M539.7 912.4l-.9 54.6M546.5 932.4l-.6 36.5M553.6 934.1l-.7 36.6"/>
<path stroke="#8cb2ee" stroke-width="1.7" stroke-linecap="round" d="M326.4 847.3h3M331.8 798.8h3M337.4 799.9h3M342.7 716.3h3M348.7 751.3h3M354.7 786.2h3M360.6 804.3h3M366.4 788.4h3M372.4 823.5h3M378.4 841.7h3M384.3 843h3M390.4 878.3h3M396.4 879.7h3M402.5 898.1h3M408.5 916.6h3M414.7 901h3M420.8 919.6h3M427.1 921.1h3M446 925.8h3M478.4 933.8h3M491.7 937.1h3M498.6 920.9h3M505.6 904.5h3M512.4 906.1h3M519.3 907.7h3M526 927.4h3M533.6 892.5h3M540.3 912.4h3M547.1 932.4h3M554.2 934.1h3"/>
<path stroke="#84abe8" stroke-width="1.3" d="M433.5 939.9h2.5M439.8 941.5h2.5M452.5 944.8h2.5M459 946.4h2.5M465.4 948.1h2.5M472 949.7h2.5M485.1 953.1h2.5"/>
<path transform="scale(1 0.3400)" stroke="#d25f0e" stroke-width="4.9" stroke-linecap="round" d="M321.5 2687.7h0M327 2692h0M332.6 2696.2h0M338.3 2700.5h0M344 2704.8h0M349.7 2709.2h0M355.5 2713.5h0M361.3 2717.9h0M367.1 2722.3h0M373 2726.8h0M378.9 2731.3h0M384.8 2735.8h0M390.8 2740.3h0M396.9 2744.9h0M403 2749.5h0M409.1 2754.2h0M415.2 2758.8h0M466.1 2797.4h0M472.6 2802.3h0M479.2 2807.3h0M485.9 2812.4h0M492.6 2817.4h0M499.3 2822.6h0M506.1 2827.7h0M512.9 2832.9h0M519.8 2838.1h0M526.8 2843.4h0M533.8 2848.7h0M540.8 2854h0M547.9 2859.4h0"/>
<path stroke="#e86a12" stroke-width="4.9" d="M320.8 831.8l.6 82M326.2 799.7l.8 115.6M332.1 834.2l.5 82.5M337.6 801.9l.7 116.3M343 734.9l1 184.7M348.8 718.6l.9 202.5M354.9 771.1l.6 151.5M361 840.3l.3 83.8M366.9 841.5l.2 84.1M372.8 842.7l.2 84.4M378.8 861.1l.1 67.6M384.8 845.3l.1 84.9M390.8 880.8l0 50.9M396.9 865l-0 68.2M403 917.8l-0 17M409.1 902.2l-.1 34.2M415.3 920.9l-0 17.1M466.2 933.5l-.1 17.6M472.8 935.1l-.2 17.6M479.4 936.8l-.2 17.7M486.4 902.7l-.6 53.5M493.2 904.3l-.6 53.7M499.7 923.8l-.4 35.8M506.3 943.5l-.2 17.9M513.9 890.7l-1 72.5M520.8 892.3l-1 72.7M528.4 856.9l-1.6 109.9M537.2 745.3l-3.5 223.2M544.5 746.4l-3.7 224M550.1 842.4l-2.2 129.8"/>
<path stroke="#a84a08" stroke-width="2.2" d="M322.2 831.8l.6 82M327.6 799.7l.8 115.6M333.5 834.2l.5 82.5M339 801.9l.7 116.3M344.4 734.9l1 184.7M350.1 718.6l.9 202.5M356.2 771.1l.6 151.5M362.3 840.3l.3 83.8M368.2 841.5l.2 84.1M374.2 842.7l.2 84.4M380.2 861.1l.1 67.6M386.1 845.3l.1 84.9M392.2 880.8l0 50.9M398.3 865l-0 68.2M404.3 917.8l-0 17M410.5 902.2l-.1 34.2M416.6 920.9l-0 17.1M467.6 933.5l-.1 17.6M474.1 935.1l-.2 17.6M480.7 936.8l-.2 17.7M487.8 902.7l-.6 53.5M494.5 904.3l-.6 53.7M501.1 923.8l-.4 35.8M507.7 943.5l-.2 17.9M515.3 890.7l-1 72.5M522.2 892.3l-1 72.7M529.7 856.9l-1.6 109.9M538.6 745.3l-3.5 223.2M545.8 746.4l-3.7 224M551.5 842.4l-2.2 129.8"/>
<path stroke="#c5580c" stroke-width=".7" d="M318.7 831.8l.6 82M324.1 799.7l.8 115.6M330 834.2l.5 82.5M335.5 801.9l.7 116.3M340.9 734.9l1 184.7M346.7 718.6l.9 202.5M352.7 771.1l.6 151.5M358.9 840.3l.3 83.8M364.8 841.5l.2 84.1M370.7 842.7l.2 84.4M376.7 861.1l.1 67.6M382.7 845.3l.1 84.9M388.7 880.8l0 50.9M394.8 865l-0 68.2M400.9 917.8l-0 17M407 902.2l-.1 34.2M413.2 920.9l-0 17.1M464.1 933.5l-.1 17.6M470.6 935.1l-.2 17.6M477.3 936.8l-.2 17.7M484.3 902.7l-.6 53.5M491 904.3l-.6 53.7M497.6 923.8l-.4 35.8M504.2 943.5l-.2 17.9M511.8 890.7l-1 72.5M518.7 892.3l-1 72.7M526.3 856.9l-1.6 109.9M535.1 745.3l-3.5 223.2M542.3 746.4l-3.7 224M548 842.4l-2.2 129.8"/>
<path stroke="#f08434" stroke-width="1.7" stroke-linecap="round" d="M319.3 831.8h3.1M324.7 799.7h3.1M330.6 834.2h3.1M336.1 801.9h3.1M341.5 734.9h3.1M347.3 718.6h3.1M353.3 771.1h3.1M359.5 840.3h3.1M365.3 841.5h3.1M371.3 842.7h3.1M377.3 861.1h3.1M383.3 845.3h3.1M389.3 880.8h3.1M395.4 865h3.1M401.4 917.8h3.1M407.6 902.2h3.1M413.7 920.9h3.1M464.7 933.5h3.1M471.2 935.1h3.1M477.9 936.8h3.1M484.9 902.7h3.1M491.6 904.3h3.1M498.2 923.8h3.1M504.8 943.5h3.1M512.4 890.7h3.1M519.3 892.3h3.1M526.9 856.9h3.1M535.7 745.3h3.1M542.9 746.4h3.1M548.6 842.4h3.1"/>
<path stroke="#eb8036" stroke-width="1.3" d="M420.2 939.6h2.5M426.4 941.2h2.5M432.7 942.8h2.5M439.1 944.5h2.5M445.4 946.1h2.5M451.9 947.8h2.5M458.3 949.4h2.5"/>
<path transform="scale(1 0.3400)" stroke="#2c95ac" stroke-width="4.9" stroke-linecap="round" d="M314.5 2691.2h0M320 2695.4h0M325.6 2699.7h0M331.3 2704h0M337 2708.4h0M342.7 2712.7h0M348.4 2717.1h0M354.2 2721.5h0M360 2726h0M365.9 2730.5h0M371.8 2735h0M377.8 2739.5h0M383.8 2744.1h0M389.8 2748.7h0M395.9 2753.3h0M402 2758h0M458.9 2801.4h0M465.4 2806.4h0M472 2811.5h0M478.7 2816.5h0M485.4 2821.6h0M492.1 2826.8h0M498.9 2832h0M505.7 2837.2h0M512.6 2842.4h0M519.5 2847.7h0M526.5 2853h0M533.6 2858.4h0M540.6 2863.8h0"/>
<path stroke="#34a8c0" stroke-width="4.9" d="M313.1 749.1l1.4 165.9M318.6 733l1.4 183.4M324.7 784.8l1 133.1M330.5 802.8l.8 116.6M336.3 803.9l.7 117M342 788l.7 134.4M348.1 856.9l.3 66.9M354 875.1l.2 50.2M359.6 808.4l.4 118.5M365.5 792.3l.4 136.1M371.7 879.2l.1 50.7M377.6 846.3l.1 85.1M383.7 899l0 34M389.8 917.5l0 17M395.9 919.1l-0 17.1M402 920.6l-0 17.1M459 934.9l-.1 17.6M465.6 936.5l-.1 17.7M472.2 938.1l-.2 17.8M479 921.9l-.3 35.7M486.1 887.4l-.7 71.9M492.9 888.9l-.8 72.2M500.2 853.8l-1.3 109M508 780.8l-2.3 183.8M515.8 725.1l-3.2 241.3M520.6 895.1l-1 73.2M530.1 727l-3.6 243M537.1 747.2l-3.5 224.6M540.9 955.3l-.3 18.4"/>
<path stroke="#1e7388" stroke-width="2.2" d="M314.4 749.1l1.4 165.9M320 733l1.4 183.4M326 784.8l1 133.1M331.9 802.8l.8 116.6M337.6 803.9l.7 117M343.3 788l.7 134.4M349.5 856.9l.3 66.9M355.4 875.1l.2 50.2M361 808.4l.4 118.5M366.9 792.3l.4 136.1M373.1 879.2l.1 50.7M379 846.3l.1 85.1M385.1 899l0 34M391.1 917.5l0 17M397.2 919.1l-0 17.1M403.3 920.6l-0 17.1M460.4 934.9l-.1 17.6M466.9 936.5l-.1 17.7M473.5 938.1l-.2 17.8M480.4 921.9l-.3 35.7M487.5 887.4l-.7 71.9M494.3 888.9l-.8 72.2M501.5 853.8l-1.3 109M509.4 780.8l-2.3 183.8M517.2 725.1l-3.2 241.3M521.9 895.1l-1 73.2M531.5 727l-3.6 243M538.4 747.2l-3.5 224.6M542.3 955.3l-.3 18.4"/>
<path stroke="#288ba1" stroke-width=".7" d="M310.9 749.1l1.4 165.9M316.5 733l1.4 183.4M322.6 784.8l1 133.1M328.4 802.8l.8 116.6M334.1 803.9l.7 117M339.8 788l.7 134.4M346 856.9l.3 66.9M351.9 875.1l.2 50.2M357.5 808.4l.4 118.5M363.4 792.3l.4 136.1M369.6 879.2l.1 50.7M375.5 846.3l.1 85.1M381.6 899l0 34M387.7 917.5l0 17M393.7 919.1l-0 17.1M399.9 920.6l-0 17.1M456.9 934.9l-.1 17.6M463.5 936.5l-.1 17.7M470.1 938.1l-.2 17.8M476.9 921.9l-.3 35.7M484 887.4l-.7 71.9M490.8 888.9l-.8 72.2M498 853.8l-1.3 109M505.9 780.8l-2.3 183.8M513.7 725.1l-3.2 241.3M518.4 895.1l-1 73.2M528 727l-3.6 243M534.9 747.2l-3.5 224.6M538.8 955.3l-.3 18.4"/>
<path stroke="#50bcd0" stroke-width="1.7" stroke-linecap="round" d="M311.5 749.1h3.1M317.1 733h3.1M323.1 784.8h3.1M329 802.8h3.1M334.7 803.9h3.1M340.4 788h3.1M346.6 856.9h3.1M352.5 875.1h3.1M358.1 808.4h3.1M364 792.3h3.1M370.2 879.2h3.1M376.1 846.3h3.1M382.2 899h3.1M388.2 917.5h3.1M394.3 919.1h3.1M400.4 920.6h3.1M457.5 934.9h3.1M464 936.5h3.1M470.7 938.1h3.1M477.5 921.9h3.1M484.6 887.4h3.1M491.4 888.9h3.1M498.6 853.8h3.1M506.5 780.8h3.1M514.3 725.1h3.1M519 895.1h3.1M528.6 727h3.1M535.5 747.2h3.1M539.4 955.3h3.1"/>
<path stroke="#52b5c9" stroke-width="1.3" d="M406.9 939.3h2.5M413.1 940.9h2.5M419.3 942.5h2.5M425.6 944.2h2.5M431.9 945.8h2.5M438.3 947.5h2.5M444.7 949.1h2.5M451.1 950.8h2.5"/>
<path transform="scale(1 0.3400)" stroke="#4522af" stroke-width="5" stroke-linecap="round" d="M307.4 2694.7h0M313 2698.9h0M318.6 2703.2h0M324.2 2707.6h0M329.9 2711.9h0M335.6 2716.3h0M341.3 2720.7h0M347.1 2725.2h0M352.9 2729.6h0M358.8 2734.2h0M364.7 2738.7h0M370.6 2743.3h0M376.6 2747.8h0M382.6 2752.5h0M388.7 2757.1h0M401 2766.5h0M432.3 2790.6h0M451.7 2805.5h0M458.2 2810.5h0M464.8 2815.6h0M471.4 2820.7h0M478.1 2825.8h0M484.9 2831h0M491.6 2836.2h0M498.5 2841.5h0M505.3 2846.8h0M512.3 2852.1h0M519.3 2857.4h0M526.3 2862.8h0M533.4 2868.3h0"/>
<path stroke="#5028c8" stroke-width="5" d="M307 866.9l.5 49.3M311.9 784.6l1.1 133M317 717.5l1.6 201.6M323.2 786.7l1 133.9M329.1 804.8l.8 117.3M334.9 805.9l.7 117.7M341 858l.4 67.1M346.5 791l.7 135.6M352.7 877.5l.2 50.5M358.7 895.9l.1 33.7M364.6 897.3l.1 33.8M370.5 881.7l.1 51M376.6 900.2l.1 34.1M382.6 918.8l0 17.1M388.7 920.3l0 17.1M401 923.4l-0 17.2M432.4 931.3l-.1 17.5M451.9 918.4l-.2 35.4M458.3 937.8l-.1 17.7M465 939.5l-.1 17.8M471.9 905.2l-.5 53.8M478.5 924.9l-.3 35.9M486 853.6l-1.1 109M492.4 891.7l-.8 72.6M498.9 929.8l-.4 36.3M507.9 764l-2.5 203.9M515.7 707.6l-3.5 262.1M521.6 804.2l-2.3 167.3M527.6 880.8l-1.4 92.5M534.2 919.7l-.9 55.5"/>
<path stroke="#301680" stroke-width="2.2" d="M308.3 866.9l.5 49.3M313.2 784.6l1.1 133M318.3 717.5l1.6 201.6M324.6 786.7l1 133.9M330.5 804.8l.8 117.3M336.2 805.9l.7 117.7M342.3 858l.4 67.1M347.8 791l.7 135.6M354.1 877.5l.2 50.5M360.1 895.9l.1 33.7M366 897.3l.1 33.8M371.9 881.7l.1 51M377.9 900.2l.1 34.1M384 918.8l0 17.1M390.1 920.3l0 17.1M402.3 923.4l-0 17.2M433.8 931.3l-.1 17.5M453.3 918.4l-.2 35.4M459.7 937.8l-.1 17.7M466.3 939.5l-.1 17.8M473.3 905.2l-.5 53.8M479.8 924.9l-.3 35.9M487.3 853.6l-1.1 109M493.8 891.7l-.8 72.6M500.3 929.8l-.4 36.3M509.3 764l-2.5 203.9M517.1 707.6l-3.5 262.1M523 804.2l-2.3 167.3M529 880.8l-1.4 92.5M535.6 919.7l-.9 55.5"/>
<path stroke="#3e1ea0" stroke-width=".7" d="M304.9 866.9l.5 49.3M309.7 784.6l1.1 133M314.9 717.5l1.6 201.6M321.1 786.7l1 133.9M327 804.8l.8 117.3M332.7 805.9l.7 117.7M338.8 858l.4 67.1M344.3 791l.7 135.6M350.6 877.5l.2 50.5M356.6 895.9l.1 33.7M362.5 897.3l.1 33.8M368.4 881.7l.1 51M374.4 900.2l.1 34.1M380.5 918.8l0 17.1M386.6 920.3l0 17.1M398.8 923.4l-0 17.2M430.3 931.3l-.1 17.5M449.8 918.4l-.2 35.4M456.2 937.8l-.1 17.7M462.8 939.5l-.1 17.8M469.8 905.2l-.5 53.8M476.3 924.9l-.3 35.9M483.8 853.6l-1.1 109M490.3 891.7l-.8 72.6M496.8 929.8l-.4 36.3M505.8 764l-2.5 203.9M513.6 707.6l-3.5 262.1M519.5 804.2l-2.3 167.3M525.5 880.8l-1.4 92.5M532.1 919.7l-.9 55.5"/>
<path stroke="#6440d8" stroke-width="1.7" stroke-linecap="round" d="M305.4 866.9h3.1M310.3 784.6h3.1M315.4 717.5h3.1M321.7 786.7h3.1M327.6 804.8h3.1M333.3 805.9h3.1M339.4 858h3.1M344.9 791h3.1M351.2 877.5h3.1M357.2 895.9h3.1M363.1 897.3h3.1M369 881.7h3.1M375 900.2h3.1M381.1 918.8h3.1M387.2 920.3h3.1M399.4 923.4h3.1M430.9 931.3h3.1M450.4 918.4h3.1M456.8 937.8h3.1M463.4 939.5h3.1M470.4 905.2h3.1M476.9 924.9h3.1M484.4 853.6h3.1M490.9 891.7h3.1M497.4 929.8h3.1M506.4 764h3.1M514.2 707.6h3.1M520.1 804.2h3.1M526.1 880.8h3.1M532.7 919.7h3.1"/>
<path stroke="#6a48d0" stroke-width="1.3" d="M393.6 939h2.5M405.9 942.2h2.5M412.1 943.9h2.5M418.4 945.5h2.5M424.7 947.2h2.5M437.5 950.5h2.5M443.9 952.2h2.5"/>
<path transform="scale(1 0.3400)" stroke="#71b418" stroke-width="5" stroke-linecap="round" d="M300.4 2698.2h0M305.9 2702.5h0M311.5 2706.8h0M317.1 2711.1h0M322.8 2715.5h0M328.5 2719.9h0M334.2 2724.4h0M340 2728.8h0M345.8 2733.3h0M351.7 2737.9h0M357.6 2742.4h0M363.5 2747h0M431.5 2799.6h0M437.9 2804.6h0M444.4 2809.6h0M451 2814.7h0M457.5 2819.8h0M464.2 2824.9h0M470.8 2830.1h0M477.6 2835.3h0M484.3 2840.5h0M491.2 2845.8h0M498 2851.1h0M505 2856.5h0M511.9 2861.9h0M526 2872.8h0"/>
<path stroke="#80c81c" stroke-width="5" d="M298.9 767.6l1.5 149.8M305.6 885.9l.3 33M311.1 870.6l.4 49.7M316.2 804.6l1 117.2M321.6 771.5l1.1 151.7M328.1 874.6l.3 50.2M333.9 875.9l.3 50.3M339.5 843.3l.5 84.5M345.6 878.7l.3 50.7M351.6 914l.1 16.9M357.4 898.5l.1 33.9M363.4 899.9l.1 34M431.6 934.3l-.1 17.6M438.1 918.2l-.2 35.4M444.7 901.9l-.3 53.4M451.2 921.3l-.2 35.7M457.7 940.9l-.1 17.9M464.5 924.6l-.3 35.9M471.6 871.6l-.8 90.6M477.7 946l-.2 18M486.2 781.5l-1.9 184.2M492.4 857.5l-1.2 110M500.2 783.8l-2.2 185.5M508.2 708.4l-3.3 262.8M513.7 843l-1.7 130M529.4 750l-3.3 226.8"/>
<path stroke="#569010" stroke-width="2.2" d="M300.2 767.6l1.5 149.8M307 885.9l.3 33M312.4 870.6l.4 49.7M317.5 804.6l1 117.2M323 771.5l1.1 151.7M329.5 874.6l.3 50.2M335.3 875.9l.3 50.3M340.9 843.3l.5 84.5M346.9 878.7l.3 50.7M353 914l.1 16.9M358.8 898.5l.1 33.9M364.8 899.9l.1 34M432.9 934.3l-.1 17.6M439.5 918.2l-.2 35.4M446.1 901.9l-.3 53.4M452.6 921.3l-.2 35.7M459 940.9l-.1 17.9M465.8 924.6l-.3 35.9M473 871.6l-.8 90.6M479.1 946l-.2 18M487.6 781.5l-1.9 184.2M493.7 857.5l-1.2 110M501.6 783.8l-2.2 185.5M509.6 708.4l-3.3 262.8M515 843l-1.7 130M530.8 750l-3.3 226.8"/>
<path stroke="#69a915" stroke-width=".7" d="M296.7 767.6l1.5 149.8M303.5 885.9l.3 33M308.9 870.6l.4 49.7M314 804.6l1 117.2M319.5 771.5l1.1 151.7M326 874.6l.3 50.2M331.8 875.9l.3 50.3M337.4 843.3l.5 84.5M343.4 878.7l.3 50.7M349.5 914l.1 16.9M355.3 898.5l.1 33.9M361.2 899.9l.1 34M429.4 934.3l-.1 17.6M436 918.2l-.2 35.4M442.6 901.9l-.3 53.4M449.1 921.3l-.2 35.7M455.5 940.9l-.1 17.9M462.3 924.6l-.3 35.9M469.5 871.6l-.8 90.6M475.6 946l-.2 18M484.1 781.5l-1.9 184.2M490.2 857.5l-1.2 110M498.1 783.8l-2.2 185.5M506.1 708.4l-3.3 262.8M511.5 843l-1.7 130M527.2 750l-3.3 226.8"/>
<path stroke="#98d83c" stroke-width="1.7" stroke-linecap="round" d="M297.3 767.6h3.1M304.1 885.9h3.1M309.5 870.6h3.1M314.6 804.6h3.1M320.1 771.5h3.1M326.6 874.6h3.1M332.4 875.9h3.1M338 843.3h3.1M344 878.7h3.1M350.1 914h3.1M355.9 898.5h3.1M361.8 899.9h3.1M430 934.3h3.1M436.6 918.2h3.1M443.2 901.9h3.1M449.7 921.3h3.1M456.1 940.9h3.1M462.9 924.6h3.1M470.1 871.6h3.1M476.2 946h3.1M484.7 781.5h3.1M490.8 857.5h3.1M498.7 783.8h3.1M506.7 708.4h3.1M512.1 843h3.1M527.8 750h3.1"/>
<path stroke="#93d03e" stroke-width="1.3" d="M368.2 935.6h2.5M374.2 937.1h2.5M380.3 938.7h2.5M386.4 940.3h2.5M392.5 941.9h2.5M398.7 943.6h2.5M404.9 945.2h2.5M411.2 946.9h2.5M417.5 948.5h2.5M423.9 950.2h2.5M517.7 974.9h2.5"/>
<path transform="scale(1 0.3400)" stroke="#a91818" stroke-width="5" stroke-linecap="round" d="M293.3 2701.7h0M298.8 2706h0M304.4 2710.4h0M310 2714.7h0M315.6 2719.1h0M321.3 2723.6h0M327.1 2728h0M332.8 2732.5h0M338.6 2737h0M344.5 2741.6h0M430.7 2808.7h0M437.1 2813.8h0M443.7 2818.9h0M450.2 2824h0M456.9 2829.1h0M463.5 2834.3h0M470.2 2839.6h0M477 2844.8h0M483.8 2850.1h0M490.7 2855.5h0M497.6 2860.9h0M504.6 2866.3h0M511.6 2871.8h0M518.7 2877.3h0"/>
<path stroke="#c01c1c" stroke-width="5" d="M291.8 785.3l1.4 133.3M297.3 769.4l1.5 150.7M303.3 804.4l1.1 117.1M309.6 873l.4 50M314.5 789.5l1.1 135M321.1 892.5l.3 33.5M327 910.8l.1 16.8M332.2 827.2l.7 101.8M338.3 879.8l.3 50.8M344.4 915.2l.1 16.9M430.7 937.2l-.1 17.7M437.4 903.1l-.3 53.5M444.3 850.3l-.6 108.1M450.7 888.1l-.5 72M457.4 889.6l-.5 72.3M463.7 945.6l-.1 18M471.5 818.7l-1.3 146.7M477.5 912.6l-.5 54.7M486.3 726.5l-2.5 242.5M493.6 708.2l-2.9 262.7M500.7 709.1l-3.1 263.6M506.2 844.2l-1.6 130.4M514.1 788.3l-2.5 188.1M522.1 731.4l-3.4 246.9"/>
<path stroke="#7e1212" stroke-width="2.2" d="M293.2 785.3l1.4 133.3M298.6 769.4l1.5 150.7M304.6 804.4l1.1 117.1M310.9 873l.4 50M315.9 789.5l1.1 135M322.5 892.5l.3 33.5M328.3 910.8l.1 16.8M333.6 827.2l.7 101.8M339.7 879.8l.3 50.8M345.8 915.2l.1 16.9M432.1 937.2l-.1 17.7M438.8 903.1l-.3 53.5M445.6 850.3l-.6 108.1M452.1 888.1l-.5 72M458.7 889.6l-.5 72.3M465 945.6l-.1 18M472.9 818.7l-1.3 146.7M478.9 912.6l-.5 54.7M487.7 726.5l-2.5 242.5M494.9 708.2l-2.9 262.7M502 709.1l-3.1 263.6M507.6 844.2l-1.6 130.4M515.4 788.3l-2.5 188.1M523.5 731.4l-3.4 246.9"/>
<path stroke="#9c1616" stroke-width=".7" d="M289.7 785.3l1.4 133.3M295.1 769.4l1.5 150.7M301.1 804.4l1.1 117.1M307.4 873l.4 50M312.4 789.5l1.1 135M318.9 892.5l.3 33.5M324.8 910.8l.1 16.8M330 827.2l.7 101.8M336.2 879.8l.3 50.8M342.3 915.2l.1 16.9M428.6 937.2l-.1 17.7M435.3 903.1l-.3 53.5M442.1 850.3l-.6 108.1M448.6 888.1l-.5 72M455.2 889.6l-.5 72.3M461.5 945.6l-.1 18M469.4 818.7l-1.3 146.7M475.4 912.6l-.5 54.7M484.1 726.5l-2.5 242.5M491.4 708.2l-2.9 262.7M498.5 709.1l-3.1 263.6M504.1 844.2l-1.6 130.4M511.9 788.3l-2.5 188.1M520 731.4l-3.4 246.9"/>
<path stroke="#d03636" stroke-width="1.7" stroke-linecap="round" d="M290.3 785.3h3.1M295.7 769.4h3.1M301.7 804.4h3.1M308 873h3.1M313 789.5h3.1M319.5 892.5h3.1M325.4 910.8h3.1M330.6 827.2h3.1M336.8 879.8h3.1M342.9 915.2h3.1M429.2 937.2h3.1M435.9 903.1h3.1M442.7 850.3h3.1M449.2 888.1h3.1M455.8 889.6h3.1M462.1 945.6h3.1M470 818.7h3.1M476 912.6h3.1M484.7 726.5h3.1M492 708.2h3.1M499.1 709.1h3.1M504.6 844.2h3.1M512.5 788.3h3.1M520.6 731.4h3.1"/>
<path stroke="#c93e3e" stroke-width="1.3" d="M349.1 933.7h2.5M355 935.3h2.5M361 936.8h2.5M367 938.4h2.5M373.1 940h2.5M379.2 941.7h2.5M385.3 943.3h2.5M391.5 944.9h2.5M397.7 946.6h2.5M403.9 948.2h2.5M410.2 949.9h2.5M416.6 951.6h2.5M423 953.3h2.5"/>
<path transform="scale(1 0.3400)" stroke="#1e4cc0" stroke-width="5" stroke-linecap="round" d="M286.1 2705.2h0M291.6 2709.6h0M297.2 2713.9h0M302.8 2718.3h0M308.5 2722.8h0M314.2 2727.2h0M319.9 2731.7h0M325.6 2736.2h0M331.4 2740.8h0M337.3 2745.3h0M343.1 2750h0M410.5 2802.8h0M423.3 2812.9h0M429.8 2817.9h0M436.3 2823h0M442.9 2828.2h0M449.5 2833.4h0M456.2 2838.6h0M462.9 2843.9h0M469.6 2849.2h0M476.4 2854.5h0M483.3 2859.9h0M490.2 2865.3h0M497.2 2870.8h0M504.2 2876.3h0M511.3 2881.8h0"/>
<path stroke="#2358d4" stroke-width="5" d="M284.2 752.1l1.9 167.6M289.8 753.1l1.8 168.2M296 805.3l1.2 117.5M301.4 772.2l1.5 152.1M307.9 858.6l.6 67.2M314 910.5l.1 16.8M319.3 861.2l.5 67.6M325.4 896.5l.2 33.8M331.2 898l.2 33.9M337.2 916.4l.1 17M343.1 918l.1 17M410.5 935.3l-0 17.7M423.4 938.6l-.1 17.8M429.9 940.3l-.1 17.8M437.1 796.3l-.8 163.6M443.5 852.8l-.6 108.8M450.3 835.8l-.8 127.6M456.7 892.4l-.5 72.7M464.3 782.3l-1.4 184.7M470.6 858.4l-.9 110.3M477.3 878.5l-.9 92M485.8 728.3l-2.5 244.1M491.2 881.5l-1 92.7M500.5 691.2l-3.3 284.9M505.8 846.7l-1.6 131.2M514.8 712.6l-3.5 267.2"/>
<path stroke="#16379a" stroke-width="2.3" d="M285.6 752.1l1.9 167.6M291.2 753.1l1.8 168.2M297.4 805.3l1.2 117.5M302.7 772.2l1.5 152.1M309.2 858.6l.6 67.2M315.4 910.5l.1 16.8M320.7 861.2l.5 67.6M326.8 896.5l.2 33.8M332.6 898l.2 33.9M338.5 916.4l.1 17M344.4 918l.1 17M411.9 935.3l-0 17.7M424.8 938.6l-.1 17.8M431.2 940.3l-.1 17.8M438.5 796.3l-.8 163.6M444.9 852.8l-.6 108.8M451.7 835.8l-.8 127.6M458.1 892.4l-.5 72.7M465.7 782.3l-1.4 184.7M472 858.4l-.9 110.3M478.7 878.5l-.9 92M487.1 728.3l-2.5 244.1M492.6 881.5l-1 92.7M501.9 691.2l-3.3 284.9M507.2 846.7l-1.6 131.2M516.1 712.6l-3.5 267.2"/>
<path stroke="#1c46b4" stroke-width=".7" d="M282 752.1l1.9 167.6M287.7 753.1l1.8 168.2M293.9 805.3l1.2 117.5M299.2 772.2l1.5 152.1M305.7 858.6l.6 67.2M311.9 910.5l.1 16.8M317.2 861.2l.5 67.6M323.2 896.5l.2 33.8M329.1 898l.2 33.9M335 916.4l.1 17M340.9 918l.1 17M408.4 935.3l-0 17.7M421.2 938.6l-.1 17.8M427.7 940.3l-.1 17.8M435 796.3l-.8 163.6M441.3 852.8l-.6 108.8M448.2 835.8l-.8 127.6M454.5 892.4l-.5 72.7M462.2 782.3l-1.4 184.7M468.4 858.4l-.9 110.3M475.2 878.5l-.9 92M483.6 728.3l-2.5 244.1M489.1 881.5l-1 92.7M498.3 691.2l-3.3 284.9M503.7 846.7l-1.6 131.2M512.6 712.6l-3.5 267.2"/>
<path stroke="#3a70e0" stroke-width="1.7" stroke-linecap="round" d="M282.6 752.1h3.1M288.3 753.1h3.1M294.5 805.3h3.1M299.8 772.2h3.1M306.3 858.6h3.1M312.5 910.5h3.1M317.8 861.2h3.1M323.8 896.5h3.1M329.7 898h3.1M335.6 916.4h3.1M341.5 918h3.1M409 935.3h3.1M421.8 938.6h3.1M428.3 940.3h3.1M435.6 796.3h3.1M441.9 852.8h3.1M448.8 835.8h3.1M455.1 892.4h3.1M462.8 782.3h3.1M469 858.4h3.1M475.8 878.5h3.1M484.2 728.3h3.1M489.7 881.5h3.1M498.9 691.2h3.1M504.3 846.7h3.1M513.2 712.6h3.1"/>
<path stroke="#4471da" stroke-width="1.3" d="M347.8 936.6h2.5M353.8 938.2h2.5M359.8 939.8h2.5M365.8 941.4h2.5M371.9 943h2.5M378 944.6h2.5M384.2 946.3h2.5M390.4 947.9h2.5M396.6 949.6h2.5M402.9 951.3h2.5M415.6 954.7h2.5"/>
<path transform="scale(1 0.3400)" stroke="#d25f0e" stroke-width="5" stroke-linecap="round" d="M278.9 2708.8h0M284.5 2713.1h0M290 2717.5h0M295.6 2722h0M301.3 2726.4h0M306.9 2730.9h0M312.6 2735.4h0M318.4 2739.9h0M324.2 2744.5h0M330 2749.1h0M409.5 2811.9h0M415.9 2817h0M422.4 2822.1h0M428.9 2827.3h0M435.5 2832.4h0M442.1 2837.7h0M448.8 2842.9h0M455.5 2848.2h0M462.2 2853.6h0M469 2858.9h0M475.9 2864.3h0M482.8 2869.8h0M489.7 2875.3h0M496.7 2880.8h0M503.8 2886.4h0"/>
<path stroke="#e86a12" stroke-width="5" d="M277.1 770l1.9 151M281.9 702l2.6 220.4M289.3 857l.7 66.9M295.3 892l.4 33.4M300.8 876.6l.5 50.4M305.3 757.7l1.6 170.8M312.2 879.3l.4 50.7M318.3 914.7l.1 16.9M323.9 899.2l.3 34M329.9 917.7l.1 17M409.6 938.3l-0 17.8M416 940l-0 17.8M422.5 941.6l-.1 17.9M429.2 907.2l-.2 54M435.8 908.8l-.3 54.2M442.9 818.3l-.8 146.5M449.7 819.6l-.9 147M456.2 858.2l-.8 110.2M463.4 822.1l-1.1 148.1M469.8 879.7l-.8 92.3M477.1 843.7l-1.2 130.2M484.8 768.7l-2.1 207M491.3 827.4l-1.6 150.2M498.5 828.8l-1.7 150.7M506.1 791.5l-2.3 189.9"/>
<path stroke="#a84a08" stroke-width="2.3" d="M278.5 770l1.9 151M283.3 702l2.6 220.4M290.7 857l.7 66.9M296.6 892l.4 33.4M302.1 876.6l.5 50.4M306.7 757.7l1.6 170.8M313.6 879.3l.4 50.7M319.6 914.7l.1 16.9M325.3 899.2l.3 34M331.3 917.7l.1 17M410.9 938.3l-0 17.8M417.4 940l-0 17.8M423.9 941.6l-.1 17.9M430.5 907.2l-.2 54M437.1 908.8l-.3 54.2M444.3 818.3l-.8 146.5M451.1 819.6l-.9 147M457.6 858.2l-.8 110.2M464.7 822.1l-1.1 148.1M471.2 879.7l-.8 92.3M478.5 843.7l-1.2 130.2M486.2 768.7l-2.1 207M492.7 827.4l-1.6 150.2M499.9 828.8l-1.7 150.7M507.5 791.5l-2.3 189.9"/>
<path stroke="#c5580c" stroke-width=".7" d="M274.9 770l1.9 151M279.7 702l2.6 220.4M287.1 857l.7 66.9M293.1 892l.4 33.4M298.6 876.6l.5 50.4M303.2 757.7l1.6 170.8M310 879.3l.4 50.7M316.1 914.7l.1 16.9M321.8 899.2l.3 34M327.7 917.7l.1 17M407.4 938.3l-0 17.8M413.8 940l-0 17.8M420.3 941.6l-.1 17.9M427 907.2l-.2 54M433.6 908.8l-.3 54.2M440.8 818.3l-.8 146.5M447.5 819.6l-.9 147M454.1 858.2l-.8 110.2M461.2 822.1l-1.1 148.1M467.6 879.7l-.8 92.3M474.9 843.7l-1.2 130.2M482.7 768.7l-2.1 207M489.2 827.4l-1.6 150.2M496.3 828.8l-1.7 150.7M504 791.5l-2.3 189.9"/>
<path stroke="#f08434" stroke-width="1.7" stroke-linecap="round" d="M275.5 770h3.1M280.3 702h3.1M287.7 857h3.1M293.7 892h3.1M299.2 876.6h3.1M303.8 757.7h3.1M310.6 879.3h3.1M316.7 914.7h3.1M322.4 899.2h3.1M328.3 917.7h3.1M408 938.3h3.1M414.4 940h3.1M420.9 941.6h3.1M427.6 907.2h3.1M434.2 908.8h3.1M441.4 818.3h3.1M448.1 819.6h3.1M454.7 858.2h3.1M461.8 822.1h3.1M468.2 879.7h3.1M475.5 843.7h3.1M483.3 768.7h3.1M489.8 827.4h3.1M496.9 828.8h3.1M504.6 791.5h3.1"/>
<path stroke="#eb8036" stroke-width="1.3" d="M334.6 936.3h2.5M340.5 937.9h2.5M346.5 939.5h2.5M352.5 941.1h2.5M358.5 942.7h2.5M364.6 944.3h2.5M370.7 946h2.5M376.8 947.6h2.5M383 949.3h2.5M389.3 951h2.5M395.6 952.6h2.5M401.9 954.3h2.5"/>
<path transform="scale(1 0.3400)" stroke="#2c95ac" stroke-width="5" stroke-linecap="round" d="M271.7 2712.3h0M277.2 2716.7h0M282.8 2721.2h0M288.4 2725.6h0M294 2730.1h0M299.7 2734.6h0M305.4 2739.1h0M311.1 2743.7h0M316.9 2748.3h0M322.7 2752.9h0M408.5 2821.2h0M421.5 2831.5h0M428.1 2836.7h0M434.7 2842h0M441.3 2847.3h0M448 2852.6h0M454.7 2857.9h0M461.5 2863.4h0M468.4 2868.8h0M475.3 2874.3h0M482.2 2879.8h0M489.2 2885.4h0M496.3 2891h0"/>
<path stroke="#34a8c0" stroke-width="5" d="M270.8 855.5l.9 66.7M274.7 720.1l2.5 203.6M281.2 790l1.6 135.2M286.6 773.9l1.7 152.9M293.1 843.7l.9 84.6M299.3 896l.3 33.7M305.2 914.4l.2 16.9M311 915.9l.1 17M316.7 917.4l.1 17M322.6 918.9l.1 17.1M408.6 941.3l-0 17.9M421.6 944.7l-.1 18M428.4 873.5l-.4 91M435.1 875l-.4 91.3M441.9 857.9l-.6 110.1M448.2 933.3l-.2 36.5M455.9 804.3l-1.2 167.4M463 786.5l-1.4 187M470.3 749.2l-1.9 226.2M477.7 711.3l-2.4 265.9M484.7 731.8l-2.5 247.3M491.5 771.9l-2.2 209.1M496.9 926.6l-.6 56.3"/>
<path stroke="#1e7388" stroke-width="2.3" d="M272.2 855.5l.9 66.7M276.1 720.1l2.5 203.6M282.6 790l1.6 135.2M288 773.9l1.7 152.9M294.5 843.7l.9 84.6M300.7 896l.3 33.7M306.6 914.4l.2 16.9M312.3 915.9l.1 17M318.1 917.4l.1 17M324 918.9l.1 17.1M410 941.3l-0 17.9M422.9 944.7l-.1 18M429.8 873.5l-.4 91M436.5 875l-.4 91.3M443.3 857.9l-.6 110.1M449.6 933.3l-.2 36.5M457.3 804.3l-1.2 167.4M464.4 786.5l-1.4 187M471.7 749.2l-1.9 226.2M479.1 711.3l-2.4 265.9M486.1 731.8l-2.5 247.3M492.9 771.9l-2.2 209.1M498.3 926.6l-.6 56.3"/>
<path stroke="#288ba1" stroke-width=".7" d="M268.7 855.5l.9 66.7M272.5 720.1l2.5 203.6M279 790l1.6 135.2M284.5 773.9l1.7 152.9M290.9 843.7l.9 84.6M297.2 896l.3 33.7M303 914.4l.2 16.9M308.8 915.9l.1 17M314.6 917.4l.1 17M320.4 918.9l.1 17.1M406.4 941.3l-0 17.9M419.4 944.7l-.1 18M426.3 873.5l-.4 91M432.9 875l-.4 91.3M439.7 857.9l-.6 110.1M446.1 933.3l-.2 36.5M453.7 804.3l-1.2 167.4M460.8 786.5l-1.4 187M468.1 749.2l-1.9 226.2M475.6 711.3l-2.4 265.9M482.5 731.8l-2.5 247.3M489.3 771.9l-2.2 209.1M494.8 926.6l-.6 56.3"/>
<path stroke="#50bcd0" stroke-width="1.7" stroke-linecap="round" d="M269.3 855.5h3.1M273.1 720.1h3.1M279.6 790h3.1M285.1 773.9h3.1M291.5 843.7h3.1M297.8 896h3.1M303.6 914.4h3.1M309.4 915.9h3.1M315.2 917.4h3.1M321 918.9h3.1M407 941.3h3.1M420 944.7h3.1M426.9 873.5h3.1M433.5 875h3.1M440.3 857.9h3.1M446.7 933.3h3.1M454.3 804.3h3.1M461.4 786.5h3.1M468.7 749.2h3.1M476.2 711.3h3.1M483.1 731.8h3.1M489.9 771.9h3.1M495.4 926.6h3.1"/>
<path stroke="#52b5c9" stroke-width="1.3" d="M327.3 937.6h2.5M333.2 939.2h2.5M339.1 940.8h2.5M345.1 942.4h2.5M351.1 944h2.5M357.2 945.7h2.5M363.3 947.3h2.5M369.5 949h2.5M375.7 950.7h2.5M381.9 952.3h2.5M388.2 954h2.5M394.5 955.7h2.5M400.9 957.5h2.5M413.7 961h2.5"/>
<path transform="scale(1 0.3400)" stroke="#4522af" stroke-width="5" stroke-linecap="round" d="M264.4 2715.9h0M270 2720.3h0M275.5 2724.8h0M281.1 2729.3h0M286.7 2733.8h0M292.4 2738.3h0M298 2742.9h0M303.8 2747.4h0M309.5 2752.1h0M414 2835.8h0M420.6 2841h0M427.2 2846.3h0M433.8 2851.6h0M440.5 2857h0M447.2 2862.4h0M454 2867.8h0M460.9 2873.3h0M467.8 2878.8h0M474.7 2884.4h0M481.7 2890h0M488.7 2895.6h0"/>
<path stroke="#5028c8" stroke-width="5" d="M263.3 839.7l1.2 83.7M267.5 738.1l2.5 186.8M274.4 842.2l1.1 84.2M279 757.3l2.1 170.6M285.7 844.7l1 84.8M291.2 828.8l1.1 102.3M297.7 898.6l.3 33.9M303.5 900.1l.3 34.1M309.4 918.7l.2 17M414.1 946.1l-0 18M420.6 947.8l-.1 18.1M427.2 949.6l-.1 18.2M434.1 914.7l-.3 54.9M440.9 897.8l-.4 73.6M448.1 824.3l-.9 148.9M455.3 787.5l-1.3 187.6M462.3 788.7l-1.4 188.3M469.5 770.5l-1.7 208.3M476.4 791.1l-1.7 189.6M483.6 792.3l-1.9 190.3M491.6 714.9l-2.9 269.6"/>
<path stroke="#301680" stroke-width="2.3" d="M264.7 839.7l1.2 83.7M268.9 738.1l2.5 186.8M275.8 842.2l1.1 84.2M280.4 757.3l2.1 170.6M287.1 844.7l1 84.8M292.6 828.8l1.1 102.3M299.1 898.6l.3 33.9M304.8 900.1l.3 34.1M310.8 918.7l.2 17M415.5 946.1l-0 18M422 947.8l-.1 18.1M428.6 949.6l-.1 18.2M435.4 914.7l-.3 54.9M442.3 897.8l-.4 73.6M449.5 824.3l-.9 148.9M456.7 787.5l-1.3 187.6M463.7 788.7l-1.4 188.3M470.9 770.5l-1.7 208.3M477.8 791.1l-1.7 189.6M485 792.3l-1.9 190.3M493 714.9l-2.9 269.6"/>
<path stroke="#3e1ea0" stroke-width=".7" d="M261.1 839.7l1.2 83.7M265.3 738.1l2.5 186.8M272.3 842.2l1.1 84.2M276.8 757.3l2.1 170.6M283.6 844.7l1 84.8M289.1 828.8l1.1 102.3M295.5 898.6l.3 33.9M301.3 900.1l.3 34.1M307.2 918.7l.2 17M411.9 946.1l-0 18M418.5 947.8l-.1 18.1M425.1 949.6l-.1 18.2M431.9 914.7l-.3 54.9M438.7 897.8l-.4 73.6M446 824.3l-.9 148.9M453.1 787.5l-1.3 187.6M460.1 788.7l-1.4 188.3M467.3 770.5l-1.7 208.3M474.3 791.1l-1.7 189.6M481.4 792.3l-1.9 190.3M489.4 714.9l-2.9 269.6"/>
<path stroke="#6440d8" stroke-width="1.7" stroke-linecap="round" d="M261.7 839.7h3.1M265.9 738.1h3.1M272.9 842.2h3.1M277.5 757.3h3.1M284.2 844.7h3.1M289.7 828.8h3.1M296.1 898.6h3.1M301.9 900.1h3.1M307.8 918.7h3.1M412.5 946.1h3.1M419.1 947.8h3.1M425.7 949.6h3.1M432.5 914.7h3.1M439.3 897.8h3.1M446.6 824.3h3.1M453.7 787.5h3.1M460.7 788.7h3.1M467.9 770.5h3.1M474.9 791.1h3.1M482 792.3h3.1M490 714.9h3.1"/>
<path stroke="#6a48d0" stroke-width="1.3" d="M314.1 937.3h2.5M320 938.9h2.5M325.8 940.5h2.5M331.8 942.1h2.5M337.7 943.7h2.5M343.8 945.4h2.5M349.8 947h2.5M355.9 948.7h2.5M362.1 950.3h2.5M368.2 952h2.5M374.5 953.7h2.5M380.7 955.4h2.5M387 957.2h2.5M393.4 958.9h2.5M399.8 960.6h2.5M406.3 962.4h2.5"/>
<path transform="scale(1 0.3400)" stroke="#71b418" stroke-width="5.1" stroke-linecap="round" d="M257.1 2719.5h0M262.6 2724h0M268.2 2728.4h0M273.7 2732.9h0M279.4 2737.5h0M285 2742h0M290.7 2746.6h0M296.4 2751.2h0M413 2845.3h0M419.6 2850.6h0M426.3 2856h0M432.9 2861.4h0M439.7 2866.8h0M446.5 2872.3h0M453.3 2877.8h0M460.2 2883.4h0M467.1 2889h0M474.1 2894.6h0M481.1 2900.3h0"/>
<path stroke="#80c81c" stroke-width="5.1" d="M254.7 755.2l2.5 169.4M260.7 790.7l1.9 135.5M265.6 739.8l2.5 187.9M270.9 705.6l2.9 223.6M278.5 862.9l.8 67.9M284.2 864.2l.8 68.1M290.3 899.8l.4 34M296.2 918.4l.2 17M413.1 949.3l-0 18.2M419.7 932.7l-.1 36.5M426.5 897.5l-.3 73.6M433.2 917.6l-.3 55.2M440.2 881.9l-.5 92.8M447.1 864.6l-.7 112M454.6 789.6l-1.3 188.8M461.6 790.9l-1.4 189.5M468.8 772.6l-1.7 209.6M476.5 714.7l-2.4 269.5M482.1 891.3l-.9 94.8"/>
<path stroke="#569010" stroke-width="2.3" d="M256 755.2l2.5 169.4M262.1 790.7l1.9 135.5M267 739.8l2.5 187.9M272.3 705.6l2.9 223.6M279.9 862.9l.8 67.9M285.6 864.2l.8 68.1M291.7 899.8l.4 34M297.6 918.4l.2 17M414.5 949.3l-0 18.2M421.1 932.7l-.1 36.5M427.9 897.5l-.3 73.6M434.6 917.6l-.3 55.2M441.6 881.9l-.5 92.8M448.5 864.6l-.7 112M456 789.6l-1.3 188.8M463 790.9l-1.4 189.5M470.2 772.6l-1.7 209.6M477.9 714.7l-2.4 269.5M483.5 891.3l-.9 94.8"/>
<path stroke="#69a915" stroke-width=".7" d="M252.5 755.2l2.5 169.4M258.6 790.7l1.9 135.5M263.5 739.8l2.5 187.9M268.7 705.6l2.9 223.6M276.4 862.9l.8 67.9M282 864.2l.8 68.1M288.1 899.8l.4 34M294.1 918.4l.2 17M410.9 949.3l-0 18.2M417.6 932.7l-.1 36.5M424.4 897.5l-.3 73.6M431 917.6l-.3 55.2M438 881.9l-.5 92.8M445 864.6l-.7 112M452.4 789.6l-1.3 188.8M459.4 790.9l-1.4 189.5M466.7 772.6l-1.7 209.6M474.4 714.7l-2.4 269.5M479.9 891.3l-.9 94.8"/>
<path stroke="#98d83c" stroke-width="1.7" stroke-linecap="round" d="M253.1 755.2h3.1M259.2 790.7h3.1M264.1 739.8h3.1M269.3 705.6h3.1M277 862.9h3.1M282.6 864.2h3.1M288.7 899.8h3.1M294.7 918.4h3.1M411.5 949.3h3.1M418.2 932.7h3.1M425 897.5h3.1M431.6 917.6h3.1M438.6 881.9h3.1M445.6 864.6h3.1M453 789.6h3.1M460 790.9h3.1M467.3 772.6h3.1M475 714.7h3.1M480.5 891.3h3.1"/>
<path stroke="#93d03e" stroke-width="1.3" d="M300.9 937h2.5M306.7 938.6h2.5M312.6 940.2h2.5M318.4 941.8h2.5M324.4 943.4h2.5M330.3 945.1h2.5M336.3 946.7h2.5M342.4 948.4h2.5M348.5 950h2.5M354.6 951.7h2.5M360.8 953.4h2.5M367 955.1h2.5M373.3 956.8h2.5M379.6 958.6h2.5M385.9 960.3h2.5M392.3 962.1h2.5M398.8 963.8h2.5M405.2 965.6h2.5"/>
<path transform="scale(1 0.3400)" stroke="#a91818" stroke-width="5.1" stroke-linecap="round" d="M249.8 2723.2h0M255.3 2727.6h0M260.8 2732.1h0M266.4 2736.6h0M272 2741.2h0M277.6 2745.8h0M283.3 2750.4h0M289 2755h0M418.7 2860.4h0M425.4 2865.8h0M432.1 2871.3h0M438.9 2876.8h0M445.7 2882.4h0M452.6 2887.9h0M459.5 2893.6h0M466.5 2899.2h0M473.5 2905h0"/>
<path stroke="#c01c1c" stroke-width="5.1" d="M247.7 790.5l2.1 135.4M252.8 757l2.5 170.4M258.6 775.4l2.2 153.6M265.7 879.7l.7 50.8M271.5 898.1l.4 33.9M277 882.5l.6 51.1M283.1 918.1l.2 17M288.8 919.6l.2 17.1M418.7 954.2l-.1 18.3M425.4 956l-.1 18.4M432.8 807.4l-.8 168.9M439 941l-.2 37.1M446.7 809.9l-1 170.1M453.8 791.9l-1.3 190M460.2 889.4l-.7 94.4M466.9 929.1l-.5 56.6M475.9 716.4l-2.4 271.3"/>
<path stroke="#7e1212" stroke-width="2.3" d="M249.1 790.5l2.1 135.4M254.2 757l2.5 170.4M260 775.4l2.2 153.6M267.1 879.7l.7 50.8M272.9 898.1l.4 33.9M278.4 882.5l.6 51.1M284.5 918.1l.2 17M290.2 919.6l.2 17.1M420.1 954.2l-.1 18.3M426.8 956l-.1 18.4M434.2 807.4l-.8 168.9M440.4 941l-.2 37.1M448.1 809.9l-1 170.1M455.2 791.9l-1.3 190M461.6 889.4l-.7 94.4M468.3 929.1l-.5 56.6M477.3 716.4l-2.4 271.3"/>
<path stroke="#9c1616" stroke-width=".7" d="M245.5 790.5l2.1 135.4M250.6 757l2.5 170.4M256.4 775.4l2.2 153.6M263.5 879.7l.7 50.8M269.4 898.1l.4 33.9M274.8 882.5l.6 51.1M280.9 918.1l.2 17M286.6 919.6l.2 17.1M416.6 954.2l-.1 18.3M423.2 956l-.1 18.4M430.6 807.4l-.8 168.9M436.9 941l-.2 37.1M444.5 809.9l-1 170.1M451.6 791.9l-1.3 190M458 889.4l-.7 94.4M464.7 929.1l-.5 56.6M473.7 716.4l-2.4 271.3"/>
<path stroke="#d03636" stroke-width="1.7" stroke-linecap="round" d="M246.1 790.5h3.1M251.2 757h3.1M257 775.4h3.1M264.1 879.7h3.1M270 898.1h3.1M275.4 882.5h3.1M281.5 918.1h3.1M287.2 919.6h3.1M417.2 954.2h3.1M423.8 956h3.1M431.3 807.4h3.1M437.5 941h3.1M445.1 809.9h3.1M452.2 791.9h3.1M458.6 889.4h3.1M465.3 929.1h3.1M474.4 716.4h3.1"/>
<path stroke="#c93e3e" stroke-width="1.3" d="M293.5 938.3h2.5M299.3 939.9h2.5M305.1 941.5h2.5M311 943.1h2.5M316.9 944.8h2.5M322.9 946.4h2.5M328.9 948.1h2.5M334.9 949.7h2.5M341 951.4h2.5M347.1 953.1h2.5M353.3 954.8h2.5M359.5 956.5h2.5M365.7 958.3h2.5M372 960h2.5M378.4 961.8h2.5M384.8 963.5h2.5M391.2 965.3h2.5M397.7 967.1h2.5M404.2 968.9h2.5M410.8 970.7h2.5"/>
<path transform="scale(1 0.3400)" stroke="#1e4cc0" stroke-width="5.1" stroke-linecap="round" d="M242.4 2726.8h0M247.9 2731.3h0M253.4 2735.8h0M259 2740.4h0M264.6 2744.9h0M270.2 2749.6h0M275.9 2754.2h0M404.4 2859.4h0M411 2864.9h0M417.7 2870.3h0M424.4 2875.8h0M431.2 2881.3h0M438 2886.9h0M444.9 2892.5h0M451.8 2898.2h0M458.8 2903.9h0M465.8 2909.7h0"/>
<path stroke="#2358d4" stroke-width="5.1" d="M241.9 893.6l.5 33.6M246.8 861.1l1.1 67.6M250.8 758.8l2.6 171.4M256.2 742.2l2.7 189.5M263.6 865l.9 68.2M270 917.8l.2 17M275.4 902.2l.4 34.2M404.5 953.9l-0 18.3M411.1 955.7l-0 18.4M417.8 938.9l-.1 37M424.7 903.3l-.3 74.5M431.9 828.9l-.7 150.8M438.5 887.6l-.5 94M445.3 908.2l-.4 75.3M453.1 794.1l-1.3 191.3M460.2 795.3l-1.4 192M466.7 874.6l-.9 114.6"/>
<path stroke="#16379a" stroke-width="2.3" d="M243.3 893.6l.5 33.6M248.2 861.1l1.1 67.6M252.2 758.8l2.6 171.4M257.6 742.2l2.7 189.5M265 865l.9 68.2M271.4 917.8l.2 17M276.8 902.2l.4 34.2M405.9 953.9l-0 18.3M412.5 955.7l-0 18.4M419.2 938.9l-.1 37M426.1 903.3l-.3 74.5M433.3 828.9l-.7 150.8M439.9 887.6l-.5 94M446.7 908.2l-.4 75.3M454.5 794.1l-1.3 191.3M461.6 795.3l-1.4 192M468.1 874.6l-.9 114.6"/>
<path stroke="#1c46b4" stroke-width=".7" d="M239.7 893.6l.5 33.6M244.7 861.1l1.1 67.6M248.6 758.8l2.6 171.4M254 742.2l2.7 189.5M261.4 865l.9 68.2M267.8 917.8l.2 17M273.2 902.2l.4 34.2M402.3 953.9l-0 18.3M408.9 955.7l-0 18.4M415.6 938.9l-.1 37M422.5 903.3l-.3 74.5M429.7 828.9l-.7 150.8M436.3 887.6l-.5 94M443.1 908.2l-.4 75.3M450.9 794.1l-1.3 191.3M458 795.3l-1.4 192M464.5 874.6l-.9 114.6"/>
<path stroke="#3a70e0" stroke-width="1.7" stroke-linecap="round" d="M240.3 893.6h3.2M245.3 861.1h3.2M249.3 758.8h3.2M254.6 742.2h3.2M262 865h3.2M268.4 917.8h3.2M273.8 902.2h3.2M402.9 953.9h3.2M409.5 955.7h3.2M416.2 938.9h3.2M423.1 903.3h3.2M430.3 828.9h3.2M436.9 887.6h3.2M443.7 908.2h3.2M451.5 794.1h3.2M458.6 795.3h3.2M465.1 874.6h3.2"/>
<path stroke="#4471da" stroke-width="1.3" d="M280.3 938h2.5M286 939.6h2.5M291.8 941.2h2.5M297.6 942.8h2.5M303.5 944.5h2.5M309.4 946.1h2.5M315.4 947.8h2.5M321.3 949.4h2.5M327.4 951.1h2.5M333.4 952.8h2.5M339.6 954.5h2.5M345.7 956.2h2.5M351.9 957.9h2.5M358.2 959.7h2.5M364.4 961.4h2.5M370.8 963.2h2.5M377.2 965h2.5M383.6 966.8h2.5M390.1 968.6h2.5M396.6 970.4h2.5"/>
<path transform="scale(1 0.3400)" stroke="#d25f0e" stroke-width="5.1" stroke-linecap="round" d="M235 2730.5h0M240.5 2735h0M246 2739.5h0M251.5 2744.1h0M257.1 2748.7h0M262.7 2753.3h0M268.4 2758h0M410 2874.8h0M416.7 2880.3h0M423.5 2885.9h0M430.3 2891.5h0M437.2 2897.2h0M444.1 2902.9h0M451 2908.6h0M458.1 2914.4h0"/>
<path stroke="#e86a12" stroke-width="5.1" d="M233.8 860.8l1.2 67.5M238.8 827.9l1.7 102M243.8 794.5l2.2 137M250.2 847.6l1.3 85.4M256.8 917.6l.3 17M262.5 919.1l.2 17.1M268.1 920.6l.2 17.1M410.1 940.4l-.1 37.1M416.9 904.6l-.2 74.7M424 830l-.5 151.2M430.7 888.9l-.4 94.3M437.3 947.4l-.2 37.6M444.4 930.3l-.3 56.7M452 835.5l-1 153.4M458.8 895.3l-.7 95.6"/>
<path stroke="#a84a08" stroke-width="2.3" d="M235.2 860.8l1.2 67.5M240.2 827.9l1.7 102M245.2 794.5l2.2 137M251.6 847.6l1.3 85.4M258.3 917.6l.3 17M263.9 919.1l.2 17.1M269.5 920.6l.2 17.1M411.5 940.4l-.1 37.1M418.3 904.6l-.2 74.7M425.4 830l-.5 151.2M432.1 888.9l-.4 94.3M438.8 947.4l-.2 37.6M445.8 930.3l-.3 56.7M453.4 835.5l-1 153.4M460.2 895.3l-.7 95.6"/>
<path stroke="#c5580c" stroke-width=".7" d="M231.7 860.8l1.2 67.5M236.6 827.9l1.7 102M241.6 794.5l2.2 137M248 847.6l1.3 85.4M254.7 917.6l.3 17M260.3 919.1l.2 17.1M266 920.6l.2 17.1M407.9 940.4l-.1 37.1M414.7 904.6l-.2 74.7M421.8 830l-.5 151.2M428.5 888.9l-.4 94.3M435.2 947.4l-.2 37.6M442.2 930.3l-.3 56.7M449.8 835.5l-1 153.4M456.6 895.3l-.7 95.6"/>
<path stroke="#f08434" stroke-width="1.7" stroke-linecap="round" d="M232.3 860.8h3.2M237.2 827.9h3.2M242.2 794.5h3.2M248.6 847.6h3.2M255.3 917.6h3.2M260.9 919.1h3.2M266.6 920.6h3.2M408.5 940.4h3.2M415.4 904.6h3.2M422.4 830h3.2M429.1 888.9h3.2M435.8 947.4h3.2M442.8 930.3h3.2M450.5 835.5h3.2M457.2 895.3h3.2"/>
<path stroke="#eb8036" stroke-width="1.3" d="M272.8 939.3h2.6M278.5 940.9h2.6M284.3 942.5h2.6M290.1 944.2h2.6M296 945.8h2.6M301.9 947.5h2.6M307.8 949.1h2.6M313.8 950.8h2.6M319.8 952.5h2.6M325.9 954.2h2.6M332 955.9h2.6M338.1 957.6h2.6M344.3 959.4h2.6M350.5 961.1h2.6M356.8 962.9h2.6M363.2 964.7h2.6M369.5 966.4h2.6M375.9 968.2h2.6M382.4 970h2.6M388.9 971.9h2.6M395.5 973.7h2.6M402.1 975.6h2.6"/>
<path transform="scale(1 0.3400)" stroke="#2c95ac" stroke-width="5.1" stroke-linecap="round" d="M227.5 2734.2h0M233 2738.7h0M238.5 2743.3h0M244 2747.9h0M249.6 2752.5h0M255.2 2757.2h0M395.6 2873.8h0M402.3 2879.3h0M415.7 2890.5h0M422.5 2896.2h0M429.4 2901.8h0M436.3 2907.6h0M443.3 2913.4h0M450.3 2919.2h0"/>
<path stroke="#34a8c0" stroke-width="5.1" d="M225.7 827.7l1.8 102M232.4 897.3l.6 33.8M237.6 881.7l.9 51M243.8 917.3l.3 17M249.3 918.8l.3 17.1M255 920.3l.3 17.1M395.7 958.6l-0 18.5M402.3 960.4l-0 18.6M416 869.5l-.3 113.3M423.3 774.1l-.7 210.6M429.5 967.8l-.1 18.8M436.9 874.1l-.6 114.5M443.7 914.3l-.4 76.3M451.6 778.8l-1.4 213.7"/>
<path stroke="#1e7388" stroke-width="2.3" d="M227.1 827.7l1.8 102M233.8 897.3l.6 33.8M239 881.7l.9 51M245.2 917.3l.3 17M250.7 918.8l.3 17.1M256.4 920.3l.3 17.1M397.1 958.6l-0 18.5M403.7 960.4l-0 18.6M417.5 869.5l-.3 113.3M424.7 774.1l-.7 210.6M430.9 967.8l-.1 18.8M438.3 874.1l-.6 114.5M445.1 914.3l-.4 76.3M453 778.8l-1.4 213.7"/>
<path stroke="#288ba1" stroke-width=".7" d="M223.5 827.7l1.8 102M230.2 897.3l.6 33.8M235.4 881.7l.9 51M241.6 917.3l.3 17M247.1 918.8l.3 17.1M252.8 920.3l.3 17.1M393.5 958.6l-0 18.5M400.1 960.4l-0 18.6M413.8 869.5l-.3 113.3M421.1 774.1l-.7 210.6M427.3 967.8l-.1 18.8M434.7 874.1l-.6 114.5M441.5 914.3l-.4 76.3M449.4 778.8l-1.4 213.7"/>
<path stroke="#50bcd0" stroke-width="1.7" stroke-linecap="round" d="M224.1 827.7h3.2M230.8 897.3h3.2M236.1 881.7h3.2M242.2 917.3h3.2M247.7 918.8h3.2M253.4 920.3h3.2M394.1 958.6h3.2M400.7 960.4h3.2M414.5 869.5h3.2M421.7 774.1h3.2M427.9 967.8h3.2M435.3 874.1h3.2M442.1 914.3h3.2M450.1 778.8h3.2"/>
<path stroke="#52b5c9" stroke-width="1.3" d="M259.6 939h2.6M265.3 940.6h2.6M271 942.3h2.6M276.7 943.9h2.6M282.6 945.5h2.6M288.4 947.2h2.6M294.3 948.8h2.6M300.2 950.5h2.6M306.2 952.2h2.6M312.2 953.9h2.6M318.2 955.6h2.6M324.3 957.3h2.6M330.5 959.1h2.6M336.7 960.8h2.6M342.9 962.6h2.6M349.2 964.3h2.6M355.5 966.1h2.6M361.8 967.9h2.6M368.3 969.7h2.6M374.7 971.5h2.6M381.2 973.4h2.6M387.8 975.2h2.6M407.7 980.9h2.6"/>
<path transform="scale(1 0.3400)" stroke="#4522af" stroke-width="5.1" stroke-linecap="round" d="M220 2737.9h0M225.5 2742.5h0M231 2747h0M236.5 2751.7h0M242.1 2756.3h0M381.3 2872.8h0M387.9 2878.3h0M394.5 2883.9h0M401.2 2889.5h0M407.9 2895.1h0M414.7 2900.8h0M421.6 2906.5h0M428.5 2912.3h0M435.4 2918.1h0"/>
<path stroke="#5028c8" stroke-width="5.1" d="M218.1 828.7l1.9 102.2M224.9 898.5l.6 33.9M230.4 900l.6 34M236.2 918.5l.3 17M241.8 920l.3 17.1M381.3 958.3l0 18.5M387.9 960.1l0 18.5M394.5 961.9l-0 18.6M401.2 945l-0 37.4M408.1 908.9l-.1 75.4M415.2 814.2l-.4 172.1M421.8 931.4l-.2 56.9M429.3 797.2l-.8 193M436.2 837.8l-.7 154.3"/>
<path stroke="#301680" stroke-width="2.3" d="M219.5 828.7l1.9 102.2M226.3 898.5l.6 33.9M231.8 900l.6 34M237.6 918.5l.3 17M243.2 920l.3 17.1M382.7 958.3l0 18.5M389.3 960.1l0 18.5M395.9 961.9l-0 18.6M402.7 945l-0 37.4M409.5 908.9l-.1 75.4M416.6 814.2l-.4 172.1M423.2 931.4l-.2 56.9M430.7 797.2l-.8 193M437.6 837.8l-.7 154.3"/>
<path stroke="#3e1ea0" stroke-width=".7" d="M215.9 828.7l1.9 102.2M222.7 898.5l.6 33.9M228.2 900l.6 34M234 918.5l.3 17M239.6 920l.3 17.1M379.1 958.3l0 18.5M385.7 960.1l0 18.5M392.3 961.9l-0 18.6M399 945l-0 37.4M405.9 908.9l-.1 75.4M413 814.2l-.4 172.1M419.6 931.4l-.2 56.9M427.1 797.2l-.8 193M434 837.8l-.7 154.3"/>
<path stroke="#6440d8" stroke-width="1.7" stroke-linecap="round" d="M216.5 828.7h3.2M223.3 898.5h3.2M228.8 900h3.2M234.6 918.5h3.2M240.2 920h3.2M379.7 958.3h3.2M386.3 960.1h3.2M392.9 961.9h3.2M399.7 945h3.2M406.5 908.9h3.2M413.6 814.2h3.2M420.2 931.4h3.2M427.7 797.2h3.2M434.6 837.8h3.2"/>
<path stroke="#6a48d0" stroke-width="1.3" d="M246.4 938.7h2.6M252 940.3h2.6M257.7 942h2.6M263.4 943.6h2.6M269.2 945.2h2.6M274.9 946.9h2.6M280.8 948.5h2.6M286.7 950.2h2.6M292.6 951.9h2.6M298.5 953.6h2.6M304.5 955.3h2.6M310.6 957h2.6M316.7 958.7h2.6M322.8 960.5h2.6M329 962.2h2.6M335.2 964h2.6M341.4 965.8h2.6M347.8 967.6h2.6M354.1 969.4h2.6M360.5 971.2h2.6M367 973h2.6M373.5 974.9h2.6M441.1 994.2h2.6"/>
<path transform="scale(1 0.3400)" stroke="#71b418" stroke-width="5.1" stroke-linecap="round" d="M212.5 2741.6h0M217.9 2746.2h0M223.4 2750.8h0M228.9 2755.5h0M298.1 2813.8h0M380.1 2882.9h0M386.7 2888.5h0M393.4 2894.1h0M400.1 2899.8h0M406.9 2905.5h0M413.7 2911.3h0M420.6 2917.1h0M427.5 2922.9h0M434.5 2928.8h0"/>
<path stroke="#80c81c" stroke-width="5.1" d="M212.2 915.2l.3 16.9M216.3 848.2l1.6 85.5M220.2 762l3.2 173.3M228.6 919.8l.3 17.1M297.9 938.9l.2 17.8M380 961.6l0 18.6M386.7 963.4l0 18.7M393.4 908.6l-0 75.4M400.2 910.3l-.1 75.6M407.2 815.3l-.3 172.6M414.1 816.6l-.4 173.2M421 876.6l-.4 115.2M428.5 759.6l-.9 234.2M434.7 957.4l-.2 38.3"/>
<path stroke="#569010" stroke-width="2.3" d="M213.6 915.2l.3 16.9M217.7 848.2l1.6 85.5M221.6 762l3.2 173.3M230 919.8l.3 17.1M299.4 938.9l.2 17.8M381.4 961.6l0 18.6M388.1 963.4l0 18.7M394.8 908.6l-0 75.4M401.6 910.3l-.1 75.6M408.6 815.3l-.3 172.6M415.6 816.6l-.4 173.2M422.4 876.6l-.4 115.2M429.9 759.6l-.9 234.2M436.1 957.4l-.2 38.3"/>
<path stroke="#69a915" stroke-width=".7" d="M209.9 915.2l.3 16.9M214.1 848.2l1.6 85.5M218 762l3.2 173.3M226.4 919.8l.3 17.1M295.7 938.9l.2 17.8M377.8 961.6l0 18.6M384.5 963.4l0 18.7M391.2 908.6l-0 75.4M398 910.3l-.1 75.6M405 815.3l-.3 172.6M411.9 816.6l-.4 173.2M418.8 876.6l-.4 115.2M426.3 759.6l-.9 234.2M432.5 957.4l-.2 38.3"/>
<path stroke="#98d83c" stroke-width="1.7" stroke-linecap="round" d="M210.6 915.2h3.2M214.7 848.2h3.2M218.6 762h3.2M227 919.8h3.2M296.3 938.9h3.2M378.4 961.6h3.2M385.1 963.4h3.2M391.8 908.6h3.2M398.6 910.3h3.2M405.6 815.3h3.2M412.5 816.6h3.2M419.4 876.6h3.2M426.9 759.6h3.2M433.1 957.4h3.2"/>
<path stroke="#93d03e" stroke-width="1.3" d="M233.2 938.5h2.6M238.8 940.1h2.6M244.4 941.7h2.6M250.1 943.3h2.6M255.8 944.9h2.6M261.5 946.6h2.6M267.3 948.2h2.6M273.1 949.9h2.6M279 951.6h2.6M284.9 953.3h2.6M290.8 955h2.6M302.9 958.4h2.6M308.9 960.2h2.6M315.1 961.9h2.6M321.2 963.7h2.6M327.4 965.5h2.6M333.7 967.3h2.6M340 969.1h2.6M346.3 970.9h2.6M352.7 972.7h2.6M359.2 974.6h2.6M365.6 976.4h2.6M372.2 978.3h2.6"/>
<path transform="scale(1 0.3400)" stroke="#a91818" stroke-width="5.2" stroke-linecap="round" d="M204.9 2745.4h0M210.3 2750h0M215.8 2754.6h0M365.6 2881.9h0M372.2 2887.5h0M378.8 2893.1h0M385.5 2898.7h0M392.2 2904.5h0M399 2910.2h0M405.8 2916h0M412.7 2921.8h0M419.6 2927.7h0M426.6 2933.7h0"/>
<path stroke="#c01c1c" stroke-width="5.2" d="M203.5 865.2l1.4 68.3M210 918l.3 17M215.5 919.5l.3 17.1M365.6 961.3l.1 18.6M372.1 963.1l0 18.6M378.8 946.1l.1 37.5M385.4 910l.1 75.6M392.2 911.7l-0 75.9M399.1 835.9l-.1 153.6M406.1 817.7l-.3 173.7M413 877.9l-.3 115.5M419.7 957.1l-.1 38.3M426.9 920.2l-.3 77.2"/>
<path stroke="#7e1212" stroke-width="2.3" d="M204.9 865.2l1.4 68.3M211.4 918l.3 17M216.9 919.5l.3 17.1M367 961.3l.1 18.6M373.6 963.1l0 18.6M380.2 946.1l.1 37.5M386.9 910l.1 75.6M393.6 911.7l-0 75.9M400.5 835.9l-.1 153.6M407.5 817.7l-.3 173.7M414.4 877.9l-.3 115.5M421.2 957.1l-.1 38.3M428.3 920.2l-.3 77.2"/>
<path stroke="#9c1616" stroke-width=".7" d="M201.3 865.2l1.4 68.3M207.8 918l.3 17M213.3 919.5l.3 17.1M363.3 961.3l.1 18.6M369.9 963.1l0 18.6M376.5 946.1l.1 37.5M383.2 910l.1 75.6M390 911.7l-0 75.9M396.9 835.9l-.1 153.6M403.9 817.7l-.3 173.7M410.7 877.9l-.3 115.5M417.5 957.1l-.1 38.3M424.7 920.2l-.3 77.2"/>
<path stroke="#d03636" stroke-width="1.8" stroke-linecap="round" d="M201.9 865.2h3.2M208.4 918h3.2M213.9 919.5h3.2M364 961.3h3.2M370.5 963.1h3.2M377.2 946.1h3.2M383.8 910h3.2M390.6 911.7h3.2M397.5 835.9h3.2M404.5 817.7h3.2M411.3 877.9h3.2M418.1 957.1h3.2M425.3 920.2h3.2"/>
<path stroke="#c93e3e" stroke-width="1.3" d="M220 938.2h2.6M225.5 939.8h2.6M231.1 941.4h2.6M236.7 943h2.6M242.4 944.6h2.6M248.1 946.3h2.6M253.8 947.9h2.6M259.6 949.6h2.6M265.4 951.3h2.6M271.3 953h2.6M277.2 954.7h2.6M283.1 956.4h2.6M289.1 958.1h2.6M295.1 959.8h2.6M301.2 961.6h2.6M307.3 963.4h2.6M313.4 965.1h2.6M319.6 966.9h2.6M325.9 968.7h2.6M332.2 970.6h2.6M338.5 972.4h2.6M344.9 974.2h2.6M351.3 976.1h2.6M357.8 978h2.6"/>
<path transform="scale(1 0.3400)" stroke="#1e4cc0" stroke-width="5.2" stroke-linecap="round" d="M197.3 2749.2h0M202.7 2753.8h0M208.1 2758.5h0M357.7 2886.4h0M364.3 2892.1h0M370.9 2897.7h0M377.5 2903.4h0M384.3 2909.2h0M391 2915h0M397.8 2920.8h0M404.7 2926.7h0M411.6 2932.6h0M418.6 2938.6h0"/>
<path stroke="#2358d4" stroke-width="5.2" d="M195.5 849l1.8 85.7M202.3 919.2l.4 17.1M207.8 920.7l.3 17.1M357.6 962.8l.1 18.6M364.1 927l.2 56.3M370.7 890.6l.2 94.6M377.3 853.7l.2 133.5M384.2 855.1l.1 134M391 837.1l0 154M397.9 916.4l-.1 76.6M404.9 898.7l-.1 96.3M411.8 919.9l-.2 77.2M418.7 979.9l-.1 19.2"/>
<path stroke="#16379a" stroke-width="2.3" d="M196.9 849l1.8 85.7M203.8 919.2l.4 17.1M209.2 920.7l.3 17.1M359.1 962.8l.1 18.6M365.5 927l.2 56.3M372.1 890.6l.2 94.6M378.8 853.7l.2 133.5M385.6 855.1l.1 134M392.4 837.1l0 154M399.3 916.4l-.1 76.6M406.3 898.7l-.1 96.3M413.2 919.9l-.2 77.2M420.1 979.9l-.1 19.2"/>
<path stroke="#1c46b4" stroke-width=".7" d="M193.2 849l1.8 85.7M200.1 919.2l.4 17.1M205.6 920.7l.3 17.1M355.4 962.8l.1 18.6M361.9 927l.2 56.3M368.4 890.6l.2 94.6M375.1 853.7l.2 133.5M381.9 855.1l.1 134M388.8 837.1l0 154M395.7 916.4l-.1 76.6M402.6 898.7l-.1 96.3M409.6 919.9l-.2 77.2M416.4 979.9l-.1 19.2"/>
<path stroke="#3a70e0" stroke-width="1.8" stroke-linecap="round" d="M193.8 849h3.2M200.7 919.2h3.2M206.2 920.7h3.2M356 962.8h3.2M362.5 927h3.2M369.1 890.6h3.2M375.7 853.7h3.2M382.5 855.1h3.2M389.4 837.1h3.2M396.3 916.4h3.2M403.2 898.7h3.2M410.2 919.9h3.2M417.1 979.9h3.2"/>
<path stroke="#4471da" stroke-width="1.3" d="M212.3 939.5h2.6M217.9 941.1h2.6M223.4 942.7h2.6M229 944.3h2.6M234.7 946h2.6M240.4 947.6h2.6M246.1 949.3h2.6M251.9 951h2.6M257.7 952.7h2.6M263.5 954.4h2.6M269.4 956.1h2.6M275.3 957.8h2.6M281.3 959.5h2.6M287.3 961.3h2.6M293.4 963h2.6M299.5 964.8h2.6M305.6 966.6h2.6M311.8 968.4h2.6M318 970.2h2.6M324.3 972h2.6M330.6 973.9h2.6M337 975.7h2.6M343.4 977.6h2.6M349.9 979.5h2.6"/>
<path transform="scale(1 0.3400)" stroke="#d25f0e" stroke-width="5.2" stroke-linecap="round" d="M189.6 2752.9h0M195 2757.6h0M274.8 2826.4h0M356.3 2896.7h0M362.9 2902.4h0M369.6 2908.1h0M376.3 2913.9h0M383 2919.7h0M389.8 2925.6h0M396.7 2931.5h0M403.6 2937.5h0M410.6 2943.5h0"/>
<path stroke="#e86a12" stroke-width="5.2" d="M189.2 918.9l.4 17.1M194.3 903.3l.7 34.3M274.5 943l.2 17.9M356.2 966.1l.1 18.8M362.9 968l.1 18.8M369.1 796.3l.5 192.5M376.1 914.4l.1 76.3M383 935.4l.1 57.3M389.8 839.7l0 155M396.8 841.1l-.1 155.6M403.8 842.6l-.2 156.2M410.7 923.1l-.2 77.7"/>
<path stroke="#a84a08" stroke-width="2.3" d="M190.7 918.9l.4 17.1M195.7 903.3l.7 34.3M276 943l.2 17.9M357.7 966.1l.1 18.8M364.3 968l.1 18.8M370.5 796.3l.5 192.5M377.6 914.4l.1 76.3M384.4 935.4l.1 57.3M391.2 839.7l0 155M398.2 841.1l-.1 155.6M405.2 842.6l-.2 156.2M412.2 923.1l-.2 77.7"/>
<path stroke="#c5580c" stroke-width=".7" d="M187 918.9l.4 17.1M192 903.3l.7 34.3M272.3 943l.2 17.9M354 966.1l.1 18.8M360.6 968l.1 18.8M366.9 796.3l.5 192.5M373.9 914.4l.1 76.3M380.7 935.4l.1 57.3M387.6 839.7l0 155M394.5 841.1l-.1 155.6M401.6 842.6l-.2 156.2M408.5 923.1l-.2 77.7"/>
<path stroke="#f08434" stroke-width="1.8" stroke-linecap="round" d="M187.6 918.9h3.2M192.7 903.3h3.2M272.9 943h3.2M354.6 966.1h3.2M361.2 968h3.2M367.5 796.3h3.2M374.5 914.4h3.2M381.4 935.4h3.2M388.2 839.7h3.2M395.2 841.1h3.2M402.2 842.6h3.2M409.1 923.1h3.2"/>
<path stroke="#eb8036" stroke-width="1.3" d="M199.2 939.2h2.6M204.6 940.8h2.6M210.2 942.4h2.6M215.7 944h2.6M221.3 945.7h2.6M226.9 947.3h2.6M232.6 949h2.6M238.3 950.7h2.6M244.1 952.4h2.6M249.9 954h2.6M255.7 955.8h2.6M261.6 957.5h2.6M267.5 959.2h2.6M279.5 962.7h2.6M285.5 964.5h2.6M291.6 966.3h2.6M297.7 968.1h2.6M303.9 969.9h2.6M310.1 971.7h2.6M316.4 973.6h2.6M322.7 975.4h2.6M329.1 977.3h2.6M335.5 979.2h2.6M341.9 981h2.6M348.5 983h2.6"/>
<path transform="scale(1 0.3400)" stroke="#2c95ac" stroke-width="5.2" stroke-linecap="round" d="M187.3 2761.4h0M348.3 2901.3h0M354.9 2907.1h0M361.5 2912.8h0M368.2 2918.7h0M375 2924.5h0M381.8 2930.4h0M388.6 2936.4h0M395.5 2942.4h0"/>
<path stroke="#34a8c0" stroke-width="5.2" d="M186.9 921.7l.4 17.2M348.2 967.6l.1 18.8M354.5 893.2l.4 95.2M361.5 971.4l.1 18.9M367.9 857.6l.3 134.8M374.8 898.1l.2 96.2M381.6 840.8l.2 155.5M388.6 901.4l0 96.9M395.6 883.4l-.1 117"/>
<path stroke="#1e7388" stroke-width="2.3" d="M188.3 921.7l.4 17.2M349.6 967.6l.1 18.8M355.9 893.2l.4 95.2M362.9 971.4l.1 18.9M369.3 857.6l.3 134.8M376.2 898.1l.2 96.2M383 840.8l.2 155.5M390 901.4l0 96.9M397 883.4l-.1 117"/>
<path stroke="#288ba1" stroke-width=".7" d="M184.7 921.7l.4 17.2M346 967.6l.1 18.8M352.3 893.2l.4 95.2M359.2 971.4l.1 18.9M365.6 857.6l.3 134.8M372.6 898.1l.2 96.2M379.4 840.8l.2 155.5M386.4 901.4l0 96.9M393.3 883.4l-.1 117"/>
<path stroke="#50bcd0" stroke-width="1.8" stroke-linecap="round" d="M185.3 921.7h3.2M346.6 967.6h3.2M352.9 893.2h3.2M359.9 971.4h3.2M366.3 857.6h3.2M373.2 898.1h3.2M380 840.8h3.2M387 901.4h3.2M394 883.4h3.2"/>
<path stroke="#52b5c9" stroke-width="1.3" d="M180.6 937.3h2.6M191.4 940.5h2.6M196.9 942.1h2.6M202.4 943.7h2.6M207.9 945.4h2.6M213.5 947h2.6M219.1 948.7h2.6M224.8 950.4h2.6M230.5 952h2.6M236.2 953.7h2.6M242 955.4h2.6M247.9 957.2h2.6M253.7 958.9h2.6M259.6 960.6h2.6M265.6 962.4h2.6M271.6 964.2h2.6M277.6 966h2.6M283.7 967.8h2.6M289.8 969.6h2.6M296 971.4h2.6M302.2 973.2h2.6M308.4 975.1h2.6M314.8 976.9h2.6M321.1 978.8h2.6M327.5 980.7h2.6M334 982.6h2.6M340.4 984.5h2.6M401.2 1002.5h2.6"/>
<path transform="scale(1 0.3400)" stroke="#4522af" stroke-width="5.2" stroke-linecap="round" d="M295.5 2866.9h0M346.8 2911.8h0M353.5 2917.6h0M360.1 2923.5h0M366.9 2929.4h0M373.7 2935.3h0M380.5 2941.3h0M387.4 2947.3h0M394.3 2953.4h0"/>
<path stroke="#5028c8" stroke-width="5.2" d="M295.3 956.3l.2 18.4M346.5 933l.3 57M353.2 934.7l.2 57.2M359.7 858.8l.5 135.2M366.6 899.5l.3 96.5M373.4 861.8l.3 136.2M380.3 843.5l.2 156.6M387.4 943.8l0 58.3M394.3 984.7l-0 19.4"/>
<path stroke="#301680" stroke-width="2.4" d="M296.7 956.3l.2 18.4M348 933l.3 57M354.6 934.7l.2 57.2M361.1 858.8l.5 135.2M368 899.5l.3 96.5M374.8 861.8l.3 136.2M381.7 843.5l.2 156.6M388.8 943.8l0 58.3M395.8 984.7l-0 19.4"/>
<path stroke="#3e1ea0" stroke-width=".7" d="M293.1 956.3l.2 18.4M344.3 933l.3 57M351 934.7l.2 57.2M357.4 858.8l.5 135.2M364.4 899.5l.3 96.5M371.1 861.8l.3 136.2M378.1 843.5l.2 156.6M385.1 943.8l0 58.3M392.1 984.7l-0 19.4"/>
<path stroke="#6440d8" stroke-width="1.8" stroke-linecap="round" d="M293.7 956.3h3.2M344.9 933h3.2M351.6 934.7h3.2M358 858.8h3.2M365 899.5h3.2M371.8 861.8h3.2M378.7 843.5h3.2M385.7 943.8h3.2M392.7 984.7h3.2"/>
<path stroke="#6a48d0" stroke-width="1.3" d="M172.8 938.6h2.6M178.2 940.2h2.6M183.6 941.8h2.6M189.1 943.4h2.6M194.6 945.1h2.6M200.1 946.7h2.6M205.7 948.4h2.6M211.3 950.1h2.6M217 951.7h2.6M222.6 953.4h2.6M228.4 955.1h2.6M234.1 956.9h2.6M240 958.6h2.6M245.8 960.3h2.6M251.7 962.1h2.6M257.6 963.9h2.6M263.6 965.6h2.6M269.7 967.4h2.6M275.7 969.2h2.6M281.8 971.1h2.6M288 972.9h2.6M300.4 976.6h2.6M306.7 978.5h2.6M313.1 980.4h2.6M319.5 982.3h2.6M325.9 984.2h2.6M332.4 986.1h2.6M338.9 988.1h2.6"/>
<path transform="scale(1 0.3400)" stroke="#71b418" stroke-width="5.2" stroke-linecap="round" d="M300 2882.4h0M338.7 2916.6h0M345.3 2922.4h0M352 2928.3h0M358.7 2934.2h0M365.5 2940.2h0M372.3 2946.2h0M379.2 2952.3h0M386.2 2958.4h0"/>
<path stroke="#80c81c" stroke-width="5.2" d="M299.8 961.4l.2 18.6M338.5 953.6l.2 38.1M345.2 974.6l.1 19.1M351.7 938l.3 57.6M358.4 920.4l.3 77.3M365.2 902.5l.3 97.2M372.3 982.4l0 19.3M379 866.2l.2 137.6M386.1 966.8l0 39"/>
<path stroke="#569010" stroke-width="2.4" d="M301.2 961.4l.2 18.6M339.9 953.6l.2 38.1M346.7 974.6l.1 19.1M353.2 938l.3 57.6M359.9 920.4l.3 77.3M366.7 902.5l.3 97.2M373.7 982.4l0 19.3M380.5 866.2l.2 137.6M387.6 966.8l0 39"/>
<path stroke="#69a915" stroke-width=".7" d="M297.5 961.4l.2 18.6M336.2 953.6l.2 38.1M343 974.6l.1 19.1M349.5 938l.3 57.6M356.2 920.4l.3 77.3M363 902.5l.3 97.2M370 982.4l0 19.3M376.8 866.2l.2 137.6M383.9 966.8l0 39"/>
<path stroke="#98d83c" stroke-width="1.8" stroke-linecap="round" d="M298.2 961.4h3.3M336.8 953.6h3.3M343.6 974.6h3.3M350.1 938h3.3M356.8 920.4h3.3M363.6 902.5h3.3M370.7 982.4h3.3M377.4 866.2h3.3M384.5 966.8h3.3"/>
<path stroke="#93d03e" stroke-width="1.3" d="M165 939.9h2.6M170.4 941.5h2.6M175.8 943.1h2.6M181.3 944.8h2.6M186.7 946.4h2.6M192.3 948.1h2.6M197.8 949.8h2.6M203.4 951.4h2.6M209.1 953.1h2.6M214.7 954.8h2.6M220.5 956.5h2.6M226.2 958.3h2.6M232 960h2.6M237.9 961.8h2.6M243.7 963.5h2.6M249.7 965.3h2.6M255.6 967.1h2.6M261.7 968.9h2.6M267.7 970.7h2.6M273.8 972.6h2.6M280 974.4h2.6M286.2 976.3h2.6M292.4 978.1h2.6M305 981.9h2.6M311.4 983.8h2.6M317.8 985.8h2.6M324.3 987.7h2.6M330.8 989.7h2.6"/>
<path transform="scale(1 0.3400)" stroke="#a91818" stroke-width="5.3" stroke-linecap="round" d="M279.4 2875.8h0M285.6 2881.4h0M330.5 2921.3h0M343.8 2933.1h0M350.5 2939.1h0M357.3 2945.1h0M364.1 2951.2h0M371 2957.3h0M377.9 2963.5h0"/>
<path stroke="#c01c1c" stroke-width="5.3" d="M279.1 959.3l.2 18.5M285.4 961.1l.2 18.6M330.4 974.2l.1 19M343.6 958.8l.2 38.4M350.2 921.8l.4 77.5M356.5 784.2l.8 217.2M363.6 825.8l.5 177.6M370.8 927.1l.2 78.4M377.8 968.4l.1 39.2"/>
<path stroke="#7e1212" stroke-width="2.4" d="M280.6 959.3l.2 18.5M286.8 961.1l.2 18.6M331.8 974.2l.1 19M345 958.8l.2 38.4M351.6 921.8l.4 77.5M357.9 784.2l.8 217.2M365 825.8l.5 177.6M372.2 927.1l.2 78.4M379.3 968.4l.1 39.2"/>
<path stroke="#9c1616" stroke-width=".7" d="M276.9 959.3l.2 18.5M283.1 961.1l.2 18.6M328.1 974.2l.1 19M341.3 958.8l.2 38.4M347.9 921.8l.4 77.5M354.2 784.2l.8 217.2M361.3 825.8l.5 177.6M368.5 927.1l.2 78.4M375.6 968.4l.1 39.2"/>
<path stroke="#d03636" stroke-width="1.8" stroke-linecap="round" d="M277.5 959.3h3.3M283.8 961.1h3.3M328.8 974.2h3.3M342 958.8h3.3M348.5 921.8h3.3M354.8 784.2h3.3M361.9 825.8h3.3M369.2 927.1h3.3M376.2 968.4h3.3"/>
<path stroke="#c93e3e" stroke-width="1.3" d="M157.2 941.2h2.6M162.5 942.9h2.6M167.9 944.5h2.6M173.4 946.1h2.6M178.8 947.8h2.6M184.4 949.5h2.6M189.9 951.1h2.6M195.5 952.8h2.6M201.1 954.5h2.6M206.8 956.2h2.6M212.5 958h2.6M218.2 959.7h2.6M224 961.4h2.6M229.9 963.2h2.6M235.7 965h2.6M241.6 966.8h2.6M247.6 968.6h2.6M253.6 970.4h2.6M259.7 972.2h2.6M265.7 974.1h2.6M271.9 975.9h2.6M290.6 981.6h2.6M296.9 983.5h2.6M303.3 985.4h2.6M309.7 987.3h2.6M316.1 989.3h2.6M322.6 991.3h2.6M335.8 995.3h2.6"/>
<path transform="scale(1 0.3400)" stroke="#1e4cc0" stroke-width="5.3" stroke-linecap="round" d="M290 2897.2h0M302.8 2908.7h0M328.9 2932.1h0M335.6 2938h0M342.3 2944h0M349 2950.1h0M355.8 2956.2h0M362.7 2962.4h0M369.6 2968.6h0"/>
<path stroke="#2358d4" stroke-width="5.3" d="M289.8 966.3l.2 18.8M302.6 970l.2 18.9M328.8 977.7l.1 19.2M335 901.9l.6 97M342 962.3l.2 38.7M348.6 905.3l.5 97.7M355.3 867.2l.5 137.9M362.4 928.6l.3 78.6M369.6 989.7l0 19.6"/>
<path stroke="#16379a" stroke-width="2.4" d="M291.3 966.3l.2 18.8M304.1 970l.2 18.9M330.2 977.7l.1 19.2M336.4 901.9l.6 97M343.5 962.3l.2 38.7M350 905.3l.5 97.7M356.7 867.2l.5 137.9M363.9 928.6l.3 78.6M371 989.7l0 19.6"/>
<path stroke="#1c46b4" stroke-width=".7" d="M287.6 966.3l.2 18.8M300.3 970l.2 18.9M326.5 977.7l.1 19.2M332.7 901.9l.6 97M339.8 962.3l.2 38.7M346.3 905.3l.5 97.7M353 867.2l.5 137.9M360.2 928.6l.3 78.6M367.3 989.7l0 19.6"/>
<path stroke="#3a70e0" stroke-width="1.8" stroke-linecap="round" d="M288.2 966.3h3.3M301 970h3.3M327.1 977.7h3.3M333.3 901.9h3.3M340.4 962.3h3.3M346.9 905.3h3.3M353.6 867.2h3.3M360.8 928.6h3.3M367.9 989.7h3.3"/>
<path stroke="#4471da" stroke-width="1.3" d="M149.3 942.6h2.6M154.6 944.2h2.6M160 945.8h2.6M165.4 947.5h2.6M170.9 949.1h2.6M176.4 950.8h2.6M181.9 952.5h2.6M187.5 954.2h2.6M193.1 955.9h2.6M198.8 957.6h2.6M204.5 959.4h2.6M210.2 961.1h2.6M216 962.9h2.6M221.8 964.7h2.6M227.7 966.5h2.6M233.6 968.3h2.6M239.5 970.1h2.6M245.5 971.9h2.6M251.5 973.7h2.6M257.6 975.6h2.6M263.8 977.4h2.6M269.9 979.3h2.6M276.1 981.2h2.6M282.4 983.1h2.6M295.1 987h2.6M307.9 990.9h2.6M314.4 992.9h2.6M321 994.9h2.6"/>
<path transform="scale(1 0.3400)" stroke="#d25f0e" stroke-width="5.3" stroke-linecap="round" d="M142.7 2776.2h0M307.5 2925.1h0M333.9 2949h0M340.7 2955.1h0M347.5 2961.2h0M354.3 2967.4h0M361.3 2973.7h0"/>
<path stroke="#e86a12" stroke-width="5.3" d="M142.2 926.6l.5 17.3M307.1 956.3l.4 38.3M333.5 924.7l.5 78M340.1 906.7l.6 98M347.3 967.7l.2 39.1M354.2 969.7l.2 39.3M361.1 951.8l.2 59.2"/>
<path stroke="#a84a08" stroke-width="2.4" d="M143.7 926.6l.5 17.3M308.6 956.3l.4 38.3M334.9 924.7l.5 78M341.6 906.7l.6 98M348.8 967.7l.2 39.1M355.6 969.7l.2 39.3M362.5 951.8l.2 59.2"/>
<path stroke="#c5580c" stroke-width=".7" d="M139.9 926.6l.5 17.3M304.9 956.3l.4 38.3M331.2 924.7l.5 78M337.9 906.7l.6 98M345 967.7l.2 39.1M351.9 969.7l.2 39.3M358.8 951.8l.2 59.2"/>
<path stroke="#f08434" stroke-width="1.8" stroke-linecap="round" d="M140.6 926.6h3.3M305.5 956.3h3.3M331.8 924.7h3.3M338.5 906.7h3.3M345.7 967.7h3.3M352.5 969.7h3.3M359.4 951.8h3.3"/>
<path stroke="#eb8036" stroke-width="1.3" d="M146.7 945.5h2.6M152.1 947.2h2.6M157.5 948.8h2.6M162.9 950.5h2.6M168.4 952.2h2.6M173.9 953.9h2.6M179.5 955.6h2.6M185.1 957.3h2.6M190.7 959.1h2.6M196.4 960.8h2.6M202.1 962.6h2.6M207.9 964.3h2.6M213.7 966.1h2.6M219.6 967.9h2.6M225.5 969.7h2.6M231.4 971.6h2.6M237.4 973.4h2.6M243.4 975.2h2.6M249.5 977.1h2.6M255.6 979h2.6M261.7 980.9h2.6M267.9 982.8h2.6M274.2 984.7h2.6M280.5 986.6h2.6M286.8 988.6h2.6M293.2 990.6h2.6M299.7 992.5h2.6M312.7 996.5h2.6M319.3 998.6h2.6M325.9 1000.6h2.6"/>
<path transform="scale(1 0.3400)" stroke="#2c95ac" stroke-width="5.3" stroke-linecap="round" d="M134.7 2780.1h0M140 2785h0M292.7 2924h0M299.2 2929.9h0M318.9 2947.9h0M325.6 2954h0M332.3 2960.1h0M339.1 2966.3h0M346 2972.5h0M352.8 2978.8h0"/>
<path stroke="#34a8c0" stroke-width="5.3" d="M134.2 927.9l.5 17.4M139.5 929.4l.5 17.4M292.5 975.1l.2 19.1M299 977l.2 19.1M318.6 963.5l.3 38.8M324.7 886.5l.9 117.8M331.8 927.9l.5 78.5M338.5 909.8l.6 98.7M345.7 951.5l.3 59.2M352.5 933.4l.3 79.4"/>
<path stroke="#1e7388" stroke-width="2.4" d="M135.7 927.9l.5 17.4M141 929.4l.5 17.4M293.9 975.1l.2 19.1M300.4 977l.2 19.1M320.1 963.5l.3 38.8M326.2 886.5l.9 117.8M333.3 927.9l.5 78.5M340 909.8l.6 98.7M347.1 951.5l.3 59.2M354 933.4l.3 79.4"/>
<path stroke="#288ba1" stroke-width=".7" d="M131.9 927.9l.5 17.4M137.3 929.4l.5 17.4M290.2 975.1l.2 19.1M296.7 977l.2 19.1M316.3 963.5l.3 38.8M322.4 886.5l.9 117.8M329.5 927.9l.5 78.5M336.3 909.8l.6 98.7M343.4 951.5l.3 59.2M350.2 933.4l.3 79.4"/>
<path stroke="#50bcd0" stroke-width="1.8" stroke-linecap="round" d="M132.6 927.9h3.3M137.9 929.4h3.3M290.8 975.1h3.3M297.3 977h3.3M316.9 963.5h3.3M323.1 886.5h3.3M330.2 927.9h3.3M336.9 909.8h3.3M344 951.5h3.3M350.9 933.4h3.3"/>
<path stroke="#52b5c9" stroke-width="1.3" d="M144.1 948.5h2.7M149.4 950.2h2.7M154.9 951.9h2.7M160.4 953.6h2.7M165.9 955.3h2.7M171.4 957h2.7M177 958.8h2.7M182.6 960.5h2.7M188.3 962.3h2.7M194 964h2.7M199.8 965.8h2.7M205.6 967.6h2.7M211.4 969.4h2.7M217.3 971.2h2.7M223.2 973.1h2.7M229.2 974.9h2.7M235.2 976.8h2.7M241.2 978.6h2.7M247.3 980.5h2.7M253.5 982.4h2.7M259.7 984.4h2.7M265.9 986.3h2.7M272.2 988.2h2.7M278.5 990.2h2.7M284.9 992.2h2.7M304.4 998.2h2.7M310.9 1000.2h2.7"/>
<path transform="scale(1 0.3400)" stroke="#4522af" stroke-width="5.3" stroke-linecap="round" d="M126.7 2784.1h0M132 2788.9h0M297.3 2940.8h0M310.5 2952.9h0M317.2 2959h0M323.9 2965.2h0M330.7 2971.4h0M337.5 2977.7h0M344.4 2984h0"/>
<path stroke="#5028c8" stroke-width="5.3" d="M126.2 929.2l.5 17.4M131 913.2l1 35M297.1 980.6l.2 19.3M310.3 984.6l.2 19.4M317 986.6l.2 19.5M323.6 969l.3 39.2M329.9 891.2l.8 119.1M336.8 892.9l.7 119.5M344.3 994.8l.1 19.8"/>
<path stroke="#301680" stroke-width="2.4" d="M127.6 929.2l.5 17.4M132.4 913.2l1 35M298.6 980.6l.2 19.3M311.8 984.6l.2 19.4M318.5 986.6l.2 19.5M325.1 969l.3 39.2M331.3 891.2l.8 119.1M338.3 892.9l.7 119.5M345.7 994.8l.1 19.8"/>
<path stroke="#3e1ea0" stroke-width=".7" d="M123.9 929.2l.5 17.4M128.7 913.2l1 35M294.8 980.6l.2 19.3M308 984.6l.2 19.4M314.7 986.6l.2 19.5M321.3 969l.3 39.2M327.6 891.2l.8 119.1M334.5 892.9l.7 119.5M342 994.8l.1 19.8"/>
<path stroke="#6440d8" stroke-width="1.8" stroke-linecap="round" d="M124.5 929.2h3.3M129.3 913.2h3.3M295.5 980.6h3.3M308.7 984.6h3.3M315.4 986.6h3.3M321.9 969h3.3M328.2 891.2h3.3M335.1 892.9h3.3M342.6 994.8h3.3"/>
<path stroke="#6a48d0" stroke-width="1.3" d="M136 949.9h2.7M141.4 951.6h2.7M146.8 953.3h2.7M152.3 955h2.7M157.8 956.7h2.7M163.3 958.4h2.7M168.9 960.2h2.7M174.5 961.9h2.7M180.2 963.7h2.7M185.9 965.5h2.7M191.6 967.3h2.7M197.4 969.1h2.7M203.2 970.9h2.7M209.1 972.7h2.7M215 974.6h2.7M220.9 976.4h2.7M226.9 978.3h2.7M233 980.2h2.7M239.1 982.1h2.7M245.2 984h2.7M251.4 985.9h2.7M257.6 987.9h2.7M263.9 989.8h2.7M270.2 991.8h2.7M276.6 993.8h2.7M283 995.8h2.7M289.5 997.8h2.7M302.5 1001.9h2.7"/>
<path transform="scale(1 0.3400)" stroke="#71b418" stroke-width="5.3" stroke-linecap="round" d="M118.6 2788.1h0M123.9 2793h0M322.2 2976.5h0M329 2982.9h0M335.9 2989.2h0"/>
<path stroke="#80c81c" stroke-width="5.3" d="M117.6 912.9l1 35M123.4 932.1l.5 17.5M322 992.3l.2 19.7M328.7 974.6l.3 39.6M335.6 976.6l.2 39.8"/>
<path stroke="#569010" stroke-width="2.4" d="M119 912.9l1 35M124.9 932.1l.5 17.5M323.5 992.3l.2 19.7M330.2 974.6l.3 39.6M337.1 976.6l.2 39.8"/>
<path stroke="#69a915" stroke-width=".7" d="M115.3 912.9l1 35M121.1 932.1l.5 17.5M319.7 992.3l.2 19.7M326.4 974.6l.3 39.6M333.3 976.6l.2 39.8"/>
<path stroke="#98d83c" stroke-width="1.8" stroke-linecap="round" d="M115.9 912.9h3.3M121.7 932.1h3.3M320.4 992.3h3.3M327.1 974.6h3.3M334 976.6h3.3"/>
<path stroke="#93d03e" stroke-width="1.3" d="M127.9 951.3h2.7M133.3 953h2.7M138.7 954.7h2.7M144.1 956.4h2.7M149.6 958.1h2.7M155.1 959.9h2.7M160.7 961.6h2.7M166.3 963.4h2.7M172 965.2h2.7M177.6 966.9h2.7M183.4 968.7h2.7M189.1 970.6h2.7M195 972.4h2.7M200.8 974.2h2.7M206.7 976.1h2.7M212.6 978h2.7M218.6 979.8h2.7M224.7 981.7h2.7M230.7 983.7h2.7M236.9 985.6h2.7M243 987.5h2.7M249.2 989.5h2.7M255.5 991.5h2.7M261.8 993.4h2.7M268.2 995.4h2.7M274.6 997.5h2.7M281 999.5h2.7M287.5 1001.5h2.7M294.1 1003.6h2.7M300.7 1005.7h2.7M307.4 1007.8h2.7M314.1 1009.9h2.7"/>
<path transform="scale(1 0.3400)" stroke="#a91818" stroke-width="5.3" stroke-linecap="round" d="M110.5 2792.1h0M313.6 2981.7h0M320.4 2988.1h0"/>
<path stroke="#c01c1c" stroke-width="5.3" d="M109.9 931.8l.5 17.5M313.5 994l.2 19.8M320.3 996.1l.2 19.8"/>
<path stroke="#7e1212" stroke-width="2.4" d="M111.4 931.8l.5 17.5M314.9 994l.2 19.8M321.8 996.1l.2 19.8"/>
<path stroke="#9c1616" stroke-width=".7" d="M107.6 931.8l.5 17.5M311.2 994l.2 19.8M318 996.1l.2 19.8"/>
<path stroke="#d03636" stroke-width="1.8" stroke-linecap="round" d="M108.3 931.8h3.3M311.8 994h3.3M318.6 996.1h3.3"/>
<path stroke="#c93e3e" stroke-width="1.3" d="M114.4 951h2.7M119.8 952.7h2.7M125.1 954.4h2.7M130.5 956.1h2.7M135.9 957.8h2.7M141.4 959.5h2.7M146.9 961.3h2.7M152.5 963.1h2.7M158.1 964.8h2.7M163.7 966.6h2.7M169.4 968.4h2.7M175.1 970.2h2.7M180.9 972.1h2.7M186.6 973.9h2.7M192.5 975.8h2.7M198.4 977.6h2.7M204.3 979.5h2.7M210.3 981.4h2.7M216.3 983.3h2.7M222.4 985.2h2.7M228.5 987.2h2.7M234.6 989.1h2.7M240.8 991.1h2.7M247.1 993.1h2.7M253.4 995.1h2.7M259.7 997.1h2.7M266.1 999.1h2.7M272.6 1001.2h2.7M279 1003.2h2.7M285.6 1005.3h2.7M292.2 1007.4h2.7M298.8 1009.5h2.7M305.5 1011.6h2.7M326 1018.1h2.7"/>
<path transform="scale(1 0.3400)" stroke="#1e4cc0" stroke-width="5.4" stroke-linecap="round" d="M107.6 2801.1h0"/>
<path stroke="#2358d4" stroke-width="5.4" d="M107 934.7l.5 17.6"/>
<path stroke="#16379a" stroke-width="2.4" d="M108.5 934.7l.5 17.6"/>
<path stroke="#1c46b4" stroke-width=".8" d="M104.7 934.7l.5 17.6"/>
<path stroke="#3a70e0" stroke-width="1.8" stroke-linecap="round" d="M105.4 934.7h3.3"/>
<path stroke="#4471da" stroke-width="1.3" d="M101 950.7h2.7M111.6 954.1h2.7M116.9 955.8h2.7M122.3 957.5h2.7M127.7 959.2h2.7M133.2 961h2.7M138.7 962.7h2.7M144.2 964.5h2.7M149.8 966.3h2.7M155.4 968.1h2.7M161.1 969.9h2.7M166.8 971.7h2.7M172.5 973.6h2.7M178.3 975.4h2.7M184.1 977.3h2.7M190 979.2h2.7M195.9 981.1h2.7M201.9 983h2.7M207.9 984.9h2.7M213.9 986.8h2.7M220 988.8h2.7M226.2 990.7h2.7M232.4 992.7h2.7M238.6 994.7h2.7M244.9 996.7h2.7M251.2 998.8h2.7M257.6 1000.8h2.7M264 1002.9h2.7M270.5 1004.9h2.7M277 1007h2.7M283.6 1009.1h2.7M290.3 1011.3h2.7M296.9 1013.4h2.7M303.7 1015.6h2.7M310.5 1017.7h2.7M317.3 1019.9h2.7"/>
<path d="M95.6 950.5L86.2 661.1" stroke="#c4ccd4" stroke-width="1.2" fill="none"/>
<path d="M95.6 950.5h-6.5M94.5 915.3h-6.5M93.3 879.9h-6.5M92.2 844.1h-6.5M91 808.1h-6.5M89.8 771.8h-6.5M88.6 735.2h-6.5M87.4 698.3h-6.5M86.2 661.1h-6.5" stroke="#c4ccd4" stroke-width="1.2" fill="none"/>
<g font-size="17.6" text-anchor="end" fill="#1a1a1a"><text x="76" y="956.8">0</text><text x="75.1" y="921.6">2</text><text x="74.2" y="886.2">4</text><text x="73.3" y="850.4">6</text><text x="72.4" y="814.4">8</text><text x="71.5" y="778.1">10</text><text x="70.5" y="741.5">12</text><text x="69.6" y="704.6">14</text><text x="68.6" y="667.4">16</text></g>
<text x="96" y="986.6" font-size="17.6" text-anchor="middle" fill="#1a1a1a">-90</text>
<text x="128" y="997.5" font-size="17.6" text-anchor="middle" fill="#1a1a1a">-60</text>
<text x="161" y="1008" font-size="17.6" text-anchor="middle" fill="#1a1a1a">-30</text>
<text x="196" y="1016" font-size="17.6" text-anchor="middle" fill="#1a1a1a">0</text>
<text x="231" y="1028" font-size="17.6" text-anchor="middle" fill="#1a1a1a">30</text>
<text x="270" y="1041" font-size="17.6" text-anchor="middle" fill="#1a1a1a">60</text>
<text x="308.5" y="1053" font-size="17.6" text-anchor="middle" fill="#1a1a1a">90</text>
<text x="339" y="1049" font-size="17.6" text-anchor="middle" fill="#1a1a1a">0</text>
<text x="448" y="1028.5" font-size="17.6" text-anchor="middle" fill="#1a1a1a">1/3</text>
<text x="568" y="1004.5" font-size="17.6" text-anchor="middle" fill="#1a1a1a">2/3</text>
<text x="682" y="978" font-size="17.6" text-anchor="middle" fill="#1a1a1a">1</text>
<path d="M99.4 1514L316.4 1581.4L695.6 1499.7L695.6 1501.9L316.4 1583.6L99.4 1516.2z" fill="#c9d3dc"/>
<path d="M99.4 1514L316.4 1581.4L695.6 1499.7L467.2 1450z" fill="#f4f6f8"/>
<path d="M99.4 1516.2v6M104.6 1517.8v6M109.8 1519.4v6M115 1521.1v6M120.3 1522.7v6M125.6 1524.3v6M130.9 1526v6M136.3 1527.7v6M141.7 1529.3v6M147.1 1531v6M152.6 1532.7v6M158.2 1534.5v6M163.7 1536.2v6M169.3 1537.9v6M175 1539.7v6M180.6 1541.4v6M186.4 1543.2v6M192.1 1545v6M197.9 1546.8v6M203.8 1548.6v6M209.6 1550.4v6M215.6 1552.3v6M221.5 1554.1v6M227.5 1556v6M233.6 1557.9v6M239.7 1559.8v6M245.8 1561.7v6M252 1563.6v6M258.2 1565.5v6M264.5 1567.5v6M270.8 1569.4v6M277.2 1571.4v6M283.6 1573.4v6M290.1 1575.4v6M296.6 1577.4v6M303.1 1579.4v6M309.7 1581.5v6M316.4 1583.6v6M316.4 1583.6v6M324.5 1581.8v6M332.5 1580.1v6M340.4 1578.4v6M348.4 1576.7v6M356.2 1575v6M364 1573.3v6M371.8 1571.6v6M379.5 1570v6M387.2 1568.3v6M394.8 1566.7v6M402.4 1565v6M410 1563.4v6M417.4 1561.8v6M424.9 1560.2v6M432.3 1558.6v6M439.6 1557v6M447 1555.4v6M454.2 1553.9v6M461.4 1552.3v6M468.6 1550.8v6M475.8 1549.2v6M482.9 1547.7v6M489.9 1546.2v6M496.9 1544.7v6M503.9 1543.2v6M510.8 1541.7v6M517.7 1540.2v6M524.6 1538.7v6M531.4 1537.3v6M538.2 1535.8v6M544.9 1534.4v6M551.6 1532.9v6M558.2 1531.5v6M564.9 1530.1v6M571.4 1528.7v6M578 1527.2v6M584.5 1525.8v6M591 1524.5v6M597.4 1523.1v6M603.8 1521.7v6M610.2 1520.3v6M616.5 1519v6M622.8 1517.6v6M629 1516.3v6M635.2 1514.9v6M641.4 1513.6v6M647.6 1512.3v6M653.7 1511v6M659.8 1509.6v6M665.8 1508.3v6M671.9 1507v6M677.9 1505.8v6M683.8 1504.5v6M689.7 1503.2v6M695.6 1501.9v6" stroke="#c4c8cc" stroke-width="1" fill="none"/>
<g stroke="#6d90cd" stroke-width="1"><path transform="matrix(5.541 -0.992 0 1 0 0)" d="M84.5 1514.5v20.5M85.5 1516.7v20.6M90.6 1527.6v20.9M91.6 1540.3v10.5M92.7 1537.4v15.7M93.7 1539.6v15.8"/><path transform="matrix(5.566 -1.049 0 1 0 0)" d="M94.4 1552.2v10.5M95.4 1544v21.2M100.8 1561.2v16.1M101.9 1574.4v5.4"/></g>
<g stroke="#8bb0e9" stroke-width="1"><path transform="matrix(1.988 0.435 0 1 0 0)" d="M233.6 1329.3v20.5M236.4 1329.2v20.6M250.7 1328.9v20.9M253.5 1339.4v10.5M256.4 1334.1v15.7M259.4 1334v15.8"/><path transform="matrix(2.102 0.461 0 1 0 0)" d="M248 1339.3v10.5M250.9 1328.6v21.2M265.1 1333.7v16.1M267.9 1344.5v5.4"/></g>
<g stroke="#a3c1f1" stroke-width="1"><path transform="matrix(1.988 0.435 5.541 -0.992 0 0)" d="M1913.37 -602.23h1M1916.09 -602.21h1M1929.93 -602.07h1M1945.97 -606.81h1M1942.21 -604.4h1M1945.08 -604.38h1"/><path transform="matrix(2.102 0.461 5.566 -1.049 0 0)" d="M1810.79 -590h1M1801.21 -585.3h1M1821.36 -587.54h1M1836.73 -592.28h1"/></g>
<path stroke="#9cbcec" stroke-width="1.4" d="M475.9 1453.9l4.4 -.8M481.5 1455.1l4.4 -.8M487.2 1456.4l4.4 -.8M492.9 1457.6l4.4 -.8M533.6 1466.5l4.4 -.8M539.5 1467.8l4.5 -.8M545.5 1469.1l4.5 -.8M551.5 1470.4l4.5 -.8M569.8 1474.4l4.5 -.9M576 1475.8l4.5 -.9M582.2 1477.2l4.5 -.9M588.5 1478.5l4.5 -.9M594.8 1479.9l4.5 -.9M601.1 1481.3l4.5 -.9M607.4 1482.7l4.5 -.9M613.8 1484.1l4.5 -.9M620.3 1485.5l4.5 -.9M626.8 1486.9l4.5 -.9M633.3 1488.3l4.5 -.9M639.9 1489.8l4.5 -.9M646.5 1491.2l4.5 -.9M653.1 1492.7l4.5 -.9M659.8 1494.1l4.5 -.9M666.5 1495.6l4.5 -.9M673.3 1497.1l4.5 -.9M680.1 1498.6l4.5 -1M687 1500.1l4.5 -1"/>
<g stroke="#cd8861" stroke-width="1"><path transform="matrix(5.568 -0.997 0 1 0 0)" d="M89.1 1527.6v20.9M90.1 1545.5v5.2M91.2 1537.3v15.8M92.2 1534.3v21.1"/><path transform="matrix(5.594 -1.054 0 1 0 0)" d="M92.9 1546.8v15.9M93.9 1543.9v21.2M95 1551.6v16M96 1564.6v5.3M97.1 1561.7v10.7M98.1 1569.5v5.4M99.2 1571.9v5.4M100.3 1574.4v5.4"/></g>
<g stroke="#f3a981" stroke-width="1"><path transform="matrix(1.987 0.438 0 1 0 0)" d="M247.8 1330.6v20.9M250.7 1346.4v5.2M253.6 1335.8v15.8M256.6 1330.4v21.1"/><path transform="matrix(2.102 0.463 0 1 0 0)" d="M245.3 1335.7v15.9M248.2 1330.3v21.2M250.9 1335.6v16M253.7 1346.3v5.3M256.6 1340.9v10.7M259.4 1346.2v5.4M262.3 1346.2v5.4M265.2 1346.2v5.4"/></g>
<g stroke="#f8bb99" stroke-width="1"><path transform="matrix(1.987 0.438 5.568 -0.997 0 0)" d="M1925.15 -598.09h1M1947.79 -605.17h1M1937.43 -600.42h1M1933.65 -598.01h1"/><path transform="matrix(2.102 0.463 5.594 -1.054 0 0)" d="M1800.02 -583.75h1M1796.59 -581.39h1M1805.53 -583.7h1M1820.7 -588.37h1M1817.32 -586.01h1M1826.38 -588.35h1M1829.24 -588.34h1M1832.12 -588.34h1"/></g>
<path stroke="#f5b694" stroke-width="1.4" d="M459 1452.5l4.4 -.8M464.5 1453.7l4.4 -.8M470.1 1454.9l4.4 -.8M475.7 1456.2l4.5 -.8M481.3 1457.4l4.5 -.8M487 1458.6l4.5 -.8M563.9 1475.6l4.5 -.9M570.1 1476.9l4.5 -.9M576.3 1478.3l4.5 -.9M582.6 1479.7l4.5 -.9M588.9 1481.1l4.5 -.9M595.2 1482.5l4.5 -.9M601.5 1483.9l4.5 -.9M607.9 1485.3l4.5 -.9M614.4 1486.7l4.5 -.9M620.9 1488.1l4.5 -.9M627.4 1489.5l4.5 -.9M633.9 1491l4.5 -.9M640.6 1492.4l4.5 -.9M647.2 1493.9l4.5 -.9M653.9 1495.4l4.5 -.9M660.6 1496.9l4.5 -.9M667.4 1498.3l4.5 -1M674.2 1499.9l4.5 -1M681.1 1501.4l4.5 -1"/>
<g stroke="#6bb3c3" stroke-width="1"><path transform="matrix(5.596 -1.002 0 1 0 0)" d="M82.5 1532.1v5.2M84.6 1526.1v15.6M85.6 1533.5v10.4M86.6 1525.3v20.9M87.6 1532.8v15.7M88.6 1524.5v26.3M89.7 1537.3v15.8M90.7 1544.9v10.6"/><path transform="matrix(5.622 -1.060 0 1 0 0)" d="M91.3 1546.8v15.9M92.4 1549.1v15.9M93.4 1546.2v21.3M94.5 1553.9v16M95.6 1556.3v16.1M96.6 1564.1v10.7M97.7 1571.9v5.4M98.8 1558.2v21.6M99.8 1576.9v5.4"/></g>
<g stroke="#89d6e3" stroke-width="1"><path transform="matrix(1.985 0.440 0 1 0 0)" d="M230.7 1348.2v5.2M236.4 1337.8v15.6M239.2 1342.9v10.4M242.1 1332.4v20.9M245 1337.6v15.7M247.9 1327v26.3M250.8 1337.5v15.8M253.7 1342.8v10.6"/><path transform="matrix(2.101 0.465 0 1 0 0)" d="M242.6 1337.4v15.9M245.4 1337.4v15.9M248.3 1332v21.3M251.1 1337.3v16M253.9 1337.2v16.1M256.8 1342.6v10.7M259.6 1348v5.4M262.6 1331.7v21.6M265.4 1347.9v5.4"/></g>
<g stroke="#a0e0eb" stroke-width="1"><path transform="matrix(1.985 0.440 5.596 -1.002 0 0)" d="M1926.04 -601.2h1M1918.57 -596.54h1M1927.91 -598.85h1M1917.57 -594.16h1M1926.97 -596.48h1M1916.57 -591.74h1M1932.66 -596.44h1M1942.17 -598.79h1"/><path transform="matrix(2.101 0.465 5.622 -1.060 0 0)" d="M1795.41 -579.84h1M1798.15 -579.82h1M1794.72 -577.47h1M1803.69 -579.78h1M1806.49 -579.75h1M1815.53 -582.08h1M1824.62 -584.41h1M1808.7 -577.33h1M1830.4 -584.4h1"/></g>
<path stroke="#9bdce7" stroke-width="1.4" d="M453.1 1453.5l4.5 -.8M464.2 1456l4.5 -.8M564.2 1478.1l4.5 -.9M570.4 1479.5l4.5 -.9M576.6 1480.8l4.5 -.9M582.9 1482.2l4.5 -.9M589.2 1483.6l4.5 -.9M595.6 1485l4.5 -.9M602 1486.5l4.5 -.9M608.4 1487.9l4.5 -.9M614.9 1489.3l4.5 -.9M621.4 1490.8l4.5 -.9M628 1492.2l4.5 -.9M634.6 1493.7l4.5 -.9M641.3 1495.1l4.5 -.9M647.9 1496.6l4.5 -.9M654.7 1498.1l4.5 -1M661.4 1499.6l4.5 -1M668.3 1501.1l4.5 -1M675.1 1502.6l4.5 -1"/>
<g stroke="#7e70c0" stroke-width="1"><path transform="matrix(5.623 -1.006 0 1 0 0)" d="M80.1 1524.6v10.3M81.1 1521.7v15.5M82.1 1534.2v5.2M83.1 1531.3v10.4M84.1 1523.1v20.9M85.1 1525.3v21M86.1 1532.8v15.8M87.1 1529.7v21.1M88.2 1547.8v5.3M89.2 1534.3v21.2"/><path transform="matrix(5.651 -1.065 0 1 0 0)" d="M89.8 1536.1v26.6M90.9 1554.4v10.7M91.9 1546.1v21.4M93 1548.5v21.5M94 1545.5v26.9M95.1 1553.3v21.6M96.1 1566.5v10.8M97.2 1569v10.8M98.3 1576.9v5.4"/><path transform="matrix(5.671 -1.125 0 1 0 0)" d="M99.1 1585v5.4M100.1 1587.6v5.5"/></g>
<g stroke="#a193e3" stroke-width="1"><path transform="matrix(1.984 0.442 0 1 0 0)" d="M225.1 1344.8v10.3M227.9 1339.6v15.5M230.7 1350v5.2M233.5 1344.7v10.4M236.4 1334.2v20.9M239.3 1334.2v21M242.1 1339.4v15.8M245.1 1334v21.1M247.9 1349.9v5.3M250.9 1333.9v21.2"/><path transform="matrix(2.100 0.468 0 1 0 0)" d="M240 1328.5v26.6M242.7 1344.5v10.7M245.5 1333.7v21.4M248.4 1333.7v21.5M251.3 1328.2v26.9M254.1 1333.5v21.6M256.9 1344.3v10.8M259.8 1344.3v10.8M262.7 1349.7v5.4"/><path transform="matrix(2.218 0.494 0 1 0 0)" d="M251.4 1349.7v5.4M254.2 1349.7v5.5"/></g>
<g stroke="#b5a8eb" stroke-width="1"><path transform="matrix(1.984 0.442 5.623 -1.006 0 0)" d="M1912.02 -594.93h1M1908.27 -592.62h1M1924.06 -597.21h1M1920.33 -594.89h1M1910.02 -590.23h1M1912.8 -590.21h1M1922.2 -592.52h1M1918.42 -590.15h1M1941.13 -597.17h1M1924.1 -590.1h1"/><path transform="matrix(2.100 0.468 5.651 -1.065 0 0)" d="M1778.47 -571.34h1M1799.71 -578.22h1M1790.11 -573.59h1M1792.87 -573.56h1M1789.41 -571.21h1M1798.44 -573.51h1M1813.76 -578.15h1M1816.63 -578.14h1M1825.79 -580.48h1"/><path transform="matrix(2.218 0.494 5.671 -1.125 0 0)" d="M1695.78 -564.72h1M1698.56 -564.72h1"/></g>
<path stroke="#afa3e7" stroke-width="1.4" d="M570.7 1482l4.5 -.9M577 1483.4l4.5 -.9M583.3 1484.8l4.5 -.9M589.6 1486.2l4.5 -.9M596 1487.7l4.5 -.9M602.5 1489.1l4.5 -.9M608.9 1490.5l4.5 -.9M615.5 1492l4.5 -.9M622 1493.4l4.5 -.9M628.6 1494.9l4.5 -.9M635.3 1496.4l4.5 -.9M642 1497.9l4.5 -1M648.7 1499.4l4.5 -1M655.5 1500.9l4.5 -1M662.3 1502.4l4.5 -1M669.1 1503.9l4.5 -1"/>
<g stroke="#88b653" stroke-width="1"><path transform="matrix(5.651 -1.011 0 1 0 0)" d="M78.7 1514.2v20.7M79.7 1516.4v20.8M80.6 1518.6v20.8M81.6 1520.8v20.9M82.6 1528.2v15.7M83.6 1525.2v21M84.7 1522.2v26.4M85.7 1524.4v26.4M86.7 1537.3v15.9M87.7 1534.2v21.3"/><path transform="matrix(5.680 -1.070 0 1 0 0)" d="M88.3 1541.3v21.3M89.4 1543.7v21.4M90.4 1540.7v26.8M91.5 1543.1v26.9M92.5 1545.4v27M93.6 1558.7v16.2M94.6 1555.7v21.7M95.7 1569v10.9M96.8 1560.6v21.8"/><path transform="matrix(5.701 -1.131 0 1 0 0)" d="M97.5 1579.6v10.9M98.6 1587.6v5.5M99.7 1590.2v5.5"/></g>
<g stroke="#ade06e" stroke-width="1"><path transform="matrix(1.983 0.444 0 1 0 0)" d="M222.3 1336.2v20.7M225.1 1336.2v20.8M227.9 1336.1v20.8M230.7 1336.1v20.9M233.5 1341.2v15.7M236.4 1335.9v21M239.3 1330.6v26.4M242.2 1330.5v26.4M245.1 1341.1v15.9M248 1335.7v21.3"/><path transform="matrix(2.099 0.470 0 1 0 0)" d="M237.2 1335.6v21.3M240 1335.5v21.4M242.8 1330.1v26.8M245.7 1330v26.9M248.5 1329.9v27M251.3 1340.7v16.2M254.3 1335.2v21.7M257.1 1346.1v10.9M260.1 1335.1v21.8"/><path transform="matrix(2.218 0.497 0 1 0 0)" d="M248.8 1346v10.9M251.6 1351.5v5.5M254.4 1351.5v5.5"/></g>
<g stroke="#bee989" stroke-width="1"><path transform="matrix(1.983 0.444 5.651 -1.011 0 0)" d="M1894.27 -586.4h1M1896.99 -586.38h1M1899.72 -586.35h1M1902.47 -586.32h1M1911.8 -588.6h1M1908.02 -586.27h1M1904.22 -583.92h1M1907.02 -583.88h1M1923.11 -588.52h1M1919.32 -586.16h1"/><path transform="matrix(2.099 0.470 5.680 -1.070 0 0)" d="M1780.02 -569.78h1M1782.75 -569.75h1M1779.3 -567.42h1M1782.04 -567.38h1M1784.8 -567.35h1M1800.07 -571.96h1M1796.64 -569.61h1M1812.01 -574.25h1M1802.31 -569.55h1"/><path transform="matrix(2.218 0.497 5.701 -1.131 0 0)" d="M1685.5 -558.6h1M1694.09 -560.87h1M1696.89 -560.87h1"/></g>
<path stroke="#b9e584" stroke-width="1.4" d="M571 1484.6l4.6 -.9M577.3 1486l4.6 -.9M583.6 1487.4l4.6 -.9M590 1488.9l4.6 -.9M596.5 1490.3l4.6 -.9M602.9 1491.7l4.6 -.9M609.5 1493.2l4.6 -.9M616 1494.7l4.6 -.9M622.6 1496.1l4.6 -.9M629.3 1497.6l4.6 -1M635.9 1499.1l4.6 -1M642.7 1500.6l4.6 -1M649.4 1502.2l4.6 -1M656.3 1503.7l4.6 -1M663.1 1505.2l4.6 -1"/>
<g stroke="#b3536d" stroke-width="1"><path transform="matrix(5.679 -1.016 0 1 0 0)" d="M77.2 1519.4v15.6M78.2 1516.3v20.8M79.2 1508.1v31.4M80.2 1520.7v21M81.2 1522.9v21M82.2 1525.2v21.1M83.2 1532.7v15.8M84.2 1519.1v31.8M85.2 1510.6v42.6M86.3 1518.2v37.4"/><path transform="matrix(5.708 -1.076 0 1 0 0)" d="M86.8 1530.5v32.1M87.9 1532.9v32.2M88.9 1546v21.5M89.9 1543v27M91 1545.4v27M92.1 1542.4v32.6M93.1 1555.6v21.7M94.2 1552.6v27.3M95.2 1560.6v21.9"/><path transform="matrix(5.730 -1.137 0 1 0 0)" d="M96 1574v16.4M97 1582.1v11M98.1 1590.2v5.5"/></g>
<g stroke="#d96688" stroke-width="1"><path transform="matrix(1.982 0.446 0 1 0 0)" d="M219.4 1343.2v15.6M222.2 1338v20.8M225 1327.4v31.4M227.8 1337.8v21M230.7 1337.8v21M233.6 1337.7v21.1M236.4 1342.9v15.8M239.4 1326.9v31.8M242.3 1316.1v42.6M245.2 1321.4v37.4"/><path transform="matrix(2.098 0.472 0 1 0 0)" d="M234.5 1326.7v32.1M237.3 1326.6v32.2M240.1 1337.3v21.5M242.9 1331.8v27M245.8 1331.7v27M248.7 1326.2v32.6M251.5 1337v21.7M254.4 1331.5v27.3M257.3 1336.9v21.9"/><path transform="matrix(2.217 0.499 0 1 0 0)" d="M246.3 1342.3v16.4M249 1347.8v11M251.8 1353.3v5.5"/></g>
<g stroke="#e37e9b" stroke-width="1"><path transform="matrix(1.982 0.446 5.679 -1.016 0 0)" d="M1895.99 -584.74h1M1892.21 -582.45h1M1881.87 -577.85h1M1897.7 -582.4h1M1900.47 -582.37h1M1903.25 -582.34h1M1912.65 -584.62h1M1895.61 -577.65h1M1885.09 -572.94h1M1894.55 -575.23h1"/><path transform="matrix(2.098 0.472 5.708 -1.076 0 0)" d="M1763.07 -561.37h1M1765.77 -561.33h1M1780.88 -565.86h1M1777.42 -563.54h1M1780.18 -563.51h1M1776.7 -561.16h1M1792.02 -565.75h1M1788.56 -563.4h1M1797.69 -565.7h1"/><path transform="matrix(2.217 0.499 5.730 -1.137 0 0)" d="M1675.21 -552.52h1M1683.79 -554.77h1M1692.42 -557.04h1"/></g>
<path stroke="#df7d9a" stroke-width="1.4" d="M564.9 1485.8l4.6 -.9M571.3 1487.2l4.6 -.9M577.6 1488.6l4.6 -.9M584 1490.1l4.6 -.9M590.4 1491.5l4.6 -.9M596.9 1493l4.6 -.9M603.4 1494.4l4.6 -.9M610 1495.9l4.6 -.9M616.6 1497.4l4.6 -.9M623.2 1498.9l4.6 -1M629.9 1500.4l4.6 -1M636.6 1501.9l4.6 -1M643.4 1503.4l4.6 -1M650.2 1505l4.6 -1M657.1 1506.5l4.6 -1"/>
<g stroke="#6d90cd" stroke-width="1"><path transform="matrix(5.707 -1.021 0 1 0 0)" d="M75.8 1514.1v20.8M76.8 1516.3v20.9M77.8 1518.5v20.9M78.7 1510.1v31.5M79.7 1512.3v31.6M80.7 1509.2v37M81.7 1506.1v42.5M82.7 1524.3v26.6M83.7 1531.9v21.3M84.8 1528.8v26.7"/><path transform="matrix(5.738 -1.081 0 1 0 0)" d="M85.4 1530.4v32.2M86.4 1532.8v32.3M87.4 1535.1v32.4M88.4 1548.3v21.6M89.5 1545.3v27.1M90.5 1547.7v27.2M91.6 1555.6v21.8M92.6 1552.6v27.3M93.7 1549.6v32.9"/><path transform="matrix(5.761 -1.143 0 1 0 0)" d="M94.4 1563v27.5M95.5 1576.5v16.5M96.6 1584.7v11M97.7 1581.8v16.6M98.7 1595.5v5.6"/></g>
<g stroke="#8bb0e9" stroke-width="1"><path transform="matrix(1.981 0.448 0 1 0 0)" d="M216.5 1339.8v20.8M219.3 1339.8v20.9M222.1 1339.7v20.9M225 1329.1v31.5M227.8 1329v31.6M230.7 1323.6v37M233.6 1318.1v42.5M236.5 1334.1v26.6M239.3 1339.3v21.3M242.3 1333.9v26.7"/><path transform="matrix(2.097 0.475 0 1 0 0)" d="M231.7 1328.4v32.2M234.5 1328.3v32.3M237.4 1328.2v32.4M240.1 1339v21.6M243 1333.5v27.1M245.9 1333.4v27.2M248.7 1338.8v21.8M251.7 1333.2v27.3M254.6 1327.6v32.9"/><path transform="matrix(2.216 0.502 0 1 0 0)" d="M243.7 1333.1v27.5M246.4 1344.1v16.5M249.2 1349.6v11M252.1 1344v16.6M254.8 1355.1v5.6"/></g>
<g stroke="#a3c1f1" stroke-width="1"><path transform="matrix(1.981 0.448 5.707 -1.021 0 0)" d="M1884.72 -578.56h1M1887.44 -578.54h1M1890.17 -578.51h1M1879.81 -573.92h1M1882.54 -573.88h1M1878.69 -571.55h1M1874.81 -569.19h1M1897.47 -576.07h1M1906.92 -578.35h1M1903.11 -576h1"/><path transform="matrix(2.097 0.475 5.738 -1.081 0 0)" d="M1758.46 -557.55h1M1761.15 -557.51h1M1763.86 -557.47h1M1779.02 -561.99h1M1775.57 -559.68h1M1778.34 -559.64h1M1787.4 -561.91h1M1783.95 -559.57h1M1780.46 -557.22h1"/><path transform="matrix(2.216 0.502 5.761 -1.143 0 0)" d="M1659.08 -544.21h1M1673.49 -548.71h1M1682.11 -550.95h1M1679.03 -548.66h1M1693.6 -553.21h1"/></g>
<path stroke="#9cbcec" stroke-width="1.4" d="M571.5 1489.8l4.6 -.9M577.9 1491.3l4.6 -.9M584.4 1492.7l4.6 -.9M590.8 1494.2l4.6 -.9M597.4 1495.7l4.6 -.9M603.9 1497.2l4.6 -.9M610.5 1498.7l4.6 -1M617.1 1500.2l4.6 -1M623.8 1501.7l4.6 -1M630.6 1503.2l4.6 -1M637.3 1504.7l4.6 -1M644.1 1506.3l4.6 -1M651 1507.8l4.6 -1"/>
<g stroke="#cd8861" stroke-width="1"><path transform="matrix(5.736 -1.027 0 1 0 0)" d="M74.4 1524.4v10.4M75.4 1516.2v20.9M76.3 1513.1v26.3M77.3 1515.3v26.3M78.3 1517.5v26.4M79.3 1498.5v47.8M80.3 1527.3v21.2M81.3 1497.5v53.4M82.3 1521.2v32.1M83.3 1496.5v59.1"/><path transform="matrix(5.767 -1.087 0 1 0 0)" d="M83.9 1524.9v37.6M84.9 1527.3v37.8M85.9 1535v32.4M86.9 1537.4v32.5M88 1545.2v27.2M89 1542.2v32.7M90.1 1544.6v32.8M91.1 1541.6v38.4M92.2 1544v38.5"/><path transform="matrix(5.791 -1.149 0 1 0 0)" d="M92.9 1573.9v16.5M93.9 1576.5v16.6M95 1573.5v22.2M96.1 1587.2v11.1M97.2 1589.9v11.1M98.3 1598.1v5.6"/></g>
<g stroke="#f3a981" stroke-width="1"><path transform="matrix(1.979 0.451 0 1 0 0)" d="M213.6 1352.1v10.4M216.4 1341.6v20.9M219.2 1336.3v26.3M222.1 1336.2v26.3M224.9 1336.1v26.4M227.8 1314.7v47.8M230.6 1341.3v21.2M233.6 1309v53.4M236.5 1330.4v32.1M239.5 1303.3v59.1"/><path transform="matrix(2.095 0.477 0 1 0 0)" d="M229 1324.8v37.6M231.8 1324.7v37.8M234.6 1330v32.4M237.4 1329.9v32.5M240.2 1335.3v27.2M243.1 1329.7v32.7M246 1329.6v32.8M249 1324v38.4M251.9 1323.9v38.5"/><path transform="matrix(2.215 0.504 0 1 0 0)" d="M241 1346v16.5M243.7 1345.9v16.6M246.6 1340.3v22.2M249.4 1351.4v11.1M252.2 1351.4v11.1M255 1356.9v5.6"/></g>
<g stroke="#f8bb99" stroke-width="1"><path transform="matrix(1.979 0.451 5.736 -1.027 0 0)" d="M1892.92 -579.14h1M1882.67 -574.63h1M1878.86 -572.35h1M1881.6 -572.32h1M1884.35 -572.28h1M1860.68 -563.11h1M1896.5 -574.5h1M1859.46 -560.68h1M1888.86 -569.85h1M1858.21 -558.22h1"/><path transform="matrix(2.095 0.477 5.767 -1.087 0 0)" d="M1747.67 -551.49h1M1750.34 -551.45h1M1759.25 -553.66h1M1761.97 -553.62h1M1770.95 -555.86h1M1767.47 -553.54h1M1770.25 -553.5h1M1766.74 -551.15h1M1769.53 -551.1h1"/><path transform="matrix(2.215 0.504 5.791 -1.149 0 0)" d="M1666.28 -544.95h1M1669.03 -544.93h1M1665.92 -542.65h1M1680.44 -547.15h1M1683.25 -547.13h1M1691.98 -549.39h1"/></g>
<path stroke="#f5b694" stroke-width="1.4" d="M571.8 1492.5l4.6 -.9M578.3 1494l4.6 -.9M584.7 1495.4l4.6 -.9M591.3 1496.9l4.6 -.9M597.8 1498.4l4.6 -1M604.4 1499.9l4.6 -1M611 1501.4l4.6 -1M617.7 1502.9l4.6 -1M624.4 1504.5l4.6 -1M631.2 1506l4.6 -1M638 1507.6l4.6 -1M644.9 1509.1l4.7 -1"/>
<g stroke="#6bb3c3" stroke-width="1"><path transform="matrix(5.764 -1.032 0 1 0 0)" d="M73 1508.7v26.2M73.9 1521.4v15.7M74.9 1507.8v31.6M75.9 1531.1v10.5M76.8 1512.2v31.8M77.8 1519.7v26.5M78.8 1505.9v42.7M79.8 1497.4v53.5M80.8 1515.7v37.5M81.8 1512.6v43"/><path transform="matrix(5.797 -1.092 0 1 0 0)" d="M82.4 1530.2v32.3M83.4 1532.6v32.4M84.4 1540.4v27.1M85.5 1531.9v38.1M86.5 1534.3v38.2M87.5 1536.6v38.3M88.6 1539.1v38.4M89.6 1547v33M90.7 1543.9v38.6"/><path transform="matrix(5.822 -1.155 0 1 0 0)" d="M91.4 1546.2v44.3M92.4 1565.3v27.7M93.5 1556.8v39M94.6 1570.5v27.9M95.6 1584.3v16.8M96.7 1598.1v5.6"/></g>
<g stroke="#89d6e3" stroke-width="1"><path transform="matrix(1.978 0.453 0 1 0 0)" d="M210.7 1338.3v26.2M213.5 1348.7v15.7M216.3 1332.8v31.6M219.1 1353.9v10.5M222 1332.6v31.8M224.9 1337.9v26.5M227.8 1321.7v42.7M230.7 1310.8v53.5M233.6 1326.9v37.5M236.5 1321.3v43"/><path transform="matrix(2.094 0.480 0 1 0 0)" d="M226.2 1332v32.3M229 1331.9v32.4M231.8 1337.3v27.1M234.6 1326.3v38.1M237.5 1326.2v38.2M240.4 1326v38.3M243.3 1325.9v38.4M246.2 1331.3v33M249.1 1325.7v38.6"/><path transform="matrix(2.214 0.507 0 1 0 0)" d="M238.4 1320v44.3M241.1 1336.6v27.7M244 1325.3v39M246.8 1336.4v27.9M249.6 1347.6v16.8M252.4 1358.8v5.6"/></g>
<g stroke="#a0e0eb" stroke-width="1"><path transform="matrix(1.978 0.453 5.764 -1.032 0 0)" d="M1868.67 -568.54h1M1884.4 -572.98h1M1867.55 -566.23h1M1896.46 -575.19h1M1872.99 -566.15h1M1882.34 -568.37h1M1865.25 -561.51h1M1854.68 -556.87h1M1877.42 -563.69h1M1873.53 -561.34h1"/><path transform="matrix(2.094 0.480 5.797 -1.092 0 0)" d="M1749.23 -549.95h1M1751.92 -549.91h1M1760.84 -552.12h1M1751.12 -547.57h1M1753.85 -547.52h1M1756.59 -547.47h1M1759.35 -547.42h1M1768.42 -549.66h1M1764.91 -547.33h1"/><path transform="matrix(2.214 0.507 5.822 -1.155 0 0)" d="M1632.59 -530h1M1652.86 -536.68h1M1643.82 -532.14h1M1658.33 -536.61h1M1672.9 -541.1h1M1687.52 -545.6h1"/></g>
<path stroke="#9bdce7" stroke-width="1.4" d="M565.7 1493.7l4.7 -.9M572.1 1495.2l4.7 -.9M578.6 1496.7l4.7 -.9M585.1 1498.2l4.7 -1M591.7 1499.7l4.7 -1M598.3 1501.2l4.7 -1M604.9 1502.7l4.7 -1M611.6 1504.2l4.7 -1M618.3 1505.8l4.7 -1M625.1 1507.3l4.7 -1M631.9 1508.9l4.7 -1M638.7 1510.4l4.7 -1"/>
<g stroke="#7e70c0" stroke-width="1"><path transform="matrix(5.793 -1.037 0 1 0 0)" d="M71.6 1503.3v31.5M72.5 1510.8v26.3M73.5 1513v26.4M74.4 1504.6v37.1M75.4 1522.7v21.2M76.4 1519.6v26.6M77.4 1500.5v48.1M78.4 1481.1v69.9M79.4 1515.7v37.6M80.4 1496.3v59.4"/><path transform="matrix(5.827 -1.098 0 1 0 0)" d="M81 1492.1v70.5M82 1505.2v59.8M83 1523.9v43.5M84 1515.3v54.6M85 1528.7v43.8M86 1531.1v43.9M87.1 1539v38.5M88.1 1541.4v38.6M89.2 1543.9v38.7"/><path transform="matrix(5.852 -1.161 0 1 0 0)" d="M89.8 1562.7v27.7M90.9 1565.2v27.8M92 1562.2v33.5M93 1576v22.4M94.1 1584.3v16.8M95.2 1586.9v16.9M96.2 1595.2v11.3"/></g>
<g stroke="#a193e3" stroke-width="1"><path transform="matrix(1.976 0.455 0 1 0 0)" d="M207.8 1334.8v31.5M210.6 1340v26.3M213.4 1340v26.4M216.2 1329.2v37.1M219 1345.1v21.2M221.9 1339.7v26.6M224.8 1318.2v48.1M227.8 1296.4v69.9M230.6 1328.7v37.6M233.6 1306.8v59.4"/><path transform="matrix(2.093 0.482 0 1 0 0)" d="M223.5 1295.7v70.5M226.3 1306.5v59.8M229 1322.8v43.5M231.9 1311.6v54.6M234.7 1322.5v43.8M237.6 1322.4v43.9M240.5 1327.8v38.5M243.4 1327.6v38.6M246.3 1327.5v38.7"/><path transform="matrix(2.213 0.510 0 1 0 0)" d="M235.7 1338.6v27.7M238.5 1338.5v27.8M241.3 1332.8v33.5M244.1 1343.9v22.4M246.9 1349.5v16.8M249.8 1349.4v16.9M252.6 1355v11.3"/></g>
<g stroke="#b5a8eb" stroke-width="1"><path transform="matrix(1.976 0.455 5.793 -1.037 0 0)" d="M1857.39 -562.45h1M1866.6 -564.64h1M1869.32 -564.61h1M1858.92 -560.09h1M1881.37 -566.79h1M1877.56 -564.51h1M1853.84 -555.42h1M1829.87 -546.23h1M1872.65 -559.86h1M1848.66 -550.65h1"/><path transform="matrix(2.093 0.482 5.827 -1.098 0 0)" d="M1701.22 -530.54h1M1716.26 -534.94h1M1737.58 -541.61h1M1727.77 -537.05h1M1742.98 -541.5h1M1745.7 -541.44h1M1754.73 -543.66h1M1757.51 -543.61h1M1760.3 -543.56h1"/><path transform="matrix(2.213 0.510 5.852 -1.161 0 0)" d="M1645.69 -532.99h1M1648.4 -532.95h1M1645.25 -530.68h1M1659.76 -535.13h1M1668.43 -537.34h1M1671.25 -537.32h1M1680 -539.56h1"/></g>
<path stroke="#afa3e7" stroke-width="1.4" d="M566 1496.4l4.7 -.9M572.4 1497.9l4.7 -1M578.9 1499.4l4.7 -1M585.5 1500.9l4.7 -1M592.1 1502.5l4.7 -1M598.7 1504l4.7 -1M605.4 1505.5l4.7 -1M612.1 1507.1l4.7 -1M618.9 1508.6l4.7 -1M625.7 1510.2l4.7 -1M632.5 1511.8l4.7 -1"/>
<g stroke="#88b653" stroke-width="1"><path transform="matrix(5.822 -1.042 0 1 0 0)" d="M70.1 1524.3v10.5M71.1 1516v21.1M72.1 1507.6v31.7M73 1499.1v42.5M74 1506.7v37.3M75 1498.1v48.1M75.9 1511.1v37.5M76.9 1507.9v43M77.9 1477.6v75.7M78.9 1490.7v65"/><path transform="matrix(5.857 -1.104 0 1 0 0)" d="M79.5 1513.7v48.8M80.5 1516v49M81.5 1523.8v43.6M82.5 1504.2v65.8M83.5 1523.1v49.4M84.5 1530.9v44M85.6 1533.4v44.1M86.6 1541.3v38.7M87.6 1543.8v38.8"/><path transform="matrix(5.883 -1.167 0 1 0 0)" d="M88.3 1551.4v38.9M89.4 1548.4v44.7M90.5 1539.7v56.1M91.5 1559.1v39.3M92.6 1567.3v33.8M93.6 1575.6v28.2M94.7 1595.2v11.3M95.7 1603.6v5.7"/></g>
<g stroke="#ade06e" stroke-width="1"><path transform="matrix(1.975 0.457 0 1 0 0)" d="M204.8 1357.8v10.5M207.6 1347.2v21.1M210.4 1336.5v31.7M213.3 1325.8v42.5M216.1 1331v37.3M219 1320.1v48.1M221.9 1330.8v37.5M224.8 1325.3v43M227.8 1292.5v75.7M230.7 1303.2v65"/><path transform="matrix(2.092 0.485 0 1 0 0)" d="M220.6 1319.4v48.8M223.4 1319.3v49M226.2 1324.6v43.6M229.1 1302.4v65.8M231.9 1318.8v49.4M234.8 1324.2v44M237.7 1324v44.1M240.6 1329.5v38.7M243.5 1329.4v38.8"/><path transform="matrix(2.213 0.513 0 1 0 0)" d="M233 1329.2v38.9M235.9 1323.5v44.7M238.8 1312.1v56.1M241.5 1328.9v39.3M244.3 1334.4v33.8M247.1 1340v28.2M249.9 1356.9v11.3M252.8 1362.6v5.7"/></g>
<g stroke="#bee989" stroke-width="1"><path transform="matrix(1.975 0.457 5.822 -1.042 0 0)" d="M1878.6 -567.43h1M1868.34 -563h1M1858 -558.54h1M1847.57 -554.04h1M1856.86 -556.22h1M1846.36 -551.68h1M1862.33 -556.13h1M1858.44 -553.82h1M1821.04 -540.12h1M1837.16 -544.59h1"/><path transform="matrix(2.092 0.485 5.857 -1.104 0 0)" d="M1721.45 -535.76h1M1724.08 -535.7h1M1732.97 -537.87h1M1710.63 -528.84h1M1732.1 -535.51h1M1741.08 -537.7h1M1743.82 -537.65h1M1752.89 -539.86h1M1755.68 -539.81h1"/><path transform="matrix(2.213 0.513 5.883 -1.167 0 0)" d="M1629.53 -524.85h1M1626.33 -522.58h1M1617.2 -518.06h1M1637.61 -524.71h1M1646.25 -526.9h1M1654.94 -529.1h1M1675.54 -535.8h1M1684.34 -538.04h1"/></g>
<path stroke="#b9e584" stroke-width="1.4" d="M566.2 1499.2l4.7 -1M572.7 1500.7l4.7 -1M579.3 1502.2l4.7 -1M585.9 1503.7l4.7 -1M592.5 1505.3l4.7 -1M599.2 1506.8l4.7 -1M605.9 1508.4l4.7 -1M612.7 1509.9l4.7 -1M619.5 1511.5l4.7 -1M626.3 1513.1l4.7 -1"/>
<g stroke="#b3536d" stroke-width="1"><path transform="matrix(5.852 -1.047 0 1 0 0)" d="M68.7 1497.8v36.9M69.7 1484v53M70.6 1486.2v53.2M71.6 1520.4v21.3M72.6 1511.9v32M73.5 1503.4v42.8M74.5 1489.4v59.2M75.5 1507.9v43.1M76.5 1499.2v54.1M77.4 1528.6v27"/><path transform="matrix(5.887 -1.109 0 1 0 0)" d="M78 1486.2v76.3M79 1477.4v87.6M80 1490.7v76.8M81 1504v65.9M82.1 1506.3v66.1M83.1 1514.2v60.8M84.1 1527.7v49.8M85.1 1530.1v49.9M86.1 1538.1v44.5"/><path transform="matrix(5.915 -1.174 0 1 0 0)" d="M86.8 1545.7v44.6M87.8 1553.9v39.1M88.9 1550.8v44.9M90 1559v39.4M91 1572.9v28.2M92.1 1575.6v28.3M93.1 1589.5v17M94.2 1597.9v11.4M95.3 1606.4v5.7"/></g>
<g stroke="#d96688" stroke-width="1"><path transform="matrix(1.973 0.460 0 1 0 0)" d="M201.9 1333.3v36.9M204.7 1317.2v53M207.5 1317.1v53.2M210.3 1349v21.3M213.1 1338.2v32M216 1327.4v42.8M218.9 1311v59.2M221.8 1327.1v43.1M224.8 1316.1v54.1M227.6 1343.2v27"/><path transform="matrix(2.091 0.487 0 1 0 0)" d="M217.8 1293.8v76.3M220.7 1282.5v87.6M223.5 1293.3v76.8M226.3 1304.2v65.9M229.2 1304v66.1M232 1309.4v60.8M234.9 1320.3v49.8M237.8 1320.2v49.9M240.7 1325.6v44.5"/><path transform="matrix(2.212 0.515 0 1 0 0)" d="M230.3 1325.5v44.6M233.1 1331v39.1M236 1325.2v44.9M238.8 1330.7v39.4M241.6 1342v28.2M244.4 1341.9v28.3M247.2 1353.2v17M250.1 1358.8v11.4M253 1364.5v5.7"/></g>
<g stroke="#e37e9b" stroke-width="1"><path transform="matrix(1.973 0.460 5.852 -1.047 0 0)" d="M1841.33 -552.59h1M1824.36 -545.93h1M1826.98 -545.86h1M1869.05 -559.1h1M1858.67 -554.63h1M1848.2 -550.13h1M1830.99 -543.35h1M1853.67 -550.02h1M1843.07 -545.46h1M1879.23 -556.69h1"/><path transform="matrix(2.091 0.487 5.887 -1.109 0 0)" d="M1685.76 -520.98h1M1675.79 -516.43h1M1690.88 -520.79h1M1706.02 -525.17h1M1708.65 -525.09h1M1717.6 -527.25h1M1732.91 -531.67h1M1735.65 -531.61h1M1744.74 -533.81h1"/><path transform="matrix(2.212 0.515 5.915 -1.174 0 0)" d="M1619.21 -518.97h1M1627.74 -521.13h1M1624.54 -518.86h1M1633.14 -521.03h1M1647.7 -525.43h1M1650.48 -525.4h1M1665.15 -529.83h1M1673.94 -532.05h1M1682.78 -534.28h1"/></g>
<path stroke="#df7d9a" stroke-width="1.4" d="M566.5 1502l4.7 -1M573.1 1503.5l4.7 -1M579.6 1505l4.7 -1M586.3 1506.6l4.7 -1M592.9 1508.1l4.7 -1M599.7 1509.7l4.7 -1M606.4 1511.3l4.8 -1M613.2 1512.9l4.8 -1M620.1 1514.4l4.8 -1"/>
<g stroke="#6d90cd" stroke-width="1"><path transform="matrix(5.881 -1.053 0 1 0 0)" d="M67.4 1508.3v26.4M68.3 1489.2v47.8M69.2 1512.7v26.6M70.2 1520.3v21.3M71.1 1511.8v32.1M72.1 1508.7v37.6M73.1 1510.9v37.7M74 1496.9v54.1M75 1504.6v48.8M76 1495.9v59.8"/><path transform="matrix(5.918 -1.115 0 1 0 0)" d="M76.5 1513.4v49M77.6 1504.7v60.2M78.6 1507v60.4M79.6 1487.2v82.8M80.6 1500.6v71.9M81.6 1530.7v44.2M82.6 1516.4v61.1M83.6 1530v50.1M84.7 1532.4v50.2"/><path transform="matrix(5.946 -1.180 0 1 0 0)" d="M85.3 1545.6v44.7M86.3 1548.1v44.9M87.4 1550.7v45M88.5 1547.6v50.8M89.5 1550.2v51M90.6 1569.8v34M91.6 1572.5v34.1M92.7 1592.2v17.1M93.7 1600.7v11.4"/><path transform="matrix(5.968 -1.250 0 1 0 0)" d="M94.5 1609.7v11.5"/></g>
<g stroke="#8bb0e9" stroke-width="1"><path transform="matrix(1.972 0.462 0 1 0 0)" d="M198.9 1345.8v26.4M201.7 1324.4v47.8M204.5 1345.7v26.6M207.3 1350.9v21.3M210.2 1340.1v32.1M213 1334.7v37.6M215.9 1334.5v37.7M218.8 1318.1v54.1M221.8 1323.4v48.8M224.7 1312.3v59.8"/><path transform="matrix(2.089 0.490 0 1 0 0)" d="M214.9 1323.1v49M217.7 1312v60.2M220.6 1311.8v60.4M223.5 1289.3v82.8M226.3 1300.2v71.9M229.1 1327.9v44.2M232.1 1311v61.1M234.9 1322v50.1M237.9 1321.9v50.2"/><path transform="matrix(2.210 0.518 0 1 0 0)" d="M227.6 1327.4v44.7M230.4 1327.2v44.9M233.2 1327.1v45M236.1 1321.2v50.8M239 1321.1v51M241.7 1338.1v34M244.6 1338v34.1M247.4 1355.1v17.1M250.3 1360.8v11.4"/><path transform="matrix(2.342 0.549 0 1 0 0)" d="M239 1360.7v11.5"/></g>
<g stroke="#a3c1f1" stroke-width="1"><path transform="matrix(1.972 0.462 5.881 -1.053 0 0)" d="M1849.58 -553.16h1M1826.14 -544.36h1M1854.99 -553.09h1M1864.27 -555.26h1M1853.89 -550.82h1M1850.03 -548.56h1M1852.78 -548.52h1M1835.57 -541.77h1M1844.97 -543.94h1M1834.32 -539.38h1"/><path transform="matrix(2.089 0.490 5.918 -1.115 0 0)" d="M1712.22 -528.34h1M1702.41 -523.88h1M1705.03 -523.8h1M1682.55 -514.83h1M1697.74 -519.2h1M1731.85 -530.26h1M1715.67 -523.5h1M1731.03 -527.91h1M1733.78 -527.85h1"/><path transform="matrix(2.210 0.518 5.946 -1.180 0 0)" d="M1614.74 -515.32h1M1617.4 -515.27h1M1620.08 -515.21h1M1616.85 -512.95h1M1619.54 -512.88h1M1640.09 -519.49h1M1642.86 -519.45h1M1663.53 -526.09h1M1672.36 -528.3h1"/><path transform="matrix(2.342 0.549 5.968 -1.250 0 0)" d="M1547.42 -513.21h1"/></g>
<path stroke="#9cbcec" stroke-width="1.4" d="M566.8 1504.8l4.8 -1M573.4 1506.3l4.8 -1M580 1507.9l4.8 -1M586.7 1509.4l4.8 -1M593.4 1511l4.8 -1M600.1 1512.6l4.8 -1M606.9 1514.2l4.8 -1M613.8 1515.8l4.8 -1"/>
<g stroke="#c06a3a" stroke-width="1"><path transform="matrix(5.911 -1.058 0 1 0 0)" d="M66 1497.6v37.1M66.9 1446.1v90.9M67.8 1491.2v48M68.8 1488v53.6M69.7 1501v42.9M70.7 1508.6v37.6M71.6 1500v48.6M72.6 1507.7v43.3M73.6 1482.6v70.8M74.6 1501.2v54.5"/><path transform="matrix(5.948 -1.121 0 1 0 0)" d="M75.1 1502.2v60.2M76.1 1510.1v54.8M77.1 1512.4v55M78.1 1453.4v116.6M79.1 1511.6v60.9M80.1 1502.7v72.2M81.1 1505.1v72.5M82.2 1513.1v67.1M83.2 1532.3v50.3"/><path transform="matrix(5.978 -1.186 0 1 0 0)" d="M83.8 1539.8v50.5M84.8 1542.3v50.7M85.9 1544.9v50.8M86.9 1553.1v45.3M88 1561.4v39.7M89.1 1546.9v57M90.1 1583.8v22.8M91.1 1592.2v17.1M92.2 1595v17.2"/><path transform="matrix(6.001 -1.257 0 1 0 0)" d="M92.9 1609.7v11.5M94 1618.3v5.8"/></g>
<g stroke="#f09462" stroke-width="1"><path transform="matrix(1.970 0.464 0 1 0 0)" d="M195.9 1337.1v37.1M198.6 1283.3v90.9M201.5 1326.2v48M204.3 1320.7v53.6M207.2 1331.3v42.9M210 1336.6v37.6M212.9 1325.6v48.6M215.8 1330.9v43.3M218.8 1303.4v70.8M221.7 1319.7v54.5"/><path transform="matrix(2.088 0.492 0 1 0 0)" d="M212 1314v60.2M214.8 1319.3v54.8M217.7 1319.2v55M220.7 1257.5v116.6M223.4 1313.3v60.9M226.3 1301.9v72.2M229.2 1301.6v72.5M232.1 1307v67.1M235 1323.8v50.3"/><path transform="matrix(2.209 0.521 0 1 0 0)" d="M224.9 1323.6v50.5M227.7 1323.5v50.7M230.5 1323.3v50.8M233.3 1328.8v45.3M236.2 1334.4v39.7M239.1 1317v57M241.8 1351.4v22.8M244.7 1357v17.1M247.6 1357v17.2"/><path transform="matrix(2.342 0.552 0 1 0 0)" d="M236.4 1362.7v11.5M239.2 1368.5v5.8"/></g>
<g stroke="#f6aa80" stroke-width="1"><path transform="matrix(1.970 0.464 5.911 -1.058 0 0)" d="M1831.79 -545.01h1M1768.72 -523.06h1M1824.01 -540.54h1M1820.07 -538.29h1M1835.94 -542.63h1M1845.26 -544.78h1M1834.73 -540.31h1M1844.11 -542.47h1M1813.42 -531.25h1M1836.25 -537.89h1"/><path transform="matrix(2.088 0.492 5.948 -1.121 0 0)" d="M1695.2 -520.29h1M1704.02 -522.4h1M1706.66 -522.34h1M1640.03 -497.88h1M1705.7 -519.99h1M1695.75 -515.47h1M1698.4 -515.38h1M1707.41 -517.53h1M1729.17 -524.16h1"/><path transform="matrix(2.209 0.521 5.978 -1.186 0 0)" d="M1604.42 -509.51h1M1607.06 -509.45h1M1609.71 -509.39h1M1618.3 -511.52h1M1626.94 -513.67h1M1611.83 -506.98h1M1650.29 -520.2h1M1659.07 -522.39h1M1661.94 -522.37h1"/><path transform="matrix(2.342 0.552 6.001 -1.257 0 0)" d="M1543.11 -509.56h1M1551.38 -511.71h1"/></g>
<path stroke="#f2a47a" stroke-width="1.4" d="M567.1 1507.6l4.8 -1M573.7 1509.2l4.8 -1M580.4 1510.8l4.8 -1M587.1 1512.3l4.8 -1M593.8 1513.9l4.8 -1M600.6 1515.5l4.8 -1M607.5 1517.2l4.8 -1"/>
<g stroke="#46a0b4" stroke-width="1"><path transform="matrix(5.941 -1.063 0 1 0 0)" d="M64.6 1481.4v53.2M65.5 1456.6v80.3M66.4 1496.5v42.8M67.4 1509.4v32.1M68.3 1506.3v37.6M69.3 1481.4v64.9M70.2 1510.8v37.8M71.2 1474.8v76.2M72.2 1487.9v65.5M73.2 1457v98.8"/><path transform="matrix(5.979 -1.127 0 1 0 0)" d="M73.7 1502.1v60.3M74.6 1504.4v60.5M75.6 1506.7v60.7M76.6 1497.9v72M77.7 1466.5v105.9M78.6 1519.4v55.6M79.7 1499.3v78.3M80.7 1507.3v72.9M81.7 1515.3v67.4"/><path transform="matrix(6.010 -1.192 0 1 0 0)" d="M82.3 1534v56.3M83.3 1536.5v56.5M84.4 1544.7v50.9M85.4 1547.3v51.1M86.5 1549.9v51.2M87.5 1546.8v57.1M88.6 1566.6v40M89.7 1557.7v51.7M90.7 1577.7v34.5"/><path transform="matrix(6.034 -1.264 0 1 0 0)" d="M91.4 1603.8v17.3M92.5 1606.7v17.3M93.5 1621.2v5.8"/></g>
<g stroke="#6cccdc" stroke-width="1"><path transform="matrix(1.969 0.467 0 1 0 0)" d="M192.8 1323.1v53.2M195.6 1296v80.3M198.5 1333.5v42.8M201.3 1344.1v32.1M204.1 1338.6v37.6M207 1311.4v64.9M209.9 1338.4v37.8M212.8 1300v76.2M215.7 1310.8v65.5M218.7 1277.4v98.8"/><path transform="matrix(2.087 0.495 0 1 0 0)" d="M209.2 1315.9v60.3M212 1315.7v60.5M214.8 1315.5v60.7M217.7 1304.2v72M220.6 1270.2v105.9M223.4 1320.6v55.6M226.4 1297.8v78.3M229.3 1303.3v72.9M232.2 1308.7v67.4"/><path transform="matrix(2.208 0.524 0 1 0 0)" d="M222.2 1319.8v56.3M225 1319.7v56.5M227.8 1325.2v50.9M230.6 1325v51.1M233.5 1324.9v51.2M236.4 1318.9v57.1M239.2 1336.1v40M242.2 1324.4v51.7M245 1341.6v34.5"/><path transform="matrix(2.341 0.555 0 1 0 0)" d="M233.8 1358.9v17.3M236.6 1358.9v17.3M239.3 1370.4v5.8"/></g>
<g stroke="#88d8e6" stroke-width="1"><path transform="matrix(1.969 0.467 5.941 -1.063 0 0)" d="M1807.43 -534.75h1M1777.15 -523.79h1M1825.8 -538.97h1M1841.61 -543.27h1M1837.76 -541.05h1M1807.35 -530.02h1M1843.23 -540.96h1M1799.28 -525.42h1M1815.35 -529.78h1M1777.57 -516.27h1"/><path transform="matrix(2.087 0.495 5.979 -1.127 0 0)" d="M1690.58 -516.63h1M1693.18 -516.56h1M1695.8 -516.49h1M1685.89 -512.03h1M1650.58 -498.67h1M1710.05 -518.47h1M1687.45 -509.54h1M1696.45 -511.67h1M1705.5 -513.81h1"/><path transform="matrix(2.208 0.524 6.010 -1.192 0 0)" d="M1594.08 -503.73h1M1596.7 -503.66h1M1605.25 -505.77h1M1607.92 -505.71h1M1610.61 -505.65h1M1607.36 -503.38h1M1627.98 -509.93h1M1618.79 -505.46h1M1639.55 -512.05h1"/><path transform="matrix(2.341 0.555 6.034 -1.264 0 0)" d="M1533.3 -503.77h1M1536.04 -503.75h1M1549.86 -508.05h1"/></g>
<path stroke="#82d4e1" stroke-width="1.4" d="M567.3 1510.5l4.8 -1M574 1512.1l4.8 -1M580.7 1513.7l4.8 -1M587.5 1515.3l4.8 -1M594.3 1516.9l4.8 -1M601.1 1518.5l4.8 -1"/>
<g stroke="#5e4cb0" stroke-width="1"><path transform="matrix(5.971 -1.069 0 1 0 0)" d="M63.2 1497.4v37.3M64.1 1504.9v32M65.1 1501.7v37.5M66 1503.9v37.6M66.9 1473.6v70.3M67.9 1481.2v65M68.8 1499.8v48.8M69.8 1480.1v70.9M70.7 1515.2v38.2M71.7 1473.4v82.4"/><path transform="matrix(6.011 -1.133 0 1 0 0)" d="M72.2 1457.4v104.9M73.2 1498.6v66.2M74.2 1501v66.4M75.2 1486.5v83.4M76.2 1516.8v55.6M77.2 1474.2v100.8M78.2 1499.1v78.5M79.2 1507.1v73M80.2 1537.8v45"/><path transform="matrix(6.043 -1.199 0 1 0 0)" d="M80.8 1516.8v73.5M81.8 1536.3v56.6M82.9 1538.9v56.8M83.9 1541.4v56.9M85 1544v57.1M86 1563.8v40M87.1 1549.2v57.5M88.1 1569.2v40.3M89.2 1577.6v34.6"/><path transform="matrix(6.068 -1.271 0 1 0 0)" d="M89.9 1592.2v28.9M90.9 1618.2v5.8M92 1615.3v11.6M93.1 1624.1v5.8"/></g>
<g stroke="#8a78dc" stroke-width="1"><path transform="matrix(1.967 0.469 0 1 0 0)" d="M189.8 1341v37.3M192.6 1346.3v32M195.4 1340.8v37.5M198.3 1340.7v37.6M201.1 1308v70.3M204 1313.3v65M206.9 1329.5v48.8M209.8 1307.4v70.9M212.7 1340.1v38.2M215.7 1295.9v82.4"/><path transform="matrix(2.085 0.497 0 1 0 0)" d="M206.3 1273.3v104.9M209.1 1312.1v66.2M211.9 1311.9v66.4M214.8 1294.8v83.4M217.6 1322.7v55.6M220.6 1277.3v100.8M223.5 1299.7v78.5M226.4 1305.1v73M229.2 1333.3v45"/><path transform="matrix(2.207 0.526 0 1 0 0)" d="M219.5 1304.7v73.5M222.2 1321.6v56.6M225 1321.4v56.8M227.9 1321.2v56.9M230.7 1321v57.1M233.5 1338.2v40M236.5 1320.7v57.5M239.3 1337.9v40.3M242.2 1343.6v34.6"/><path transform="matrix(2.340 0.558 0 1 0 0)" d="M231.2 1349.3v28.9M233.9 1372.5v5.8M236.7 1366.7v11.6M239.5 1372.5v5.8"/></g>
<g stroke="#a292e6" stroke-width="1"><path transform="matrix(1.967 0.469 5.971 -1.069 0 0)" d="M1822.24 -537.47h1M1831.43 -539.57h1M1827.58 -537.38h1M1830.27 -537.33h1M1793.31 -524.22h1M1802.57 -526.33h1M1825.18 -532.82h1M1801.2 -523.96h1M1843.99 -537.1h1M1793.07 -519.34h1"/><path transform="matrix(2.085 0.497 6.011 -1.133 0 0)" d="M1636.04 -495.65h1M1682.34 -510.76h1M1684.94 -510.68h1M1668.7 -504.04h1M1702.75 -514.88h1M1654.84 -497.22h1M1682.83 -505.94h1M1691.83 -508.06h1M1726.27 -519.02h1"/><path transform="matrix(2.207 0.526 6.043 -1.199 0 0)" d="M1571.95 -493.67h1M1592.24 -500.08h1M1594.88 -500.01h1M1597.53 -499.94h1M1600.21 -499.87h1M1620.76 -506.36h1M1605.6 -499.73h1M1626.29 -506.26h1M1635.08 -508.41h1"/><path transform="matrix(2.340 0.558 6.068 -1.271 0 0)" d="M1517.97 -495.88h1M1542.75 -504.42h1M1540.02 -502.26h1M1548.36 -504.4h1"/></g>
<path stroke="#9c8ce1" stroke-width="1.4" d="M567.6 1513.4l4.9 -1M574.3 1515l4.9 -1M581.1 1516.6l4.9 -1M587.9 1518.3l4.9 -1M594.7 1519.9l4.9 -1"/>
<g stroke="#6aa428" stroke-width="1"><path transform="matrix(6.001 -1.074 0 1 0 0)" d="M61.8 1481.1v53.5M62.8 1510.2v26.7M63.7 1485.4v53.8M64.6 1471.3v70.3M65.5 1473.4v70.5M66.5 1470.1v76.2M67.4 1521.5v27.1M68.4 1496.4v54.6M69.3 1515.1v38.3M70.3 1506.4v49.4"/><path transform="matrix(6.042 -1.139 0 1 0 0)" d="M70.8 1501.7v60.6M71.8 1487.3v77.5M72.7 1495.2v72.1M73.7 1503.1v66.8M74.7 1488.6v83.8M75.7 1513.5v61.5M76.7 1493.2v84.4M77.7 1501.3v78.9M78.8 1497.9v84.9"/><path transform="matrix(6.075 -1.205 0 1 0 0)" d="M79.3 1533.6v56.6M80.4 1524.7v68.2M81.4 1533v62.6M82.4 1535.5v62.8M83.4 1543.9v57.3M84.5 1546.5v57.4M85.5 1554.9v51.8M86.6 1551.7v57.8M87.6 1566v46.3"/><path transform="matrix(6.102 -1.278 0 1 0 0)" d="M88.3 1609.5v11.6M89.3 1612.4v11.6M90.5 1603.6v23.3M91.5 1618.2v11.7M92.6 1627v5.9"/></g>
<g stroke="#98d84a" stroke-width="1"><path transform="matrix(1.965 0.472 0 1 0 0)" d="M186.7 1326.9v53.5M189.6 1353.7v26.7M192.4 1326.6v53.8M195.2 1310.2v70.3M198 1309.9v70.5M200.9 1304.2v76.2M203.8 1353.3v27.1M206.7 1325.8v54.6M209.6 1342.1v38.3M212.6 1331v49.4"/><path transform="matrix(2.084 0.500 0 1 0 0)" d="M203.3 1319.7v60.6M206.2 1302.8v77.5M209 1308.2v72.1M211.8 1313.6v66.8M214.7 1296.4v83.8M217.6 1318.8v61.5M220.5 1295.9v84.4M223.5 1301.3v78.9M226.4 1295.4v84.9"/><path transform="matrix(2.206 0.529 0 1 0 0)" d="M216.6 1323.7v56.6M219.5 1312.1v68.2M222.3 1317.6v62.6M225.1 1317.4v62.8M227.9 1323v57.3M230.8 1322.8v57.4M233.7 1328.4v51.8M236.7 1322.4v57.8M239.5 1333.9v46.3"/><path transform="matrix(2.339 0.561 0 1 0 0)" d="M228.5 1368.8v11.6M231.3 1368.7v11.6M234.2 1357v23.3M236.9 1368.7v11.7M239.7 1374.5v5.9"/></g>
<g stroke="#aee46c" stroke-width="1"><path transform="matrix(1.965 0.472 6.001 -1.074 0 0)" d="M1797.88 -527.31h1M1833.18 -537.94h1M1803.11 -527.19h1M1785.93 -520.64h1M1788.53 -520.55h1M1784.48 -518.29h1M1846.91 -537.78h1M1816.46 -526.86h1M1839.21 -533.35h1M1828.62 -528.92h1"/><path transform="matrix(2.084 0.500 6.042 -1.139 0 0)" d="M1681.36 -509.37h1M1665.23 -502.83h1M1674.06 -504.9h1M1682.94 -506.98h1M1666.66 -500.37h1M1694.52 -509h1M1671.86 -500.16h1M1680.85 -502.26h1M1677.13 -499.96h1"/><path transform="matrix(2.206 0.529 6.075 -1.205 0 0)" d="M1585.16 -496.57h1M1575.97 -492.2h1M1584.5 -494.28h1M1587.14 -494.2h1M1595.74 -496.3h1M1598.43 -496.23h1M1607.12 -498.34h1M1603.86 -496.09h1M1618.63 -500.4h1"/><path transform="matrix(2.339 0.561 6.102 -1.278 0 0)" d="M1530.18 -498.68h1M1532.94 -498.66h1M1524.64 -494.38h1M1538.5 -498.64h1M1546.87 -500.77h1"/></g>
<path stroke="#a7de65" stroke-width="1.4" d="M567.9 1516.4l4.9 -1M574.7 1518l4.9 -1M581.5 1519.6l4.9 -1M588.3 1521.3l4.9 -1"/>
<g stroke="#a02848" stroke-width="1"><path transform="matrix(6.032 -1.080 0 1 0 0)" d="M60.5 1491.7v42.8M61.3 1450.5v86.3M62.3 1436.2v103M63.2 1471.1v70.4M64.1 1473.2v70.6M65.1 1491.8v54.4M66 1488.6v60.1M67 1463.1v87.9M67.9 1515.1v38.4M68.9 1484.1v71.7"/><path transform="matrix(6.074 -1.145 0 1 0 0)" d="M69.4 1479.2v83.1M70.3 1470.3v94.5M71.3 1466.9v100.4M72.3 1491.7v78.2M73.3 1505.3v67.1M74.3 1513.3v61.7M75.3 1504.4v73.2M76.3 1495.4v84.8M77.3 1509.1v73.6"/><path transform="matrix(6.108 -1.212 0 1 0 0)" d="M77.9 1504.9v85.3M78.9 1518.8v74.1M79.9 1527.1v68.6M80.9 1535.4v63M81.9 1537.9v63.2M83 1552.1v51.8M84 1554.7v52M85 1569v40.5M86.1 1554.2v58.1"/><path transform="matrix(6.136 -1.285 0 1 0 0)" d="M86.8 1562.8v58.3M87.8 1606.5v17.5M88.9 1603.6v23.4M90 1618.2v11.7M91 1627v5.9M92.1 1630v5.9"/></g>
<g stroke="#d0406a" stroke-width="1"><path transform="matrix(1.964 0.474 0 1 0 0)" d="M183.7 1339.7v42.8M186.4 1296.2v86.3M189.2 1279.6v103M192.1 1312.1v70.4M195 1311.9v70.6M197.8 1328.1v54.4M200.7 1322.5v60.1M203.6 1294.6v87.9M206.6 1344.1v38.4M209.5 1310.8v71.7"/><path transform="matrix(2.082 0.503 0 1 0 0)" d="M200.4 1299.4v83.1M203.3 1287.9v94.5M206.1 1282v100.4M208.9 1304.3v78.2M211.8 1315.3v67.1M214.6 1320.7v61.7M217.6 1309.2v73.2M220.5 1297.6v84.8M223.4 1308.7v73.6"/><path transform="matrix(2.205 0.532 0 1 0 0)" d="M213.9 1297v85.3M216.7 1308.3v74.1M219.5 1313.8v68.6M222.3 1319.4v63M225.2 1319.1v63.2M228 1330.6v51.8M230.9 1330.4v52M233.8 1341.9v40.5M236.8 1324.2v58.1"/><path transform="matrix(2.338 0.564 0 1 0 0)" d="M226.1 1324v58.3M228.6 1365v17.5M231.5 1359v23.4M234.2 1370.7v11.7M237.1 1376.6v5.9M239.9 1376.6v5.9"/></g>
<g stroke="#dc5e82" stroke-width="1"><path transform="matrix(1.964 0.474 6.032 -1.080 0 0)" d="M1806.17 -527.86h1M1756.23 -510.72h1M1738.84 -504.15h1M1781.16 -516.98h1M1783.75 -516.9h1M1806.3 -523.29h1M1802.33 -521.06h1M1771.53 -510.09h1M1834.43 -529.62h1M1796.98 -516.46h1"/><path transform="matrix(2.082 0.503 6.074 -1.145 0 0)" d="M1651.84 -497.21h1M1641.83 -492.81h1M1638.04 -490.54h1M1665.76 -499.07h1M1680.95 -503.3h1M1689.9 -505.39h1M1679.93 -500.96h1M1669.87 -496.5h1M1685.27 -500.79h1"/><path transform="matrix(2.205 0.532 6.108 -1.212 0 0)" d="M1551.21 -482.34h1M1565.6 -486.53h1M1574.11 -488.58h1M1582.67 -490.66h1M1585.33 -490.58h1M1599.93 -494.83h1M1602.65 -494.77h1M1617.36 -499.05h1M1602.14 -492.46h1"/><path transform="matrix(2.338 0.564 6.136 -1.285 0 0)" d="M1481.68 -478.14h1M1523.11 -492.95h1M1520.33 -490.8h1M1534.19 -495.03h1M1542.56 -497.15h1M1545.41 -497.15h1"/></g>
<path stroke="#d75d80" stroke-width="1.4" d="M568.2 1519.4l4.9 -1M575 1521l4.9 -1M581.8 1522.7l4.9 -1.1"/>
<g stroke="#4874c0" stroke-width="1"><path transform="matrix(6.063 -1.085 0 1 0 0)" d="M59.1 1502.4v32.2M60 1504.6v32.3M60.9 1485.1v54.1M61.8 1481.8v59.7M62.7 1473v70.8M63.7 1508.1v38.1M64.6 1466.3v82.3M65.6 1468.5v82.5M66.5 1492.9v60.6M67.5 1478.4v77.4"/><path transform="matrix(6.106 -1.151 0 1 0 0)" d="M68 1523.6v38.7M68.9 1481.2v83.5M69.9 1472.3v95M70.9 1463.2v106.7M71.8 1493.8v78.6M72.8 1507.5v67.5M73.8 1492.8v84.8M74.8 1512.3v67.9M75.8 1537.5v45.3"/><path transform="matrix(6.141 -1.218 0 1 0 0)" d="M76.4 1539v51.1M77.4 1541.5v51.3M78.4 1544.1v51.5M79.4 1517.8v80.5M80.4 1537.8v63.4M81.5 1552v51.9M82.5 1548.8v57.9M83.6 1551.4v58.1M84.6 1554.1v58.3"/><path transform="matrix(6.170 -1.292 0 1 0 0)" d="M85.3 1580.2v40.8M86.3 1577.2v46.9M87.4 1585.9v41.1M88.4 1612.3v17.6M89.5 1621.1v11.8M90.6 1624.1v11.8M91.6 1633v5.9"/></g>
<g stroke="#6e9ce4" stroke-width="1"><path transform="matrix(1.962 0.476 0 1 0 0)" d="M180.6 1352.5v32.2M183.4 1352.4v32.3M186.2 1330.6v54.1M189 1325v59.7M191.9 1313.9v70.8M194.8 1346.5v38.1M197.6 1302.4v82.3M200.5 1302.1v82.5M203.5 1324.1v60.6M206.4 1307.2v77.4"/><path transform="matrix(2.081 0.505 0 1 0 0)" d="M197.5 1345.9v38.7M200.3 1301.1v83.5M203.1 1289.5v95M206 1277.9v106.7M208.8 1306v78.6M211.7 1317.1v67.5M214.6 1299.7v84.8M217.5 1316.6v67.9M220.4 1339.3v45.3"/><path transform="matrix(2.203 0.535 0 1 0 0)" d="M211 1333.4v51.1M213.8 1333.2v51.3M216.6 1333.1v51.5M219.6 1303.9v80.5M222.4 1321.1v63.4M225.2 1332.6v51.9M228.1 1326.6v57.9M231 1326.4v58.1M234 1326.2v58.3"/><path transform="matrix(2.337 0.567 0 1 0 0)" d="M223.3 1343.7v40.8M226.1 1337.6v46.9M228.9 1343.4v41.1M231.6 1366.9v17.6M234.4 1372.8v11.8M237.3 1372.8v11.8M240.1 1378.7v5.9"/></g>
<g stroke="#8cb2ee" stroke-width="1"><path transform="matrix(1.962 0.476 6.063 -1.085 0 0)" d="M1814.43 -528.36h1M1817.11 -528.32h1M1793.56 -519.8h1M1789.6 -517.61h1M1778.98 -513.25h1M1821.38 -526.03h1M1770.85 -508.76h1M1773.46 -508.66h1M1802.93 -517.25h1M1785.47 -510.64h1"/><path transform="matrix(2.081 0.505 6.106 -1.151 0 0)" d="M1696.91 -510.6h1M1649.75 -493.56h1M1639.72 -489.18h1M1629.61 -484.75h1M1663.74 -495.42h1M1678.98 -499.63h1M1662.63 -493.06h1M1684.32 -499.47h1M1712.42 -508.06h1"/><path transform="matrix(2.203 0.535 6.141 -1.218 0 0)" d="M1582.1 -491.57h1M1584.74 -491.51h1M1587.4 -491.45h1M1560.36 -480.69h1M1580.86 -487.04h1M1595.46 -491.27h1M1592.21 -489.05h1M1594.93 -488.98h1M1597.67 -488.91h1"/><path transform="matrix(2.337 0.567 6.170 -1.292 0 0)" d="M1493.99 -480.99h1M1491.12 -478.82h1M1499.36 -480.89h1M1524.33 -489.33h1M1532.69 -491.43h1M1535.52 -491.42h1M1543.96 -493.54h1"/></g>
<path stroke="#84abe8" stroke-width="1.4" d="M568.5 1522.4l4.9 -1.1M575.3 1524l4.9 -1.1"/>
<g stroke="#b05a10" stroke-width="1"><path transform="matrix(6.094 -1.091 0 1 0 0)" d="M57.8 1513.1v21.5M58.7 1493.6v43.2M59.5 1452.1v87M60.5 1503.5v38M61.4 1472.9v71M62.3 1458.4v87.8M63.2 1488.3v60.4M64.2 1473.8v77.2M65.1 1503.8v49.6M66 1467v88.8"/><path transform="matrix(6.138 -1.157 0 1 0 0)" d="M66.5 1467.5v94.7M67.5 1492.3v72.5M68.5 1483.3v84M69.4 1485.6v84.2M70.4 1470.8v101.6M71.4 1484.5v90.4M72.3 1515.4v62.2M73.4 1495v85.3M74.4 1474.3v108.6"/><path transform="matrix(6.175 -1.225 0 1 0 0)" d="M74.9 1510.1v80M76 1483.6v109.3M76.9 1520.9v74.7M77.9 1546.6v51.7M78.9 1566.5v34.5M80 1534.4v69.6M81 1566.1v40.6M82 1568.8v40.7M83.1 1548.1v64.3"/><path transform="matrix(6.205 -1.300 0 1 0 0)" d="M83.8 1562.4v58.6M84.8 1594.6v29.3M85.8 1597.5v29.4M86.9 1612.2v17.7M87.9 1621.1v11.8M89 1624.1v11.8M90.1 1627.1v11.9M91.2 1636.1v6"/></g>
<g stroke="#e8781e" stroke-width="1"><path transform="matrix(1.960 0.479 0 1 0 0)" d="M177.6 1365.3v21.5M180.3 1343.7v43.2M183 1299.9v87M185.9 1348.8v38M188.7 1315.8v71M191.6 1299.1v87.8M194.5 1326.5v60.4M197.4 1309.6v77.2M200.4 1337.2v49.6M203.3 1298v88.8"/><path transform="matrix(2.079 0.508 0 1 0 0)" d="M194.5 1292.1v94.7M197.3 1314.3v72.5M200.2 1302.8v84M203 1302.5v84.2M205.9 1285.1v101.6M208.8 1296.3v90.4M211.6 1324.5v62.2M214.6 1301.4v85.3M217.6 1278.1v108.6"/><path transform="matrix(2.202 0.538 0 1 0 0)" d="M208.2 1306.7v80M211.1 1277.3v109.3M213.8 1311.9v74.7M216.6 1334.9v51.7M219.4 1352.2v34.5M222.4 1317.1v69.6M225.2 1346.1v40.6M228.1 1346v40.7M231.2 1322.3v64.3"/><path transform="matrix(2.336 0.571 0 1 0 0)" d="M220.7 1328v58.6M223.3 1357.4v29.3M226.2 1357.3v29.4M228.9 1369v17.7M231.7 1374.9v11.8M234.6 1374.9v11.8M237.5 1374.8v11.9M240.3 1380.8v6"/></g>
<g stroke="#f09040" stroke-width="1"><path transform="matrix(1.960 0.479 6.094 -1.091 0 0)" d="M1822.66 -528.8h1M1799.27 -520.4h1M1749.19 -503.42h1M1811.17 -522.41h1M1774.2 -509.62h1M1756.81 -503.11h1M1792.77 -513.73h1M1775.39 -507.21h1M1811.53 -517.89h1M1767.19 -502.68h1"/><path transform="matrix(2.079 0.508 6.138 -1.157 0 0)" d="M1630.11 -485.89h1M1657.64 -494.27h1M1647.68 -489.93h1M1650.23 -489.83h1M1633.83 -483.29h1M1649.06 -487.48h1M1683.35 -498.12h1M1660.63 -489.42h1M1637.65 -480.62h1"/><path transform="matrix(2.202 0.538 6.175 -1.225 0 0)" d="M1548.2 -477.5h1M1521.04 -466.78h1M1559.25 -479.43h1M1585.6 -487.84h1M1606.08 -494.15h1M1573.09 -481.31h1M1605.66 -491.93h1M1608.43 -491.88h1M1587.19 -483.22h1"/><path transform="matrix(2.336 0.571 6.205 -1.300 0 0)" d="M1473.06 -471.18h1M1503.44 -481.62h1M1506.16 -481.59h1M1520.02 -485.77h1M1528.38 -487.85h1M1531.21 -487.84h1M1534.06 -487.83h1M1542.53 -489.94h1"/></g>
<path stroke="#eb8c40" stroke-width="1.4" d="M568.8 1525.4l5 -1.1"/>
<g stroke="#23849a" stroke-width="1"><path transform="matrix(6.125 -1.096 0 1 0 0)" d="M56.4 1518.4v16.1M57.3 1515.2v21.6M58.2 1501.2v38M59.1 1503.4v38.1M60 1494.7v49.2M60.9 1463.8v82.5M61.9 1510.2v38.4M62.8 1495.9v55.1M63.7 1459v94.4M64.6 1421.6v134.2"/><path transform="matrix(6.171 -1.163 0 1 0 0)" d="M65.1 1484.1v78.1M66.1 1446.8v117.9M67 1483.1v84.2M68 1485.4v84.4M69 1476.3v96.1M69.9 1501.4v73.5M70.9 1480.9v96.7M71.9 1512v68.3M72.9 1508.6v74.2"/><path transform="matrix(6.208 -1.232 0 1 0 0)" d="M73.5 1480.9v109.2M74.4 1547v45.8M75.4 1532.2v63.3M76.5 1523.2v75.1M77.5 1543.2v57.9M78.5 1534.2v69.7M79.5 1536.8v70M80.5 1592v17.4M81.6 1559.7v52.7"/><path transform="matrix(6.239 -1.307 0 1 0 0)" d="M82.2 1591.7v29.3M83.2 1600.4v23.5M84.3 1609.2v17.7M85.3 1618.1v11.8M88.5 1627.1v11.9M89.6 1636.1v6M90.7 1639.2v6"/></g>
<g stroke="#3ab0c8" stroke-width="1"><path transform="matrix(1.958 0.481 0 1 0 0)" d="M174.5 1372.8v16.1M177.2 1367.4v21.6M180 1351v38M182.8 1350.9v38.1M185.6 1339.9v49.2M188.5 1306.6v82.5M191.4 1350.6v38.4M194.3 1333.9v55.1M197.2 1294.6v94.4M200.1 1254.8v134.2"/><path transform="matrix(2.077 0.511 0 1 0 0)" d="M191.5 1310.9v78.1M194.3 1271v117.9M197.2 1304.8v84.2M200 1304.5v84.4M202.9 1292.8v96.1M205.8 1315.4v73.5M208.7 1292.2v96.7M211.6 1320.6v68.3M214.5 1314.7v74.2"/><path transform="matrix(2.200 0.541 0 1 0 0)" d="M205.4 1279.6v109.2M208.1 1343.1v45.8M211 1325.6v63.3M213.8 1313.7v75.1M216.7 1331v57.9M219.6 1319.1v69.7M222.5 1318.8v70M225.2 1371.5v17.4M228.3 1336.1v52.7"/><path transform="matrix(2.335 0.574 0 1 0 0)" d="M217.8 1359.6v29.3M220.6 1365.4v23.5M223.4 1371.2v17.7M226.2 1377.1v11.8M234.8 1377v11.9M237.6 1383v6M240.6 1382.9v6"/></g>
<g stroke="#58c4d8" stroke-width="1"><path transform="matrix(1.958 0.481 6.125 -1.096 0 0)" d="M1824.38 -527.13h1M1820.6 -525.04h1M1803.7 -518.75h1M1806.4 -518.71h1M1795.91 -514.45h1M1758.71 -501.66h1M1814.57 -518.57h1M1797.35 -512.15h1M1753.05 -497.06h1M1708.09 -481.75h1"/><path transform="matrix(2.077 0.511 6.171 -1.163 0 0)" d="M1644.23 -488.7h1M1602.82 -473.82h1M1643.06 -486.41h1M1645.62 -486.31h1M1635.55 -481.95h1M1663.43 -490.37h1M1640.67 -481.72h1M1675.09 -492.34h1M1671.42 -490.11h1"/><path transform="matrix(2.200 0.541 6.208 -1.232 0 0)" d="M1514.11 -463.5h1M1581.7 -486.52h1M1566.65 -480.16h1M1557.39 -475.86h1M1577.88 -482.13h1M1568.63 -477.81h1M1571.3 -477.73h1M1627.82 -496.81h1M1594.76 -483.99h1"/><path transform="matrix(2.335 0.574 6.239 -1.307 0 0)" d="M1496.42 -478.13h1M1504.65 -480.18h1M1512.93 -482.24h1M1521.26 -484.3h1M1529.75 -484.26h1M1538.22 -486.36h1M1541.13 -486.36h1"/></g>
<path stroke="#58bcd0" stroke-width="1.4" d="M535.2 1520.2l5 -1M541.9 1521.9l5 -1.1"/>
<g stroke="#3c2090" stroke-width="1"><path transform="matrix(6.157 -1.102 0 1 0 0)" d="M56 1531.4v5.4M57.8 1530.6v10.9M58.7 1527.5v16.4M59.6 1518.9v27.4M60.5 1532.2v16.5M61.4 1523.5v27.6M62.3 1492.5v61M63.3 1505.9v50"/><path transform="matrix(6.204 -1.169 0 1 0 0)" d="M63.7 1528.8v33.4M64.7 1497.5v67.2M65.6 1511.1v56.1M66.6 1479.4v90.4M67.5 1493.2v79.2M68.5 1472.6v102.4M69.5 1463.3v114.3M70.5 1477.2v103M71.4 1514.2v68.6"/><path transform="matrix(6.242 -1.239 0 1 0 0)" d="M72 1498v92M73 1541.1v51.7M73.9 1566.7v28.7M75 1557.9v40.4M76 1548.9v52.2M77 1574.9v29M78 1583.4v23.3M79 1597.8v11.7M80 1594.8v17.5"/><path transform="matrix(6.275 -1.314 0 1 0 0)" d="M84.9 1609.1v23.8M89.2 1621.2v24.1"/></g>
<g stroke="#5a32c0" stroke-width="1"><path transform="matrix(1.956 0.484 0 1 0 0)" d="M174.1 1385.8v5.4M179.8 1380.3v10.9M182.6 1374.8v16.4M185.4 1363.8v27.4M188.3 1374.7v16.5M191.2 1363.6v27.6M194.1 1330.2v61M197 1341.2v50"/><path transform="matrix(2.076 0.513 0 1 0 0)" d="M188.5 1357.8v33.4M191.3 1324v67.2M194.2 1335.1v56.1M197 1300.8v90.4M199.9 1311.9v79.2M202.8 1288.7v102.4M205.7 1276.8v114.3M208.6 1288.1v103M211.5 1322.5v68.6"/><path transform="matrix(2.199 0.544 0 1 0 0)" d="M202.5 1299v92M205.2 1339.4v51.7M208 1362.4v28.7M210.9 1350.7v40.4M213.8 1338.9v52.2M216.6 1362.1v29M219.4 1367.9v23.3M222.3 1379.5v11.7M225.2 1373.6v17.5"/><path transform="matrix(2.334 0.577 0 1 0 0)" d="M226.4 1367.3v23.8M238 1367v24.1"/></g>
<g stroke="#7050d0" stroke-width="1"><path transform="matrix(1.956 0.484 6.157 -1.102 0 0)" d="M1835.33 -527.49h1M1834.38 -525.4h1M1830.63 -523.31h1M1820.26 -519.12h1M1836.24 -523.28h1M1825.83 -519.05h1M1788.6 -506.31h1M1804.73 -510.5h1"/><path transform="matrix(2.076 0.513 6.204 -1.169 0 0)" d="M1689.25 -501.78h1M1654.65 -489.27h1M1669.74 -493.37h1M1634.7 -480.69h1M1649.89 -484.81h1M1627.13 -476.22h1M1616.91 -471.82h1M1632.24 -475.98h1M1673.17 -488.7h1"/><path transform="matrix(2.199 0.544 6.242 -1.239 0 0)" d="M1527.45 -466.4h1M1571.35 -480.9h1M1597.57 -489.16h1M1588.51 -484.96h1M1579.36 -480.72h1M1605.84 -489.06h1M1614.58 -491.13h1M1629.3 -495.31h1M1626.23 -493.19h1"/><path transform="matrix(2.334 0.577 6.275 -1.314 0 0)" d="M1508.62 -476.57h1M1519.92 -476.46h1"/></g>
<path stroke="#7351c9" stroke-width="1.4" d="M335.9 1474l4.9 -.9M346.8 1476.7l4.9 -.9M502.3 1515.1l5 -1M508.8 1516.7l5 -1M515.3 1518.3l5 -1M521.9 1520l5 -1M535.3 1523.3l5 -1.1M542 1524.9l5 -1.1M548.8 1526.6l5 -1.1"/>
<g stroke="#4a8a14" stroke-width="1"><path transform="matrix(6.189 -1.108 0 1 0 0)" d="M53.8 1518.2v16.2M58.2 1540.8v5.5M61 1536.9v16.6M61.9 1522.6v33.4"/><path transform="matrix(6.237 -1.175 0 1 0 0)" d="M62.3 1489.3v72.8M63.3 1502.9v61.7M64.2 1471.2v96M65.2 1484.9v84.9M66.1 1475.8v96.6M67.1 1495.3v79.6M68.1 1474.6v103M69 1517.4v62.8M70 1519.8v63"/><path transform="matrix(6.277 -1.245 0 1 0 0)" d="M70.5 1555.6v34.4M71.5 1552.4v40.3M72.5 1566.6v28.8M75.5 1586.4v17.4M77.5 1592v17.5"/><path transform="matrix(6.310 -1.322 0 1 0 0)" d="M80.2 1612v11.8M85.5 1621.1v18M87.6 1633.2v12.1"/></g>
<g stroke="#80c820" stroke-width="1"><path transform="matrix(1.954 0.486 0 1 0 0)" d="M168.2 1377.2v16.2M182.3 1387.9v5.5M191 1376.8v16.6M193.9 1360.1v33.4"/><path transform="matrix(2.074 0.516 0 1 0 0)" d="M185.5 1320.6v72.8M188.3 1331.7v61.7M191.1 1297.4v96M194 1308.5v84.9M196.9 1296.8v96.6M199.7 1313.7v79.6M202.7 1290.4v103M205.6 1330.5v62.8M208.5 1330.3v63"/><path transform="matrix(2.197 0.547 0 1 0 0)" d="M199.5 1359v34.4M202.3 1353.1v40.3M205.1 1364.6v28.8M213.7 1375.9v17.4M219.5 1375.8v17.5"/><path transform="matrix(2.332 0.580 0 1 0 0)" d="M215.1 1381.6v11.8M229.4 1375.4v18M235.2 1381.3v12.1"/></g>
<g stroke="#98d840" stroke-width="1"><path transform="matrix(1.954 0.486 6.189 -1.108 0 0)" d="M1814.83 -519.66h1M1841.79 -523.71h1M1837.15 -519.51h1M1820.02 -513.18h1"/><path transform="matrix(2.074 0.516 6.237 -1.175 0 0)" d="M1641.23 -483.74h1M1656.27 -487.8h1M1621.26 -475.22h1M1636.39 -479.3h1M1626.31 -474.99h1M1647.88 -481.21h1M1625.06 -472.65h1M1672.2 -487.36h1M1674.91 -487.29h1"/><path transform="matrix(2.197 0.547 6.277 -1.245 0 0)" d="M1581.83 -483.61h1M1578.65 -481.52h1M1593.1 -485.6h1M1613.22 -489.66h1M1618.9 -489.61h1"/><path transform="matrix(2.332 0.580 6.310 -1.322 0 0)" d="M1507.07 -477.24h1M1515.52 -475.09h1M1526.88 -477.14h1"/></g>
<path stroke="#93d041" stroke-width="1.4" d="M334.8 1476.5l4.9 -.9M340.3 1477.8l4.9 -.9M345.8 1479.2l4.9 -.9M351.4 1480.6l4.9 -.9M362.6 1483.4l5 -.9M368.2 1484.8l5 -.9M457.5 1507l5 -1M463.7 1508.5l5 -1M476.4 1511.7l5 -1M489.2 1514.8l5 -1M495.6 1516.4l5 -1M508.7 1519.7l5 -1M515.3 1521.3l5 -1M521.9 1523l5 -1.1M528.6 1524.6l5.1 -1.1M542.1 1528l5.1 -1.1"/>
<g stroke="#7a1a2e" stroke-width="1"><path transform="matrix(6.221 -1.113 0 1 0 0)" d="M56 1532.9v11M57.8 1532.1v16.5"/><path transform="matrix(6.270 -1.182 0 1 0 0)" d="M61.9 1542.2v22.4M63.8 1524.6v45.2M64.7 1538.4v34M65.7 1472v102.9M66.6 1509v68.6M67.6 1551.7v28.5"/><path transform="matrix(6.311 -1.252 0 1 0 0)" d="M72 1575.1v23.2"/><path transform="matrix(6.346 -1.329 0 1 0 0)" d="M83.9 1633v6M86.1 1633.2v12.1"/></g>
<g stroke="#a8203c" stroke-width="1"><path transform="matrix(1.952 0.489 0 1 0 0)" d="M176.3 1384.7v11M182 1379.1v16.5"/><path transform="matrix(2.072 0.519 0 1 0 0)" d="M185.3 1373.3v22.4M191 1350.5v45.2M193.8 1361.7v34M196.7 1292.7v102.9M199.6 1327.1v68.6M202.5 1367.1v28.5"/><path transform="matrix(2.196 0.550 0 1 0 0)" d="M205.1 1372.5v23.2"/><path transform="matrix(2.331 0.584 0 1 0 0)" d="M226.5 1389.6v6M232.4 1383.5v12.1"/></g>
<g stroke="#bc3a54" stroke-width="1"><path transform="matrix(1.952 0.489 6.221 -1.113 0 0)" d="M1827.63 -517.92h1M1826.69 -515.83h1"/><path transform="matrix(2.072 0.519 6.270 -1.182 0 0)" d="M1695.08 -498.6h1M1675.66 -490.31h1M1690.87 -494.4h1M1617.89 -469.32h1M1658.56 -481.81h1M1705.48 -496.36h1"/><path transform="matrix(2.196 0.550 6.311 -1.252 0 0)" d="M1597.27 -484.07h1"/><path transform="matrix(2.331 0.584 6.346 -1.329 0 0)" d="M1522.4 -475.71h1M1522.57 -473.62h1"/></g>
<path stroke="#b54159" stroke-width="1.4" d="M322.9 1476.2l5 -.9M328.3 1477.6l5 -.9M333.8 1479l5 -.9M339.3 1480.3l5 -.9M350.4 1483.1l5 -.9M361.7 1486l5 -.9M367.4 1487.4l5 -.9M373.1 1488.8l5 -.9M378.8 1490.2l5 -.9M390.5 1493.2l5 -.9M426.2 1502.1l5 -1M432.3 1503.6l5 -1M438.4 1505.2l5 -1M444.6 1506.7l5 -1M457.1 1509.8l5 -1M463.4 1511.4l5.1 -1M469.7 1513l5.1 -1M476.1 1514.6l5.1 -1M482.5 1516.2l5.1 -1M489 1517.8l5.1 -1M495.5 1519.4l5.1 -1M502 1521.1l5.1 -1M508.6 1522.7l5.1 -1.1M515.3 1524.4l5.1 -1.1M521.9 1526.1l5.1 -1.1M535.5 1529.4l5.1 -1.1"/>
<g stroke="#1c44a0" stroke-width="1"><path transform="matrix(6.253 -1.119 0 1 0 0)" d="M51.1 1529v5.4M52.9 1517.2v21.9M55.5 1540.8v5.5M57.3 1540v11.1M58.2 1542.4v11.1"/><path transform="matrix(6.304 -1.188 0 1 0 0)" d="M59.6 1539.7v22.4M60.5 1559v5.6M61.5 1555.9v11.2M62.4 1535.8v33.9M63.3 1481v91.3M64.3 1460.2v114.8M65.2 1485.7v91.9M66.2 1551.6v28.6"/><path transform="matrix(6.346 -1.259 0 1 0 0)" d="M67.7 1578.4v11.5M71.6 1595.2v5.8M75.6 1594.8v17.7"/><path transform="matrix(6.382 -1.337 0 1 0 0)" d="M77.2 1606v17.8M78.2 1608.9v17.9M79.3 1617.9v11.9M80.3 1614.9v18M84.5 1621.1v24.3"/></g>
<g stroke="#2e64d0" stroke-width="1"><path transform="matrix(1.950 0.491 0 1 0 0)" d="M161.9 1392.5v5.4M167.4 1376.1v21.9M176 1392.5v5.5M181.7 1386.9v11.1M184.6 1386.8v11.1"/><path transform="matrix(2.070 0.522 0 1 0 0)" d="M179.5 1375.6v22.4M182.3 1392.4v5.6M185.1 1386.7v11.2M187.9 1364v33.9M190.7 1306.6v91.3M193.6 1283.2v114.8M196.5 1306.1v91.9M199.4 1369.3v28.6"/><path transform="matrix(2.194 0.553 0 1 0 0)" d="M193.7 1386.5v11.5M205 1392.1v5.8M216.6 1380.2v17.7"/><path transform="matrix(2.330 0.587 0 1 0 0)" d="M209.6 1380.1v17.8M212.4 1380.1v17.9M215.2 1386v11.9M218.1 1379.9v18M229.7 1373.6v24.3"/></g>
<g stroke="#4a7ee0" stroke-width="1"><path transform="matrix(1.950 0.491 6.253 -1.119 0 0)" d="M1818.24 -516.26h1M1804.23 -510.17h1M1832.24 -516.23h1M1831.36 -514.16h1M1834.23 -514.15h1"/><path transform="matrix(2.070 0.522 6.304 -1.188 0 0)" d="M1687.74 -495h1M1708.96 -501.04h1M1705.57 -499.01h1M1683.51 -490.84h1M1623.4 -470.17h1M1600.54 -461.71h1M1628.56 -469.96h1M1700.86 -492.75h1"/><path transform="matrix(2.194 0.553 6.346 -1.259 0 0)" d="M1596.24 -484.62h1M1613.26 -486.61h1M1612.83 -482.45h1"/><path transform="matrix(2.330 0.587 6.382 -1.337 0 0)" d="M1492.93 -468.18h1M1495.69 -468.16h1M1504.01 -470.17h1M1501.25 -468.12h1M1506.98 -465.96h1"/></g>
<path stroke="#4d7bd7" stroke-width="1.4" d="M321.8 1478.8l5 -.9M332.7 1481.5l5 -.9M338.3 1482.9l5 -.9M349.5 1485.7l5 -.9M366.5 1490l5 -.9M419.6 1503.4l5.1 -1M431.8 1506.5l5.1 -1M438 1508l5.1 -1M444.2 1509.6l5.1 -1M456.7 1512.7l5.1 -1M463 1514.3l5.1 -1M469.4 1515.9l5.1 -1M482.3 1519.2l5.1 -1M515.2 1527.5l5.1 -1.1M522 1529.2l5.1 -1.1M528.7 1530.9l5.1 -1.1"/>
<g stroke="#b05a10" stroke-width="1"><path transform="matrix(6.286 -1.125 0 1 0 0)" d="M49.8 1523.5v10.9"/><path transform="matrix(6.338 -1.194 0 1 0 0)" d="M58.3 1556.4v5.6M60.1 1555.9v11.3M62.9 1563.6v11.4M63.8 1526v51.6M64.8 1476.2v104.1M65.7 1513.6v69.3"/><path transform="matrix(6.381 -1.266 0 1 0 0)" d="M66.2 1555.2v34.7M68.2 1589.6v5.8M69.1 1592.4v5.8M70.1 1583.5v17.5"/><path transform="matrix(6.418 -1.344 0 1 0 0)" d="M75.7 1599.9v23.8M77.8 1605.9v24M83 1627.1v18.2"/></g>
<g stroke="#e8781e" stroke-width="1"><path transform="matrix(1.948 0.494 0 1 0 0)" d="M158.6 1389.4v10.9"/><path transform="matrix(2.068 0.524 0 1 0 0)" d="M176.5 1394.7v5.6M182 1389v11.3M190.6 1388.9v11.4M193.5 1348.7v51.6M196.4 1296.2v104.1M199.3 1330.9v69.3"/><path transform="matrix(2.193 0.556 0 1 0 0)" d="M190.8 1365.6v34.7M196.4 1394.5v5.8M199.2 1394.5v5.8M202.1 1382.7v17.5"/><path transform="matrix(2.328 0.590 0 1 0 0)" d="M206.8 1376.4v23.8M212.5 1376.3v24M226.9 1382v18.2"/></g>
<g stroke="#f09040" stroke-width="1"><path transform="matrix(1.948 0.494 6.286 -1.125 0 0)" d="M1806.99 -510.55h1"/><path transform="matrix(2.068 0.524 6.338 -1.194 0 0)" d="M1701.57 -497.4h1M1700.96 -495.37h1M1709.38 -495.34h1M1668.28 -480.98h1M1613.76 -462.23h1M1654.69 -474.63h1"/><path transform="matrix(2.193 0.556 6.381 -1.266 0 0)" d="M1568.45 -473.03h1M1603.16 -483.04h1M1605.97 -483.04h1M1597.02 -478.97h1"/><path transform="matrix(2.328 0.590 6.418 -1.344 0 0)" d="M1483.1 -462.68h1M1488.59 -462.62h1M1508.31 -464.54h1"/></g>
<path stroke="#eb8c40" stroke-width="1.4" d="M315.2 1479.9l5 -.9M320.6 1481.3l5 -.9M326.1 1482.7l5 -.9M331.7 1484.1l5 -.9M337.2 1485.5l5 -.9M342.8 1486.9l5 -.9M348.5 1488.3l5 -.9M354.1 1489.8l5 -.9M359.8 1491.2l5 -.9M371.4 1494.1l5.1 -.9M383 1497.1l5.1 -.9M388.9 1498.6l5.1 -1M425.1 1507.8l5.1 -1M450 1514.1l5.1 -1M456.3 1515.7l5.1 -1M462.7 1517.3l5.1 -1M469.1 1518.9l5.1 -1M475.5 1520.5l5.1 -1M488.6 1523.9l5.1 -1.1M501.8 1527.2l5.1 -1.1M508.5 1528.9l5.1 -1.1M515.2 1530.6l5.1 -1.1M522 1532.3l5.1 -1.1"/>
<g stroke="#23849a" stroke-width="1"><path transform="matrix(6.319 -1.131 0 1 0 0)" d="M50.2 1528.1v11M51.1 1524.9v16.5M52 1521.7v22.1M52.9 1540.7v5.5"/><path transform="matrix(6.372 -1.201 0 1 0 0)" d="M56.9 1539.5v22.5M57.8 1547.6v16.9M62.4 1571.9v5.7M64.3 1548.3v34.6"/><path transform="matrix(6.416 -1.273 0 1 0 0)" d="M64.8 1514.2v75.6M65.8 1481.3v111.3M66.7 1572.1v23.3M69.7 1598v5.9"/><path transform="matrix(6.455 -1.352 0 1 0 0)" d="M73.2 1608.8v11.9M76.3 1617.8v12M80.4 1636.1v6.1"/></g>
<g stroke="#3ab0c8" stroke-width="1"><path transform="matrix(1.946 0.497 0 1 0 0)" d="M161 1391.7v11M163.8 1386.1v16.5M166.6 1380.6v22.1M169.5 1397.1v5.5"/><path transform="matrix(2.066 0.527 0 1 0 0)" d="M173.3 1380.1v22.5M176.2 1385.7v16.9M190.4 1396.9v5.7M196.2 1368v34.6"/><path transform="matrix(2.191 0.559 0 1 0 0)" d="M187.9 1327v75.6M190.8 1291.3v111.3M193.5 1379.3v23.3M202 1396.8v5.9"/><path transform="matrix(2.327 0.594 0 1 0 0)" d="M201.2 1390.7v11.9M209.7 1390.6v12M221.1 1396.5v6.1"/></g>
<g stroke="#58c4d8" stroke-width="1"><path transform="matrix(1.946 0.497 6.319 -1.131 0 0)" d="M1807.73 -506.83h1M1803.97 -504.81h1M1800.19 -502.78h1M1822.69 -508.81h1"/><path transform="matrix(2.066 0.527 6.372 -1.201 0 0)" d="M1678.51 -487.8h1M1687.41 -489.77h1M1713.86 -493.73h1M1688.14 -483.49h1"/><path transform="matrix(2.191 0.559 6.416 -1.273 0 0)" d="M1522.87 -455.48h1M1489.79 -443.22h1M1581.12 -473.47h1M1607.18 -479.45h1"/><path transform="matrix(2.327 0.594 6.455 -1.352 0 0)" d="M1487.07 -463.22h1M1495.39 -463.18h1M1512.35 -465.16h1"/></g>
<path stroke="#58bcd0" stroke-width="1.4" d="M303.1 1479.7l5 -.9M308.5 1481.1l5 -.9M336.2 1488.1l5.1 -.9M341.8 1489.6l5.1 -.9M347.5 1491l5.1 -.9M353.2 1492.5l5.1 -.9M370.5 1496.9l5.1 -.9M376.3 1498.4l5.1 -1M382.2 1499.9l5.1 -1M388.2 1501.4l5.1 -1M400.1 1504.4l5.1 -1M430.7 1512.2l5.1 -1M436.9 1513.8l5.1 -1M449.6 1517l5.1 -1M455.9 1518.7l5.1 -1M462.3 1520.3l5.1 -1M475.3 1523.6l5.2 -1.1M481.8 1525.3l5.2 -1.1M495 1528.6l5.2 -1.1M501.7 1530.3l5.2 -1.1M508.4 1532l5.2 -1.1M522 1535.5l5.2 -1.1"/>
<g stroke="#3c2090" stroke-width="1"><path transform="matrix(6.352 -1.137 0 1 0 0)" d="M47.2 1523.4v10.9M48.1 1520.2v16.5"/><path transform="matrix(6.452 -1.280 0 1 0 0)" d="M64.4 1575.1v17.4M65.3 1548.6v46.8M66.3 1539.4v58.7M67.3 1571.6v29.4M68.2 1592.1v11.8"/><path transform="matrix(6.492 -1.360 0 1 0 0)" d="M72.8 1611.7v12M74.8 1605.7v24.1M75.8 1626.8v6M78.9 1624v18.3"/></g>
<g stroke="#5a32c0" stroke-width="1"><path transform="matrix(1.944 0.499 0 1 0 0)" d="M152.1 1394.1v10.9M154.9 1388.6v16.5"/><path transform="matrix(2.189 0.562 0 1 0 0)" d="M187.7 1387.6v17.4M190.6 1358.2v46.8M193.4 1346.2v58.7M196.2 1375.6v29.4M199.1 1393.2v11.8"/><path transform="matrix(2.325 0.597 0 1 0 0)" d="M201.2 1393v12M206.9 1380.9v24.1M209.7 1399v6M218.4 1386.7v18.3"/></g>
<g stroke="#7050d0" stroke-width="1"><path transform="matrix(1.944 0.499 6.352 -1.137 0 0)" d="M1797.44 -503.17h1M1793.69 -501.18h1"/><path transform="matrix(2.189 0.562 6.452 -1.280 0 0)" d="M1579.77 -471.96h1M1553.13 -461.96h1M1543.97 -457.88h1M1576.28 -467.89h1M1596.81 -473.89h1"/><path transform="matrix(2.325 0.597 6.492 -1.360 0 0)" d="M1485.51 -459.73h1M1479.97 -455.71h1M1499.44 -461.69h1M1496.81 -457.63h1"/></g>
<path stroke="#7351c9" stroke-width="1.4" d="M307.3 1483.6l5.1 -.9M312.8 1485l5.1 -.9M318.3 1486.5l5.1 -.9M323.9 1487.9l5.1 -.9M329.5 1489.3l5.1 -.9M335.1 1490.8l5.1 -.9M340.8 1492.2l5.1 -.9M346.5 1493.7l5.1 -.9M352.2 1495.2l5.1 -.9M358 1496.6l5.1 -.9M363.8 1498.1l5.1 -1M369.6 1499.6l5.1 -1M375.5 1501.1l5.1 -1M381.4 1502.6l5.1 -1M387.4 1504.2l5.1 -1M393.4 1505.7l5.1 -1M399.4 1507.3l5.1 -1M405.5 1508.8l5.1 -1M442.8 1518.4l5.2 -1M449.1 1520l5.2 -1M455.5 1521.7l5.2 -1.1M462 1523.3l5.2 -1.1M475 1526.7l5.2 -1.1M494.9 1531.8l5.2 -1.1M501.6 1533.5l5.2 -1.1M515.1 1537l5.2 -1.1"/>
<g stroke="#4a8a14" stroke-width="1"><path transform="matrix(6.385 -1.143 0 1 0 0)" d="M51.9 1528.7v22.4"/><path transform="matrix(6.441 -1.214 0 1 0 0)" d="M55.1 1547.5v17M56 1550.1v17.1M56.9 1558.3v11.4M57.8 1555.2v17.2M59.6 1566.1v11.5"/><path transform="matrix(6.488 -1.287 0 1 0 0)" d="M63 1586.7v5.8M65.8 1577.5v23.5M66.8 1574.3v29.5M67.8 1529.3v77.5M68.7 1597.8v11.9"/><path transform="matrix(6.529 -1.368 0 1 0 0)" d="M72.3 1602.6v24.1M74.3 1626.8v6M75.3 1617.8v18.2"/></g>
<g stroke="#80c820" stroke-width="1"><path transform="matrix(1.942 0.502 0 1 0 0)" d="M168.7 1385v22.4"/><path transform="matrix(2.062 0.533 0 1 0 0)" d="M170 1390.4v17M172.8 1390.4v17.1M175.6 1396v11.4M178.4 1390.3v17.2M184.2 1395.9v11.5"/><path transform="matrix(2.187 0.565 0 1 0 0)" d="M184.8 1401.6v5.8M193.3 1383.9v23.5M196.2 1377.8v29.5M199.1 1329.9v77.5M201.9 1395.5v11.9"/><path transform="matrix(2.324 0.601 0 1 0 0)" d="M201.2 1383.3v24.1M206.9 1401.4v6M209.8 1389.1v18.2"/></g>
<g stroke="#98d840" stroke-width="1"><path transform="matrix(1.942 0.502 6.385 -1.143 0 0)" d="M1799.03 -495.41h1"/><path transform="matrix(2.062 0.533 6.441 -1.214 0 0)" d="M1678.18 -482.59h1M1680.93 -482.57h1M1689.9 -484.53h1M1686.49 -482.53h1M1698.38 -484.49h1"/><path transform="matrix(2.187 0.565 6.488 -1.287 0 0)" d="M1586.98 -472.38h1M1577.73 -466.39h1M1574.59 -464.37h1M1529.56 -448.18h1M1598.06 -470.33h1"/><path transform="matrix(2.324 0.601 6.529 -1.368 0 0)" d="M1472.9 -452.3h1M1495.13 -458.21h1M1486.82 -454.22h1"/></g>
<path stroke="#93d041" stroke-width="1.4" d="M289.8 1482l5.1 -.9M295.2 1483.4l5.1 -.9M300.6 1484.8l5.1 -.9M306.1 1486.2l5.1 -.9M311.6 1487.7l5.1 -.9M317.2 1489.1l5.1 -.9M322.8 1490.5l5.1 -.9M334 1493.4l5.1 -.9M339.7 1494.9l5.1 -.9M345.4 1496.4l5.1 -.9M374.6 1503.9l5.2 -1M386.6 1507l5.2 -1M392.6 1508.6l5.2 -1M398.7 1510.1l5.2 -1M410.9 1513.3l5.2 -1M417.1 1514.9l5.2 -1M448.7 1523.1l5.2 -1.1M455.1 1524.7l5.2 -1.1M461.6 1526.4l5.2 -1.1M474.7 1529.8l5.2 -1.1M494.7 1534.9l5.2 -1.1M501.4 1536.7l5.2 -1.1M508.2 1538.4l5.2 -1.1"/>
<g stroke="#7a1a2e" stroke-width="1"><path transform="matrix(6.419 -1.149 0 1 0 0)" d="M48 1527.1v16.7M48.9 1523.9v22.3M50.6 1528.7v22.5"/><path transform="matrix(6.476 -1.220 0 1 0 0)" d="M54.6 1555.7v11.4M57.3 1552v23M58.3 1566.1v11.5"/><path transform="matrix(6.524 -1.294 0 1 0 0)" d="M60.6 1566.4v23.3M62.5 1577.7v17.6M63.4 1580.5v17.6M66.3 1594.9v11.9M67.3 1561.9v47.8M68.3 1582.7v29.9"/><path transform="matrix(6.567 -1.376 0 1 0 0)" d="M68.9 1596.6v24M71.8 1605.6v24.2M74.9 1633v6.1M76.9 1633.2v12.3"/></g>
<g stroke="#a8203c" stroke-width="1"><path transform="matrix(1.939 0.504 0 1 0 0)" d="M156.8 1393.2v16.7M159.6 1387.6v22.3M165.4 1387.4v22.5"/><path transform="matrix(2.060 0.536 0 1 0 0)" d="M169.6 1398.5v11.4M178.2 1386.8v23M181.1 1398.3v11.5"/><path transform="matrix(2.185 0.568 0 1 0 0)" d="M179 1386.5v23.3M184.6 1392.3v17.6M187.4 1392.2v17.6M196 1398v11.9M199 1362v47.8M201.9 1379.9v29.9"/><path transform="matrix(2.322 0.604 0 1 0 0)" d="M192.8 1385.8v24M201.2 1385.6v24.2M209.8 1403.7v6.1M215.6 1397.5v12.3"/></g>
<g stroke="#bc3a54" stroke-width="1"><path transform="matrix(1.939 0.504 6.419 -1.149 0 0)" d="M1792.43 -493.83h1M1788.64 -491.83h1M1794.25 -491.78h1"/><path transform="matrix(2.060 0.536 6.476 -1.220 0 0)" d="M1682.5 -480.96h1M1678.44 -476.96h1M1693.77 -480.91h1"/><path transform="matrix(2.185 0.568 6.524 -1.294 0 0)" d="M1562.28 -463h1M1573.6 -464.92h1M1576.37 -464.9h1M1590.73 -466.83h1M1557.8 -454.8h1M1578.56 -460.79h1"/><path transform="matrix(2.322 0.604 6.567 -1.376 0 0)" d="M1463.13 -448.93h1M1471.35 -448.85h1M1496.53 -454.73h1M1496.69 -452.72h1"/></g>
<path stroke="#b54159" stroke-width="1.4" d="M283.1 1483.2l5.1 -.9M288.5 1484.6l5.1 -.9M293.9 1486l5.1 -.9M299.4 1487.4l5.1 -.9M316 1491.8l5.1 -.9M327.3 1494.7l5.2 -.9M332.9 1496.2l5.2 -.9M338.7 1497.6l5.2 -1M344.4 1499.1l5.2 -1M356 1502.2l5.2 -1M361.9 1503.7l5.2 -1M379.7 1508.3l5.2 -1M385.8 1509.9l5.2 -1M397.9 1513.1l5.2 -1M416.5 1517.9l5.2 -1M422.7 1519.5l5.2 -1M454.7 1527.8l5.2 -1.1M461.2 1529.5l5.2 -1.1M474.4 1532.9l5.3 -1.1M481.1 1534.7l5.3 -1.1M494.5 1538.2l5.3 -1.1"/>
<g stroke="#1c44a0" stroke-width="1"><path transform="matrix(6.453 -1.155 0 1 0 0)" d="M43.3 1523.2v11M44.2 1520v16.6M45.9 1524.7v16.7M47.6 1523.9v22.4M48.4 1531.9v16.8M49.3 1528.6v22.5"/><path transform="matrix(6.511 -1.227 0 1 0 0)" d="M56 1557.7v17.3M57.8 1568.8v11.6M58.7 1577.3v5.8"/><path transform="matrix(6.561 -1.302 0 1 0 0)" d="M62 1586.4v11.8M63.9 1592v11.9"/><path transform="matrix(6.605 -1.384 0 1 0 0)" d="M67.4 1602.5v18M68.4 1599.5v24.1M69.4 1614.6v12.1M72.4 1617.7v18.3M73.4 1620.8v18.4M75.4 1639.4v6.2"/></g>
<g stroke="#2e64d0" stroke-width="1"><path transform="matrix(1.937 0.507 0 1 0 0)" d="M142.2 1401.3v11M145 1395.8v16.6M150.6 1395.7v16.7M156.3 1390v22.4M159.2 1395.5v16.8M162.1 1389.8v22.5"/><path transform="matrix(2.058 0.539 0 1 0 0)" d="M175 1395v17.3M180.8 1400.7v11.6M183.8 1406.5v5.8"/><path transform="matrix(2.183 0.572 0 1 0 0)" d="M184.4 1400.5v11.8M190.2 1400.5v11.9"/><path transform="matrix(2.321 0.608 0 1 0 0)" d="M189.9 1394.3v18M192.7 1388.2v24.1M195.5 1400.2v12.1M204.1 1394v18.3M207 1393.9v18.4M212.7 1406.1v6.2"/></g>
<g stroke="#4a7ee0" stroke-width="1"><path transform="matrix(1.937 0.507 6.453 -1.155 0 0)" d="M1783.12 -492.21h1M1779.36 -490.26h1M1784.87 -490.22h1M1783.87 -488.22h1M1793.26 -490.16h1M1789.48 -488.17h1"/><path transform="matrix(2.058 0.539 6.511 -1.227 0 0)" d="M1680.07 -475.38h1M1692.02 -477.32h1M1701.19 -479.29h1"/><path transform="matrix(2.183 0.572 6.561 -1.302 0 0)" d="M1577.78 -463.36h1M1583.42 -463.33h1"/><path transform="matrix(2.321 0.608 6.605 -1.384 0 0)" d="M1464.33 -447.45h1M1461.54 -445.49h1M1475.35 -449.36h1M1478.19 -447.35h1M1481.03 -447.33h1M1498.01 -451.26h1"/></g>
<path stroke="#4d7bd7" stroke-width="1.4" d="M287.1 1487.2l5.1 -.9M298.1 1490.1l5.2 -.9M320.4 1495.9l5.2 -.9M326.1 1497.4l5.2 -.9M331.8 1498.9l5.2 -1M337.6 1500.4l5.2 -1M343.4 1501.9l5.2 -1M349.2 1503.4l5.2 -1M355.1 1505l5.2 -1M366.9 1508.1l5.2 -1M384.9 1512.8l5.2 -1M391 1514.4l5.2 -1M397.2 1516l5.2 -1M409.6 1519.2l5.2 -1M422.1 1522.5l5.3 -1.1M428.5 1524.2l5.3 -1.1M434.9 1525.9l5.3 -1.1M460.9 1532.7l5.3 -1.1M467.5 1534.4l5.3 -1.1M487.6 1539.6l5.3 -1.1"/>
<g stroke="#b05a10" stroke-width="1"><path transform="matrix(6.487 -1.161 0 1 0 0)" d="M42 1512.1v22.1M45.4 1538.3v5.6M48.9 1531v22.7"/><path transform="matrix(6.547 -1.234 0 1 0 0)" d="M51.1 1541.6v22.9M52.8 1558.2v11.5M55.5 1566.1v11.6"/><path transform="matrix(6.598 -1.309 0 1 0 0)" d="M57.9 1572.1v17.6"/><path transform="matrix(6.643 -1.392 0 1 0 0)" d="M69.9 1626.8v6.1M71.9 1633v6.1M73.9 1633.2v12.4"/></g>
<g stroke="#e8781e" stroke-width="1"><path transform="matrix(1.935 0.510 0 1 0 0)" d="M138.8 1392.8v22.1M150.2 1409.3v5.6M161.6 1392.2v22.7"/><path transform="matrix(2.056 0.542 0 1 0 0)" d="M160.5 1392v22.9M166.2 1403.4v11.5M174.8 1403.2v11.6"/><path transform="matrix(2.181 0.575 0 1 0 0)" d="M173 1397.3v17.6"/><path transform="matrix(2.319 0.611 0 1 0 0)" d="M198.3 1408.7v6.1M204 1408.7v6.1M209.9 1402.4v12.4"/></g>
<g stroke="#f09040" stroke-width="1"><path transform="matrix(1.935 0.510 6.487 -1.161 0 0)" d="M1765.37 -484.73h1M1795.98 -490.47h1M1787.53 -484.54h1"/><path transform="matrix(2.056 0.542 6.547 -1.234 0 0)" d="M1658.16 -469.98h1M1676.06 -473.81h1M1684.54 -473.77h1"/><path transform="matrix(2.181 0.575 6.598 -1.309 0 0)" d="M1559.18 -457.98h1"/><path transform="matrix(2.319 0.611 6.643 -1.392 0 0)" d="M1482.19 -447.85h1M1487.91 -447.84h1M1488.07 -445.85h1"/></g>
<path stroke="#eb8c40" stroke-width="1.4" d="M274.9 1487l5.2 -.9M280.3 1488.4l5.2 -.9M285.8 1489.8l5.2 -.9M296.8 1492.7l5.2 -.9M302.4 1494.2l5.2 -.9M308 1495.7l5.2 -.9M319.3 1498.7l5.2 -1M325 1500.2l5.2 -1M336.5 1503.2l5.2 -1M348.2 1506.3l5.2 -1M354.1 1507.8l5.2 -1M366 1511l5.3 -1M372 1512.5l5.3 -1M384.1 1515.7l5.3 -1M390.3 1517.4l5.3 -1M396.4 1519l5.3 -1M402.6 1520.6l5.3 -1M408.9 1522.3l5.3 -1.1M415.2 1523.9l5.3 -1.1M421.5 1525.6l5.3 -1.1M427.9 1527.3l5.3 -1.1M434.3 1529l5.3 -1.1M440.8 1530.7l5.3 -1.1M447.3 1532.4l5.3 -1.1M453.9 1534.1l5.3 -1.1M467.1 1537.6l5.3 -1.1M480.6 1541.1l5.3 -1.1"/>
<g stroke="#23849a" stroke-width="1"><path transform="matrix(6.522 -1.167 0 1 0 0)" d="M44.1 1521.4v22.4M45.8 1531.8v16.9"/><path transform="matrix(6.582 -1.240 0 1 0 0)" d="M49.7 1553v11.4M52.4 1566.6v5.8"/><path transform="matrix(6.635 -1.316 0 1 0 0)" d="M61.1 1597.9v6M62.1 1582.9v23.9M63 1591.7v18"/><path transform="matrix(6.682 -1.400 0 1 0 0)" d="M64.5 1608.4v12.1M66.5 1620.5v6.1M68.5 1614.5v18.4M72.5 1627v18.6"/></g>
<g stroke="#3ab0c8" stroke-width="1"><path transform="matrix(1.932 0.512 0 1 0 0)" d="M146.7 1395v22.4M152.5 1400.5v16.9"/><path transform="matrix(2.054 0.545 0 1 0 0)" d="M157.3 1405.9v11.4M165.8 1411.6v5.8"/><path transform="matrix(2.179 0.578 0 1 0 0)" d="M184.1 1411.4v6M187 1393.4v23.9M189.9 1399.4v18"/><path transform="matrix(2.317 0.615 0 1 0 0)" d="M184.2 1405.3v12.1M189.7 1411.3v6.1M195.4 1399v18.4M207 1398.7v18.6"/></g>
<g stroke="#58c4d8" stroke-width="1"><path transform="matrix(1.932 0.512 6.522 -1.167 0 0)" d="M1771.54 -481.04h1M1783.71 -482.94h1"/><path transform="matrix(2.054 0.545 6.582 -1.240 0 0)" d="M1665.88 -470.29h1M1680.46 -472.18h1"/><path transform="matrix(2.179 0.578 6.635 -1.316 0 0)" d="M1580.39 -458.3h1M1565.47 -452.45h1M1574.26 -454.38h1"/><path transform="matrix(2.317 0.615 6.682 -1.400 0 0)" d="M1461.2 -442.54h1M1472.25 -444.44h1M1466.76 -440.56h1M1478.12 -440.47h1"/></g>
<path stroke="#58bcd0" stroke-width="1.4" d="M262.7 1486.8l5.2 -.9M268.1 1488.2l5.2 -.9M273.5 1489.6l5.2 -.9M278.9 1491.1l5.2 -.9M289.9 1494l5.2 -.9M301.1 1496.9l5.2 -.9M306.7 1498.4l5.2 -1M312.4 1499.9l5.2 -1M318.1 1501.4l5.2 -1M329.6 1504.5l5.3 -1M335.4 1506l5.3 -1M347.1 1509.1l5.3 -1M353.1 1510.7l5.3 -1M359 1512.3l5.3 -1M365 1513.9l5.3 -1M371.1 1515.5l5.3 -1M377.2 1517.1l5.3 -1M383.3 1518.7l5.3 -1M389.4 1520.4l5.3 -1M395.7 1522l5.3 -1.1M420.9 1528.7l5.3 -1.1M433.8 1532.1l5.3 -1.1M446.8 1535.6l5.3 -1.1M460.1 1539.1l5.3 -1.1M466.8 1540.9l5.4 -1.1M473.5 1542.6l5.4 -1.1"/>
<g stroke="#3c2090" stroke-width="1"><path transform="matrix(6.556 -1.173 0 1 0 0)" d="M39.5 1523v11.1M40.4 1531v5.6M42.9 1538.2v5.6M45.4 1545.6v5.7M46.3 1542.4v11.4M47.1 1533.4v22.8"/><path transform="matrix(6.619 -1.247 0 1 0 0)" d="M49.3 1549.7v17.3M51 1560.8v11.6"/><path transform="matrix(6.673 -1.324 0 1 0 0)" d="M56 1574.7v17.7M56.9 1571.5v23.7M59.7 1592v12M60.7 1594.8v12M61.6 1549.3v60.5M62.6 1594.6v18.1"/><path transform="matrix(6.721 -1.408 0 1 0 0)" d="M63.1 1590.1v30.3M64.1 1599.2v24.3M65 1602.2v24.4"/></g>
<g stroke="#5a32c0" stroke-width="1"><path transform="matrix(1.930 0.515 0 1 0 0)" d="M132.2 1408.9v11.1M135 1414.4v5.6M143.4 1414.3v5.6M152.1 1414.3v5.7M154.9 1408.6v11.4M157.8 1397.2v22.8"/><path transform="matrix(2.051 0.548 0 1 0 0)" d="M156.9 1402.7v17.3M162.6 1408.4v11.6"/><path transform="matrix(2.177 0.581 0 1 0 0)" d="M169.7 1402.2v17.7M172.5 1396.2v23.7M181 1408v12M183.9 1407.9v12M186.8 1359.5v60.5M189.8 1401.8v18.1"/><path transform="matrix(2.315 0.618 0 1 0 0)" d="M181.3 1389.6v30.3M184.1 1395.6v24.3M186.9 1395.5v24.4"/></g>
<g stroke="#7050d0" stroke-width="1"><path transform="matrix(1.930 0.515 6.556 -1.173 0 0)" d="M1768.79 -481.35h1M1778.03 -483.24h1M1786.43 -483.22h1M1794.99 -483.2h1M1791.25 -481.25h1M1780.83 -477.34h1"/><path transform="matrix(2.051 0.548 6.619 -1.247 0 0)" d="M1657.86 -464.83h1M1669.64 -466.72h1"/><path transform="matrix(2.177 0.581 6.673 -1.324 0 0)" d="M1552.99 -451.04h1M1549.88 -449.11h1M1570.03 -452.89h1M1572.88 -452.88h1M1527.94 -437.26h1M1572.66 -450.9h1"/><path transform="matrix(2.315 0.618 6.721 -1.408 0 0)" d="M1440.38 -433.45h1M1448.61 -435.32h1M1451.34 -435.29h1"/></g>
<path stroke="#7351c9" stroke-width="1.4" d="M266.6 1490.8l5.2 -.9M272.1 1492.3l5.2 -.9M283 1495.2l5.2 -.9M288.6 1496.7l5.3 -.9M311.1 1502.7l5.3 -1M316.9 1504.2l5.3 -1M328.4 1507.3l5.3 -1M340.2 1510.5l5.3 -1M346.1 1512l5.3 -1M352 1513.6l5.3 -1M358 1515.2l5.3 -1M364.1 1516.8l5.3 -1M382.4 1521.7l5.3 -1.1M388.6 1523.4l5.3 -1.1M439.8 1537l5.4 -1.1M446.4 1538.8l5.4 -1.1M453 1540.6l5.4 -1.1M459.7 1542.4l5.4 -1.1M466.4 1544.1l5.4 -1.1M473.2 1546l5.4 -1.2"/>
<g stroke="#4a8a14" stroke-width="1"><path transform="matrix(6.591 -1.180 0 1 0 0)" d="M44.1 1534.2v17.1M45 1542.4v11.4"/><path transform="matrix(6.655 -1.254 0 1 0 0)" d="M46.2 1538.8v23M47.1 1552.9v11.5M48 1561.3v5.8M50.6 1569.2v5.8M51.5 1566v11.7M52.4 1545.2v35.3M53.3 1553.7v29.5"/><path transform="matrix(6.711 -1.331 0 1 0 0)" d="M53.7 1536.2v53.3M54.6 1544.8v47.5M55.6 1535.5v59.7M56.5 1562.3v35.8M57.4 1577.1v23.9M59.3 1588.8v18M60.2 1603.8v6"/><path transform="matrix(6.760 -1.416 0 1 0 0)" d="M67.5 1614.4v24.8M68.5 1623.8v18.6M69.5 1627v18.7"/></g>
<g stroke="#80c820" stroke-width="1"><path transform="matrix(1.927 0.518 0 1 0 0)" d="M148.6 1405.5v17.1M151.5 1411.2v11.4"/><path transform="matrix(2.049 0.551 0 1 0 0)" d="M148 1399.6v23M150.9 1411.1v11.5M153.7 1416.8v5.8M162.3 1416.7v5.8M165.1 1410.9v11.7M168 1387.3v35.3M170.9 1393.1v29.5"/><path transform="matrix(2.175 0.585 0 1 0 0)" d="M163.7 1369.3v53.3M166.5 1375.1v47.5M169.3 1362.9v59.7M172.2 1386.8v35.8M175.1 1398.6v23.9M180.9 1404.5v18M183.8 1416.5v6"/><path transform="matrix(2.313 0.622 0 1 0 0)" d="M195.4 1397.7v24.8M198.3 1403.9v18.6M201.2 1403.8v18.7"/></g>
<g stroke="#98d840" stroke-width="1"><path transform="matrix(1.927 0.518 6.591 -1.180 0 0)" d="M1776.99 -475.75h1M1786.48 -477.66h1"/><path transform="matrix(2.049 0.551 6.655 -1.254 0 0)" d="M1641.6 -459.47h1M1656.65 -463.23h1M1665.6 -465.11h1M1674.08 -465.09h1M1670.69 -463.17h1M1648.4 -455.43h1M1657.53 -457.34h1"/><path transform="matrix(2.175 0.585 6.711 -1.331 0 0)" d="M1510.71 -436.27h1M1519.22 -438.11h1M1510.07 -434.24h1M1536.39 -441.84h1M1550.94 -445.63h1M1562.48 -447.5h1M1577.22 -451.33h1"/><path transform="matrix(2.313 0.622 6.760 -1.416 0 0)" d="M1458.17 -431.82h1M1466.63 -433.73h1M1469.5 -433.71h1"/></g>
<path stroke="#93d041" stroke-width="1.4" d="M248.9 1489.2l5.2 -.9M254.3 1490.6l5.3 -.9M259.7 1492l5.3 -.9M265.1 1493.5l5.3 -.9M270.6 1495l5.3 -.9M276.1 1496.5l5.3 -.9M281.6 1497.9l5.3 -1M298.5 1502.5l5.3 -1M321.5 1508.6l5.3 -1M327.3 1510.2l5.3 -1M387.8 1526.5l5.4 -1.1M406.8 1531.6l5.4 -1.1M413.2 1533.3l5.4 -1.1M419.6 1535l5.4 -1.1M426.1 1536.8l5.4 -1.1M432.7 1538.5l5.4 -1.1M439.3 1540.3l5.4 -1.1M445.9 1542.1l5.4 -1.1"/>
<g stroke="#7a1a2e" stroke-width="1"><path transform="matrix(6.627 -1.186 0 1 0 0)" d="M37.8 1525.3v11.2M43.6 1525.1v28.6M44.5 1533.3v23"/><path transform="matrix(6.692 -1.261 0 1 0 0)" d="M44.8 1492.2v69.4M45.7 1494.6v69.7M46.6 1502.9v64M47.5 1511.2v58.3M48.3 1484.2v88.1M49.2 1539.9v35.1M50.1 1548.4v29.3M51 1551v29.4"/><path transform="matrix(6.749 -1.339 0 1 0 0)" d="M55.1 1592.1v6"/><path transform="matrix(6.800 -1.424 0 1 0 0)" d="M61.2 1599v24.5M66.1 1626.8v12.4M67.1 1630v12.5"/></g>
<g stroke="#a8203c" stroke-width="1"><path transform="matrix(1.924 0.521 0 1 0 0)" d="M128.1 1414v11.2M148 1396.7v28.6M151 1402.3v23"/><path transform="matrix(2.046 0.554 0 1 0 0)" d="M144.5 1356v69.4M147.3 1355.7v69.7M150.2 1361.4v64M153 1367v58.3M155.8 1337.3v88.1M158.9 1390.1v35.1M161.8 1395.9v29.3M164.7 1395.8v29.4"/><path transform="matrix(2.173 0.588 0 1 0 0)" d="M169.2 1419.2v6"/><path transform="matrix(2.312 0.625 0 1 0 0)" d="M178.2 1400.7v24.5M192.4 1412.8v12.4M195.3 1412.7v12.5"/></g>
<g stroke="#bc3a54" stroke-width="1"><path transform="matrix(1.924 0.521 6.627 -1.186 0 0)" d="M1761.99 -474.17h1M1761.78 -468.33h1M1771.28 -470.22h1"/><path transform="matrix(2.046 0.554 6.692 -1.261 0 0)" d="M1587.48 -440.93h1M1590.05 -440.86h1M1598.88 -442.68h1M1607.77 -444.52h1M1578.93 -434.87h1M1638.23 -452.05h1M1647.28 -453.93h1M1650.09 -453.9h1"/><path transform="matrix(2.173 0.588 6.749 -1.339 0 0)" d="M1561.33 -447.9h1"/><path transform="matrix(2.312 0.625 6.800 -1.424 0 0)" d="M1439.99 -428.61h1M1465.07 -432.29h1M1467.93 -432.28h1"/></g>
<path stroke="#b54159" stroke-width="1.4" d="M242 1490.4l5.3 -.9M252.7 1493.3l5.3 -.9M258.2 1494.7l5.3 -.9M263.6 1496.2l5.3 -.9M269.1 1497.7l5.3 -1M274.7 1499.2l5.3 -1M280.2 1500.7l5.3 -1M344 1517.9l5.4 -1M350 1519.6l5.4 -1M356 1521.2l5.4 -1M362.1 1522.9l5.4 -1.1M374.5 1526.2l5.4 -1.1M380.7 1527.9l5.4 -1.1M387 1529.6l5.4 -1.1M393.3 1531.3l5.4 -1.1M399.7 1533l5.4 -1.1M406.1 1534.7l5.4 -1.1M419 1538.2l5.4 -1.1M425.5 1540l5.4 -1.1M432.1 1541.8l5.4 -1.1M438.7 1543.6l5.4 -1.1M458.9 1549l5.5 -1.2"/>
<g stroke="#1c44a0" stroke-width="1"><path transform="matrix(6.662 -1.192 0 1 0 0)" d="M35.7 1506v28M36.5 1497v39.4M37.2 1465.1v73.6M38 1438.5v102.6M38.7 1382.3v161.1M39.6 1437v109M40.6 1479.9v68.8M41.4 1482.2v69M42.3 1501.9v51.8M43.2 1521.7v34.6"/><path transform="matrix(6.729 -1.268 0 1 0 0)" d="M43.6 1544.4v17.3M45.3 1543.7v23.2M48.8 1566v11.7M49.7 1556.9v23.6"/><path transform="matrix(6.787 -1.347 0 1 0 0)" d="M51.1 1565.7v23.7M52.9 1577.3v17.9M58.4 1594.6v18.3"/><path transform="matrix(6.840 -1.433 0 1 0 0)" d="M58.9 1602v18.3M59.8 1611.2v12.2M61.7 1617.4v12.3M64.6 1633v6.2M65.6 1630v12.5M66.6 1620.7v25.1"/></g>
<g stroke="#2e64d0" stroke-width="1"><path transform="matrix(1.922 0.524 0 1 0 0)" d="M121.7 1400v28M124.4 1388.7v39.4M126.9 1354.6v73.6M129.5 1325.7v102.6M131.9 1267.5v161.1M135.2 1319.3v109M138.4 1359.4v68.8M141.3 1359.2v69M144.4 1376.3v51.8M147.4 1393.4v34.6"/><path transform="matrix(2.044 0.557 0 1 0 0)" d="M141.5 1410.6v17.3M147.1 1404.7v23.2M158.6 1416.1v11.7M161.4 1404.3v23.6"/><path transform="matrix(2.171 0.591 0 1 0 0)" d="M157.6 1404.2v23.7M163.2 1410v17.9M180.5 1409.6v18.3"/><path transform="matrix(2.310 0.629 0 1 0 0)" d="M172.4 1409.5v18.3M175.2 1415.6v12.2M180.9 1415.5v12.3M189.4 1421.6v6.2M192.4 1415.4v12.5M195.3 1402.7v25.1"/></g>
<g stroke="#4a7ee0" stroke-width="1"><path transform="matrix(1.922 0.524 6.662 -1.192 0 0)" d="M1735.01 -465.04h1M1724.64 -461.28h1M1687.85 -449.94h1M1657.21 -440.35h1M1592.45 -420.98h1M1655.49 -438.21h1M1704.89 -451.54h1M1707.55 -451.46h1M1730.32 -457.15h1M1753.16 -462.85h1"/><path transform="matrix(2.044 0.557 6.729 -1.268 0 0)" d="M1638.53 -454.38h1M1637.82 -452.47h1M1661.46 -456.16h1M1651.77 -452.34h1"/><path transform="matrix(2.171 0.591 6.787 -1.347 0 0)" d="M1531.04 -438.91h1M1542.36 -440.73h1M1559.27 -440.61h1"/><path transform="matrix(2.310 0.629 6.840 -1.433 0 0)" d="M1438.46 -427.15h1M1446.71 -428.99h1M1452.27 -428.97h1M1466.35 -430.82h1M1463.62 -428.91h1M1455.23 -425.08h1"/></g>
<path stroke="#4d7bd7" stroke-width="1.4" d="M295.8 1508.1l5.4 -1M307.4 1511.3l5.4 -1M313.2 1512.9l5.4 -1M319 1514.5l5.4 -1M336.8 1519.3l5.4 -1M348.9 1522.6l5.4 -1.1M361.2 1525.9l5.4 -1.1M367.3 1527.6l5.4 -1.1M373.6 1529.3l5.4 -1.1M379.8 1531l5.4 -1.1M386.1 1532.7l5.4 -1.1M411.8 1539.7l5.5 -1.1M424.9 1543.3l5.5 -1.1M431.5 1545.1l5.5 -1.2"/>
<g stroke="#b05a10" stroke-width="1"><path transform="matrix(6.698 -1.199 0 1 0 0)" d="M34.1 1362.4v171.1M35.1 1422.4v113.7M36 1464.9v73.8M36.9 1490.1v51.1M37.8 1526.7v17M39.4 1537.4v11.4M40.2 1528.3v22.9"/><path transform="matrix(6.766 -1.275 0 1 0 0)" d="M42.4 1550.1v11.6M44 1549.5v17.5M45.7 1548.9v23.4M46.6 1557.4v17.6"/><path transform="matrix(6.826 -1.354 0 1 0 0)" d="M51.5 1589.2v6M57 1594.5v18.3"/><path transform="matrix(6.880 -1.441 0 1 0 0)" d="M57.5 1589.6v30.7M58.4 1567.9v55.5M59.4 1558.3v68.2M60.3 1536.2v93.5M61.3 1589.3v43.6M62.3 1478.1v158M63.3 1474.3v165M64.2 1522.2v120.4M65.2 1531.5v114.4"/></g>
<g stroke="#e8781e" stroke-width="1"><path transform="matrix(1.919 0.526 0 1 0 0)" d="M116.8 1260.4v171.1M120.2 1317.4v113.7M123.4 1357.1v73.8M126.4 1379.7v51.1M129.6 1413.6v17M135.3 1419.2v11.4M138.1 1407.7v22.9"/><path transform="matrix(2.041 0.560 0 1 0 0)" d="M138.3 1419.1v11.6M143.8 1413.2v17.5M149.5 1407.2v23.4M152.4 1413v17.6"/><path transform="matrix(2.168 0.595 0 1 0 0)" d="M160.1 1424.6v6M177.3 1412.3v18.3"/><path transform="matrix(2.307 0.633 0 1 0 0)" d="M169.4 1399.9v30.7M172.2 1375.1v55.5M175.1 1362.4v68.2M177.9 1337v93.5M180.7 1387v43.6M183.7 1272.5v158M186.7 1265.4v165M189.6 1310v120.4M192.5 1316v114.4"/></g>
<g stroke="#f09040" stroke-width="1"><path transform="matrix(1.919 0.526 6.698 -1.199 0 0)" d="M1565.24 -414.66h1M1634.24 -433.46h1M1683.07 -446.53h1M1712.06 -453.96h1M1754.23 -465.14h1M1766.43 -466.98h1M1756.05 -463.2h1"/><path transform="matrix(2.041 0.560 6.766 -1.275 0 0)" d="M1640.06 -452.75h1M1639.4 -450.87h1M1638.73 -448.96h1M1647.76 -450.81h1"/><path transform="matrix(2.168 0.595 6.826 -1.354 0 0)" d="M1549.6 -441.03h1M1554.81 -437.2h1"/><path transform="matrix(2.307 0.633 6.880 -1.441 0 0)" d="M1423.14 -420.12h1M1403.65 -412.65h1M1395.12 -408.84h1M1375.24 -401.22h1M1422.86 -416.24h1M1323.23 -381.82h1M1319.87 -379.71h1M1362.73 -393.11h1M1371.07 -394.92h1"/></g>
<path stroke="#eb8c40" stroke-width="1.4" d="M255.1 1500.2l5.4 -1M271.7 1504.8l5.4 -1M277.4 1506.3l5.4 -1M288.7 1509.5l5.4 -1M300.2 1512.6l5.4 -1M317.8 1517.4l5.4 -1M323.7 1519l5.4 -1M329.7 1520.7l5.4 -1M335.7 1522.3l5.4 -1.1M341.8 1524l5.4 -1.1M354 1527.3l5.5 -1.1M360.2 1529l5.5 -1.1M366.4 1530.7l5.5 -1.1M372.6 1532.5l5.5 -1.1M378.9 1534.2l5.5 -1.1"/>
<g stroke="#23849a" stroke-width="1"><path transform="matrix(6.734 -1.205 0 1 0 0)" d="M33.1 1431.5v102.2M33.8 1422.1v114M34.8 1476.1v62.5M35.6 1501.4v39.8M36.5 1509.5v34.2M37.3 1534.9v11.4M38.1 1531.6v17.2"/><path transform="matrix(6.804 -1.282 0 1 0 0)" d="M44.5 1560.6v11.7M46.2 1571.9v5.9"/><path transform="matrix(6.865 -1.362 0 1 0 0)" d="M48.4 1565.5v23.9M49.3 1568.3v24M51 1573.9v24.1M52 1582.9v18.1M55.6 1582.2v30.6"/><path transform="matrix(6.921 -1.450 0 1 0 0)" d="M56.1 1570.9v49.3M57 1567.7v55.7M58 1558.1v68.4M58.9 1573.6v56.1M59.9 1564v68.8M60.8 1522.5v113.6M61.8 1525.4v113.9M62.8 1483.1v159.6M63.8 1531.2v114.7"/></g>
<g stroke="#3ab0c8" stroke-width="1"><path transform="matrix(1.916 0.529 0 1 0 0)" d="M113.9 1331.7v102.2M116.6 1319.9v114M119.9 1371.1v62.5M123 1393.7v39.8M125.9 1399.3v34.2M129 1422v11.4M131.8 1416.2v17.2"/><path transform="matrix(2.039 0.563 0 1 0 0)" d="M146.2 1421.6v11.7M152 1427.4v5.9"/><path transform="matrix(2.166 0.598 0 1 0 0)" d="M151.3 1409.5v23.9M154.1 1409.4v24M159.7 1409.3v24.1M162.6 1415.2v18.1M174.2 1402.7v30.6"/><path transform="matrix(2.305 0.637 0 1 0 0)" d="M166.4 1384.1v49.3M169.2 1377.7v55.7M172 1365v68.4M174.9 1377.3v56.1M177.8 1364.5v68.8M180.7 1319.7v113.6M183.6 1319.3v113.9M186.6 1273.6v159.6M189.5 1318.5v114.7"/></g>
<g stroke="#58c4d8" stroke-width="1"><path transform="matrix(1.916 0.529 6.734 -1.205 0 0)" d="M1640.3 -434h1M1629.47 -430.15h1M1691.48 -446.85h1M1720.45 -454.23h1M1729.74 -456.04h1M1758.82 -463.45h1M1755.06 -461.57h1"/><path transform="matrix(2.039 0.563 6.804 -1.282 0 0)" d="M1646.56 -449.22h1M1658.48 -451.06h1"/><path transform="matrix(2.166 0.598 6.865 -1.362 0 0)" d="M1522.12 -432.13h1M1524.83 -432.11h1M1530.32 -432.06h1M1538.99 -433.89h1M1538.38 -430.04h1"/><path transform="matrix(2.305 0.637 6.921 -1.450 0 0)" d="M1402.25 -411.3h1M1399.34 -409.4h1M1390.81 -405.62h1M1404.65 -409.28h1M1396.09 -405.48h1M1359.02 -392.16h1M1361.58 -392.04h1M1323.77 -378.45h1M1366.75 -391.8h1"/></g>
<path stroke="#58bcd0" stroke-width="1.4" d="M259 1504.6l5.4 -1M264.6 1506.1l5.4 -1M270.2 1507.6l5.4 -1M275.9 1509.2l5.4 -1M281.6 1510.8l5.4 -1M287.3 1512.4l5.4 -1M293.1 1513.9l5.4 -1M304.7 1517.2l5.4 -1M316.6 1520.4l5.5 -1M322.5 1522.1l5.5 -1.1M340.7 1527.1l5.5 -1.1M359.2 1532.2l5.5 -1.1M365.4 1533.9l5.5 -1.1M371.7 1535.6l5.5 -1.1"/>
<g stroke="#3c2090" stroke-width="1"><path transform="matrix(6.771 -1.212 0 1 0 0)" d="M31.7 1402.2v131.3M32.8 1479.4v56.8M33.5 1458.6v80M34.4 1495.5v45.7M35.1 1474.7v68.9M36.1 1523.3v22.9M36.9 1537.3v11.5M38.6 1548.1v5.8"/><path transform="matrix(6.842 -1.289 0 1 0 0)" d="M39.8 1544.2v17.4M40.6 1552.6v11.7M42.3 1563.8v5.9M44 1551.4v23.6M46.6 1577.4v6"/><path transform="matrix(6.905 -1.370 0 1 0 0)" d="M48 1580.3v12M49.7 1592v6M54.2 1594.5v18.4"/><path transform="matrix(6.962 -1.458 0 1 0 0)" d="M54.7 1601.7v18.5M55.6 1586.2v37.1M56.6 1513.7v112.7M57.5 1541.9v87.7M58.5 1538.5v94.4M59.4 1522.2v113.9M60.4 1512.2v127.1M61.4 1508.6v134M62.4 1504.9v141"/></g>
<g stroke="#5a32c0" stroke-width="1"><path transform="matrix(1.913 0.532 0 1 0 0)" d="M110 1305.6v131.3M113.6 1379.6v56.8M116.2 1356.6v80M119.4 1390.7v45.7M122 1367.6v68.9M125.3 1413.3v22.9M128.3 1424.7v11.5M134.1 1430.4v5.8"/><path transform="matrix(2.036 0.566 0 1 0 0)" d="M131.5 1418.7v17.4M134.4 1424.5v11.7M140.1 1430.3v5.9M145.7 1412.5v23.6M154.5 1430.2v6"/><path transform="matrix(2.163 0.602 0 1 0 0)" d="M150.9 1424.1v12M156.6 1430.1v6M171 1417.7v18.4"/><path transform="matrix(2.303 0.640 0 1 0 0)" d="M163.4 1417.7v18.5M166.2 1399v37.1M169 1323.4v112.7M171.8 1348.4v87.7M174.7 1341.7v94.4M177.6 1322.2v113.9M180.5 1308.9v127.1M183.5 1302v134M186.5 1295v141"/></g>
<g stroke="#7050d0" stroke-width="1"><path transform="matrix(1.913 0.532 6.771 -1.212 0 0)" d="M1602.4 -421.41h1M1690.68 -445.34h1M1666.92 -437.9h1M1709.09 -448.92h1M1685.31 -441.45h1M1740.89 -456.23h1M1756.88 -459.91h1M1769.23 -461.74h1"/><path transform="matrix(2.036 0.566 6.842 -1.289 0 0)" d="M1624.68 -443.99h1M1633.58 -445.8h1M1645.33 -447.61h1M1632.29 -442.06h1M1659.65 -447.58h1"/><path transform="matrix(2.163 0.602 6.905 -1.370 0 0)" d="M1532.05 -432.38h1M1543.48 -434.19h1M1545.88 -430.43h1"/><path transform="matrix(2.303 0.640 6.962 -1.458 0 0)" d="M1425.53 -417.17h1M1411.68 -411.67h1M1347.15 -389.41h1M1372.26 -396.76h1M1369.19 -394.8h1M1354.71 -389.05h1M1345.8 -385.14h1M1342.58 -383.09h1M1339.32 -381.03h1"/></g>
<path stroke="#7351c9" stroke-width="1.4" d="M251.9 1505.8l5.4 -1M263.1 1509l5.4 -1M280.1 1513.7l5.5 -1M291.7 1516.9l5.5 -1M303.4 1520.2l5.5 -1M309.3 1521.8l5.5 -1.1M321.3 1525.1l5.5 -1.1M333.4 1528.5l5.5 -1.1M345.7 1531.9l5.5 -1.1M351.9 1533.6l5.5 -1.1M358.1 1535.4l5.5 -1.1M364.4 1537.1l5.5 -1.1"/>
<g stroke="#4a8a14" stroke-width="1"><path transform="matrix(6.807 -1.218 0 1 0 0)" d="M30.6 1419.3v114.2M31.3 1403.9v132M32.3 1487.3v51.4M33 1454.8v86.2M33.9 1497.7v45.9M34.8 1523.3v23M35.6 1537.3v11.5M36.4 1528.2v23.1M37.3 1542.3v11.6"/><path transform="matrix(6.880 -1.297 0 1 0 0)" d="M38.5 1549.9v11.7M39.4 1552.6v11.7M41.9 1560.5v11.8M44.4 1556.7v23.9M45.3 1571.4v11.9"/><path transform="matrix(6.945 -1.378 0 1 0 0)" d="M49.3 1582.8v18.2M50.2 1585.7v18.3M52.9 1606.8v6.1"/><path transform="matrix(7.004 -1.467 0 1 0 0)" d="M53.4 1601.6v18.5M54.3 1604.7v18.6M55.2 1538.7v87.7M56.1 1522.6v107.1M57 1474v158.8M58 1476.7v159.4M59 1524.7v114.6M59.9 1495.2v147.4M60.9 1524.1v121.9"/></g>
<g stroke="#80c820" stroke-width="1"><path transform="matrix(1.911 0.535 0 1 0 0)" d="M106.6 1325.4v114.2M109.2 1307.7v132M112.9 1387.9v51.4M115.4 1353.2v86.2M118.6 1393.3v45.9M121.7 1416.1v23M124.7 1427.5v11.5M127.5 1415.9v23.1M130.5 1427.4v11.6"/><path transform="matrix(2.033 0.569 0 1 0 0)" d="M128.2 1427.3v11.7M131 1427.3v11.7M139.5 1427.2v11.8M148.1 1415.2v23.9M151.1 1427v11.9"/><path transform="matrix(2.161 0.605 0 1 0 0)" d="M156.2 1420.7v18.2M159.1 1420.7v18.3M167.8 1432.8v6.1"/><path transform="matrix(2.301 0.644 0 1 0 0)" d="M160.4 1420.4v18.5M163.2 1420.4v18.6M165.9 1351.3v87.7M168.8 1331.9v107.1M171.6 1280.1v158.8M174.5 1279.6v159.4M177.5 1324.3v114.6M180.4 1291.5v147.4M183.4 1317v121.9"/></g>
<g stroke="#98d840" stroke-width="1"><path transform="matrix(1.911 0.535 6.807 -1.218 0 0)" d="M1617.52 -423.7h1M1599.96 -418.04h1M1695.09 -443.7h1M1658.05 -432.61h1M1707 -445.43h1M1736.11 -452.74h1M1752.1 -456.39h1M1741.72 -452.69h1M1757.83 -456.36h1"/><path transform="matrix(2.033 0.569 6.880 -1.297 0 0)" d="M1626.22 -442.36h1M1628.97 -442.35h1M1637.33 -442.31h1M1633.3 -438.58h1M1648.75 -442.27h1"/><path transform="matrix(2.161 0.605 6.945 -1.378 0 0)" d="M1530.06 -427.14h1M1532.87 -427.12h1M1553.34 -430.76h1"/><path transform="matrix(2.301 0.644 7.004 -1.467 0 0)" d="M1421.22 -413.87h1M1423.95 -413.85h1M1365.37 -393.7h1M1351 -388.05h1M1307.86 -372.94h1M1310.27 -372.77h1M1352.94 -385.83h1M1326.71 -376.24h1M1352.34 -383.69h1"/></g>
<path stroke="#93d041" stroke-width="1.4" d="M255.9 1510.3l5.5 -1M272.9 1515l5.5 -1M278.7 1516.6l5.5 -1M290.3 1519.9l5.5 -1M296.2 1521.5l5.5 -1M314 1526.5l5.5 -1.1M320 1528.2l5.5 -1.1M326.1 1529.9l5.5 -1.1M332.2 1531.6l5.5 -1.1M350.8 1536.8l5.6 -1.1M357.1 1538.6l5.6 -1.1"/>
<g stroke="#7a1a2e" stroke-width="1"><path transform="matrix(6.844 -1.225 0 1 0 0)" d="M29.4 1448v85.6M30.4 1496.3v39.9M31.2 1515.9v22.8M32 1518.4v22.9M32.8 1520.8v23M33.6 1529v17.3M35.2 1528.1v23.2"/><path transform="matrix(6.919 -1.304 0 1 0 0)" d="M37.3 1538.1v23.4M38.1 1558.4v5.9M40.6 1554.6v17.8M41.4 1551.3v23.8M43.1 1574.6v6"/><path transform="matrix(6.985 -1.386 0 1 0 0)" d="M44.4 1565.2v24.1M45.3 1574.1v18.1M47.1 1585.9v12.1M48.8 1573.3v30.6M49.7 1551.5v55.4M50.6 1572.9v37M51.4 1500.7v112.2"/><path transform="matrix(7.045 -1.476 0 1 0 0)" d="M51.9 1520.1v100M52.8 1471.9v151.3M53.8 1455.2v171.1M54.7 1457.9v171.7M55.6 1467v165.8M56.6 1476.2v159.8M57.5 1492v147.4M58.5 1553.2v89.4M59.5 1556.2v89.7"/></g>
<g stroke="#a8203c" stroke-width="1"><path transform="matrix(1.908 0.538 0 1 0 0)" d="M103.3 1356.7v85.6M106.6 1402.2v39.9M109.6 1419.1v22.8M112.4 1419v22.9M115.3 1419v23M118.2 1424.6v17.3M123.9 1418.7v23.2"/><path transform="matrix(2.031 0.573 0 1 0 0)" d="M124.7 1418.5v23.4M127.7 1436v5.9M136.1 1424.1v17.8M138.9 1418.1v23.8M144.8 1435.9v6"/><path transform="matrix(2.158 0.609 0 1 0 0)" d="M141.7 1417.8v24.1M144.5 1423.8v18.1M150.2 1429.7v12.1M155.8 1411.3v30.6M158.6 1386.5v55.4M161.6 1404.9v37M164.4 1329.7v112.2"/><path transform="matrix(2.298 0.648 0 1 0 0)" d="M157.2 1342v100M159.9 1290.7v151.3M162.7 1270.8v171.1M165.6 1270.2v171.7M168.5 1276.1v165.8M171.4 1282v159.8M174.4 1294.5v147.4M177.3 1352.4v89.4M180.3 1352v89.7"/></g>
<g stroke="#bc3a54" stroke-width="1"><path transform="matrix(1.908 0.538 6.844 -1.225 0 0)" d="M1645.75 -429.54h1M1700.77 -443.95h1M1723.06 -449.33h1M1725.8 -449.3h1M1728.56 -449.28h1M1737.92 -451.08h1M1736.94 -449.21h1"/><path transform="matrix(2.031 0.573 6.919 -1.304 0 0)" d="M1609.3 -435.34h1M1630.51 -440.71h1M1626.5 -437.06h1M1623.06 -435.22h1M1647.52 -440.67h1"/><path transform="matrix(2.158 0.609 6.985 -1.386 0 0)" d="M1508.73 -422.06h1M1517.29 -423.84h1M1528.69 -425.61h1M1516.56 -420.11h1M1495.49 -412.73h1M1516.19 -418.21h1M1446.46 -395.81h1"/><path transform="matrix(2.298 0.648 7.045 -1.476 0 0)" d="M1344.79 -387.1h1M1302.12 -372.29h1M1287.37 -366.56h1M1289.7 -366.38h1M1297.8 -368.07h1M1305.95 -369.78h1M1319.91 -373.38h1M1374.11 -390.1h1M1376.77 -390h1"/></g>
<path stroke="#b54159" stroke-width="1.4" d="M232 1506.9l5.5 -1M243.1 1510l5.5 -1M248.7 1511.6l5.5 -1M265.7 1516.4l5.5 -1M271.4 1518l5.5 -1M288.9 1522.9l5.5 -1.1M300.7 1526.3l5.6 -1.1M318.8 1531.4l5.6 -1.1M331 1534.8l5.6 -1.1"/>
<g stroke="#1c44a0" stroke-width="1"><path transform="matrix(6.882 -1.232 0 1 0 0)" d="M28.4 1516.8v17M30.8 1535.6v5.7M33.2 1543.1v5.8M34.7 1530.6v23.3"/><path transform="matrix(6.958 -1.311 0 1 0 0)" d="M36.8 1558.3v5.9M39.3 1548.5v23.8M41.8 1562.6v18"/><path transform="matrix(7.025 -1.394 0 1 0 0)" d="M43.2 1583.3v6M44 1580.1v12.1M44.8 1564.7v30.4M45.7 1561.4v36.6M46.6 1551.9v49M47.4 1517.4v86.4M48.2 1444.4v162.4M49 1356.6v253.1M50 1449.4v163.5"/><path transform="matrix(7.088 -1.485 0 1 0 0)" d="M50.6 1487.9v132M51.5 1516.2v106.9M52.4 1441.7v184.6M53.3 1457.3v172.2M54.3 1499v133.8M55.2 1553.4v82.7M56.2 1588.5v50.9M57.1 1617.2v25.4M58 1633.2v12.7"/></g>
<g stroke="#2e64d0" stroke-width="1"><path transform="matrix(1.905 0.541 0 1 0 0)" d="M100.5 1427.8v17M109 1439v5.7M117.6 1439v5.8M123.2 1421.5v23.3"/><path transform="matrix(2.028 0.576 0 1 0 0)" d="M124.2 1438.9v5.9M132.6 1421.1v23.8M141.3 1426.8v18"/><path transform="matrix(2.156 0.612 0 1 0 0)" d="M138.5 1438.7v6M141.3 1432.7v12.1M144 1414.4v30.4M146.8 1408.2v36.6M149.6 1395.8v49M152.4 1358.5v86.4M155 1282.7v162.4M157.7 1192.1v253.1M160.9 1281.5v163.5"/><path transform="matrix(2.296 0.652 0 1 0 0)" d="M154 1312.9v132M156.9 1337.9v106.9M159.6 1260.3v184.6M162.5 1272.7v172.2M165.4 1311v133.8M168.4 1362.1v82.7M171.3 1393.9v50.9M174.2 1419.3v25.4M177.1 1432v12.7"/></g>
<g stroke="#4a7ee0" stroke-width="1"><path transform="matrix(1.905 0.541 6.882 -1.232 0 0)" d="M1719.35 -447.68h1M1740.64 -451.21h1M1749.14 -451.19h1M1735 -445.72h1"/><path transform="matrix(2.028 0.576 6.958 -1.311 0 0)" d="M1625.89 -437.27h1M1615.65 -431.85h1M1630.36 -433.6h1"/><path transform="matrix(2.156 0.612 7.025 -1.394 0 0)" d="M1521.73 -424.06h1M1518.67 -422.27h1M1503.84 -416.89h1M1500.68 -415.06h1M1491.55 -411.4h1M1458.39 -400.38h1M1388.15 -378.02h1M1303.73 -351.3h1M1392.96 -377.68h1"/><path transform="matrix(2.296 0.652 7.088 -1.485 0 0)" d="M1312.4 -374.92h1M1337.36 -382.08h1M1271.59 -359.9h1M1285.38 -363.42h1M1322.13 -374.38h1M1370.18 -388.99h1M1401.15 -398.08h1M1426.5 -405.34h1M1440.64 -408.97h1"/></g>
<path stroke="#4d7bd7" stroke-width="1.4" d="M197.7 1500.5l5.5 -1M203 1502l5.5 -1M213.8 1505.1l5.5 -1M219.3 1506.7l5.5 -1M230.2 1509.8l5.5 -1M241.4 1512.9l5.5 -1M247 1514.5l5.5 -1M258.4 1517.7l5.6 -1M264.1 1519.4l5.6 -1M275.7 1522.7l5.6 -1.1M281.5 1524.3l5.6 -1.1M293.4 1527.7l5.6 -1.1"/>
<g stroke="#b05a10" stroke-width="1"><path transform="matrix(6.919 -1.238 0 1 0 0)" d="M27.2 1516.7v17.1M30.4 1532.2v11.5M32.7 1539.8v11.6M33.5 1536.4v17.5"/><path transform="matrix(6.997 -1.319 0 1 0 0)" d="M35.6 1546.5v17.7M37.2 1551.8v17.8M38 1554.5v17.9M41.4 1577.4v6"/><path transform="matrix(7.066 -1.402 0 1 0 0)" d="M41.8 1571.1v18.1M42.7 1567.8v24.3M43.5 1552.3v42.7M44.3 1536.6v61.3M45.2 1502v98.9M46 1504.6v99.2M46.9 1443.9v162.8M47.7 1388.4v221.3M48.6 1371.2v241.6"/><path transform="matrix(7.130 -1.494 0 1 0 0)" d="M49.2 1493.9v126M50 1419v204M51 1428.1v198.1M51.9 1515.1v114.4M52.9 1511.5v121.3M53.8 1572.4v63.6M54.8 1581.9v57.4M55.7 1597.9v44.8M56.6 1626.8v19.2"/></g>
<g stroke="#e8781e" stroke-width="1"><path transform="matrix(1.901 0.544 0 1 0 0)" d="M96.8 1430.7v17.1M108.1 1436.2v11.5M116.8 1436.1v11.6M119.6 1430.2v17.5"/><path transform="matrix(2.025 0.579 0 1 0 0)" d="M120.7 1430.1v17.7M126.3 1429.9v17.8M129.2 1429.9v17.9M140.8 1441.7v6"/><path transform="matrix(2.153 0.616 0 1 0 0)" d="M135.2 1429.6v18.1M137.9 1423.5v24.3M140.7 1405.1v42.7M143.4 1386.5v61.3M146.1 1349.1v98.9M149 1348.7v99.2M151.7 1285.2v162.8M154.4 1226.8v221.3M157.4 1206.6v241.6"/><path transform="matrix(2.294 0.656 0 1 0 0)" d="M150.9 1321.9v126M153.5 1244v204M156.4 1249.8v198.1M159.4 1333.4v114.4M162.3 1326.5v121.3M165.3 1384.1v63.6M168.2 1390.3v57.4M171.1 1402.9v44.8M174.1 1428.5v19.2"/></g>
<g stroke="#f09040" stroke-width="1"><path transform="matrix(1.901 0.544 6.919 -1.238 0 0)" d="M1714.57 -444.21h1M1732.13 -445.93h1M1740.63 -445.89h1M1736.87 -444.07h1"/><path transform="matrix(2.025 0.579 6.997 -1.319 0 0)" d="M1608.96 -430.31h1M1614.48 -430.27h1M1617.27 -430.26h1M1641.19 -433.8h1"/><path transform="matrix(2.153 0.616 7.066 -1.402 0 0)" d="M1505.63 -417.18h1M1502.52 -415.39h1M1487.61 -410.02h1M1472.54 -404.59h1M1439.34 -393.65h1M1441.9 -393.55h1M1383.67 -375h1M1330.44 -357.94h1M1313.92 -352.02h1"/><path transform="matrix(2.294 0.656 7.130 -1.494 0 0)" d="M1313.72 -373.7h1M1247.82 -351.66h1M1255.79 -353.3h1M1332.39 -376.96h1M1329.22 -375.02h1M1382.83 -391.31h1M1391.19 -393.06h1M1405.26 -396.65h1M1430.69 -403.88h1"/></g>
<path stroke="#eb8c40" stroke-width="1.4" d="M190.4 1501.8l5.5 -1M195.8 1503.3l5.5 -1M201.1 1504.9l5.5 -1M212 1508l5.5 -1M217.4 1509.5l5.5 -1M234.1 1514.3l5.6 -1M239.7 1515.9l5.6 -1M251 1519.1l5.6 -1M268.3 1524.1l5.6 -1.1M274.2 1525.7l5.6 -1.1M280.1 1527.4l5.6 -1.1"/>
<g stroke="#23849a" stroke-width="1"><path transform="matrix(6.957 -1.245 0 1 0 0)" d="M26.1 1522.4v11.4M27.6 1533v5.7M29.1 1526.4v17.3M29.9 1528.9v17.4M32.3 1530.5v23.4M33.1 1550.7v5.9"/><path transform="matrix(7.037 -1.326 0 1 0 0)" d="M37.6 1569.1v6"/><path transform="matrix(7.108 -1.410 0 1 0 0)" d="M40.5 1564.9v24.3M41.4 1573.9v18.2M42.2 1564.5v30.6M42.9 1473.9v123.8M43.9 1514.2v86.6M44.8 1542v61.9M45.4 1385.4v221.2M46.4 1400.7v209M47.2 1324.4v288.3"/><path transform="matrix(7.173 -1.503 0 1 0 0)" d="M47.7 1350.2v269.4M48.7 1398.7v224.2M49.7 1556.8v69.5M50.5 1436.6v192.8M51.5 1485.1v147.6M52.4 1546.5v89.6M53.4 1575.3v64M54.3 1597.8v44.9M55.3 1620.4v25.7"/></g>
<g stroke="#3ab0c8" stroke-width="1"><path transform="matrix(1.898 0.547 0 1 0 0)" d="M93.2 1439.3v11.4M98.9 1445v5.7M104.4 1433.4v17.3M107.2 1433.4v17.4M115.9 1427.4v23.4M119 1444.8v5.9"/><path transform="matrix(2.022 0.582 0 1 0 0)" d="M128.7 1444.7v6"/><path transform="matrix(2.150 0.619 0 1 0 0)" d="M131.9 1426.5v24.3M134.7 1432.5v18.2M137.4 1420.2v30.6M139.8 1327.2v123.8M142.8 1364.3v86.6M145.8 1388.9v61.9M148.1 1230v221.2M151.1 1242.2v209M153.8 1163v288.3"/><path transform="matrix(2.291 0.660 0 1 0 0)" d="M147.3 1181.7v269.4M150.3 1226.8v224.2M153.5 1381.2v69.5M156.1 1258.1v192.8M159.1 1303.2v147.6M162.1 1361.1v89.6M165 1386.7v64M168 1405.8v44.9M170.9 1425v25.7"/></g>
<g stroke="#58c4d8" stroke-width="1"><path transform="matrix(1.898 0.547 6.957 -1.245 0 0)" d="M1716.28 -442.5h1M1728.29 -444.24h1M1720.8 -440.69h1M1723.6 -440.67h1M1725.45 -438.82h1M1748.26 -444.2h1"/><path transform="matrix(2.022 0.582 7.037 -1.326 0 0)" d="M1627.93 -430.41h1"/><path transform="matrix(2.150 0.619 7.108 -1.410 0 0)" d="M1495.34 -412.11h1M1503.9 -413.84h1M1494.92 -410.29h1M1408.34 -383.39h1M1446.86 -394.12h1M1473.41 -401.24h1M1323.75 -355.29h1M1338.38 -358.81h1M1265.34 -335.89h1"/><path transform="matrix(2.291 0.660 7.173 -1.503 0 0)" d="M1183.67 -330.66h1M1226.24 -343.3h1M1364.94 -386.56h1M1259.48 -352.06h1M1302.06 -364.7h1M1355.88 -380.94h1M1381.22 -388.09h1M1400.94 -393.45h1M1420.73 -398.82h1"/></g>
<path stroke="#58bcd0" stroke-width="1.4" d="M183.2 1503.1l5.5 -1M193.8 1506.2l5.6 -1M210.1 1510.8l5.6 -1M215.6 1512.4l5.6 -1M232.3 1517.2l5.6 -1M238 1518.9l5.6 -1M243.6 1520.5l5.6 -1M249.4 1522.1l5.6 -1.1M255.1 1523.8l5.6 -1.1M266.8 1527.1l5.6 -1.1M272.6 1528.8l5.6 -1.1M278.5 1530.5l5.7 -1.1"/>
<g stroke="#3c2090" stroke-width="1"><path transform="matrix(6.996 -1.252 0 1 0 0)" d="M24.8 1510.8v22.9M25.7 1530.5v5.7M26.4 1521.4v17.3M27.9 1526.3v17.4M28.7 1534.7v11.6M31 1530.5v23.5"/><path transform="matrix(7.077 -1.334 0 1 0 0)" d="M33.1 1552.3v11.8M33.9 1549v17.8M36.3 1551v24M37.2 1571.9v6M38 1568.6v12.1M38.8 1553.1v30.3"/><path transform="matrix(7.149 -1.418 0 1 0 0)" d="M39.1 1503.2v85.7M40 1530.7v61.3M40.8 1489.8v105M41.6 1448.2v149.4M42.4 1425.2v175.4M43.3 1427.6v176M44.1 1352.2v254.4M45 1393.6v216.1M46 1454.5v158.4"/><path transform="matrix(7.217 -1.512 0 1 0 0)" d="M46.3 1329.4v290.1M47.4 1489.4v133.6M48.3 1472.6v153.5M49.2 1553.1v76.4M50.1 1549.7v83.1M51.1 1617v19.1M52 1613.8v25.6M52.9 1623.5v19.2M53.9 1633.2v12.9"/></g>
<g stroke="#5a32c0" stroke-width="1"><path transform="matrix(1.895 0.550 0 1 0 0)" d="M89.3 1430.9v22.9M92.4 1448v5.7M95 1436.5v17.3M100.7 1436.4v17.4M103.6 1442.1v11.6M112.2 1430.3v23.5"/><path transform="matrix(2.019 0.586 0 1 0 0)" d="M113.8 1441.9v11.8M116.5 1435.9v17.8M125 1429.8v24M128 1447.7v6M130.9 1441.7v12.1M133.7 1423.5v30.3"/><path transform="matrix(2.147 0.623 0 1 0 0)" d="M128.1 1368.3v85.7M131.1 1392.6v61.3M133.7 1349.1v105M136.3 1304.8v149.4M139 1278.8v175.4M142 1278.2v176M144.5 1200v254.4M147.7 1238.2v216.1M150.9 1295.7v158.4"/><path transform="matrix(2.288 0.664 0 1 0 0)" d="M144 1164.2v290.1M147.3 1320.4v133.6M150.1 1300.4v153.5M153.2 1377.4v76.4M156 1370.7v83.1M159.1 1434.6v19.1M161.9 1428.1v25.6M164.9 1434.5v19.2M167.8 1440.8v12.9"/></g>
<g stroke="#7050d0" stroke-width="1"><path transform="matrix(1.895 0.550 6.996 -1.252 0 0)" d="M1698.54 -435.58h1M1720.74 -440.77h1M1710.49 -437.28h1M1716.03 -437.25h1M1725.4 -438.99h1M1720.67 -435.39h1"/><path transform="matrix(2.019 0.586 7.077 -1.334 0 0)" d="M1605.89 -425.29h1M1602.48 -423.53h1M1604.59 -421.71h1M1626.18 -427h1M1622.79 -425.22h1M1606.75 -419.85h1"/><path transform="matrix(2.147 0.623 7.149 -1.418 0 0)" d="M1432.18 -391.3h1M1458.36 -398.27h1M1419.37 -385.8h1M1379.75 -373.11h1M1357.8 -365.69h1M1360.12 -365.51h1M1288.15 -343.12h1M1327.69 -354.05h1M1385.69 -370.5h1"/><path transform="matrix(2.288 0.664 7.217 -1.512 0 0)" d="M1161.9 -322.44h1M1301.86 -365.75h1M1287.23 -360.23h1M1357.63 -381.58h1M1354.62 -379.72h1M1413.51 -397.44h1M1410.73 -395.65h1M1419.19 -397.41h1M1427.7 -399.17h1"/></g>
<path stroke="#7351c9" stroke-width="1.4" d="M186.5 1507.5l5.6 -1M202.7 1512.2l5.6 -1M208.2 1513.8l5.6 -1M219.3 1517l5.6 -1M224.9 1518.6l5.6 -1M241.9 1523.5l5.7 -1.1M247.7 1525.2l5.7 -1.1"/>
<g stroke="#4a8a14" stroke-width="1"><path transform="matrix(7.034 -1.259 0 1 0 0)" d="M25.2 1533v5.8M29 1533.8v17.6M29.8 1530.4v23.6"/><path transform="matrix(7.117 -1.341 0 1 0 0)" d="M32.7 1554.9v11.9M34.2 1554.3v18M35 1544.9v30.1M35.7 1492.5v85.1M36.5 1482.7v97.7M37.4 1516.2v67.2"/><path transform="matrix(7.191 -1.427 0 1 0 0)" d="M37.6 1402.4v186.2M38.6 1480.6v111.2M39.2 1323.2v271.1M40 1305.7v291.6M41.1 1411.8v188.7M41.8 1342.7v260.8M42.8 1390.7v215.9M43.6 1366.8v242.8M44.5 1382.2v230.5"/><path transform="matrix(7.260 -1.521 0 1 0 0)" d="M45 1361.7v257.7M46.1 1534.1v88.9M46.9 1504.7v121.5M47.9 1565.8v63.7M48.8 1613.7v19.1M49.7 1617v19.2M51.6 1623.5v19.3"/></g>
<g stroke="#80c820" stroke-width="1"><path transform="matrix(1.892 0.553 0 1 0 0)" d="M91.4 1451v5.8M105.6 1439.3v17.6M108.4 1433.4v23.6"/><path transform="matrix(2.016 0.589 0 1 0 0)" d="M113 1444.9v11.9M118.7 1438.9v18M121.4 1426.8v30.1M123.9 1372v85.1M126.7 1359.5v97.7M129.9 1389.9v67.2"/><path transform="matrix(2.144 0.627 0 1 0 0)" d="M124.1 1271.3v186.2M127.4 1346v111.2M129.3 1186.7v271.1M132 1166.2v291.6M135.6 1268.7v188.7M138.1 1196.9v260.8M141.3 1241.5v215.9M144.1 1214.6v242.8M147.2 1226.9v230.5"/><path transform="matrix(2.286 0.668 0 1 0 0)" d="M140.8 1199.7v257.7M144.3 1368.1v88.9M147 1335.6v121.5M150 1393.1v63.7M153 1437.7v19.1M155.9 1437.6v19.2M161.7 1437.5v19.3"/></g>
<g stroke="#98d840" stroke-width="1"><path transform="matrix(1.892 0.553 7.034 -1.259 0 0)" d="M1718.74 -437.31h1M1719.69 -433.76h1M1715.9 -431.98h1"/><path transform="matrix(2.016 0.589 7.117 -1.341 0 0)" d="M1604.05 -421.91h1M1603.42 -420.14h1M1593.72 -416.61h1M1539.65 -400.6h1M1529.51 -396.93h1M1564.07 -405.81h1"/><path transform="matrix(2.144 0.627 7.191 -1.427 0 0)" d="M1332.15 -359.86h1M1406.47 -381.03h1M1256.88 -335.88h1M1240.2 -330.07h1M1341.11 -359.11h1M1275.35 -338.75h1M1320.98 -351.4h1M1298.29 -343.79h1M1312.97 -347.25h1"/><path transform="matrix(2.286 0.668 7.260 -1.521 0 0)" d="M1186.62 -328.88h1M1336.94 -375.12h1M1311.3 -366.19h1M1364.55 -382h1M1406.39 -394.24h1M1409.2 -394.22h1M1414.88 -394.18h1"/></g>
<path stroke="#93d041" stroke-width="1.4" d="M163.2 1504.1l5.6 -1M168.5 1505.7l5.6 -1M179.1 1508.8l5.6 -1M184.5 1510.3l5.6 -1M189.9 1511.9l5.6 -1M195.3 1513.5l5.6 -1M211.9 1518.3l5.7 -1M217.5 1520l5.7 -1M223.1 1521.6l5.7 -1.1M234.5 1524.9l5.7 -1.1M363.7 1562.7l5.8 -1.2M377.1 1566.6l5.8 -1.3"/>
<g stroke="#7a1a2e" stroke-width="1"><path transform="matrix(7.073 -1.266 0 1 0 0)" d="M24 1521.3v17.4M24.8 1535.4v5.8M26.3 1528.7v17.5M27 1531.3v17.6M29.4 1538.9v17.8"/><path transform="matrix(7.157 -1.349 0 1 0 0)" d="M30.6 1540.2v23.8M31.4 1542.8v23.9M32.2 1551.5v18M33 1542.1v30.1M33.7 1502.1v72.8M34.5 1504.6v73.1M35.2 1451.3v129.1M35.9 1403.3v179.8"/><path transform="matrix(7.233 -1.435 0 1 0 0)" d="M36.5 1452.5v136.2M37.2 1384.9v206.5M37.9 1341.9v252.4M38.9 1434.5v163M39.7 1372.4v228.1M40.4 1289v314.3M41.5 1409.6v197M42.4 1463.9v145.9M43.3 1485.9v127"/><path transform="matrix(7.304 -1.530 0 1 0 0)" d="M43.8 1505.1v114.5M44.8 1585v38M45.7 1581.8v44.5M46.6 1610.5v19.1M50.2 1623.4v19.3M51.1 1633.2v12.9"/></g>
<g stroke="#a8203c" stroke-width="1"><path transform="matrix(1.889 0.556 0 1 0 0)" d="M87.5 1442.6v17.4M90.5 1454.1v5.8M96 1442.5v17.5M98.9 1442.4v17.6M107.6 1442.2v17.8"/><path transform="matrix(2.012 0.592 0 1 0 0)" d="M106.5 1436.2v23.8M109.4 1436.1v23.9M112.2 1442v18M115 1429.9v30.1M117.5 1387.4v72.8M120.4 1387.2v73.1M122.8 1331.5v129.1M125.4 1280.9v179.8"/><path transform="matrix(2.141 0.630 0 1 0 0)" d="M121 1324.3v136.2M123.4 1254.3v206.5M125.9 1208.6v252.4M129.4 1297.5v163M131.9 1232.7v228.1M134.3 1146.7v314.3M137.9 1263.5v197M141.2 1314.5v145.9M144.2 1333.3v127"/><path transform="matrix(2.283 0.672 0 1 0 0)" d="M138.2 1345.7v114.5M141.3 1422v38M144.1 1415.5v44.5M147 1440.8v19.1M158.5 1440.6v19.3M161.4 1447v12.9"/></g>
<g stroke="#bc3a54" stroke-width="1"><path transform="matrix(1.889 0.556 7.073 -1.266 0 0)" d="M1700.94 -430.43h1M1716.76 -433.86h1M1709.27 -430.38h1M1712.08 -430.36h1M1720.63 -430.31h1"/><path transform="matrix(2.012 0.592 7.157 -1.349 0 0)" d="M1584.33 -415.12h1M1587.06 -415.1h1M1596.02 -416.81h1M1586.34 -413.31h1M1545.08 -401.01h1M1547.73 -400.94h1M1492.82 -384.81h1M1443.39 -370.2h1"/><path transform="matrix(2.141 0.630 7.233 -1.435 0 0)" d="M1375.73 -371.06h1M1311.68 -351.41h1M1270.92 -338.58h1M1358.7 -363.54h1M1299.77 -345.35h1M1220.72 -321.23h1M1335.04 -354h1M1386.57 -368.3h1M1407.42 -373.57h1"/><path transform="matrix(2.283 0.672 7.304 -1.530 0 0)" d="M1307.71 -365.17h1M1377.19 -385.92h1M1374.32 -384.15h1M1399.29 -391.04h1M1410.57 -390.96h1M1419.08 -392.7h1"/></g>
<path stroke="#b54159" stroke-width="1.4" d="M155.8 1505.4l5.6 -1M161.1 1507l5.6 -1M177 1511.7l5.7 -1M193.3 1516.5l5.7 -1M198.9 1518.1l5.7 -1M210 1521.3l5.7 -1M342.9 1560.4l5.8 -1.2M349.5 1562.4l5.8 -1.2M356 1564.3l5.9 -1.2"/>
<g stroke="#1c44a0" stroke-width="1"><path transform="matrix(7.112 -1.273 0 1 0 0)" d="M22.1 1518.8v17.4M25.1 1528.7v17.6M28.2 1538.9v17.8"/><path transform="matrix(7.198 -1.357 0 1 0 0)" d="M29.4 1540.1v23.9M30.2 1548.8v18M31 1551.5v18M31.7 1517.7v54.5M32.4 1508v66.9M33.2 1498.2v79.4M33.8 1394.1v186M34.5 1358v224.9"/><path transform="matrix(7.276 -1.444 0 1 0 0)" d="M35 1343.4v244.9M35.7 1326v265.2M36.6 1308.4v285.7M37.5 1382.4v215M38.3 1332.3v267.9M39.1 1314.6v288.7M40.2 1422v184.6M41.1 1431v178.7M42 1505v108"/><path transform="matrix(7.349 -1.539 0 1 0 0)" d="M42.6 1569.1v50.7M43.5 1597.7v25.4M44.4 1581.6v44.6M45.3 1610.4v19.1"/></g>
<g stroke="#2e64d0" stroke-width="1"><path transform="matrix(1.885 0.559 0 1 0 0)" d="M80.9 1445.8v17.4M92.2 1445.6v17.6M103.8 1445.4v17.8"/><path transform="matrix(2.009 0.596 0 1 0 0)" d="M103 1439.3v23.9M105.8 1445.2v18M108.7 1445.1v18M111.2 1408.9v54.5M113.9 1396.5v66.9M116.7 1384.1v79.4M118.7 1278v186M121.4 1239.3v224.9"/><path transform="matrix(2.138 0.634 0 1 0 0)" d="M116.7 1219.3v244.9M119.5 1199.1v265.2M122.2 1178.6v285.7M125.6 1249v215M128.2 1196.2v267.9M131 1175.5v288.7M134.5 1279.1v184.6M137.5 1285v178.7M140.9 1355.4v108"/><path transform="matrix(2.280 0.676 0 1 0 0)" d="M135.2 1412.5v50.7M138.1 1437.8v25.4M140.8 1418.5v44.6M143.8 1444v19.1"/></g>
<g stroke="#4a7ee0" stroke-width="1"><path transform="matrix(1.885 0.559 7.112 -1.273 0 0)" d="M1693.43 -427.04h1M1704.49 -426.97h1M1715.86 -426.9h1"/><path transform="matrix(2.009 0.596 7.198 -1.357 0 0)" d="M1579.72 -411.8h1M1588.64 -413.49h1M1591.4 -413.47h1M1556.69 -403.08h1M1546.78 -399.55h1M1536.77 -395.97h1M1429.92 -365.59h1M1392.85 -354.51h1"/><path transform="matrix(2.138 0.634 7.276 -1.444 0 0)" d="M1268.53 -338.1h1M1252.12 -332.48h1M1235.52 -326.8h1M1305.43 -346.34h1M1258.11 -331.68h1M1241.37 -325.93h1M1342.88 -354.71h1M1351.38 -356.33h1M1421.26 -375.88h1"/><path transform="matrix(2.280 0.676 7.349 -1.539 0 0)" d="M1359.15 -379.38h1M1383.94 -386.17h1M1370.01 -381h1M1394.98 -387.84h1"/></g>
<path stroke="#4d7bd7" stroke-width="1.4" d="M148.4 1506.7l5.7 -1M158.9 1509.8l5.7 -1M164.2 1511.4l5.7 -1M169.6 1513l5.7 -1M180.4 1516.2l5.7 -1M185.8 1517.8l5.7 -1M191.3 1519.4l5.7 -1M202.4 1522.7l5.7 -1.1M335.2 1562.1l5.9 -1.2M341.7 1564l5.9 -1.2M348.3 1566l5.9 -1.2M354.9 1567.9l5.9 -1.3M361.6 1569.9l5.9 -1.3"/>
<g stroke="#b05a10" stroke-width="1"><path transform="matrix(7.152 -1.280 0 1 0 0)" d="M20.1 1504.6v29M21.7 1527v11.6"/><path transform="matrix(7.240 -1.364 0 1 0 0)" d="M29 1554.8v12M29.7 1551.4v18.1M30.4 1511.4v60.8M31.2 1501.6v73.2M31.9 1466.9v110.7M32.4 1336v244M33.2 1357.4v225.5"/><path transform="matrix(7.319 -1.452 0 1 0 0)" d="M33.6 1316.6v271.6M34.5 1331.7v259.5M35.4 1379.5v214.9M36.1 1329.4v267.8M37.4 1531.9v68.9M38 1386.4v217.1M39 1467v139.8M39.9 1534v76M40.8 1562.5v50.7"/><path transform="matrix(7.394 -1.549 0 1 0 0)" d="M41.3 1588v31.7M42.2 1591.2v31.8M43 1587.9v38.3M43.9 1610.3v19.2M47.5 1623.4v19.5"/></g>
<g stroke="#e8781e" stroke-width="1"><path transform="matrix(1.882 0.562 0 1 0 0)" d="M74.1 1437.6v29M79.9 1454.7v11.6"/><path transform="matrix(2.006 0.599 0 1 0 0)" d="M102.3 1454.3v12M105 1448.3v18.1M107.5 1405.9v60.8M110.2 1393.5v73.2M112.8 1356.2v110.7M114.5 1223.6v244M117.6 1242v225.5"/><path transform="matrix(2.135 0.638 0 1 0 0)" d="M113 1196.1v271.6M116 1208.1v259.5M119.2 1252.4v214.9M121.7 1199.7v267.8M126 1397.7v68.9M127.9 1250.1v217.1M131.3 1327.1v139.8M134.7 1390.6v76M137.7 1415.8v50.7"/><path transform="matrix(2.277 0.680 0 1 0 0)" d="M132.1 1434.7v31.7M134.8 1434.6v31.8M137.6 1428v38.3M140.5 1447.1v19.2M152.1 1446.8v19.5"/></g>
<g stroke="#f09040" stroke-width="1"><path transform="matrix(1.882 0.562 7.152 -1.280 0 0)" d="M1672.95 -420.29h1M1697.91 -425.32h1"/><path transform="matrix(2.006 0.599 7.240 -1.364 0 0)" d="M1590.2 -411.86h1M1586.79 -410.15h1M1545.8 -398.12h1M1535.85 -394.6h1M1500.3 -384.04h1M1366.28 -346.44h1M1388.21 -351.64h1"/><path transform="matrix(2.135 0.638 7.319 -1.452 0 0)" d="M1239.53 -328.23h1M1253.79 -331.53h1M1298.8 -343.72h1M1251.62 -329.22h1M1442.45 -383.64h1M1305.33 -343.08h1M1381.26 -364.23h1M1444.45 -381.69h1M1471.27 -388.61h1"/><path transform="matrix(2.277 0.680 7.394 -1.549 0 0)" d="M1371.41 -381.33h1M1374.1 -381.3h1M1371.26 -379.56h1M1390.67 -384.64h1M1401.94 -384.57h1"/></g>
<path stroke="#eb8c40" stroke-width="1.4" d="M146.1 1509.6l5.7 -1M156.7 1512.7l5.7 -1M162.1 1514.3l5.7 -1M167.4 1515.9l5.7 -1M172.8 1517.6l5.7 -1M178.3 1519.2l5.7 -1M183.8 1520.8l5.7 -1M189.3 1522.5l5.8 -1.1M194.9 1524.1l5.8 -1.1M200.5 1525.8l5.8 -1.1M327.4 1563.7l5.9 -1.2M333.9 1565.6l5.9 -1.2M340.5 1567.6l5.9 -1.3M353.8 1571.6l5.9 -1.3"/>
<g stroke="#23849a" stroke-width="1"><path transform="matrix(7.192 -1.287 0 1 0 0)" d="M20.5 1527v11.7"/><path transform="matrix(7.281 -1.372 0 1 0 0)" d="M27.8 1554.7v12M28.5 1539.2v30.3M29.2 1517.3v54.8M30 1507.6v67.3M30.6 1441.5v136M31.2 1361v219M32.1 1427.3v155.9"/><path transform="matrix(7.363 -1.461 0 1 0 0)" d="M32.6 1419.3v169.1M33.2 1330.9v260.2M34 1333v261.1M35.1 1458.8v138.7M36.1 1512.6v88.1M36.9 1502.6v101.2M37.8 1531v75.9M38.6 1514.5v95.4M39.5 1562.4v50.8"/><path transform="matrix(7.439 -1.558 0 1 0 0)" d="M40 1562.2v57.4M40.9 1584.6v38.3M41.7 1600.6v25.6M42.6 1616.7v12.8M46.2 1636.4v6.5"/></g>
<g stroke="#3ab0c8" stroke-width="1"><path transform="matrix(1.878 0.565 0 1 0 0)" d="M76.1 1458v11.7"/><path transform="matrix(2.002 0.603 0 1 0 0)" d="M98.6 1457.6v12M101.3 1439.5v30.3M103.8 1415.1v54.8M106.6 1402.7v67.3M108.8 1334.4v136M111 1251.8v219M114.5 1314.5v155.9"/><path transform="matrix(2.132 0.641 0 1 0 0)" d="M110.3 1301.3v169.1M112.4 1210.7v260.2M115.3 1209.8v261.1M119.1 1331.5v138.7M122.4 1381.8v88.1M125.2 1368.8v101.2M128.3 1393.9v75.9M131.1 1374.5v95.4M134.3 1418.9v50.8"/><path transform="matrix(2.274 0.684 0 1 0 0)" d="M128.7 1412.3v57.4M131.5 1431.3v38.3M134.4 1444v25.6M137.3 1456.7v12.8M148.8 1463.1v6.5"/></g>
<g stroke="#58c4d8" stroke-width="1"><path transform="matrix(1.878 0.565 7.192 -1.287 0 0)" d="M1693.13 -421.93h1"/><path transform="matrix(2.002 0.603 7.281 -1.372 0 0)" d="M1585.59 -408.53h1M1569.75 -403.45h1M1547.46 -396.61h1M1537.54 -393.13h1M1470.05 -373.96h1M1387.96 -350.79h1M1455.54 -368.39h1"/><path transform="matrix(2.132 0.641 7.363 -1.461 0 0)" d="M1332.36 -353.45h1M1249.32 -328.8h1M1251.32 -328.55h1M1369.49 -361.65h1M1420.06 -375.35h1M1410.63 -371.81h1M1437.31 -378.64h1M1421.85 -373.35h1M1466.8 -385.44h1"/><path transform="matrix(2.274 0.684 7.439 -1.558 0 0)" d="M1344.99 -371.46h1M1364.26 -376.46h1M1378.05 -379.8h1M1391.9 -383.15h1M1408.87 -384.81h1"/></g>
<path stroke="#58bcd0" stroke-width="1.4" d="M133.4 1509.3l5.7 -1M138.6 1510.9l5.7 -1M149.2 1514.1l5.7 -1M154.5 1515.7l5.7 -1M159.9 1517.3l5.8 -1M165.3 1518.9l5.8 -1M170.7 1520.6l5.8 -1M176.2 1522.2l5.8 -1.1M181.7 1523.9l5.8 -1.1M187.2 1525.5l5.8 -1.1M192.8 1527.2l5.8 -1.1M319.6 1565.3l6 -1.2M326.1 1567.3l6 -1.3M332.7 1569.3l6 -1.3M346 1573.3l6 -1.3"/>
<g stroke="#3c2090" stroke-width="1"><path transform="matrix(7.232 -1.294 0 1 0 0)" d="M17.9 1521.9v11.6M21.5 1528.6v17.7M22.2 1507.2v41.6M23 1539.6v11.9M24.5 1544.8v12"/><path transform="matrix(7.324 -1.380 0 1 0 0)" d="M25 1549.2v12M25.8 1545.9v18.1M26.4 1512v54.6M27.2 1508.4v60.9M27.8 1455.1v116.8M28.4 1407.1v167.4M29.1 1358.3v218.9M30 1405.3v174.8M30.7 1356.1v226.8"/><path transform="matrix(7.407 -1.470 0 1 0 0)" d="M31.4 1438v150.5M32.3 1491.5v100.1M33 1442.9v151.5M34 1535v62.7M34.9 1569.5v31.4M35.8 1572.5v31.5M36.6 1569.1v37.9M37.4 1565.7v44.4M38.2 1555.8v57.4"/><path transform="matrix(7.485 -1.568 0 1 0 0)" d="M38.7 1574.9v44.7M39.5 1552.1v70.7M40.4 1600.5v25.7M41.3 1590.8v38.7M42.2 1626.4v6.4M44.8 1616.8v26.1"/></g>
<g stroke="#5a32c0" stroke-width="1"><path transform="matrix(1.874 0.568 0 1 0 0)" d="M66.6 1461.3v11.6M80.6 1455.3v17.7M83.1 1431.6v41.6M86.4 1461.1v11.9M92.3 1461v12"/><path transform="matrix(1.999 0.606 0 1 0 0)" d="M89.3 1460.9v12M92.1 1454.9v18.1M94.5 1418.7v54.6M97.2 1412.4v60.9M99.5 1356.9v116.8M101.8 1306.6v167.4M104.2 1255.4v218.9M107.6 1299.1v174.8M110.1 1247.4v226.8"/><path transform="matrix(2.128 0.645 0 1 0 0)" d="M107 1323.2v150.5M110.2 1373.3v100.1M112.6 1322.2v151.5M116.2 1410.4v62.7M119.3 1441.6v31.4M122.2 1441.5v31.5M125 1435.1v37.9M127.9 1428.6v44.4M130.8 1415.7v57.4"/><path transform="matrix(2.271 0.689 0 1 0 0)" d="M125.4 1428.3v44.7M128.1 1402.4v70.7M131.1 1447.3v25.7M133.9 1434.3v38.7M136.9 1466.4v6.4M145.5 1446.8v26.1"/></g>
<g stroke="#7050d0" stroke-width="1"><path transform="matrix(1.874 0.568 7.232 -1.294 0 0)" d="M1682.86 -418.57h1M1690.17 -416.83h1M1666.51 -410.04h1M1702.43 -418.49h1M1708.19 -418.47h1"/><path transform="matrix(1.999 0.606 7.324 -1.380 0 0)" d="M1575.46 -405.24h1M1572.04 -403.57h1M1537.53 -393.5h1M1533.92 -391.76h1M1479.68 -376.34h1M1430.85 -362.37h1M1381.14 -348.15h1M1429.04 -360.29h1M1378.93 -345.93h1"/><path transform="matrix(2.128 0.645 7.407 -1.470 0 0)" d="M1345.9 -355.66h1M1396.05 -369.14h1M1350.57 -355.38h1M1436.83 -379.14h1M1469.15 -387.53h1M1471.92 -387.5h1M1468.75 -385.77h1M1465.56 -384.03h1M1456.32 -380.55h1"/><path transform="matrix(2.271 0.689 7.485 -1.568 0 0)" d="M1351.75 -371.71h1M1332.16 -364.96h1M1373.74 -376.65h1M1365.35 -373.26h1M1395.96 -381.64h1M1387.69 -376.52h1"/></g>
<path stroke="#7351c9" stroke-width="1.4" d="M131 1512.2l5.8 -1M136.3 1513.8l5.8 -1M141.6 1515.4l5.8 -1M146.9 1517l5.8 -1M168.5 1523.6l5.8 -1.1M318.2 1568.9l6 -1.3M324.8 1570.9l6 -1.3M338 1575l6 -1.3"/>
<g stroke="#4a8a14" stroke-width="1"><path transform="matrix(7.273 -1.302 0 1 0 0)" d="M18.9 1535.3v5.9M19.6 1520v23.6M20.4 1534.5v11.8"/><path transform="matrix(7.366 -1.388 0 1 0 0)" d="M23.8 1543.1v18.1M24.5 1527.5v36.3M25.2 1511.8v54.7M25.8 1464.8v104.3M26.4 1417v154.7M27.2 1393.9v180.5M28 1408.9v168.4M28.9 1468.5v112M29.7 1471v112.3"/><path transform="matrix(7.451 -1.478 0 1 0 0)" d="M30.3 1520.1v68.5M31.1 1516.6v75.1M32 1544.7v50.1M32.9 1579.1v18.8M33.7 1582.1v18.8M34.5 1578.8v25.2M35.3 1549.8v57.1M36.1 1552.8v57.3M37 1587.8v25.5"/><path transform="matrix(7.531 -1.578 0 1 0 0)" d="M37.4 1581.2v38.4M38.3 1584.3v38.5M39.1 1606.9v19.3M40 1603.6v25.8M42.6 1626.5v13M43.5 1623.3v19.6"/></g>
<g stroke="#80c820" stroke-width="1"><path transform="matrix(1.871 0.572 0 1 0 0)" d="M71.1 1470.4v5.9M73.7 1452.8v23.6M76.7 1464.5v11.8"/><path transform="matrix(1.995 0.610 0 1 0 0)" d="M85.6 1458.3v18.1M88.1 1440.2v36.3M90.7 1421.9v54.7M93 1372.7v104.3M95.3 1322.6v154.7M97.9 1296.9v180.5M101 1308.9v168.4M104.5 1365v112M107.5 1364.6v112.3"/><path transform="matrix(2.125 0.649 0 1 0 0)" d="M104.2 1408.1v68.5M106.9 1401.6v75.1M109.9 1426.4v50.1M113 1457.5v18.8M115.9 1457.5v18.8M118.7 1451.1v25.2M121.4 1419.3v57.1M124.3 1419.1v57.3M127.4 1450.8v25.5"/><path transform="matrix(2.268 0.693 0 1 0 0)" d="M122.1 1438v38.4M124.9 1437.8v38.5M127.9 1457v19.3M130.7 1450.5v25.8M139.3 1463.2v13M142.2 1456.6v19.6"/></g>
<g stroke="#98d840" stroke-width="1"><path transform="matrix(1.871 0.572 7.273 -1.302 0 0)" d="M1692.89 -416.82h1M1676.04 -411.82h1M1691.97 -415.14h1"/><path transform="matrix(1.995 0.610 7.366 -1.388 0 0)" d="M1564.7 -400.3h1M1548.89 -395.32h1M1532.91 -390.29h1M1485.26 -376.77h1M1436.75 -363.01h1M1413.31 -355.95h1M1428.56 -359.25h1M1488.98 -374.65h1M1491.54 -374.54h1"/><path transform="matrix(2.125 0.649 7.451 -1.478 0 0)" d="M1418.64 -374.53h1M1415.31 -372.79h1M1441.55 -379.41h1M1473.71 -387.7h1M1476.5 -387.68h1M1473.39 -385.99h1M1446.37 -377.52h1M1449.1 -377.47h1M1481.87 -385.91h1"/><path transform="matrix(2.268 0.693 7.531 -1.578 0 0)" d="M1352.96 -370.26h1M1355.64 -370.22h1M1374.96 -375.16h1M1372.18 -373.48h1M1391.76 -376.77h1M1389.01 -375.07h1"/></g>
<path stroke="#93d041" stroke-width="1.4" d="M118.2 1512l5.8 -1M123.4 1513.6l5.8 -1M128.7 1515.2l5.8 -1M150 1521.7l5.8 -1.1M155.4 1523.3l5.8 -1.1M160.9 1525l5.8 -1.1M166.3 1526.7l5.9 -1.1M303.8 1568.6l6 -1.3M310.3 1570.6l6 -1.3M330.1 1576.7l6.1 -1.3"/>
<g stroke="#7a1a2e" stroke-width="1"><path transform="matrix(7.313 -1.309 0 1 0 0)" d="M17.7 1523.4v17.7M19.2 1540.4v5.9M20.7 1539.6v11.9M22.2 1544.8v12"/><path transform="matrix(7.409 -1.396 0 1 0 0)" d="M22.6 1543v18.1M23.3 1509v54.7M24 1505.4v61M24.5 1420.5v148.3M25.4 1460.7v111.2M26.1 1450.6v124.1M27.1 1515.9v61.8M27.8 1512.3v68.3M28.8 1558.9v24.8"/><path transform="matrix(7.496 -1.487 0 1 0 0)" d="M29.2 1570.2v18.6M30.9 1582.4v12.5M33.3 1591.4v12.6M34.1 1581.7v25.4M34.9 1578.3v31.9M35.7 1574.9v38.4"/><path transform="matrix(7.578 -1.587 0 1 0 0)" d="M36.1 1581v38.5M37 1603.6v19.3M37.9 1606.8v19.4M43 1633.2v13.2"/></g>
<g stroke="#a8203c" stroke-width="1"><path transform="matrix(1.867 0.575 0 1 0 0)" d="M67 1462.1v17.7M72.8 1473.7v5.9M78.5 1467.8v11.9M84.4 1467.7v12"/><path transform="matrix(1.992 0.613 0 1 0 0)" d="M81.8 1461.7v18.1M84.1 1425.4v54.7M86.9 1419.1v61M88.7 1332.4v148.3M92 1369.3v111.2M94.7 1356.4v124.1M98.4 1418.2v61.8M101.2 1411.8v68.3M104.6 1455v24.8"/><path transform="matrix(2.121 0.653 0 1 0 0)" d="M101.1 1461.1v18.6M106.7 1467.2v12.5M115.3 1467.1v12.6M118.1 1454.4v25.4M120.9 1447.9v31.9M123.8 1441.4v38.4"/><path transform="matrix(2.264 0.697 0 1 0 0)" d="M118.8 1441.3v38.5M121.7 1460.4v19.3M124.5 1460.4v19.4M141.8 1466.5v13.2"/></g>
<g stroke="#bc3a54" stroke-width="1"><path transform="matrix(1.867 0.575 7.313 -1.309 0 0)" d="M1675.05 -410.16h1M1693.76 -413.44h1M1692.88 -411.76h1M1698.64 -411.74h1"/><path transform="matrix(1.992 0.613 7.409 -1.396 0 0)" d="M1560.09 -397.03h1M1525.67 -387.15h1M1522.06 -385.44h1M1436.17 -361.87h1M1476.8 -371.9h1M1466.54 -368.4h1M1532.68 -385.21h1M1529.04 -383.46h1M1576.14 -395.21h1"/><path transform="matrix(2.121 0.653 7.496 -1.487 0 0)" d="M1461.01 -384.54h1M1472.34 -386.15h1M1480.76 -386.11h1M1471.73 -382.77h1M1468.59 -381.07h1M1465.42 -379.36h1"/><path transform="matrix(2.264 0.697 7.578 -1.587 0 0)" d="M1348.65 -367.16h1M1367.91 -372.04h1M1370.65 -372.02h1M1393.21 -373.59h1"/></g>
<path stroke="#b54159" stroke-width="1.4" d="M110.6 1513.3l5.8 -1M115.8 1514.9l5.8 -1M121 1516.5l5.8 -1M131.6 1519.8l5.8 -1M142.3 1523.1l5.9 -1.1M153.1 1526.4l5.9 -1.1M221.5 1547.4l6 -1.2M233.4 1551.1l6 -1.2M239.4 1553l6 -1.2M289.4 1568.3l6.1 -1.3M295.8 1570.3l6.1 -1.3M302.3 1572.3l6.1 -1.3M308.9 1574.3l6.1 -1.3M315.4 1576.3l6.1 -1.3"/>
<g stroke="#1c44a0" stroke-width="1"><path transform="matrix(7.355 -1.316 0 1 0 0)" d="M15.2 1530.2v5.9M15.9 1532.7v5.9M16.6 1535.2v5.9M17.3 1531.8v11.9M19.5 1533.6v18M21 1544.8v12.1"/><path transform="matrix(7.452 -1.404 0 1 0 0)" d="M21.4 1524.6v36.4M22.2 1533.4v30.4M22.8 1499.1v67.4M23.5 1501.6v67.6M24.4 1541.5v30.7M25.2 1544.3v30.8M26 1559.5v18.5M26.8 1568.5v12.4"/><path transform="matrix(7.541 -1.496 0 1 0 0)" d="M28 1563.8v24.9M28.8 1579.3v12.5M31.2 1594.7v6.3M32 1597.7v6.3M32.8 1594.4v12.7M33.6 1597.5v12.8M34.4 1581.3v32.1"/><path transform="matrix(7.625 -1.597 0 1 0 0)" d="M34.9 1600.3v19.3M35.7 1603.5v19.3M36.6 1619.7v6.5M37.4 1623v6.5M39.1 1610v26.2M40.8 1629.8v13.2"/></g>
<g stroke="#2e64d0" stroke-width="1"><path transform="matrix(1.863 0.578 0 1 0 0)" d="M57.5 1477.3v5.9M60.3 1477.3v5.9M63.1 1477.2v5.9M65.9 1471.3v11.9M74.4 1465.3v18M80.4 1471.1v12.1"/><path transform="matrix(1.988 0.617 0 1 0 0)" d="M77.8 1447v36.4M80.7 1453v30.4M83 1416.3v67.4M85.8 1416v67.6M89.2 1452.6v30.7M92 1452.5v30.8M95.1 1464.7v18.5M98.1 1470.8v12.4"/><path transform="matrix(2.118 0.657 0 1 0 0)" d="M97.5 1458.3v24.9M100.4 1470.7v12.5M108.9 1476.8v6.3M111.8 1476.8v6.3M114.6 1470.5v12.7M117.5 1470.4v12.8M120.3 1451.2v32.1"/><path transform="matrix(2.261 0.701 0 1 0 0)" d="M115.6 1463.9v19.3M118.3 1463.8v19.3M121.2 1476.7v6.5M124.1 1476.6v6.5M129.7 1457v26.2M135.5 1470v13.2"/></g>
<g stroke="#4a7ee0" stroke-width="1"><path transform="matrix(1.863 0.578 7.355 -1.316 0 0)" d="M1677.77 -410.1h1M1680.54 -410.09h1M1683.34 -410.09h1M1679.61 -408.45h1M1681.49 -406.76h1M1693.87 -408.39h1"/><path transform="matrix(1.988 0.617 7.452 -1.404 0 0)" d="M1537 -388.9h1M1545.85 -390.5h1M1511.2 -380.63h1M1513.81 -380.57h1M1554.03 -390.41h1M1556.8 -390.38h1M1572.13 -393.66h1M1581.25 -395.3h1"/><path transform="matrix(2.118 0.657 7.541 -1.496 0 0)" d="M1450.72 -379.73h1M1465.11 -382.95h1M1479.35 -384.55h1M1482.2 -384.55h1M1479.14 -382.89h1M1482.01 -382.88h1M1466.95 -377.87h1"/><path transform="matrix(2.261 0.701 7.625 -1.597 0 0)" d="M1360.87 -368.93h1M1363.59 -368.91h1M1377.39 -372.15h1M1380.2 -372.14h1M1369.11 -367.19h1M1386.01 -370.46h1"/></g>
<path stroke="#4d7bd7" stroke-width="1.4" d="M102.9 1514.7l5.8 -1M129.2 1522.8l5.9 -1.1M134.5 1524.5l5.9 -1.1M145.4 1527.8l5.9 -1.1M201.8 1545.3l6 -1.2M219.5 1550.8l6 -1.2M225.5 1552.7l6 -1.2M287.8 1572l6.1 -1.3M300.8 1576l6.1 -1.3M314 1580.1l6.1 -1.3"/>
<path d="M99.4 1514L89.5 1212.2" stroke="#c4ccd4" stroke-width="1.2" fill="none"/>
<path d="M99.4 1514h-6.5M98.4 1484.7h-6.5M97.5 1455.2h-6.5M96.5 1425.5h-6.5M95.5 1395.6h-6.5M94.5 1365.5h-6.5M93.5 1335.3h-6.5M92.5 1304.8h-6.5M91.5 1274.1h-6.5M90.5 1243.3h-6.5M89.5 1212.2h-6.5" stroke="#c4ccd4" stroke-width="1.2" fill="none"/>
<g font-size="17.6" text-anchor="end" fill="#1a1a1a"><text x="78.2" y="1520.3">0</text><text x="77.6" y="1491">5</text><text x="77" y="1461.5">10</text><text x="76.4" y="1431.8">15</text><text x="75.7" y="1401.9">20</text><text x="75.1" y="1371.8">25</text><text x="74.5" y="1341.6">30</text><text x="73.8" y="1311.1">35</text><text x="73.2" y="1280.4">40</text><text x="72.5" y="1249.6">45</text><text x="71.9" y="1218.5">50</text></g>
<text x="99.6" y="1545" font-size="17.6" text-anchor="middle" fill="#1a1a1a">-90</text>
<text x="136" y="1557" font-size="17.6" text-anchor="middle" fill="#1a1a1a">-60</text>
<text x="168.6" y="1568" font-size="17.6" text-anchor="middle" fill="#1a1a1a">-30</text>
<text x="201.6" y="1576" font-size="17.6" text-anchor="middle" fill="#1a1a1a">0</text>
<text x="237" y="1588" font-size="17.6" text-anchor="middle" fill="#1a1a1a">30</text>
<text x="269" y="1599.5" font-size="17.6" text-anchor="middle" fill="#1a1a1a">60</text>
<text x="306" y="1610.5" font-size="17.6" text-anchor="middle" fill="#1a1a1a">90</text>
<text x="341" y="1608" font-size="17.6" text-anchor="middle" fill="#1a1a1a">0</text>
<text x="457" y="1587" font-size="17.6" text-anchor="middle" fill="#1a1a1a">1/3</text>
<text x="567" y="1563" font-size="17.6" text-anchor="middle" fill="#1a1a1a">2/3</text>
<text x="681" y="1537" font-size="17.6" text-anchor="middle" fill="#1a1a1a">1</text></svg></body></html>
